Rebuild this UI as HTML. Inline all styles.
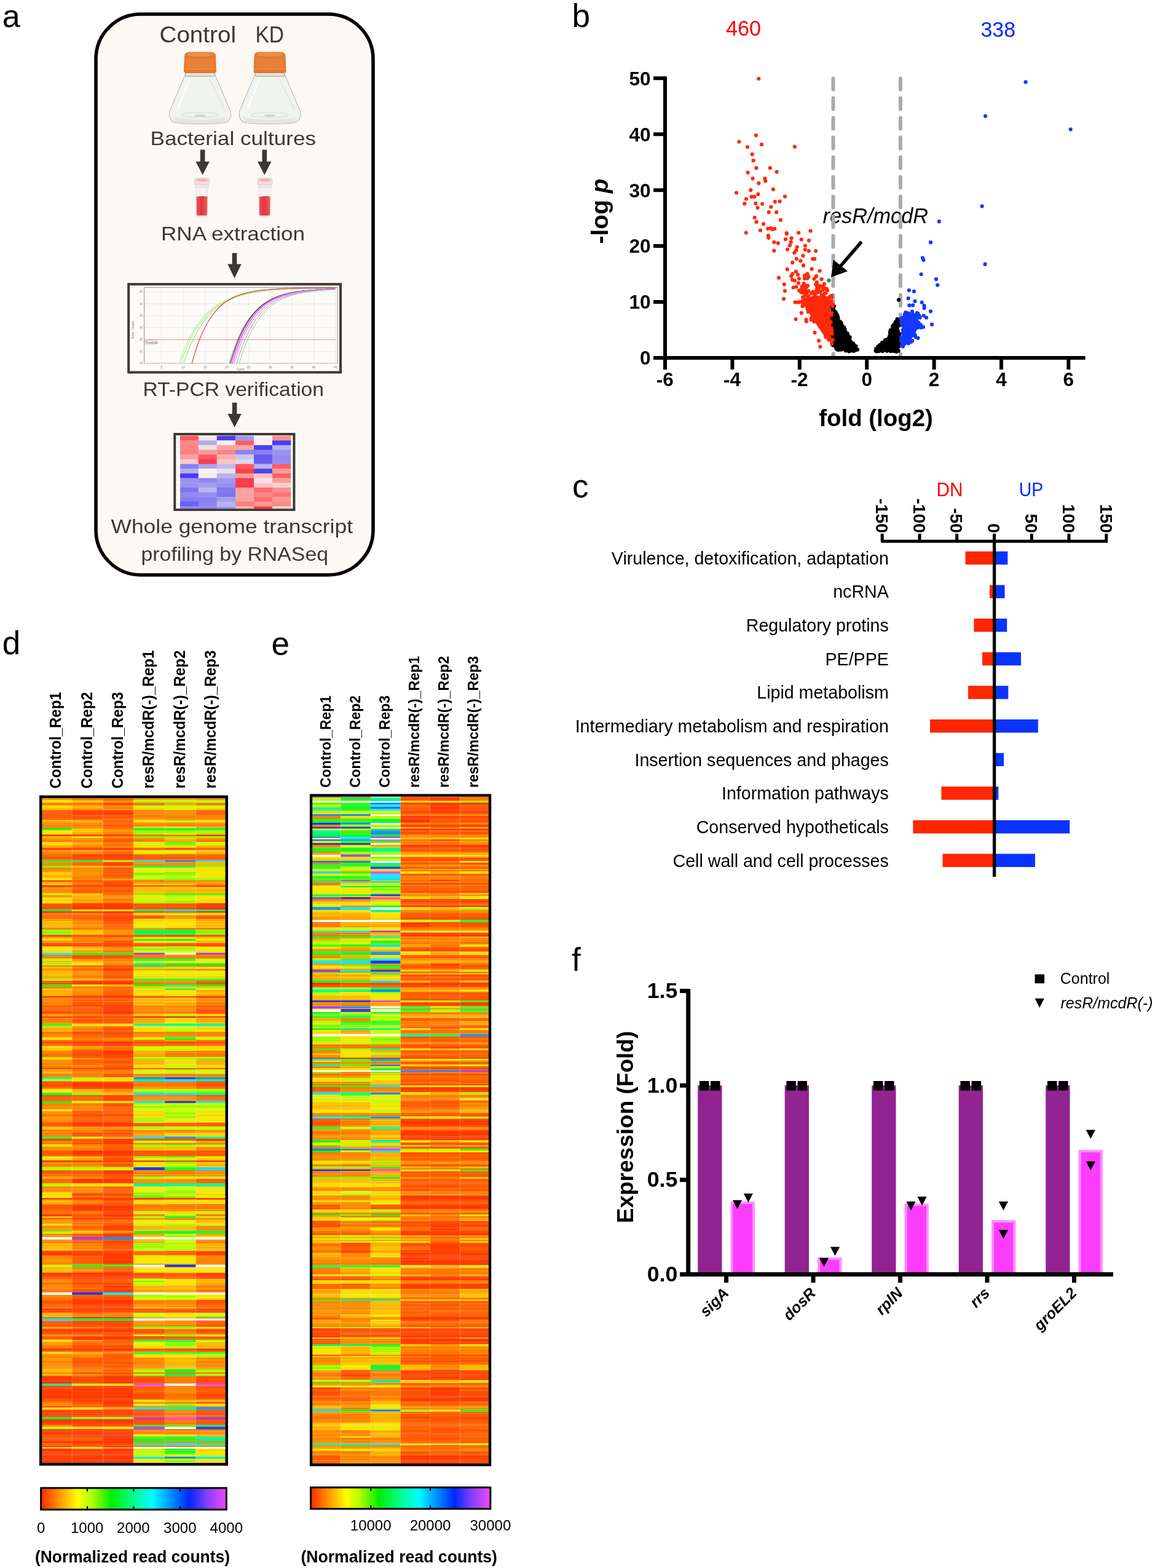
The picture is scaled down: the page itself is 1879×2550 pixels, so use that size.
<!DOCTYPE html><html><head><meta charset="utf-8"><title>Figure</title>
<style>html,body{margin:0;padding:0;background:#fff;}svg{display:block;}text{font-family:'Liberation Sans', Arial, sans-serif;}</style></head><body>
<svg width="1879" height="2550" viewBox="0 0 1879 2550">
<rect width="1879" height="2550" fill="#fff"/>
<text x="3.8" y="44" font-size="52" fill="#000">a</text>
<rect x="156" y="23" width="451" height="912" rx="73" ry="73" fill="#fcf8f3" stroke="#000" stroke-width="5.6"/>
<text x="259.5" y="69" font-size="36.5" fill="#3b3733" textLength="124.5" lengthAdjust="spacingAndGlyphs">Control</text>
<text x="415.5" y="69" font-size="36.5" fill="#3b3733" textLength="46.5" lengthAdjust="spacingAndGlyphs">KD</text>
<text x="244.5" y="236" font-size="30.5" fill="#3b3733" textLength="269.5" lengthAdjust="spacingAndGlyphs">Bacterial cultures</text>
<text x="262" y="390.6" font-size="30.5" fill="#3b3733" textLength="234" lengthAdjust="spacingAndGlyphs">RNA extraction</text>
<text x="232.5" y="644" font-size="30.5" fill="#3b3733" textLength="294.5" lengthAdjust="spacingAndGlyphs">RT-PCR verification</text>
<text x="180.5" y="867" font-size="31.5" fill="#3b3733" textLength="393.5" lengthAdjust="spacingAndGlyphs">Whole genome transcript</text>
<text x="229.5" y="912" font-size="31.5" fill="#3b3733" textLength="304.5" lengthAdjust="spacingAndGlyphs">profiling by RNASeq</text>
<path d="M325.8 243.6H333.4V262.7H340.8L329.6 284.5L318.4 262.7H325.8V262.7Z" fill="#3b3835"/>
<path d="M426.5 243.6H434.1V262.7H441.5L430.3 284.5L419.1 262.7H426.5V262.7Z" fill="#3b3835"/>
<path d="M377.7 411.5H385.3V429.5H392.7L381.5 452.5L370.3 429.5H377.7V429.5Z" fill="#3b3835"/>
<path d="M377.8 654.7H385.4V673H392.8L381.6 695L370.4 673H377.8V673Z" fill="#3b3835"/>
<g>
<path d="M301.5 121 L276 181 Q273.5 197 287.5 200 Q325.5 203 363.5 200 Q377.5 197 375 181 L349.5 121 Z" fill="#f1f3f1" stroke="#b4b8b4" stroke-width="1.1"/>
<path d="M281.5 190 Q325.5 199 369.5 190 L365.5 199 Q325.5 202 285.5 199 Z" fill="#e3e7e3"/>
<path d="M308.5 128 L289.5 176" stroke="#ffffff" stroke-width="2.5" opacity="0.9"/>
<path d="M340.5 128 L365.5 178" stroke="#d4d8d4" stroke-width="1" />
<ellipse cx="325.5" cy="187" rx="30" ry="4" fill="none" stroke="#d6dad6" stroke-width="1.2"/>
<ellipse cx="325.5" cy="188" rx="10" ry="2" fill="#d0d6d0"/>
<rect x="301.5" y="116" width="48" height="8" rx="2" fill="#e4e5e2" stroke="#8e8e8a" stroke-width="0.9"/>
<path d="M299 116 L300 91 Q300 84.5 308.5 84.5 L342.5 84.5 Q351 84.5 351 91 L352 116 Q352 119 347.5 119 L303.5 119 Q299 119 299 116 Z" fill="#e6782f"/>
<ellipse cx="325.5" cy="88.5" rx="22" ry="3.5" fill="#ee8c4a"/>
<line x1="304.5" y1="95" x2="304.5" y2="111" stroke="#f09a60" stroke-width="0.8" opacity="0.8"/>
<line x1="307.5" y1="95" x2="307.5" y2="111" stroke="#f09a60" stroke-width="0.8" opacity="0.8"/>
<line x1="310.5" y1="95" x2="310.5" y2="111" stroke="#f09a60" stroke-width="0.8" opacity="0.8"/>
<line x1="313.5" y1="95" x2="313.5" y2="111" stroke="#f09a60" stroke-width="0.8" opacity="0.8"/>
<line x1="316.5" y1="95" x2="316.5" y2="111" stroke="#f09a60" stroke-width="0.8" opacity="0.8"/>
<line x1="319.5" y1="95" x2="319.5" y2="111" stroke="#f09a60" stroke-width="0.8" opacity="0.8"/>
<line x1="322.5" y1="95" x2="322.5" y2="111" stroke="#f09a60" stroke-width="0.8" opacity="0.8"/>
<line x1="325.5" y1="95" x2="325.5" y2="111" stroke="#f09a60" stroke-width="0.8" opacity="0.8"/>
<line x1="328.5" y1="95" x2="328.5" y2="111" stroke="#f09a60" stroke-width="0.8" opacity="0.8"/>
<line x1="331.5" y1="95" x2="331.5" y2="111" stroke="#f09a60" stroke-width="0.8" opacity="0.8"/>
<line x1="334.5" y1="95" x2="334.5" y2="111" stroke="#f09a60" stroke-width="0.8" opacity="0.8"/>
<line x1="337.5" y1="95" x2="337.5" y2="111" stroke="#f09a60" stroke-width="0.8" opacity="0.8"/>
<line x1="340.5" y1="95" x2="340.5" y2="111" stroke="#f09a60" stroke-width="0.8" opacity="0.8"/>
<line x1="343.5" y1="95" x2="343.5" y2="111" stroke="#f09a60" stroke-width="0.8" opacity="0.8"/>
<line x1="346.5" y1="95" x2="346.5" y2="111" stroke="#f09a60" stroke-width="0.8" opacity="0.8"/>
<line x1="300.5" y1="112.5" x2="350.5" y2="112.5" stroke="#f4a470" stroke-width="0.8"/>
</g>
<g>
<path d="M415 121 L389.5 181 Q387 197 401 200 Q439 203 477 200 Q491 197 488.5 181 L463 121 Z" fill="#f1f3f1" stroke="#b4b8b4" stroke-width="1.1"/>
<path d="M395 190 Q439 199 483 190 L479 199 Q439 202 399 199 Z" fill="#e3e7e3"/>
<path d="M422 128 L403 176" stroke="#ffffff" stroke-width="2.5" opacity="0.9"/>
<path d="M454 128 L479 178" stroke="#d4d8d4" stroke-width="1" />
<ellipse cx="439" cy="187" rx="30" ry="4" fill="none" stroke="#d6dad6" stroke-width="1.2"/>
<ellipse cx="439" cy="188" rx="10" ry="2" fill="#d0d6d0"/>
<rect x="415" y="116" width="48" height="8" rx="2" fill="#e4e5e2" stroke="#8e8e8a" stroke-width="0.9"/>
<path d="M412.5 116 L413.5 91 Q413.5 84.5 422 84.5 L456 84.5 Q464.5 84.5 464.5 91 L465.5 116 Q465.5 119 461 119 L417 119 Q412.5 119 412.5 116 Z" fill="#e6782f"/>
<ellipse cx="439" cy="88.5" rx="22" ry="3.5" fill="#ee8c4a"/>
<line x1="418" y1="95" x2="418" y2="111" stroke="#f09a60" stroke-width="0.8" opacity="0.8"/>
<line x1="421" y1="95" x2="421" y2="111" stroke="#f09a60" stroke-width="0.8" opacity="0.8"/>
<line x1="424" y1="95" x2="424" y2="111" stroke="#f09a60" stroke-width="0.8" opacity="0.8"/>
<line x1="427" y1="95" x2="427" y2="111" stroke="#f09a60" stroke-width="0.8" opacity="0.8"/>
<line x1="430" y1="95" x2="430" y2="111" stroke="#f09a60" stroke-width="0.8" opacity="0.8"/>
<line x1="433" y1="95" x2="433" y2="111" stroke="#f09a60" stroke-width="0.8" opacity="0.8"/>
<line x1="436" y1="95" x2="436" y2="111" stroke="#f09a60" stroke-width="0.8" opacity="0.8"/>
<line x1="439" y1="95" x2="439" y2="111" stroke="#f09a60" stroke-width="0.8" opacity="0.8"/>
<line x1="442" y1="95" x2="442" y2="111" stroke="#f09a60" stroke-width="0.8" opacity="0.8"/>
<line x1="445" y1="95" x2="445" y2="111" stroke="#f09a60" stroke-width="0.8" opacity="0.8"/>
<line x1="448" y1="95" x2="448" y2="111" stroke="#f09a60" stroke-width="0.8" opacity="0.8"/>
<line x1="451" y1="95" x2="451" y2="111" stroke="#f09a60" stroke-width="0.8" opacity="0.8"/>
<line x1="454" y1="95" x2="454" y2="111" stroke="#f09a60" stroke-width="0.8" opacity="0.8"/>
<line x1="457" y1="95" x2="457" y2="111" stroke="#f09a60" stroke-width="0.8" opacity="0.8"/>
<line x1="460" y1="95" x2="460" y2="111" stroke="#f09a60" stroke-width="0.8" opacity="0.8"/>
<line x1="414" y1="112.5" x2="464" y2="112.5" stroke="#f4a470" stroke-width="0.8"/>
</g>
<path d="M318.8 303 H337.8 L337.3 350 Q337.3 352.5 334.8 352.5 H321.8 Q319.3 352.5 319.3 350 Z" fill="#f6f1f1" stroke="#e0d6d6" stroke-width="0.8"/>
<linearGradient id="tg328" x1="0" x2="1"><stop offset="0" stop-color="#ea5a46"/><stop offset="0.45" stop-color="#e03452"/><stop offset="0.75" stop-color="#e44a4a"/><stop offset="1" stop-color="#e46a4a"/></linearGradient>
<path d="M319.5 320 Q328.8 318.5 337.4 319.5 L337 349 Q336.8 350.5 334.8 350.5 H321.8 Q319.8 350.5 319.8 349 Z" fill="url(#tg328)"/>
<rect x="316.8" y="289.7" width="24" height="11" rx="3" fill="#efe0e0" stroke="#dcc4c6" stroke-width="0.8"/>
<ellipse cx="328.8" cy="293" rx="10" ry="2.2" fill="#eab2b6"/>
<rect x="317.8" y="300.5" width="22" height="4.5" fill="#eee6e6" stroke="#ddd0d0" stroke-width="0.6"/>
<path d="M421 303 H440 L439.5 350 Q439.5 352.5 437 352.5 H424 Q421.5 352.5 421.5 350 Z" fill="#f6f1f1" stroke="#e0d6d6" stroke-width="0.8"/>
<linearGradient id="tg431" x1="0" x2="1"><stop offset="0" stop-color="#ea5a46"/><stop offset="0.45" stop-color="#e03452"/><stop offset="0.75" stop-color="#e44a4a"/><stop offset="1" stop-color="#e46a4a"/></linearGradient>
<path d="M421.7 320 Q431 318.5 439.6 319.5 L439.2 349 Q439 350.5 437 350.5 H424 Q422 350.5 422 349 Z" fill="url(#tg431)"/>
<rect x="419" y="289.7" width="24" height="11" rx="3" fill="#efe0e0" stroke="#dcc4c6" stroke-width="0.8"/>
<ellipse cx="431" cy="293" rx="10" ry="2.2" fill="#eab2b6"/>
<rect x="420" y="300.5" width="22" height="4.5" fill="#eee6e6" stroke="#ddd0d0" stroke-width="0.6"/>
<rect x="209.2" y="462.2" width="344.8" height="143.3" fill="#fdfbf8" stroke="#3d3a36" stroke-width="4"/>
<rect x="234.6" y="467.3" width="314.5" height="123.4" fill="#fdfbf8" stroke="#8d8b88" stroke-width="1"/>
<line x1="262.7" y1="467.3" x2="262.7" y2="590.7" stroke="#e6e4e0" stroke-width="0.8"/>
<text x="262.7" y="599" font-size="5" fill="#777" text-anchor="middle">5</text>
<line x1="298.1" y1="467.3" x2="298.1" y2="590.7" stroke="#e6e4e0" stroke-width="0.8"/>
<text x="298.1" y="599" font-size="5" fill="#777" text-anchor="middle">10</text>
<line x1="333.5" y1="467.3" x2="333.5" y2="590.7" stroke="#e6e4e0" stroke-width="0.8"/>
<text x="333.5" y="599" font-size="5" fill="#777" text-anchor="middle">15</text>
<line x1="368.9" y1="467.3" x2="368.9" y2="590.7" stroke="#e6e4e0" stroke-width="0.8"/>
<text x="368.9" y="599" font-size="5" fill="#777" text-anchor="middle">20</text>
<line x1="404.3" y1="467.3" x2="404.3" y2="590.7" stroke="#e6e4e0" stroke-width="0.8"/>
<text x="404.3" y="599" font-size="5" fill="#777" text-anchor="middle">25</text>
<line x1="439.7" y1="467.3" x2="439.7" y2="590.7" stroke="#e6e4e0" stroke-width="0.8"/>
<text x="439.7" y="599" font-size="5" fill="#777" text-anchor="middle">30</text>
<line x1="475.1" y1="467.3" x2="475.1" y2="590.7" stroke="#e6e4e0" stroke-width="0.8"/>
<text x="475.1" y="599" font-size="5" fill="#777" text-anchor="middle">35</text>
<line x1="510.5" y1="467.3" x2="510.5" y2="590.7" stroke="#e6e4e0" stroke-width="0.8"/>
<text x="510.5" y="599" font-size="5" fill="#777" text-anchor="middle">40</text>
<line x1="545.9" y1="467.3" x2="545.9" y2="590.7" stroke="#e6e4e0" stroke-width="0.8"/>
<text x="545.9" y="599" font-size="5" fill="#777" text-anchor="middle">45</text>
<line x1="234.6" y1="474.9" x2="549.1" y2="474.9" stroke="#e6e4e0" stroke-width="0.8"/>
<text x="232" y="476.4" font-size="4.5" fill="#777" text-anchor="end">10</text>
<line x1="234.6" y1="494.2" x2="549.1" y2="494.2" stroke="#e6e4e0" stroke-width="0.8"/>
<text x="232" y="495.7" font-size="4.5" fill="#777" text-anchor="end">10</text>
<line x1="234.6" y1="513.5" x2="549.1" y2="513.5" stroke="#e6e4e0" stroke-width="0.8"/>
<text x="232" y="515" font-size="4.5" fill="#777" text-anchor="end">10</text>
<line x1="234.6" y1="532.8" x2="549.1" y2="532.8" stroke="#e6e4e0" stroke-width="0.8"/>
<text x="232" y="534.3" font-size="4.5" fill="#777" text-anchor="end">10</text>
<line x1="234.6" y1="552.1" x2="549.1" y2="552.1" stroke="#e6e4e0" stroke-width="0.8"/>
<text x="232" y="553.6" font-size="4.5" fill="#777" text-anchor="end">10</text>
<line x1="234.6" y1="571.4" x2="549.1" y2="571.4" stroke="#e6e4e0" stroke-width="0.8"/>
<text x="232" y="572.9" font-size="4.5" fill="#777" text-anchor="end">10</text>
<line x1="234.6" y1="590.7" x2="549.1" y2="590.7" stroke="#e6e4e0" stroke-width="0.8"/>
<text x="232" y="592.2" font-size="4.5" fill="#777" text-anchor="end">10</text>
<text x="385" y="602" font-size="5" fill="#777">Cycle</text>
<text transform="translate(218 536) rotate(-90)" font-size="5" fill="#777" text-anchor="middle">Norm. Fluoro.</text>
<line x1="234.6" y1="552.4" x2="546.1" y2="552.4" stroke="#f08a8a" stroke-width="0.9"/>
<rect x="235.5" y="553.5" width="19" height="6.5" fill="#f4f2ee" stroke="#bbb" stroke-width="0.5"/>
<text x="236.5" y="558.6" font-size="4.6" fill="#666">Threshold</text>
<path d="M290.7 590.7 L291 590.7 L292.8 585.6 L294.6 580.7 L296.3 576.1 L298.1 571.6 L299.9 567.3 L301.6 563.2 L303.4 559.2 L305.2 555.4 L306.9 551.8 L308.7 548.3 L310.5 545 L312.3 541.8 L314 538.8 L315.8 535.8 L317.6 533 L319.3 530.3 L321.1 527.7 L322.9 525.3 L324.6 522.9 L326.4 520.6 L328.2 518.5 L330 516.4 L331.7 514.4 L333.5 512.5 L335.3 510.6 L337 508.9 L338.8 507.2 L340.6 505.6 L342.4 504 L344.1 502.5 L345.9 501.1 L347.7 499.7 L349.4 498.4 L351.2 497.2 L353 496 L354.7 494.8 L356.5 493.7 L358.3 492.7 L360 491.7 L361.8 490.7 L363.6 489.8 L365.4 488.9 L367.1 488 L368.9 487.2 L370.7 486.4 L372.4 485.7 L374.2 484.9 L376 484.2 L377.8 483.6 L379.5 483 L381.3 482.3 L383.1 481.8 L384.8 481.2 L386.6 480.7 L388.4 480.2 L390.1 479.7 L391.9 479.2 L393.7 478.7 L395.4 478.3 L397.2 477.9 L399 477.5 L400.8 477.1 L402.5 476.7 L404.3 476.4 L406.1 476.1 L407.8 475.7 L409.6 475.4 L411.4 475.1 L413.1 474.9 L414.9 474.6 L416.7 474.3 L418.5 474.1 L420.2 473.8 L422 473.6 L423.8 473.4 L425.5 473.2 L427.3 473 L429.1 472.8 L430.9 472.6 L432.6 472.4 L434.4 472.3 L436.2 472.1 L437.9 471.9 L439.7 471.8 L441.5 471.6 L443.2 471.5 L445 471.4 L446.8 471.2 L448.5 471.1 L450.3 471 L452.1 470.9 L453.9 470.8 L455.6 470.7 L457.4 470.6 L459.2 470.5 L460.9 470.4 L462.7 470.3 L464.5 470.2 L466.2 470.2 L468 470.1 L469.8 470 L471.6 469.9 L473.3 469.9 L475.1 469.8 L476.9 469.7 L478.6 469.7 L480.4 469.6 L482.2 469.6 L483.9 469.5 L485.7 469.5 L487.5 469.4 L489.3 469.4 L491 469.3 L492.8 469.3 L494.6 469.3 L496.3 469.2 L498.1 469.2 L499.9 469.2 L501.6 469.1 L503.4 469.1 L505.2 469.1 L507 469 L508.7 469 L510.5 469 L512.3 468.9 L514 468.9 L515.8 468.9 L517.6 468.9 L519.3 468.8 L521.1 468.8 L522.9 468.8 L524.7 468.8 L526.4 468.8 L528.2 468.7 L530 468.7 L531.7 468.7 L533.5 468.7 L535.3 468.7 L537 468.7 L538.8 468.7 L540.6 468.6 L542.4 468.6 L544.1 468.6 L545.9 468.6" fill="none" stroke="#b6f0a0" stroke-width="1.1"/>
<path d="M293.5 590.7 L293.9 590.7 L295.6 585.6 L297.4 580.7 L299.2 576.1 L300.9 571.6 L302.7 567.3 L304.5 563.2 L306.2 559.2 L308 555.4 L309.8 551.8 L311.6 548.3 L313.3 545 L315.1 541.8 L316.9 538.8 L318.6 535.8 L320.4 533 L322.2 530.3 L323.9 527.7 L325.7 525.3 L327.5 522.9 L329.3 520.6 L331 518.5 L332.8 516.4 L334.6 514.4 L336.3 512.5 L338.1 510.6 L339.9 508.9 L341.6 507.2 L343.4 505.6 L345.2 504 L347 502.5 L348.7 501.1 L350.5 499.7 L352.3 498.4 L354 497.2 L355.8 496 L357.6 494.8 L359.3 493.7 L361.1 492.7 L362.9 491.7 L364.7 490.7 L366.4 489.8 L368.2 488.9 L370 488 L371.7 487.2 L373.5 486.4 L375.3 485.7 L377 484.9 L378.8 484.2 L380.6 483.6 L382.4 483 L384.1 482.3 L385.9 481.8 L387.7 481.2 L389.4 480.7 L391.2 480.2 L393 479.7 L394.7 479.2 L396.5 478.7 L398.3 478.3 L400.1 477.9 L401.8 477.5 L403.6 477.1 L405.4 476.7 L407.1 476.4 L408.9 476.1 L410.7 475.7 L412.4 475.4 L414.2 475.1 L416 474.9 L417.8 474.6 L419.5 474.3 L421.3 474.1 L423.1 473.8 L424.8 473.6 L426.6 473.4 L428.4 473.2 L430.1 473 L431.9 472.8 L433.7 472.6 L435.5 472.4 L437.2 472.3 L439 472.1 L440.8 471.9 L442.5 471.8 L444.3 471.6 L446.1 471.5 L447.8 471.4 L449.6 471.2 L451.4 471.1 L453.2 471 L454.9 470.9 L456.7 470.8 L458.5 470.7 L460.2 470.6 L462 470.5 L463.8 470.4 L465.5 470.3 L467.3 470.2 L469.1 470.2 L470.9 470.1 L472.6 470 L474.4 469.9 L476.2 469.9 L477.9 469.8 L479.7 469.7 L481.5 469.7 L483.2 469.6 L485 469.6 L486.8 469.5 L488.6 469.5 L490.3 469.4 L492.1 469.4 L493.9 469.3 L495.6 469.3 L497.4 469.3 L499.2 469.2 L500.9 469.2 L502.7 469.2 L504.5 469.1 L506.3 469.1 L508 469.1 L509.8 469 L511.6 469 L513.3 469 L515.1 468.9 L516.9 468.9 L518.6 468.9 L520.4 468.9 L522.2 468.8 L524 468.8 L525.7 468.8 L527.5 468.8 L529.3 468.8 L531 468.7 L532.8 468.7 L534.6 468.7 L536.3 468.7 L538.1 468.7 L539.9 468.7 L541.7 468.7 L543.4 468.6 L545.2 468.6" fill="none" stroke="#a4e88c" stroke-width="1.1"/>
<path d="M298.5 590.7 L298.8 590.7 L300.6 585.5 L302.3 580.4 L304.1 575.6 L305.9 571.1 L307.7 566.7 L309.4 562.4 L311.2 558.4 L313 554.6 L314.7 550.9 L316.5 547.3 L318.3 544 L320 540.7 L321.8 537.6 L323.6 534.7 L325.4 531.8 L327.1 529.1 L328.9 526.5 L330.7 524 L332.4 521.6 L334.2 519.3 L336 517.2 L337.7 515.1 L339.5 513.1 L341.3 511.2 L343.1 509.3 L344.8 507.6 L346.6 505.9 L348.4 504.3 L350.1 502.7 L351.9 501.3 L353.7 499.9 L355.4 498.5 L357.2 497.2 L359 496 L360.8 494.8 L362.5 493.7 L364.3 492.6 L366.1 491.5 L367.8 490.6 L369.6 489.6 L371.4 488.7 L373.1 487.8 L374.9 487 L376.7 486.2 L378.5 485.4 L380.2 484.7 L382 484 L383.8 483.3 L385.5 482.7 L387.3 482.1 L389.1 481.5 L390.8 480.9 L392.6 480.4 L394.4 479.9 L396.2 479.4 L397.9 478.9 L399.7 478.4 L401.5 478 L403.2 477.6 L405 477.2 L406.8 476.8 L408.5 476.5 L410.3 476.1 L412.1 475.8 L413.9 475.5 L415.6 475.2 L417.4 474.9 L419.2 474.6 L420.9 474.3 L422.7 474.1 L424.5 473.8 L426.2 473.6 L428 473.4 L429.8 473.1 L431.6 472.9 L433.3 472.7 L435.1 472.6 L436.9 472.4 L438.6 472.2 L440.4 472 L442.2 471.9 L443.9 471.7 L445.7 471.6 L447.5 471.4 L449.3 471.3 L451 471.2 L452.8 471.1 L454.6 470.9 L456.3 470.8 L458.1 470.7 L459.9 470.6 L461.6 470.5 L463.4 470.4 L465.2 470.3 L467 470.3 L468.7 470.2 L470.5 470.1 L472.3 470 L474 469.9 L475.8 469.9 L477.6 469.8 L479.3 469.7 L481.1 469.7 L482.9 469.6 L484.7 469.6 L486.4 469.5 L488.2 469.5 L490 469.4 L491.7 469.4 L493.5 469.3 L495.3 469.3 L497 469.2 L498.8 469.2 L500.6 469.2 L502.4 469.1 L504.1 469.1 L505.9 469.1 L507.7 469 L509.4 469 L511.2 469 L513 469 L514.7 468.9 L516.5 468.9 L518.3 468.9 L520.1 468.9 L521.8 468.8 L523.6 468.8 L525.4 468.8 L527.1 468.8 L528.9 468.8 L530.7 468.7 L532.4 468.7 L534.2 468.7 L536 468.7 L537.8 468.7 L539.5 468.7 L541.3 468.6 L543.1 468.6 L544.8 468.6" fill="none" stroke="#9ee486" stroke-width="1.2"/>
<path d="M311.9 590.7 L312.3 590.7 L314 584.3 L315.8 578.2 L317.6 572.4 L319.3 567 L321.1 561.8 L322.9 556.9 L324.6 552.2 L326.4 547.8 L328.2 543.6 L330 539.7 L331.7 535.9 L333.5 532.4 L335.3 529 L337 525.8 L338.8 522.8 L340.6 519.9 L342.4 517.2 L344.1 514.6 L345.9 512.2 L347.7 509.8 L349.4 507.7 L351.2 505.6 L353 503.6 L354.7 501.7 L356.5 500 L358.3 498.3 L360 496.7 L361.8 495.2 L363.6 493.8 L365.4 492.4 L367.1 491.1 L368.9 489.9 L370.7 488.8 L372.4 487.7 L374.2 486.7 L376 485.7 L377.8 484.8 L379.5 483.9 L381.3 483 L383.1 482.3 L384.8 481.5 L386.6 480.8 L388.4 480.1 L390.1 479.5 L391.9 478.9 L393.7 478.3 L395.4 477.8 L397.2 477.3 L399 476.8 L400.8 476.3 L402.5 475.9 L404.3 475.5 L406.1 475.1 L407.8 474.7 L409.6 474.3 L411.4 474 L413.1 473.7 L414.9 473.4 L416.7 473.1 L418.5 472.8 L420.2 472.6 L422 472.3 L423.8 472.1 L425.5 471.9 L427.3 471.7 L429.1 471.5 L430.9 471.3 L432.6 471.1 L434.4 471 L436.2 470.8 L437.9 470.7 L439.7 470.5 L441.5 470.4 L443.2 470.3 L445 470.1 L446.8 470 L448.5 469.9 L450.3 469.8 L452.1 469.7 L453.9 469.6 L455.6 469.5 L457.4 469.4 L459.2 469.4 L460.9 469.3 L462.7 469.2 L464.5 469.2 L466.2 469.1 L468 469 L469.8 469 L471.6 468.9 L473.3 468.9 L475.1 468.8 L476.9 468.8 L478.6 468.7 L480.4 468.7 L482.2 468.7 L483.9 468.6 L485.7 468.6 L487.5 468.6 L489.3 468.5 L491 468.5 L492.8 468.5 L494.6 468.4 L496.3 468.4 L498.1 468.4 L499.9 468.4 L501.6 468.3 L503.4 468.3 L505.2 468.3 L507 468.3 L508.7 468.3 L510.5 468.3 L512.3 468.2 L514 468.2 L515.8 468.2 L517.6 468.2 L519.3 468.2 L521.1 468.2 L522.9 468.2 L524.7 468.1 L526.4 468.1 L528.2 468.1 L530 468.1 L531.7 468.1 L533.5 468.1 L535.3 468.1 L537 468.1 L538.8 468.1 L540.6 468.1 L542.4 468.1 L544.1 468.1 L545.9 468.1" fill="none" stroke="#f03c3c" stroke-width="1.2"/>
<path d="M372.8 590.7 L373.1 590.7 L374.9 584.8 L376.7 579.1 L378.5 573.8 L380.2 568.7 L382 563.8 L383.8 559.2 L385.5 554.8 L387.3 550.6 L389.1 546.6 L390.8 542.9 L392.6 539.3 L394.4 535.8 L396.2 532.6 L397.9 529.5 L399.7 526.5 L401.5 523.7 L403.2 521.1 L405 518.5 L406.8 516.1 L408.5 513.8 L410.3 511.7 L412.1 509.6 L413.9 507.6 L415.6 505.7 L417.4 503.9 L419.2 502.2 L420.9 500.6 L422.7 499.1 L424.5 497.6 L426.2 496.2 L428 494.9 L429.8 493.7 L431.6 492.5 L433.3 491.3 L435.1 490.2 L436.9 489.2 L438.6 488.2 L440.4 487.3 L442.2 486.4 L443.9 485.6 L445.7 484.8 L447.5 484 L449.3 483.3 L451 482.6 L452.8 481.9 L454.6 481.3 L456.3 480.7 L458.1 480.1 L459.9 479.6 L461.6 479.1 L463.4 478.6 L465.2 478.1 L467 477.7 L468.7 477.3 L470.5 476.9 L472.3 476.5 L474 476.1 L475.8 475.8 L477.6 475.5 L479.3 475.2 L481.1 474.9 L482.9 474.6 L484.7 474.3 L486.4 474.1 L488.2 473.8 L490 473.6 L491.7 473.4 L493.5 473.2 L495.3 473 L497 472.8 L498.8 472.6 L500.6 472.4 L502.4 472.3 L504.1 472.1 L505.9 472 L507.7 471.8 L509.4 471.7 L511.2 471.6 L513 471.5 L514.7 471.3 L516.5 471.2 L518.3 471.1 L520.1 471 L521.8 470.9 L523.6 470.8 L525.4 470.8 L527.1 470.7 L528.9 470.6 L530.7 470.5 L532.4 470.5 L534.2 470.4 L536 470.3 L537.8 470.3 L539.5 470.2 L541.3 470.2 L543.1 470.1 L544.8 470.1" fill="none" stroke="#777777" stroke-width="1"/>
<path d="M374.9 590.7 L375.3 590.7 L377 584.6 L378.8 578.9 L380.6 573.4 L382.4 568.2 L384.1 563.2 L385.9 558.5 L387.7 554 L389.4 549.8 L391.2 545.8 L393 541.9 L394.7 538.3 L396.5 534.8 L398.3 531.6 L400.1 528.4 L401.8 525.5 L403.6 522.7 L405.4 520 L407.1 517.4 L408.9 515 L410.7 512.7 L412.4 510.6 L414.2 508.5 L416 506.5 L417.8 504.6 L419.5 502.9 L421.3 501.2 L423.1 499.6 L424.8 498.1 L426.6 496.6 L428.4 495.2 L430.1 493.9 L431.9 492.7 L433.7 491.5 L435.5 490.4 L437.2 489.3 L439 488.3 L440.8 487.4 L442.5 486.5 L444.3 485.6 L446.1 484.8 L447.8 484 L449.6 483.2 L451.4 482.5 L453.2 481.9 L454.9 481.2 L456.7 480.6 L458.5 480 L460.2 479.5 L462 479 L463.8 478.5 L465.5 478 L467.3 477.6 L469.1 477.1 L470.9 476.7 L472.6 476.4 L474.4 476 L476.2 475.7 L477.9 475.3 L479.7 475 L481.5 474.7 L483.2 474.4 L485 474.2 L486.8 473.9 L488.6 473.7 L490.3 473.5 L492.1 473.2 L493.9 473 L495.6 472.8 L497.4 472.7 L499.2 472.5 L500.9 472.3 L502.7 472.1 L504.5 472 L506.3 471.9 L508 471.7 L509.8 471.6 L511.6 471.5 L513.3 471.3 L515.1 471.2 L516.9 471.1 L518.6 471 L520.4 470.9 L522.2 470.8 L524 470.8 L525.7 470.7 L527.5 470.6 L529.3 470.5 L531 470.4 L532.8 470.4 L534.6 470.3 L536.3 470.3 L538.1 470.2 L539.9 470.1 L541.7 470.1 L543.4 470 L545.2 470" fill="none" stroke="#3c3c3c" stroke-width="1.3"/>
<path d="M377.8 590.7 L378.1 590.7 L379.9 584.6 L381.6 578.9 L383.4 573.4 L385.2 568.2 L387 563.2 L388.7 558.5 L390.5 554 L392.3 549.8 L394 545.8 L395.8 541.9 L397.6 538.3 L399.3 534.8 L401.1 531.6 L402.9 528.4 L404.7 525.5 L406.4 522.7 L408.2 520 L410 517.4 L411.7 515 L413.5 512.7 L415.3 510.6 L417 508.5 L418.8 506.5 L420.6 504.6 L422.4 502.9 L424.1 501.2 L425.9 499.6 L427.7 498.1 L429.4 496.6 L431.2 495.2 L433 493.9 L434.7 492.7 L436.5 491.5 L438.3 490.4 L440.1 489.3 L441.8 488.3 L443.6 487.4 L445.4 486.5 L447.1 485.6 L448.9 484.8 L450.7 484 L452.4 483.2 L454.2 482.5 L456 481.9 L457.8 481.2 L459.5 480.6 L461.3 480 L463.1 479.5 L464.8 479 L466.6 478.5 L468.4 478 L470.1 477.6 L471.9 477.1 L473.7 476.7 L475.5 476.4 L477.2 476 L479 475.7 L480.8 475.3 L482.5 475 L484.3 474.7 L486.1 474.4 L487.8 474.2 L489.6 473.9 L491.4 473.7 L493.2 473.5 L494.9 473.2 L496.7 473 L498.5 472.8 L500.2 472.7 L502 472.5 L503.8 472.3 L505.5 472.1 L507.3 472 L509.1 471.9 L510.9 471.7 L512.6 471.6 L514.4 471.5 L516.2 471.3 L517.9 471.2 L519.7 471.1 L521.5 471 L523.2 470.9 L525 470.8 L526.8 470.8 L528.6 470.7 L530.3 470.6 L532.1 470.5 L533.9 470.4 L535.6 470.4 L537.4 470.3 L539.2 470.3 L540.9 470.2 L542.7 470.1 L544.5 470.1" fill="none" stroke="#ff4cff" stroke-width="1.6"/>
<path d="M380.6 590.7 L380.9 590.7 L382.7 584.8 L384.5 579.1 L386.2 573.8 L388 568.7 L389.8 563.8 L391.6 559.2 L393.3 554.8 L395.1 550.6 L396.9 546.6 L398.6 542.9 L400.4 539.3 L402.2 535.8 L403.9 532.6 L405.7 529.5 L407.5 526.5 L409.3 523.7 L411 521.1 L412.8 518.5 L414.6 516.1 L416.3 513.8 L418.1 511.7 L419.9 509.6 L421.6 507.6 L423.4 505.7 L425.2 503.9 L427 502.2 L428.7 500.6 L430.5 499.1 L432.3 497.6 L434 496.2 L435.8 494.9 L437.6 493.7 L439.3 492.5 L441.1 491.3 L442.9 490.2 L444.7 489.2 L446.4 488.2 L448.2 487.3 L450 486.4 L451.7 485.6 L453.5 484.8 L455.3 484 L457 483.3 L458.8 482.6 L460.6 481.9 L462.4 481.3 L464.1 480.7 L465.9 480.1 L467.7 479.6 L469.4 479.1 L471.2 478.6 L473 478.1 L474.7 477.7 L476.5 477.3 L478.3 476.9 L480.1 476.5 L481.8 476.1 L483.6 475.8 L485.4 475.5 L487.1 475.2 L488.9 474.9 L490.7 474.6 L492.4 474.3 L494.2 474.1 L496 473.8 L497.8 473.6 L499.5 473.4 L501.3 473.2 L503.1 473 L504.8 472.8 L506.6 472.6 L508.4 472.4 L510.1 472.3 L511.9 472.1 L513.7 472 L515.5 471.8 L517.2 471.7 L519 471.6 L520.8 471.5 L522.5 471.3 L524.3 471.2 L526.1 471.1 L527.8 471 L529.6 470.9 L531.4 470.8 L533.2 470.8 L534.9 470.7 L536.7 470.6 L538.5 470.5 L540.2 470.5 L542 470.4 L543.8 470.3 L545.5 470.3" fill="none" stroke="#f07cf0" stroke-width="1.1"/>
<path d="M384.8 590.7 L385.2 590.7 L387 584.8 L388.7 579.2 L390.5 573.8 L392.3 568.7 L394 563.9 L395.8 559.3 L397.6 554.9 L399.3 550.7 L401.1 546.8 L402.9 543 L404.7 539.4 L406.4 536 L408.2 532.8 L410 529.7 L411.7 526.7 L413.5 524 L415.3 521.3 L417 518.8 L418.8 516.4 L420.6 514.1 L422.4 511.9 L424.1 509.8 L425.9 507.9 L427.7 506 L429.4 504.2 L431.2 502.5 L433 500.9 L434.7 499.4 L436.5 497.9 L438.3 496.5 L440.1 495.2 L441.8 494 L443.6 492.8 L445.4 491.6 L447.1 490.6 L448.9 489.5 L450.7 488.6 L452.4 487.6 L454.2 486.7 L456 485.9 L457.8 485.1 L459.5 484.3 L461.3 483.6 L463.1 482.9 L464.8 482.3 L466.6 481.6 L468.4 481.1 L470.1 480.5 L471.9 480 L473.7 479.4 L475.5 479 L477.2 478.5 L479 478.1 L480.8 477.6 L482.5 477.2 L484.3 476.9 L486.1 476.5 L487.8 476.2 L489.6 475.8 L491.4 475.5 L493.2 475.2 L494.9 475 L496.7 474.7 L498.5 474.4 L500.2 474.2 L502 474 L503.8 473.7 L505.5 473.5 L507.3 473.3 L509.1 473.2 L510.9 473 L512.6 472.8 L514.4 472.6 L516.2 472.5 L517.9 472.3 L519.7 472.2 L521.5 472.1 L523.2 471.9 L525 471.8 L526.8 471.7 L528.6 471.6 L530.3 471.5 L532.1 471.4 L533.9 471.3 L535.6 471.2 L537.4 471.1 L539.2 471.1 L540.9 471 L542.7 470.9 L544.5 470.8" fill="none" stroke="#7fb2b2" stroke-width="1"/>
<path d="M389.1 590.7 L389.4 590.7 L391.2 584.8 L393 579.2 L394.7 573.8 L396.5 568.7 L398.3 563.9 L400.1 559.3 L401.8 554.9 L403.6 550.7 L405.4 546.8 L407.1 543 L408.9 539.4 L410.7 536 L412.4 532.8 L414.2 529.7 L416 526.7 L417.8 524 L419.5 521.3 L421.3 518.8 L423.1 516.4 L424.8 514.1 L426.6 511.9 L428.4 509.8 L430.1 507.9 L431.9 506 L433.7 504.2 L435.5 502.5 L437.2 500.9 L439 499.4 L440.8 497.9 L442.5 496.5 L444.3 495.2 L446.1 494 L447.8 492.8 L449.6 491.6 L451.4 490.6 L453.2 489.5 L454.9 488.6 L456.7 487.6 L458.5 486.7 L460.2 485.9 L462 485.1 L463.8 484.3 L465.5 483.6 L467.3 482.9 L469.1 482.3 L470.9 481.6 L472.6 481.1 L474.4 480.5 L476.2 480 L477.9 479.4 L479.7 479 L481.5 478.5 L483.2 478.1 L485 477.6 L486.8 477.2 L488.6 476.9 L490.3 476.5 L492.1 476.2 L493.9 475.8 L495.6 475.5 L497.4 475.2 L499.2 475 L500.9 474.7 L502.7 474.4 L504.5 474.2 L506.3 474 L508 473.7 L509.8 473.5 L511.6 473.3 L513.3 473.2 L515.1 473 L516.9 472.8 L518.6 472.6 L520.4 472.5 L522.2 472.3 L524 472.2 L525.7 472.1 L527.5 471.9 L529.3 471.8 L531 471.7 L532.8 471.6 L534.6 471.5 L536.3 471.4 L538.1 471.3 L539.9 471.2 L541.7 471.1 L543.4 471.1 L545.2 471" fill="none" stroke="#98c4c4" stroke-width="1"/>
<rect x="284.3" y="706" width="194.1" height="123" fill="#ffffff" stroke="#3d3a36" stroke-width="4"/>
<rect x="293" y="708.6" width="30.1" height="8" fill="#ff5a64"/>
<rect x="322.8" y="708.6" width="30.2" height="8" fill="#f8e8e8"/>
<rect x="352.7" y="708.6" width="30.6" height="8" fill="#4b3ff0"/>
<rect x="383" y="708.6" width="30.3" height="8" fill="#9f98f0"/>
<rect x="413" y="708.6" width="30.3" height="8" fill="#f8f0f0"/>
<rect x="443" y="708.6" width="30.3" height="8" fill="#fa9090"/>
<rect x="293" y="716.3" width="30.1" height="8" fill="#fb8888"/>
<rect x="322.8" y="716.3" width="30.2" height="8" fill="#b0acf0"/>
<rect x="352.7" y="716.3" width="30.6" height="8" fill="#f5eef0"/>
<rect x="383" y="716.3" width="30.3" height="8" fill="#fd5f62"/>
<rect x="413" y="716.3" width="30.3" height="8" fill="#fbeeed"/>
<rect x="443" y="716.3" width="30.3" height="8" fill="#4a3cf0"/>
<rect x="293" y="723.9" width="30.1" height="8" fill="#fb8585"/>
<rect x="322.8" y="723.9" width="30.2" height="8" fill="#fbe0e0"/>
<rect x="352.7" y="723.9" width="30.6" height="8" fill="#f9a4a4"/>
<rect x="383" y="723.9" width="30.3" height="8" fill="#f9a6a6"/>
<rect x="413" y="723.9" width="30.3" height="8" fill="#4a40f0"/>
<rect x="443" y="723.9" width="30.3" height="8" fill="#b4b0f0"/>
<rect x="293" y="731.6" width="30.1" height="8" fill="#fb7f80"/>
<rect x="322.8" y="731.6" width="30.2" height="8" fill="#f99c9c"/>
<rect x="352.7" y="731.6" width="30.6" height="8" fill="#fa8484"/>
<rect x="383" y="731.6" width="30.3" height="8" fill="#8c85f0"/>
<rect x="413" y="731.6" width="30.3" height="8" fill="#8a82f0"/>
<rect x="443" y="731.6" width="30.3" height="8" fill="#9892f0"/>
<rect x="293" y="739.2" width="30.1" height="8" fill="#faa0a0"/>
<rect x="322.8" y="739.2" width="30.2" height="8" fill="#fc5a60"/>
<rect x="352.7" y="739.2" width="30.6" height="8" fill="#fab0b0"/>
<rect x="383" y="739.2" width="30.3" height="8" fill="#cbc6ee"/>
<rect x="413" y="739.2" width="30.3" height="8" fill="#6458f0"/>
<rect x="443" y="739.2" width="30.3" height="8" fill="#948df0"/>
<rect x="293" y="746.9" width="30.1" height="8" fill="#fbcaca"/>
<rect x="322.8" y="746.9" width="30.2" height="8" fill="#fd3c4a"/>
<rect x="352.7" y="746.9" width="30.6" height="8" fill="#f9c4c4"/>
<rect x="383" y="746.9" width="30.3" height="8" fill="#dcd8f0"/>
<rect x="413" y="746.9" width="30.3" height="8" fill="#6a5ef0"/>
<rect x="443" y="746.9" width="30.3" height="8" fill="#958ef0"/>
<rect x="293" y="754.6" width="30.1" height="8" fill="#8680f0"/>
<rect x="322.8" y="754.6" width="30.2" height="8" fill="#aaa5f0"/>
<rect x="352.7" y="754.6" width="30.6" height="8" fill="#c0bcf0"/>
<rect x="383" y="754.6" width="30.3" height="8" fill="#fd5a60"/>
<rect x="413" y="754.6" width="30.3" height="8" fill="#bab5f0"/>
<rect x="443" y="754.6" width="30.3" height="8" fill="#fb5c5e"/>
<rect x="293" y="762.2" width="30.1" height="8" fill="#b5b0f0"/>
<rect x="322.8" y="762.2" width="30.2" height="8" fill="#f8f4f4"/>
<rect x="352.7" y="762.2" width="30.6" height="8" fill="#e5e2f0"/>
<rect x="383" y="762.2" width="30.3" height="8" fill="#fd3e4a"/>
<rect x="413" y="762.2" width="30.3" height="8" fill="#5040f0"/>
<rect x="443" y="762.2" width="30.3" height="8" fill="#fa9a9a"/>
<rect x="293" y="769.9" width="30.1" height="8" fill="#4c3cf0"/>
<rect x="322.8" y="769.9" width="30.2" height="8" fill="#f3eef0"/>
<rect x="352.7" y="769.9" width="30.6" height="8" fill="#b7b2f0"/>
<rect x="383" y="769.9" width="30.3" height="8" fill="#f9a0a0"/>
<rect x="413" y="769.9" width="30.3" height="8" fill="#fac0c0"/>
<rect x="443" y="769.9" width="30.3" height="8" fill="#fb6066"/>
<rect x="293" y="777.5" width="30.1" height="8" fill="#9a94f0"/>
<rect x="322.8" y="777.5" width="30.2" height="8" fill="#8f88f0"/>
<rect x="352.7" y="777.5" width="30.6" height="8" fill="#9f99f0"/>
<rect x="383" y="777.5" width="30.3" height="8" fill="#fd3c48"/>
<rect x="413" y="777.5" width="30.3" height="8" fill="#fbe0e0"/>
<rect x="443" y="777.5" width="30.3" height="8" fill="#fa9c9c"/>
<rect x="293" y="785.2" width="30.1" height="8" fill="#9993f0"/>
<rect x="322.8" y="785.2" width="30.2" height="8" fill="#a39df0"/>
<rect x="352.7" y="785.2" width="30.6" height="8" fill="#9690f0"/>
<rect x="383" y="785.2" width="30.3" height="8" fill="#fd3a46"/>
<rect x="413" y="785.2" width="30.3" height="8" fill="#fac5c5"/>
<rect x="443" y="785.2" width="30.3" height="8" fill="#fbd0d0"/>
<rect x="293" y="792.9" width="30.1" height="8" fill="#7c74f0"/>
<rect x="322.8" y="792.9" width="30.2" height="8" fill="#bcb6f0"/>
<rect x="352.7" y="792.9" width="30.6" height="8" fill="#8078f0"/>
<rect x="383" y="792.9" width="30.3" height="8" fill="#f9a4a4"/>
<rect x="413" y="792.9" width="30.3" height="8" fill="#fb6c6e"/>
<rect x="443" y="792.9" width="30.3" height="8" fill="#fa9090"/>
<rect x="293" y="800.5" width="30.1" height="8" fill="#918af0"/>
<rect x="322.8" y="800.5" width="30.2" height="8" fill="#958ff0"/>
<rect x="352.7" y="800.5" width="30.6" height="8" fill="#7d75f0"/>
<rect x="383" y="800.5" width="30.3" height="8" fill="#f9a2a2"/>
<rect x="413" y="800.5" width="30.3" height="8" fill="#fb8486"/>
<rect x="443" y="800.5" width="30.3" height="8" fill="#fb7676"/>
<rect x="293" y="808.2" width="30.1" height="8" fill="#847cf0"/>
<rect x="322.8" y="808.2" width="30.2" height="8" fill="#857ef0"/>
<rect x="352.7" y="808.2" width="30.6" height="8" fill="#a39ef0"/>
<rect x="383" y="808.2" width="30.3" height="8" fill="#f9a0a0"/>
<rect x="413" y="808.2" width="30.3" height="8" fill="#fb6e70"/>
<rect x="443" y="808.2" width="30.3" height="8" fill="#fa9595"/>
<rect x="293" y="815.8" width="30.1" height="8" fill="#6b60f0"/>
<rect x="322.8" y="815.8" width="30.2" height="8" fill="#8e87f0"/>
<rect x="352.7" y="815.8" width="30.6" height="8" fill="#b9b4f0"/>
<rect x="383" y="815.8" width="30.3" height="8" fill="#f98080"/>
<rect x="413" y="815.8" width="30.3" height="8" fill="#fa9898"/>
<rect x="443" y="815.8" width="30.3" height="8" fill="#fa8a8a"/>
<rect x="293" y="823.5" width="30.1" height="3.8" fill="#8e87f0"/>
<rect x="322.8" y="823.5" width="30.2" height="3.8" fill="#8e87f0"/>
<rect x="352.7" y="823.5" width="30.6" height="3.8" fill="#9e98f0"/>
<rect x="383" y="823.5" width="30.3" height="3.8" fill="#fbb4b4"/>
<rect x="413" y="823.5" width="30.3" height="3.8" fill="#fd3c46"/>
<rect x="443" y="823.5" width="30.3" height="3.8" fill="#fbd0d0"/>
<line x1="288" y1="712.4" x2="290" y2="712.4" stroke="#bbb" stroke-width="0.6"/>
<line x1="288" y1="720.1" x2="290" y2="720.1" stroke="#bbb" stroke-width="0.6"/>
<line x1="288" y1="727.7" x2="290" y2="727.7" stroke="#bbb" stroke-width="0.6"/>
<line x1="288" y1="735.4" x2="290" y2="735.4" stroke="#bbb" stroke-width="0.6"/>
<line x1="288" y1="743" x2="290" y2="743" stroke="#bbb" stroke-width="0.6"/>
<line x1="288" y1="750.7" x2="290" y2="750.7" stroke="#bbb" stroke-width="0.6"/>
<line x1="288" y1="758.4" x2="290" y2="758.4" stroke="#bbb" stroke-width="0.6"/>
<line x1="288" y1="766" x2="290" y2="766" stroke="#bbb" stroke-width="0.6"/>
<line x1="288" y1="773.7" x2="290" y2="773.7" stroke="#bbb" stroke-width="0.6"/>
<line x1="288" y1="781.3" x2="290" y2="781.3" stroke="#bbb" stroke-width="0.6"/>
<line x1="288" y1="789" x2="290" y2="789" stroke="#bbb" stroke-width="0.6"/>
<line x1="288" y1="796.7" x2="290" y2="796.7" stroke="#bbb" stroke-width="0.6"/>
<line x1="288" y1="804.3" x2="290" y2="804.3" stroke="#bbb" stroke-width="0.6"/>
<line x1="288" y1="812" x2="290" y2="812" stroke="#bbb" stroke-width="0.6"/>
<line x1="288" y1="819.6" x2="290" y2="819.6" stroke="#bbb" stroke-width="0.6"/>
<line x1="288" y1="827.3" x2="290" y2="827.3" stroke="#bbb" stroke-width="0.6"/>
<text x="930.5" y="44" font-size="53" fill="#000">b</text>
<text x="1181" y="57.8" font-size="34.5" fill="#ff0000" textLength="57" lengthAdjust="spacingAndGlyphs">460</text>
<text x="1595.5" y="60.3" font-size="34.5" fill="#0026ff" textLength="56.5" lengthAdjust="spacingAndGlyphs">338</text>
<text x="1338.5" y="363.2" font-size="34.3" font-style="italic">resR/mcdR</text>
<line x1="1355.5" y1="127.6" x2="1355.5" y2="582" stroke="#aaaaaa" stroke-width="6" stroke-dasharray="18 14" stroke-linecap="round"/>
<line x1="1464.9" y1="127.6" x2="1464.9" y2="582" stroke="#aaaaaa" stroke-width="6" stroke-dasharray="18 14" stroke-linecap="round"/>
<polygon points="1353.8,497.4 1359.6,507.4 1366.3,523.5 1373.1,535.6 1383.9,549.7 1395.3,568.2 1379.1,569.6 1362.5,566.6 1354.5,558 1353.6,521.9" fill="#000"/>
<polygon points="1459.9,519.3 1462.6,522.1 1462.7,569.9 1425.6,570.1 1423.9,566.3 1441.7,551.2 1449.5,536.4 1455.1,524.3" fill="#000"/>
<path d="M1354.6 534.1h0M1353.7 528.4h0M1355.1 502h0M1371.1 558.7h0M1357.6 512.2h0M1380.2 568h0M1365.9 557.8h0M1360.1 539.8h0M1354.7 510.9h0M1366.1 540.1h0M1363 539.2h0M1375.6 562.4h0M1370.8 553.3h0M1358.8 532.7h0M1353.8 546.5h0M1389.8 567.7h0M1373.3 546.1h0M1354.7 549h0M1381.1 571.5h0M1369.4 546.5h0M1353 530.6h0M1354.7 554.2h0M1357.8 514.1h0M1369.6 562.1h0M1355.6 529.6h0M1376.7 563h0M1388.9 561.5h0M1364.5 527h0M1368.1 563.1h0M1359.9 512.9h0M1362.5 532.3h0M1352.2 527.3h0M1368.6 538.6h0M1375.2 542.6h0M1356.7 543.8h0M1354.8 500.2h0M1356.6 523h0M1363.4 521.7h0M1373 532.3h0M1355.9 502.9h0M1375.8 570.3h0M1363.8 523.2h0M1359.5 554.4h0M1376 555h0M1388.5 570.8h0M1362.2 534.9h0M1353.3 516.5h0M1363.7 548.3h0M1361.9 512.5h0M1360.9 510.7h0M1380.1 564.3h0M1381.4 556.6h0M1355.8 545.9h0M1360 555.8h0M1367 556.7h0M1370.1 567.9h0M1357.7 506.6h0M1358.6 558.6h0M1367.8 537.2h0M1375.7 566.9h0M1371.5 562.1h0M1363.3 517.6h0M1362.8 540.2h0M1363.7 527.3h0M1367.9 530.3h0M1378.3 564.6h0M1370.9 565.7h0M1374.6 536h0M1359.8 531.5h0M1366.7 534.9h0M1377 555.4h0M1356.8 538.1h0M1363.2 516.3h0M1377.3 553.5h0M1375 548.3h0M1372.4 536.1h0M1373.5 567.5h0M1383.5 562.5h0M1377.2 567.6h0M1357.5 529h0M1355.3 513.5h0M1355.3 546.5h0M1387.3 564.1h0M1359 550.1h0M1391.7 569.5h0M1361.9 568.3h0M1369.9 532.5h0M1359.3 528.2h0M1360.8 519.5h0M1352.8 520.5h0M1387.5 569.8h0M1356.7 515.4h0M1353.8 555h0M1371 565.2h0M1377.7 548.9h0M1380.5 556.7h0M1355.8 560.9h0M1355 561.4h0M1376.9 566.4h0M1356.9 507.4h0M1354.3 510.5h0M1360.5 531.6h0M1374.3 559.3h0M1369.7 534h0M1382.9 570.6h0M1367.4 559.1h0M1354.4 505h0M1355.2 552h0M1355.8 559.8h0M1365.2 530.4h0M1359.1 529.3h0M1363.8 569.1h0M1365.9 522.5h0M1373.4 533.7h0M1361 533.9h0M1352.2 515.3h0M1356 525.8h0M1353.9 496.7h0M1384.2 562.7h0M1354 559.3h0M1385 557.5h0M1358.3 535.3h0M1374.7 559.3h0M1388.2 558.6h0M1378.3 563.7h0M1382.7 548.4h0M1358 522.8h0M1356.7 559.4h0M1377.1 543.3h0M1380.2 547.4h0M1374.6 536.2h0M1355.4 515.4h0M1385.3 570.1h0M1373.6 547.6h0M1358.6 514.6h0M1354.7 515.7h0M1382.2 548.3h0M1352.8 530.3h0M1388.9 569.5h0M1361.4 567.8h0M1361.5 539.8h0M1358.4 535.4h0M1362.4 564.1h0M1358.3 521.5h0M1366.2 559.7h0M1368.7 525.3h0M1368.2 528h0M1356.6 559.3h0M1364.9 567h0M1363.2 515.5h0M1368.8 568.6h0M1380.4 565.3h0M1365.4 551.9h0M1359.5 507.4h0M1361.4 564.8h0M1362.8 514.9h0M1377.6 563.3h0M1370.6 535.4h0M1354.8 516.4h0M1374.7 543.5h0M1370 529.3h0M1353.5 549.6h0M1369.6 566.4h0M1389.2 560.9h0M1356.9 506.9h0M1375.5 547.5h0M1381.1 553.9h0M1372.6 537.5h0M1353.8 555.2h0M1362.5 565.8h0M1357.8 514.4h0M1380.6 548.8h0M1375.6 539.9h0M1365.6 530.5h0M1362.6 514h0M1374.4 546.9h0M1382 566.2h0M1367.2 527.4h0M1362 553.6h0M1365.3 568.3h0M1362 527.1h0M1381.9 568.1h0M1358.6 525.3h0M1354.7 525.3h0M1392.4 563h0M1360.3 567.1h0M1364.6 522.1h0M1368 558.3h0M1354.2 531.5h0M1368.8 565.8h0M1360.7 523h0M1370.5 557.5h0M1353.6 499.8h0M1385.6 564.2h0M1363.8 550.2h0M1362.5 531.6h0M1395.1 568.5h0M1371.3 533h0M1366.4 522.9h0M1360.9 553h0M1353.5 537.5h0M1356.3 533.4h0M1362.5 527.1h0M1379.9 546.9h0M1385.7 560.2h0M1358.9 563.1h0M1373.4 558.1h0M1389.8 565.4h0M1353.8 517.6h0M1357.4 509.6h0M1363.7 554.9h0M1378.8 542.7h0M1361.8 523.4h0M1358.4 510.7h0M1363.5 541.2h0M1352.5 520.2h0M1354.8 502.8h0M1369.8 537.4h0M1359.4 548.5h0M1365.8 568.4h0M1458.3 571.8h0M1439.8 562.1h0M1439.1 565.6h0M1448.9 567h0M1443.9 567.9h0M1455.8 570.2h0M1461.6 570.7h0M1460.9 538.3h0M1460 551.1h0M1456.6 525.8h0M1455 529.2h0M1439 563.5h0M1456.8 527.1h0M1452.4 566.4h0M1457.2 523.5h0M1447.2 547.3h0M1439.9 553.2h0M1454.1 559.9h0M1452.8 559.8h0M1461.9 524.5h0M1458 571.8h0M1452.7 561.8h0M1430.1 571h0M1442.7 569.6h0M1460.5 526.1h0M1455.1 568.2h0M1459.7 532.1h0M1456.3 524.9h0M1443.1 567.6h0M1428.8 568.5h0M1450.5 566.2h0M1448.7 536.8h0M1458.7 547.5h0M1446.4 565.5h0M1426.4 571.6h0M1448.5 538.7h0M1455.5 531.6h0M1463.6 548.8h0M1437.1 559.1h0M1456.4 531h0M1448.8 571.1h0M1446.6 553.5h0M1447.9 540.8h0M1443.5 566.3h0M1448.2 543.1h0M1427.7 568.5h0M1458.6 560h0M1449.1 541.4h0M1461.4 557.3h0M1432.4 566.7h0M1461.5 524.8h0M1443.3 552.3h0M1456.2 526.6h0M1454.9 556.3h0M1453.3 542.6h0M1453.2 541.9h0M1436.1 558.2h0M1451.2 563.5h0M1451.9 531.6h0M1455.1 545.8h0M1462.5 528.9h0M1453.2 569h0M1453.3 535h0M1459 535.1h0M1432 566.9h0M1448.5 555.1h0M1449.9 570.8h0M1441.7 563.2h0M1451.3 564.2h0M1440.4 556.9h0M1425.3 567.1h0M1426.5 568.1h0M1451.1 551.9h0M1451.3 557.5h0M1437.3 562h0M1456.4 566h0M1460.4 568.9h0M1457.6 561.7h0M1448.6 562.4h0M1453.8 528.3h0M1462.5 544.7h0M1457.8 551h0M1440.3 559.5h0M1458.2 522h0M1456.4 526.4h0M1454 570.8h0M1442.6 560.8h0M1436.6 562.8h0M1432.9 568.9h0M1451.4 544.4h0M1451.3 560.3h0M1459.4 521.7h0M1459.9 544.6h0M1437.9 565.6h0M1444.3 558.5h0M1453.6 552.5h0M1428.5 563.4h0M1449.8 557.8h0M1454.5 548.9h0M1459.2 530.1h0M1451.5 563.4h0M1463 557.1h0M1426.3 569.9h0M1463.3 560.7h0M1452.8 540.9h0M1438.8 560.5h0M1451.1 544.5h0M1448.6 542.5h0M1439 557.8h0M1460.1 540.7h0M1446.1 558.2h0M1452.3 565.4h0M1454.5 555.5h0M1457.8 554.4h0M1448.9 542h0M1454.9 556.2h0M1448.1 539.5h0M1450.4 568.2h0M1454.7 538.4h0M1442.6 570.6h0M1461.5 545.6h0M1444.7 556.5h0M1443.5 552.2h0M1456.8 545.7h0M1439.2 569.1h0M1438.5 558.9h0M1427.1 571.1h0M1439.7 555.4h0M1461.5 546h0M1431.2 561.1h0M1456 551.9h0M1431.5 570h0M1456.4 561.9h0M1457 536.5h0M1457.7 531.7h0M1449.7 536.9h0M1461 564h0M1460 560.1h0M1460 560.5h0M1429.1 566h0M1447.6 560h0M1450.1 566.2h0M1455.1 563.1h0M1444.3 557.8h0M1440.4 565.5h0M1444.7 564.5h0M1449.9 563.2h0M1462.3 521.1h0M1448.8 552h0M1450.7 568.2h0M1435.9 571h0M1459.7 518.9h0M1452.2 551.4h0M1436.2 564.4h0M1444.1 559.4h0M1456.7 533.1h0M1456.8 539.2h0M1443.3 570.6h0M1449.5 560.6h0M1448.7 560.1h0M1459.2 547h0M1460.7 550.5h0M1449.6 560.4h0M1460.2 550.6h0M1447.9 551.5h0M1451.2 549.8h0M1450 542.2h0M1454.5 567.3h0M1449.5 537.3h0M1456.5 560.3h0M1449 568.4h0M1456 548.6h0M1460.6 541.6h0M1446.9 568.6h0M1463.2 543.1h0M1427.1 570.1h0M1452.2 530.3h0M1452 564.1h0M1448.4 556h0M1441.3 568.3h0M1432.7 570h0M1435.1 557.1h0M1429 564.4h0M1440.4 554.2h0M1448.4 540h0M1438.2 560.2h0M1461.7 560.2h0M1424.5 570.6h0M1451.5 562.5h0M1463.1 562.7h0M1440 565.8h0M1447.3 566.3h0M1455.9 532.6h0M1456.3 565.8h0M1456.1 564.7h0M1457.7 561.4h0M1450.8 567.3h0M1445.3 560.9h0M1461.1 529.9h0M1447.5 554.3h0M1357 498h0M1462 487.7h0" stroke="#000" stroke-width="6.2" stroke-linecap="round" fill="none"/>
<polygon points="1306.5,484 1329.9,480.5 1350.4,487.9 1351.8,555.8 1347,555.7 1333.5,535.6 1322.6,520.1 1314.2,506.1 1304.9,493.6" fill="#ff2a0a"/>
<polygon points="1467.5,517 1480.1,511.5 1491.1,511.3 1494.4,519.9 1492.5,535.2 1486.8,545.8 1480.2,553.5 1470.9,563.7 1467.1,565.7" fill="#1438ff"/>
<path d="M1234.3 128h0M1229.9 220h0M1202.4 230.6h0M1239 234.9h0M1216 239h0M1292.9 238.6h0M1223.7 250.9h0M1225.7 261h0M1230.3 273.2h0M1252.8 273.2h0M1216.6 280.6h0M1263.6 279.6h0M1224.6 290.3h0M1244.3 290.3h0M1245.3 294.3h0M1234.3 297.9h0M1221.3 309.2h0M1257.9 307.9h0M1198 313.6h0M1233.3 315.9h0M1222.6 319.9h0M1227.3 319.9h0M1277 319.6h0M1214 323.5h0M1211.3 331.2h0M1229.3 330.8h0M1240.2 331.6h0M1260.8 328.1h0M1268.6 327.6h0M1254.3 336.5h0M1232.6 337.8h0M1250.8 345.2h0M1263.2 345.2h0M1227.7 353.8h0M1270 357.8h0M1230.6 360.9h0M1242.1 364.2h0M1249.2 371.8h0M1253.9 371.1h0M1256.6 372.9h0M1260.3 371.8h0M1237 374.5h0M1318.5 375.5h0M1213.7 378.5h0M1279.6 379.1h0M1299.2 378.5h0M1249.9 383.2h0M1250.4 386.8h0M1259.3 393.8h0M1265.8 395.4h0M1259.3 407.7h0M1279.9 380.2h0M1278.1 389.1h0M1287.6 387.3h0M1286.7 393.6h0M1284.9 399.1h0M1303.7 389.5h0M1315.9 391.1h0M1281.1 405.6h0M1296.7 401.8h0M1295.3 407.2h0M1292.3 411h0M1310 399.5h0M1309.8 406.1h0M1315.9 408.1h0M1327.1 408.1h0M1306.5 415.9h0M1295.8 420.8h0M1302.4 424.2h0M1289.2 426.9h0M1306.9 431.7h0M1322.1 421.1h0M1325.1 421.1h0M1280.8 437.9h0M1320.7 437.6h0M1267 451.7h0M1275.8 462.4h0M1294.9 441.7h0M1289.4 445.4h0M1298 446.7h0M1287.1 449h0M1299.9 453.1h0M1289 454.9h0M1293 456.3h0M1313.5 445.4h0M1309 448.1h0M1315.3 449.9h0M1309 453.1h0M1313.5 452.6h0M1324.4 453.5h0M1328 449h0M1299 460.3h0M1333.6 440.5h0M1336.5 454.1h0M1327.8 449.7h0M1328.8 458.9h0M1340.9 461.8h0M1344.3 470.6h0M1346.2 472h0M1276.9 473.1h0M1275 486.1h0M1294.6 519h0M1303.8 508.9h0M1311.5 519.8h0M1311.8 522.7h0M1293.4 491.5h0M1297.5 491.5h0M1325.5 540.9h0M1332.1 554.1h0M1334.3 563.8h0M1336.7 453.9h0M1341 461.8h0M1344.4 469.4h0M1345.9 472.3h0M1299.9 472.3h0M1290.7 467.5h0M1295.5 466.5h0M1320.5 437.6h0M1307.1 431.4h0M1325.6 481.5h0M1343.5 506.5h0M1342.5 484.1h0M1348.7 512.7h0M1326.2 519.3h0M1310.4 480h0M1320 516.9h0M1322.1 512.2h0M1308.2 465.4h0M1354.8 498h0M1343.3 476.5h0M1332.8 495.1h0M1328.6 463h0M1347.6 509.1h0M1331.2 486.9h0M1342.9 503.2h0M1352.1 537h0M1314 464.7h0M1311.1 478.9h0M1304.6 466h0M1332.9 500.3h0M1336.8 499.9h0M1324.7 476.8h0M1353.1 559.2h0M1312.2 464.8h0M1314.1 495.8h0M1349.7 550.6h0M1343.3 531.3h0M1303.1 475.3h0M1337.2 490.6h0M1305.8 493.1h0M1314.1 473.3h0M1326.5 477.7h0M1313.1 475.2h0M1339.4 480.3h0M1347.7 549h0M1346.3 523.2h0M1324.9 494.6h0M1345.3 508.3h0M1334.6 475.1h0M1312.2 466.6h0M1339.3 515.8h0M1314.7 501.8h0M1308.6 487.8h0M1346.2 494.1h0M1336.8 481.9h0M1326.3 489.3h0M1314.2 481h0M1354.9 552.6h0M1305.4 489.7h0M1340 490.1h0M1344.4 494.7h0M1307.7 461.2h0M1345.8 513.1h0M1350.2 482.6h0M1331.4 474.7h0M1339.1 480.5h0M1304.4 469.7h0M1333.5 510.1h0M1315.1 481.4h0M1333.7 531.1h0M1344.6 518.7h0M1311.1 467.5h0M1340.3 501.4h0M1339.7 466.5h0M1344.6 494.2h0M1346.3 546.6h0M1327.1 462.5h0M1350.1 508.2h0M1348 487.4h0M1320.2 477.2h0M1320.4 519.9h0M1324.5 512h0M1344.9 546.7h0M1352.5 510h0M1328.2 513.5h0M1329.6 463h0M1353.2 483.1h0M1310 471.2h0M1338.4 480.3h0M1331.7 512.8h0M1338.6 471.2h0M1347.8 532h0M1327.1 510.6h0M1315.4 473.1h0M1322.3 474.6h0M1341.1 477.3h0M1321.4 502.6h0M1346.2 513h0M1342.7 494.5h0M1313.2 494.2h0M1344.8 544.9h0M1352.7 553.5h0M1313.7 502.8h0M1334.8 497.1h0M1329.2 467.9h0M1323.8 511h0M1353.3 537.9h0M1351.5 523.7h0M1344.5 548.6h0M1335.3 487.3h0M1337.3 488.1h0M1334.2 485.8h0M1328.6 503.9h0M1352.3 489.5h0M1352.6 511.9h0M1314.8 507.2h0M1329.4 475.7h0M1306.8 474h0M1316.1 501.2h0M1315.9 485.1h0M1346.2 521.4h0M1331.4 525.4h0M1325.3 515.3h0M1333.7 507.4h0M1317.1 485h0M1321.1 519h0M1347.4 484.6h0M1330.6 509.6h0M1308.7 467.6h0M1347.9 504.6h0M1306 483.3h0M1352.8 534.1h0M1308.5 494.4h0M1345.2 512.3h0M1340.6 534.6h0M1341.8 508h0M1343.2 531.1h0M1342.1 519h0M1331.5 502.4h0M1343.1 547.4h0M1333.4 498.6h0M1324.9 506.3h0M1339.8 490h0M1321.5 516h0M1321.1 492.9h0M1343.3 545.1h0M1327.5 505h0M1310.1 491.1h0M1332 469.7h0M1350.6 493.1h0M1346.4 544h0M1352.7 481.2h0M1331.1 510.2h0M1350.6 537.6h0M1328.5 512.2h0M1337.7 499.6h0M1319.7 519.9h0M1337.2 513h0M1305.4 498.1h0M1322 516.6h0M1353 509.2h0M1324.2 522.8h0M1354.8 495h0M1309.4 492.5h0M1353.8 542.8h0M1328.2 471.9h0M1349.2 529.3h0M1348.8 502.7h0M1308.6 489.7h0M1328.1 511h0M1310.3 479.1h0M1334.7 520.7h0M1335 465.2h0M1300.2 491.1h0M1346.3 519h0M1336.7 480.5h0M1327.4 515.8h0M1331.6 501.7h0M1306.7 476.5h0" stroke="#ff2a0a" stroke-width="6.2" stroke-linecap="round" fill="none"/>
<path d="M1668.6 133.4h0M1603.1 188.8h0M1741.7 210.3h0M1597.6 335.3h0M1527.8 360.2h0M1514 394.2h0M1602.5 429.7h0M1523 454.1h0M1500.9 419.3h0M1502.4 422.8h0M1498.6 446h0M1522.9 454.1h0M1525.2 463.6h0M1478.9 472.1h0M1487 473.8h0M1477.7 485.2h0M1488.5 489.8h0M1479.4 496.7h0M1485.2 496.4h0M1499.7 491.8h0M1503.6 497h0M1503.6 501h0M1514 506.3h0M1502.6 513.3h0M1507 516.5h0M1516 527.7h0M1502 531.8h0M1493.4 549.8h0M1491.6 512.7h0M1468.5 516.7h0M1492 526.3h0M1490 528.3h0M1470.9 522.8h0M1468.5 562.9h0M1485.4 528h0M1480.7 530.3h0M1466.9 562.1h0M1480.4 545.1h0M1473.7 508.8h0M1493.6 525.1h0M1473.5 530.6h0M1490.1 519.9h0M1482 555.9h0M1473.5 516.9h0M1477.5 517.8h0M1484.7 513.2h0M1483.7 530.3h0M1479.1 510.1h0M1469.3 558h0M1477.3 521.4h0M1471.7 523.9h0M1473.3 508.2h0M1488.2 527.5h0M1470.5 550.5h0M1468.2 523h0M1494.2 514.1h0M1493.2 516h0M1477.4 551.5h0M1482.7 520.3h0M1480.8 514.2h0M1489.7 522.4h0M1477.9 521.5h0M1486.3 519.4h0M1495.5 513.7h0M1483 540.2h0M1474.5 554.6h0M1478.5 547.4h0M1484.9 525.6h0M1478.6 511.4h0M1471.2 559.6h0M1476.2 547.8h0M1468.8 541.4h0M1477.7 537.5h0M1475.4 510.2h0M1475.9 520.3h0M1469.4 551.2h0M1474.9 531.4h0M1469.6 523.4h0M1466 548.8h0M1488.2 528.1h0M1479.4 547.5h0M1489.5 521.7h0M1494.6 528.2h0M1487 517.4h0M1469 563.5h0M1470.7 518.5h0M1475.6 530h0M1466.4 525.6h0M1487.3 517.3h0M1490.1 522h0M1480.2 549.1h0M1475 508.7h0M1466.7 521.4h0M1468.9 555.9h0M1491.2 511.4h0M1489.3 530.8h0M1474.8 511.7h0M1498.1 532.7h0M1487 534.5h0M1466.9 550h0M1480 538.2h0M1491.7 508.8h0M1474.1 540.4h0M1484 521.7h0M1467.1 528.5h0M1479.4 518.7h0M1475.9 514.6h0M1489.7 548.2h0M1473.3 521.2h0M1483 534h0M1497.8 528.1h0M1470 541.5h0M1476.7 557.4h0M1484.2 553.9h0M1470.9 548h0M1486 535.1h0M1469 524.2h0M1477.6 519h0M1467.1 523.7h0M1471.9 550.2h0M1480.7 513.1h0M1476.4 535.5h0M1477.7 516.6h0M1467.9 551.2h0M1468.8 536.8h0M1480.2 518h0M1484 506.5h0M1487.8 521.8h0M1473.6 514.7h0M1466 554.8h0M1494.4 524.7h0M1471.5 546.2h0M1470.9 555.4h0M1476.4 517.6h0M1493.9 526.2h0M1477.9 540.7h0M1477.9 558.4h0M1473.4 508.6h0M1484.8 545.6h0M1482.3 537.5h0M1470.5 524.9h0M1485.3 511.1h0M1489.1 516.3h0M1480.4 518h0M1492.5 532.8h0M1474.9 547.7h0M1483 532.5h0M1476.9 533.6h0M1496.6 516.4h0M1475.4 533.9h0M1484.7 527.9h0M1471.8 511.4h0M1476.3 535h0M1493.4 509.8h0M1488.7 544.4h0M1475.4 542h0M1487.7 524.9h0M1466 517.9h0" stroke="#1438ff" stroke-width="6.2" stroke-linecap="round" fill="none"/>
<path d="M1348.3 456h0" stroke="#1a9a50" stroke-width="6.4" stroke-linecap="round" fill="none"/>
<path d="M1082 124.2V601M1063 582H1765.6" stroke="#000" stroke-width="6" fill="none"/>
<path d="M1063 582H1082M1063 491.1H1082M1063 400.1H1082M1063 309.2H1082M1063 218.2H1082M1063 127.3H1082M1191.4 582V601M1300.8 582V601M1410.2 582V601M1519.6 582V601M1629 582V601M1738.3 582V601" stroke="#000" stroke-width="6" fill="none"/>
<text x="1058.6" y="593.3" font-size="31.5" font-weight="bold" text-anchor="end">0</text>
<text x="1058.6" y="502.4" font-size="31.5" font-weight="bold" text-anchor="end">10</text>
<text x="1058.6" y="411.4" font-size="31.5" font-weight="bold" text-anchor="end">20</text>
<text x="1058.6" y="320.5" font-size="31.5" font-weight="bold" text-anchor="end">30</text>
<text x="1058.6" y="229.5" font-size="31.5" font-weight="bold" text-anchor="end">40</text>
<text x="1058.6" y="138.6" font-size="31.5" font-weight="bold" text-anchor="end">50</text>
<text x="1081.7" y="628.3" font-size="31.5" font-weight="bold" text-anchor="middle">-6</text>
<text x="1191" y="628.3" font-size="31.5" font-weight="bold" text-anchor="middle">-4</text>
<text x="1300.4" y="628.3" font-size="31.5" font-weight="bold" text-anchor="middle">-2</text>
<text x="1410.2" y="628.3" font-size="31.5" font-weight="bold" text-anchor="middle">0</text>
<text x="1519.6" y="628.3" font-size="31.5" font-weight="bold" text-anchor="middle">2</text>
<text x="1629" y="628.3" font-size="31.5" font-weight="bold" text-anchor="middle">4</text>
<text x="1738.3" y="628.3" font-size="31.5" font-weight="bold" text-anchor="middle">6</text>
<text x="1332.3" y="693" font-size="38.4" font-weight="bold">fold (log2)</text>
<text transform="translate(989.2 343.4) rotate(-90)" font-size="39" font-weight="bold" text-anchor="middle">-log <tspan font-style="italic">p</tspan></text>
<line x1="1400" y1="395" x2="1368" y2="432" stroke="#000" stroke-width="5.6" stroke-linecap="round"/>
<polygon points="1352,450.7 1355.9,422.6 1379.1,441" fill="#000"/>
<text x="931" y="809" font-size="53" fill="#000">c</text>
<text x="1523.6" y="806.8" font-size="31" fill="#ff0000" textLength="42.9" lengthAdjust="spacingAndGlyphs">DN</text>
<text x="1657.8" y="806.8" font-size="31" fill="#0026ff" textLength="39.4" lengthAdjust="spacingAndGlyphs">UP</text>
<rect x="1570.5" y="896.7" width="47" height="21.5" fill="#ff2600"/>
<rect x="1617.5" y="896.7" width="21.8" height="21.5" fill="#0a33ff"/>
<text x="1445.8" y="917.6" font-size="28.6" text-anchor="end">Virulence, detoxification, adaptation</text>
<rect x="1610" y="951.4" width="7.5" height="21.5" fill="#ff2600"/>
<rect x="1617.5" y="951.4" width="17" height="21.5" fill="#0a33ff"/>
<text x="1445.8" y="972.2" font-size="28.6" text-anchor="end">ncRNA</text>
<rect x="1584.4" y="1006" width="33.1" height="21.5" fill="#ff2600"/>
<rect x="1617.5" y="1006" width="20.7" height="21.5" fill="#0a33ff"/>
<text x="1445.8" y="1026.9" font-size="28.6" text-anchor="end">Regulatory protins</text>
<rect x="1598" y="1060.7" width="19.5" height="21.5" fill="#ff2600"/>
<rect x="1617.5" y="1060.7" width="43.5" height="21.5" fill="#0a33ff"/>
<text x="1445.8" y="1081.5" font-size="28.6" text-anchor="end">PE/PPE</text>
<rect x="1575" y="1115.3" width="42.5" height="21.5" fill="#ff2600"/>
<rect x="1617.5" y="1115.3" width="22.8" height="21.5" fill="#0a33ff"/>
<text x="1445.8" y="1136.2" font-size="28.6" text-anchor="end">Lipid metabolism</text>
<rect x="1513" y="1170" width="104.5" height="21.5" fill="#ff2600"/>
<rect x="1617.5" y="1170" width="71.3" height="21.5" fill="#0a33ff"/>
<text x="1445.8" y="1190.8" font-size="28.6" text-anchor="end">Intermediary metabolism and respiration</text>
<rect x="1617.5" y="1224.6" width="15.5" height="21.5" fill="#0a33ff"/>
<text x="1445.8" y="1245.5" font-size="28.6" text-anchor="end">Insertion sequences and phages</text>
<rect x="1531.4" y="1279.2" width="86.1" height="21.5" fill="#ff2600"/>
<rect x="1617.5" y="1279.2" width="6.8" height="21.5" fill="#0a33ff"/>
<text x="1445.8" y="1300.2" font-size="28.6" text-anchor="end">Information pathways</text>
<rect x="1485.4" y="1333.9" width="132.1" height="21.5" fill="#ff2600"/>
<rect x="1617.5" y="1333.9" width="122.7" height="21.5" fill="#0a33ff"/>
<text x="1445.8" y="1354.8" font-size="28.6" text-anchor="end">Conserved hypotheticals</text>
<rect x="1533.5" y="1388.5" width="84" height="21.5" fill="#ff2600"/>
<rect x="1617.5" y="1388.5" width="66.4" height="21.5" fill="#0a33ff"/>
<text x="1445.8" y="1409.5" font-size="28.6" text-anchor="end">Cell wall and cell processes</text>
<path d="M1433 880.2H1802M1435.2 880.2V868M1496 880.2V868M1556.7 880.2V868M1617.5 880.2V868M1678.3 880.2V868M1739 880.2V868M1799.8 880.2V868" stroke="#000" stroke-width="5" fill="none"/>
<path d="M1617.6 878V1426" stroke="#000" stroke-width="5.3" fill="none"/>
<text transform="translate(1424.9 866.9) rotate(90)" font-size="28.2" font-weight="bold" text-anchor="end">-150</text>
<text transform="translate(1485.7 866.9) rotate(90)" font-size="28.2" font-weight="bold" text-anchor="end">-100</text>
<text transform="translate(1546.4 866.9) rotate(90)" font-size="28.2" font-weight="bold" text-anchor="end">-50</text>
<text transform="translate(1607.2 866.9) rotate(90)" font-size="28.2" font-weight="bold" text-anchor="end">0</text>
<text transform="translate(1668 866.9) rotate(90)" font-size="28.2" font-weight="bold" text-anchor="end">50</text>
<text transform="translate(1728.7 866.9) rotate(90)" font-size="28.2" font-weight="bold" text-anchor="end">100</text>
<text transform="translate(1789.5 866.9) rotate(90)" font-size="28.2" font-weight="bold" text-anchor="end">150</text>
<text x="930" y="1578.7" font-size="53" fill="#000">f</text>
<rect x="1135.2" y="1765.2" width="39.3" height="307.3" fill="#922392"/>
<rect x="1188.5" y="1953.9" width="39.4" height="118.6" fill="#ff8cff"/>
<rect x="1192.5" y="1957.9" width="31.4" height="114.6" fill="#fd3dfd"/>
<rect x="1137.9" y="1758" width="15.5" height="15.5" fill="#000"/>
<rect x="1156" y="1758" width="15.5" height="15.5" fill="#000"/>
<polygon points="1191.9,1951.8 1207.1,1951.8 1199.5,1966.3" fill="#000"/>
<polygon points="1209.7,1940.9 1224.9,1940.9 1217.3,1955.4" fill="#000"/>
<rect x="1276.7" y="1765.2" width="39.3" height="307.3" fill="#922392"/>
<rect x="1330" y="2044.8" width="39.4" height="27.7" fill="#ff8cff"/>
<rect x="1334" y="2048.8" width="31.4" height="23.7" fill="#fd3dfd"/>
<rect x="1279.4" y="1758" width="15.5" height="15.5" fill="#000"/>
<rect x="1297.5" y="1758" width="15.5" height="15.5" fill="#000"/>
<polygon points="1332.9,2045.7 1348.1,2045.7 1340.5,2060.2" fill="#000"/>
<polygon points="1350.9,2027.7 1366.1,2027.7 1358.5,2042.2" fill="#000"/>
<rect x="1418.2" y="1765.2" width="39.3" height="307.3" fill="#922392"/>
<rect x="1471.5" y="1957.3" width="39.4" height="115.2" fill="#ff8cff"/>
<rect x="1475.5" y="1961.3" width="31.4" height="111.2" fill="#fd3dfd"/>
<rect x="1420.9" y="1758" width="15.5" height="15.5" fill="#000"/>
<rect x="1439" y="1758" width="15.5" height="15.5" fill="#000"/>
<polygon points="1474.4,1954.1 1489.6,1954.1 1482,1968.6" fill="#000"/>
<polygon points="1492.4,1946 1507.6,1946 1500,1960.5" fill="#000"/>
<rect x="1559.7" y="1765.2" width="39.3" height="307.3" fill="#922392"/>
<rect x="1613" y="1984.3" width="39.4" height="88.2" fill="#ff8cff"/>
<rect x="1617" y="1988.3" width="31.4" height="84.2" fill="#fd3dfd"/>
<rect x="1562.4" y="1758" width="15.5" height="15.5" fill="#000"/>
<rect x="1580.5" y="1758" width="15.5" height="15.5" fill="#000"/>
<polygon points="1624.8,1954.1 1640,1954.1 1632.4,1968.6" fill="#000"/>
<polygon points="1624.8,2000 1640,2000 1632.4,2014.5" fill="#000"/>
<rect x="1701.2" y="1765.2" width="39.3" height="307.3" fill="#922392"/>
<rect x="1754.5" y="1870" width="39.4" height="202.5" fill="#ff8cff"/>
<rect x="1758.5" y="1874" width="31.4" height="198.5" fill="#fd3dfd"/>
<rect x="1703.9" y="1758" width="15.5" height="15.5" fill="#000"/>
<rect x="1722" y="1758" width="15.5" height="15.5" fill="#000"/>
<polygon points="1766.7,1837.4 1781.9,1837.4 1774.3,1851.9" fill="#000"/>
<polygon points="1766.7,1888.7 1781.9,1888.7 1774.3,1903.2" fill="#000"/>
<path d="M1119.7 1608.3V2076M1106 2072.5H1811M1106 1918.8H1120M1106 1765.2H1120M1106 1611.5H1120M1181.5 2072.5V2086M1323 2072.5V2086M1464.5 2072.5V2086M1606 2072.5V2086M1747.5 2072.5V2086" stroke="#000" stroke-width="7" fill="none"/>
<text x="1102.4" y="2083.8" font-size="35.7" font-weight="bold" text-anchor="end">0.0</text>
<text x="1102.4" y="1930.1" font-size="35.7" font-weight="bold" text-anchor="end">0.5</text>
<text x="1102.4" y="1776.5" font-size="35.7" font-weight="bold" text-anchor="end">1.0</text>
<text x="1102.4" y="1622.8" font-size="35.7" font-weight="bold" text-anchor="end">1.5</text>
<text transform="translate(1030.2 1833) rotate(-90)" font-size="37" font-weight="bold" text-anchor="middle">Expression (Fold)</text>
<text transform="translate(1187 2104.5) rotate(-45)" font-size="25" font-weight="bold" font-style="italic" text-anchor="end">sigA</text>
<text transform="translate(1328.5 2104.5) rotate(-45)" font-size="25" font-weight="bold" font-style="italic" text-anchor="end">dosR</text>
<text transform="translate(1470 2104.5) rotate(-45)" font-size="25" font-weight="bold" font-style="italic" text-anchor="end">rplN</text>
<text transform="translate(1611.5 2104.5) rotate(-45)" font-size="25" font-weight="bold" font-style="italic" text-anchor="end">rrs</text>
<text transform="translate(1753 2104.5) rotate(-45)" font-size="25" font-weight="bold" font-style="italic" text-anchor="end">groEL2</text>
<rect x="1683.6" y="1584.6" width="15.5" height="14.6" fill="#000"/>
<text x="1724.8" y="1600.2" font-size="25">Control</text>
<polygon points="1683.6,1623.7 1698.8,1623.7 1691.2,1638.7" fill="#000"/>
<text x="1725.5" y="1639.6" font-size="25" font-style="italic">resR/mcdR(-)</text>
<defs>
</defs>
<text x="3.7" y="1064" font-size="53" fill="#000">d</text>
<path d="M68.5 1298.2h48.9v2.9h-48.9zM68.5 1337.4h48.9v2.4h-48.9zM68.5 2081.2h48.9v2.1h-48.9zM68.5 2280h48.9v3.1h-48.9z" fill="#ff8300"/>
<path d="M68.5 1300.8h48.9v2.6h-48.9zM68.5 1541.1h48.9v2.3h-48.9z" fill="#fae600"/>
<path d="M68.5 1303.2h48.9v2.6h-48.9zM68.5 1526.9h48.9v3.1h-48.9z" fill="#ffe100"/>
<path d="M68.5 1305.5h48.9v2.6h-48.9zM68.5 1691h48.9v3.1h-48.9zM68.5 1846.4h48.9v2.4h-48.9zM68.5 1920.8h48.9v2.1h-48.9z" fill="#ff7100"/>
<path d="M68.5 1307.8h48.9v2.6h-48.9zM68.5 1710.9h48.9v2.3h-48.9zM68.5 1935.4h48.9v2.3h-48.9zM68.5 1985.5h48.9v2.1h-48.9zM68.5 2017.4h48.9v2.1h-48.9zM68.5 2190.7h48.9v2.3h-48.9zM68.5 2220.3h48.9v2.3h-48.9z" fill="#ff8900"/>
<path d="M68.5 1310.2h48.9v2.6h-48.9zM68.5 1427.4h48.9v2.1h-48.9zM68.5 1459.3h48.9v2.1h-48.9z" fill="#fce500"/>
<path d="M68.5 1312.5h48.9v2.6h-48.9zM68.5 1497.8h48.9v2.1h-48.9z" fill="#ffd000"/>
<path d="M68.5 1314.9h48.9v3.1h-48.9zM68.5 1507.2h48.9v2.1h-48.9zM68.5 1578.4h48.9v2.1h-48.9zM68.5 1674.1h48.9v2.1h-48.9zM68.5 1835.4h48.9v2.1h-48.9zM68.5 2032.4h48.9v2.1h-48.9zM68.5 2157.1h48.9v2.1h-48.9z" fill="#ffb500"/>
<path d="M68.5 1317.7h48.9v2.1h-48.9zM68.5 1492.2h48.9v2.1h-48.9z" fill="#ff4c00"/>
<path d="M68.5 1319.6h48.9v2.1h-48.9zM68.5 1903h48.9v2.3h-48.9zM68.5 2117.8h48.9v2.1h-48.9z" fill="#ff5a00"/>
<path d="M68.5 1321.4h48.9v2.1h-48.9zM68.5 1472.8h48.9v2.3h-48.9zM68.5 1907.1h48.9v2.3h-48.9zM68.5 2153.2h48.9v2.2h-48.9z" fill="#ff5900"/>
<path d="M68.5 1323.3h48.9v2.1h-48.9zM68.5 1878.6h48.9v2.1h-48.9zM68.5 2276.3h48.9v2.1h-48.9z" fill="#ff5000"/>
<path d="M68.5 1325.2h48.9v2.4h-48.9zM68.5 1598.9h48.9v2.3h-48.9zM68.5 1695.7h48.9v2.1h-48.9z" fill="#ff4d00"/>
<path d="M68.5 1327.3h48.9v2.4h-48.9zM68.5 1639.4h48.9v2.1h-48.9zM68.5 1873h48.9v2.1h-48.9zM68.5 1905h48.9v2.3h-48.9zM68.5 2336.3h48.9v2.1h-48.9z" fill="#ff5500"/>
<path d="M68.5 1329.4h48.9v2.4h-48.9zM68.5 1780.7h48.9v2.2h-48.9zM68.5 1826.1h48.9v2.1h-48.9zM68.5 2119.6h48.9v2.1h-48.9z" fill="#ff5100"/>
<path d="M68.5 1331.5h48.9v2.4h-48.9zM68.5 1641.3h48.9v2.1h-48.9zM68.5 1782.6h48.9v2.2h-48.9z" fill="#ff6000"/>
<path d="M68.5 1333.6h48.9v2.1h-48.9zM68.5 1463.1h48.9v2.1h-48.9zM68.5 1571.9h48.9v2.1h-48.9z" fill="#ffc800"/>
<path d="M68.5 1335.5h48.9v2.1h-48.9zM68.5 1442.4h48.9v2.3h-48.9z" fill="#ff9700"/>
<path d="M68.5 1339.6h48.9v2.4h-48.9z" fill="#ff9500"/>
<path d="M68.5 1341.8h48.9v2.4h-48.9zM68.5 1552.6h48.9v2.3h-48.9zM68.5 1807.3h48.9v2.1h-48.9zM68.5 1842h48.9v2.4h-48.9zM68.5 1933.4h48.9v2.3h-48.9zM68.5 2109.8h48.9v2.4h-48.9z" fill="#ff7800"/>
<path d="M68.5 1344h48.9v1.8h-48.9z" fill="#ff9f00"/>
<path d="M68.5 1345.6h48.9v1.8h-48.9zM68.5 1820.4h48.9v2.1h-48.9zM68.5 1844.2h48.9v2.4h-48.9zM68.5 2006.1h48.9v2.1h-48.9z" fill="#ff7a00"/>
<path d="M68.5 1347.1h48.9v1.8h-48.9z" fill="#1af623"/>
<path d="M68.5 1348.6h48.9v1.8h-48.9z" fill="#15f73d"/>
<path d="M68.5 1350.1h48.9v2.6h-48.9zM68.5 1991.1h48.9v2.1h-48.9z" fill="#edec00"/>
<path d="M68.5 1352.5h48.9v2.6h-48.9z" fill="#f7e700"/>
<path d="M68.5 1354.8h48.9v2.6h-48.9zM68.5 1719.1h48.9v2.1h-48.9z" fill="#fee400"/>
<path d="M68.5 1357.1h48.9v3.1h-48.9zM68.5 1537.2h48.9v2.1h-48.9zM68.5 1737h48.9v2.1h-48.9zM68.5 2155.2h48.9v2.2h-48.9zM68.5 2257.5h48.9v2.3h-48.9zM68.5 2315.6h48.9v2.2h-48.9zM68.5 2324.1h48.9v2.4h-48.9z" fill="#ff3f00"/>
<path d="M68.5 1359.9h48.9v3.1h-48.9zM68.5 1421.8h48.9v2.1h-48.9zM68.5 2354.4h48.9v1.8h-48.9z" fill="#ffbf00"/>
<path d="M68.5 1362.7h48.9v2.4h-48.9zM68.5 1750.1h48.9v2.1h-48.9zM68.5 1816.7h48.9v2.1h-48.9zM68.5 1839.7h48.9v2.6h-48.9zM68.5 2048.9h48.9v2.3h-48.9z" fill="#ff9800"/>
<path d="M68.5 1364.9h48.9v2.4h-48.9zM68.5 1722.9h48.9v2.1h-48.9zM68.5 1891.9h48.9v2.4h-48.9zM68.5 2107.7h48.9v2.4h-48.9z" fill="#ff8800"/>
<path d="M68.5 1367.1h48.9v2.4h-48.9zM68.5 1604.3h48.9v1.8h-48.9zM68.5 2096.2h48.9v4h-48.9z" fill="#ff7600"/>
<path d="M68.5 1369.3h48.9v2.1h-48.9z" fill="#ffd400"/>
<path d="M68.5 1371.2h48.9v2.1h-48.9zM68.5 1465h48.9v2.1h-48.9zM68.5 1882.6h48.9v2.4h-48.9z" fill="#ffe400"/>
<path d="M68.5 1373h48.9v2.1h-48.9zM68.5 1989.3h48.9v2.1h-48.9zM68.5 2180.6h48.9v2.1h-48.9zM68.5 2288.5h48.9v2.1h-48.9z" fill="#ffd500"/>
<path d="M68.5 1374.9h48.9v2.1h-48.9zM68.5 1523.1h48.9v2.1h-48.9zM68.5 1587.8h48.9v2.1h-48.9z" fill="#ffa500"/>
<path d="M68.5 1376.8h48.9v2.1h-48.9zM68.5 1744.5h48.9v2.1h-48.9z" fill="#ffb300"/>
<path d="M68.5 1378.7h48.9v2.1h-48.9zM68.5 1851.8h48.9v1.9h-48.9zM68.5 2162.8h48.9v2.1h-48.9zM68.5 2168.4h48.9v2.1h-48.9zM68.5 2192.8h48.9v2.1h-48.9zM68.5 2292.2h48.9v2.3h-48.9zM68.5 2365.4h48.9v2.1h-48.9z" fill="#ff3900"/>
<path d="M68.5 1380.5h48.9v2.1h-48.9zM68.5 1619.7h48.9v3.1h-48.9zM68.5 1974.2h48.9v2.1h-48.9zM68.5 2286.6h48.9v2.1h-48.9zM68.5 2311.7h48.9v2.2h-48.9zM68.5 2343.8h48.9v3.1h-48.9z" fill="#ff3500"/>
<path d="M68.5 1382.4h48.9v2.4h-48.9zM68.5 1797.7h48.9v2.2h-48.9zM68.5 2125.3h48.9v3.1h-48.9zM68.5 2212h48.9v2.3h-48.9z" fill="#ff8b00"/>
<path d="M68.5 1384.6h48.9v2.4h-48.9zM68.5 1405.7h48.9v2.3h-48.9zM68.5 1724.8h48.9v2.1h-48.9zM68.5 1818.6h48.9v2.1h-48.9zM68.5 2050.9h48.9v2.3h-48.9zM68.5 2204h48.9v2.1h-48.9z" fill="#ff9200"/>
<path d="M68.5 1386.8h48.9v2.4h-48.9zM68.5 1414.5h48.9v2h-48.9zM68.5 2092.4h48.9v2.1h-48.9zM68.5 2105.6h48.9v2.4h-48.9zM68.5 2317.5h48.9v3.1h-48.9z" fill="#ff8400"/>
<path d="M68.5 1389h48.9v2.4h-48.9zM68.5 1468.7h48.9v2.3h-48.9zM68.5 1837.3h48.9v2.6h-48.9zM68.5 1894.1h48.9v2.4h-48.9zM68.5 2147.4h48.9v2.2h-48.9zM68.5 2176.8h48.9v2.1h-48.9z" fill="#ff7200"/>
<path d="M68.5 1391.1h48.9v2.4h-48.9z" fill="#ff6300"/>
<path d="M68.5 1393.2h48.9v2.4h-48.9zM68.5 1911.2h48.9v2.3h-48.9z" fill="#ff4e00"/>
<path d="M68.5 1395.3h48.9v2.4h-48.9zM68.5 2160.9h48.9v2.1h-48.9zM68.5 2298.3h48.9v2.3h-48.9z" fill="#ff4600"/>
<path d="M68.5 1397.4h48.9v1.8h-48.9zM68.5 1401.5h48.9v2.3h-48.9zM68.5 1457.4h48.9v2.1h-48.9zM68.5 1855.1h48.9v2.1h-48.9zM68.5 1999.3h48.9v2.4h-48.9zM68.5 2009.9h48.9v2.1h-48.9zM68.5 2046.9h48.9v2.3h-48.9zM68.5 2182.5h48.9v2.3h-48.9z" fill="#ff8e00"/>
<path d="M68.5 1398.9h48.9v2.9h-48.9zM68.5 1790.4h48.9v1.9h-48.9z" fill="#1cf51d"/>
<path d="M68.5 1403.6h48.9v2.3h-48.9zM68.5 1622.5h48.9v2.1h-48.9z" fill="#ff8600"/>
<path d="M68.5 1407.7h48.9v1.8h-48.9z" fill="#5cf90c"/>
<path d="M68.5 1409.3h48.9v1.8h-48.9z" fill="#89fc07"/>
<path d="M68.5 1410.9h48.9v2h-48.9zM68.5 1857h48.9v2.1h-48.9zM68.5 1931.3h48.9v2.3h-48.9zM68.5 2054.9h48.9v2.1h-48.9zM68.5 2186.6h48.9v2.3h-48.9z" fill="#ff8500"/>
<path d="M68.5 1412.7h48.9v2h-48.9zM68.5 1554.6h48.9v2.3h-48.9zM68.5 1680h48.9v2.4h-48.9zM68.5 2084.9h48.9v2.1h-48.9zM68.5 2088.7h48.9v2.1h-48.9z" fill="#ff8000"/>
<path d="M68.5 1416.3h48.9v2h-48.9zM68.5 1444.5h48.9v2.3h-48.9zM68.5 1529.7h48.9v2.1h-48.9zM68.5 1628.2h48.9v2.1h-48.9zM68.5 1682.1h48.9v2.4h-48.9zM68.5 1793.8h48.9v2.2h-48.9z" fill="#ff8d00"/>
<path d="M68.5 1418.1h48.9v2.1h-48.9z" fill="#ffc500"/>
<path d="M68.5 1419.9h48.9v2.1h-48.9z" fill="#ffd200"/>
<path d="M68.5 1423.7h48.9v2.1h-48.9zM68.5 1494h48.9v2.1h-48.9z" fill="#ffaa00"/>
<path d="M68.5 1425.6h48.9v2.1h-48.9zM68.5 2064.3h48.9v2.1h-48.9z" fill="#ffb700"/>
<path d="M68.5 1429.3h48.9v2.1h-48.9zM68.5 1688.6h48.9v2.6h-48.9zM68.5 1803.5h48.9v2.1h-48.9z" fill="#f4e900"/>
<path d="M68.5 1431.2h48.9v3.1h-48.9zM68.5 1967.7h48.9v2.1h-48.9zM68.5 1981.9h48.9v1.9h-48.9z" fill="#ff5700"/>
<path d="M68.5 1434h48.9v3.1h-48.9zM68.5 1562.5h48.9v2.1h-48.9z" fill="#ffa400"/>
<path d="M68.5 1436.8h48.9v3.1h-48.9z" fill="#ffd800"/>
<path d="M68.5 1439.6h48.9v3.1h-48.9zM68.5 1481.8h48.9v3.1h-48.9zM68.5 1533.4h48.9v2.1h-48.9zM68.5 1652.5h48.9v3.1h-48.9zM68.5 1948h48.9v3.1h-48.9zM68.5 2034.3h48.9v2.4h-48.9zM68.5 2077.4h48.9v2.1h-48.9zM68.5 2300.3h48.9v2.3h-48.9zM68.5 2356h48.9v2.1h-48.9z" fill="#ff3700"/>
<path d="M68.5 1446.6h48.9v2.3h-48.9zM68.5 1626.3h48.9v2.1h-48.9zM68.5 1708.8h48.9v2.3h-48.9zM68.5 1728.5h48.9v4h-48.9zM68.5 1987.4h48.9v2.1h-48.9zM68.5 1995.1h48.9v2.4h-48.9zM68.5 2090.6h48.9v2.1h-48.9zM68.5 2231.2h48.9v3.1h-48.9z" fill="#ff8100"/>
<path d="M68.5 1448.6h48.9v2.3h-48.9zM68.5 1631.9h48.9v2.1h-48.9zM68.5 1896.2h48.9v2.4h-48.9z" fill="#ff8c00"/>
<path d="M68.5 1450.7h48.9v2.3h-48.9zM68.5 1889.8h48.9v2.4h-48.9zM68.5 2083h48.9v2.1h-48.9zM68.5 2209.9h48.9v2.3h-48.9zM68.5 2224.5h48.9v2.3h-48.9z" fill="#ff9a00"/>
<path d="M68.5 1452.8h48.9v3.1h-48.9zM68.5 1543.2h48.9v2.3h-48.9z" fill="#e4f000"/>
<path d="M68.5 1455.6h48.9v2.1h-48.9zM68.5 1732.3h48.9v2.6h-48.9zM68.5 1799.6h48.9v2.2h-48.9zM68.5 2008h48.9v2.1h-48.9zM68.5 2094.3h48.9v2.1h-48.9zM68.5 2284.7h48.9v2.1h-48.9z" fill="#ff8f00"/>
<path d="M68.5 1461.2h48.9v2.1h-48.9zM68.5 1607.5h48.9v3.1h-48.9zM68.5 1686.3h48.9v2.6h-48.9z" fill="#ffd900"/>
<path d="M68.5 1466.8h48.9v2.1h-48.9zM68.5 1775.1h48.9v2.4h-48.9z" fill="#f2ea00"/>
<path d="M68.5 1470.8h48.9v2.3h-48.9zM68.5 1645h48.9v2.1h-48.9zM68.5 2123.4h48.9v2.1h-48.9z" fill="#ff4a00"/>
<path d="M68.5 1474.9h48.9v2.3h-48.9zM68.5 1764.6h48.9v2.3h-48.9zM68.5 2115.9h48.9v2.1h-48.9zM68.5 2196.5h48.9v2.1h-48.9z" fill="#ff4900"/>
<path d="M68.5 1477h48.9v2.3h-48.9zM68.5 1922.7h48.9v2.1h-48.9z" fill="#ff6100"/>
<path d="M68.5 1479h48.9v3.1h-48.9z" fill="#12f748"/>
<path d="M68.5 1484.6h48.9v2.1h-48.9zM68.5 1659.1h48.9v2.1h-48.9zM68.5 1822.3h48.9v2.1h-48.9zM68.5 2052.9h48.9v2.3h-48.9zM68.5 2222.4h48.9v2.3h-48.9z" fill="#ff8700"/>
<path d="M68.5 1486.5h48.9v2.1h-48.9zM68.5 1490.3h48.9v2.1h-48.9z" fill="#ff6b00"/>
<path d="M68.5 1488.4h48.9v2.1h-48.9zM68.5 1874.8h48.9v4h-48.9zM68.5 1958.3h48.9v2.1h-48.9zM68.5 2151.3h48.9v2.2h-48.9zM68.5 2173.1h48.9v2.1h-48.9z" fill="#ff5600"/>
<path d="M68.5 1495.9h48.9v2.1h-48.9zM68.5 1937.5h48.9v2.3h-48.9zM68.5 2060.5h48.9v2.1h-48.9z" fill="#ffa000"/>
<path d="M68.5 1499.7h48.9v2.1h-48.9zM68.5 1614.1h48.9v2.1h-48.9z" fill="#ffb800"/>
<path d="M68.5 1501.5h48.9v2.1h-48.9z" fill="#ffab00"/>
<path d="M68.5 1503.4h48.9v2.1h-48.9z" fill="#ffad00"/>
<path d="M68.5 1505.3h48.9v2.1h-48.9zM68.5 1742.6h48.9v2.1h-48.9zM68.5 2062.4h48.9v2.1h-48.9z" fill="#ffb600"/>
<path d="M68.5 1509h48.9v3.1h-48.9zM68.5 1605.9h48.9v1.8h-48.9zM68.5 1624.4h48.9v2.1h-48.9zM68.5 1655.4h48.9v2.1h-48.9zM68.5 1801.6h48.9v2.2h-48.9zM68.5 2079.3h48.9v2.1h-48.9z" fill="#ff7b00"/>
<path d="M68.5 1511.8h48.9v2.4h-48.9z" fill="#a4fd04"/>
<path d="M68.5 1514h48.9v2.4h-48.9z" fill="#91fc06"/>
<path d="M68.5 1516.1h48.9v2.4h-48.9z" fill="#7afb09"/>
<path d="M68.5 1518.2h48.9v2.4h-48.9z" fill="#9dfd05"/>
<path d="M68.5 1520.3h48.9v3.1h-48.9zM68.5 1535.3h48.9v2.1h-48.9zM68.5 2164.6h48.9v2.1h-48.9zM68.5 2243.9h48.9v2.3h-48.9zM68.5 2326.2h48.9v2.4h-48.9z" fill="#ff4100"/>
<path d="M68.5 1525h48.9v2.1h-48.9zM68.5 1582.2h48.9v2.1h-48.9zM68.5 1676h48.9v2.1h-48.9zM68.5 1706h48.9v3.1h-48.9zM68.5 2021.1h48.9v2.1h-48.9zM68.5 2235.9h48.9v2.1h-48.9z" fill="#ffb900"/>
<path d="M68.5 1531.5h48.9v2.1h-48.9zM68.5 1866.7h48.9v2.4h-48.9z" fill="#ff9000"/>
<path d="M68.5 1539h48.9v2.3h-48.9zM68.5 1545.2h48.9v2.3h-48.9zM68.5 2290.3h48.9v2.1h-48.9z" fill="#ffda00"/>
<path d="M68.5 1547.3h48.9v2.3h-48.9zM68.5 1978h48.9v2.5h-48.9z" fill="#ffd700"/>
<path d="M68.5 1549.4h48.9v1.8h-48.9z" fill="#12e8f5"/>
<path d="M68.5 1551h48.9v1.8h-48.9z" fill="#12e8f3"/>
<path d="M68.5 1556.7h48.9v2.3h-48.9zM68.5 1748.2h48.9v2.1h-48.9zM68.5 2218.2h48.9v2.3h-48.9z" fill="#ff7d00"/>
<path d="M68.5 1558.7h48.9v2.1h-48.9zM68.5 1898.3h48.9v4.9h-48.9z" fill="#b4fe02"/>
<path d="M68.5 1560.6h48.9v2.1h-48.9z" fill="#b6fe02"/>
<path d="M68.5 1564.4h48.9v2.1h-48.9z" fill="#ffbe00"/>
<path d="M68.5 1566.2h48.9v2.1h-48.9z" fill="#8bfc07"/>
<path d="M68.5 1568.1h48.9v2.1h-48.9z" fill="#cbfb00"/>
<path d="M68.5 1570h48.9v2.1h-48.9zM68.5 1684.2h48.9v2.4h-48.9zM68.5 1811h48.9v2.1h-48.9zM68.5 2188.7h48.9v2.3h-48.9zM68.5 2214h48.9v2.3h-48.9z" fill="#ff7c00"/>
<path d="M68.5 1573.8h48.9v2.1h-48.9zM68.5 1954.6h48.9v4h-48.9z" fill="#ffb000"/>
<path d="M68.5 1575.6h48.9v3.1h-48.9zM68.5 1814.8h48.9v2.1h-48.9zM68.5 1868.9h48.9v2.4h-48.9zM68.5 2207.8h48.9v2.3h-48.9z" fill="#ff9300"/>
<path d="M68.5 1580.3h48.9v2.1h-48.9zM68.5 1738.8h48.9v2.1h-48.9zM68.5 2068h48.9v2.1h-48.9zM68.5 2138.4h48.9v2.1h-48.9zM68.5 2352.8h48.9v1.8h-48.9z" fill="#ffae00"/>
<path d="M68.5 1584.1h48.9v2.1h-48.9zM68.5 2200.3h48.9v2.1h-48.9z" fill="#ffca00"/>
<path d="M68.5 1585.9h48.9v2.1h-48.9z" fill="#ffb400"/>
<path d="M68.5 1589.7h48.9v2.1h-48.9zM68.5 1670.4h48.9v2.1h-48.9zM68.5 1831.7h48.9v2.1h-48.9zM68.5 2134.6h48.9v2.1h-48.9z" fill="#ffb100"/>
<path d="M68.5 1591.6h48.9v1.8h-48.9z" fill="#92fc06"/>
<path d="M68.5 1593.2h48.9v1.8h-48.9zM68.5 2058.7h48.9v2.1h-48.9z" fill="#cafc00"/>
<path d="M68.5 1594.8h48.9v2.3h-48.9zM68.5 1699.4h48.9v2.1h-48.9zM68.5 1766.7h48.9v2.3h-48.9z" fill="#ff6400"/>
<path d="M68.5 1596.8h48.9v2.3h-48.9zM68.5 1829.8h48.9v2.1h-48.9zM68.5 2338.2h48.9v2.1h-48.9z" fill="#ff5e00"/>
<path d="M68.5 1601h48.9v1.9h-48.9z" fill="#53f80e"/>
<path d="M68.5 1602.6h48.9v1.9h-48.9z" fill="#21f514"/>
<path d="M68.5 1610.3h48.9v2.1h-48.9zM68.5 1950.8h48.9v2.1h-48.9z" fill="#ffa100"/>
<path d="M68.5 1612.2h48.9v2.1h-48.9zM68.5 1650.7h48.9v2.1h-48.9z" fill="#ffa900"/>
<path d="M68.5 1616h48.9v2.1h-48.9z" fill="#ffb200"/>
<path d="M68.5 1617.8h48.9v2.1h-48.9zM68.5 2028.6h48.9v2.1h-48.9z" fill="#ffaf00"/>
<path d="M68.5 1630h48.9v2.1h-48.9zM68.5 1633.8h48.9v2.1h-48.9z" fill="#ff7900"/>
<path d="M68.5 1635.7h48.9v2.1h-48.9zM68.5 1646.9h48.9v2.1h-48.9z" fill="#ff4f00"/>
<path d="M68.5 1637.5h48.9v2.1h-48.9zM68.5 2114h48.9v2.1h-48.9zM68.5 2278.1h48.9v2.1h-48.9z" fill="#ff6200"/>
<path d="M68.5 1643.2h48.9v2.1h-48.9zM68.5 1788.5h48.9v2.2h-48.9zM68.5 1827.9h48.9v2.1h-48.9z" fill="#ff5d00"/>
<path d="M68.5 1648.8h48.9v2.1h-48.9zM68.5 2136.5h48.9v2.1h-48.9z" fill="#ffa200"/>
<path d="M68.5 1657.2h48.9v2.1h-48.9zM68.5 1677.9h48.9v2.4h-48.9zM68.5 1734.6h48.9v2.6h-48.9zM68.5 1768.7h48.9v2.3h-48.9zM68.5 1858.9h48.9v2.1h-48.9zM68.5 1909.2h48.9v2.3h-48.9zM68.5 1929.2h48.9v2.3h-48.9zM68.5 2040.8h48.9v2.3h-48.9zM68.5 2086.8h48.9v2.1h-48.9z" fill="#ff6f00"/>
<path d="M68.5 1661h48.9v2.1h-48.9zM68.5 1717.1h48.9v2.3h-48.9zM68.5 2099.9h48.9v2.1h-48.9z" fill="#ff7f00"/>
<path d="M68.5 1662.9h48.9v2.1h-48.9z" fill="#ff9d00"/>
<path d="M68.5 1664.7h48.9v2.1h-48.9z" fill="#3af711"/>
<path d="M68.5 1666.6h48.9v2.1h-48.9z" fill="#23f513"/>
<path d="M68.5 1668.5h48.9v2.1h-48.9zM68.5 1833.6h48.9v2.1h-48.9zM68.5 2140.3h48.9v2.1h-48.9z" fill="#ffc600"/>
<path d="M68.5 1672.2h48.9v2.1h-48.9zM68.5 1915.2h48.9v2.1h-48.9zM68.5 2024.9h48.9v2.1h-48.9z" fill="#ffa600"/>
<path d="M68.5 1693.8h48.9v2.1h-48.9zM68.5 1960.2h48.9v2.1h-48.9z" fill="#ff4700"/>
<path d="M68.5 1697.6h48.9v2.1h-48.9zM68.5 1918.9h48.9v2.1h-48.9z" fill="#ff6600"/>
<path d="M68.5 1701.3h48.9v2.6h-48.9z" fill="#f8e700"/>
<path d="M68.5 1703.7h48.9v2.6h-48.9z" fill="#ffcf00"/>
<path d="M68.5 1712.9h48.9v2.3h-48.9zM68.5 1812.9h48.9v2.1h-48.9zM68.5 1969.6h48.9v2.6h-48.9zM68.5 2019.3h48.9v2.1h-48.9z" fill="#ff7400"/>
<path d="M68.5 1715h48.9v2.3h-48.9zM68.5 2346.6h48.9v2.1h-48.9z" fill="#ff6a00"/>
<path d="M68.5 1721h48.9v2.1h-48.9z" fill="#e3f100"/>
<path d="M68.5 1726.6h48.9v2.1h-48.9z" fill="#ff8a00"/>
<path d="M68.5 1740.7h48.9v2.1h-48.9zM68.5 1809.2h48.9v2.1h-48.9zM68.5 1993h48.9v2.4h-48.9z" fill="#ff9900"/>
<path d="M68.5 1746.3h48.9v2.1h-48.9z" fill="#ff6d00"/>
<path d="M68.5 1752h48.9v1.8h-48.9z" fill="#03fa8a"/>
<path d="M68.5 1753.6h48.9v1.8h-48.9z" fill="#00fa98"/>
<path d="M68.5 1755.1h48.9v1.9h-48.9z" fill="#c1ff00"/>
<path d="M68.5 1756.8h48.9v1.9h-48.9z" fill="#bafe01"/>
<path d="M68.5 1758.5h48.9v2.3h-48.9zM68.5 2130.3h48.9v2.4h-48.9zM68.5 2255.5h48.9v2.3h-48.9zM68.5 2274.2h48.9v2.3h-48.9z" fill="#ff4500"/>
<path d="M68.5 1760.6h48.9v2.3h-48.9zM68.5 1784.6h48.9v2.2h-48.9zM68.5 2149.3h48.9v2.2h-48.9z" fill="#ff5300"/>
<path d="M68.5 1762.6h48.9v2.3h-48.9z" fill="#ff5400"/>
<path d="M68.5 1770.7h48.9v2.4h-48.9zM68.5 2198.4h48.9v2.1h-48.9z" fill="#f6e800"/>
<path d="M68.5 1772.9h48.9v2.4h-48.9z" fill="#fbe600"/>
<path d="M68.5 1777.3h48.9v1.9h-48.9z" fill="#1af627"/>
<path d="M68.5 1779h48.9v1.9h-48.9z" fill="#18f62f"/>
<path d="M68.5 1786.5h48.9v2.2h-48.9zM68.5 1871.1h48.9v2.1h-48.9zM68.5 2175h48.9v2.1h-48.9zM68.5 2341.9h48.9v2.1h-48.9z" fill="#ff5c00"/>
<path d="M68.5 1792.1h48.9v1.9h-48.9z" fill="#1df518"/>
<path d="M68.5 1795.7h48.9v2.2h-48.9zM68.5 2015.5h48.9v2.1h-48.9zM68.5 2205.9h48.9v2.1h-48.9z" fill="#ff7e00"/>
<path d="M68.5 1805.4h48.9v2.1h-48.9z" fill="#ffdb00"/>
<path d="M68.5 1824.2h48.9v2.1h-48.9z" fill="#ff6e00"/>
<path d="M68.5 1848.6h48.9v1.8h-48.9z" fill="#46f70f"/>
<path d="M68.5 1850.2h48.9v1.8h-48.9z" fill="#22f513"/>
<path d="M68.5 1853.4h48.9v1.9h-48.9zM68.5 2036.5h48.9v2.4h-48.9zM68.5 2128.1h48.9v2.4h-48.9zM68.5 2237.8h48.9v2.3h-48.9zM68.5 2241.9h48.9v2.3h-48.9zM68.5 2259.6h48.9v2.3h-48.9zM68.5 2263.8h48.9v2.3h-48.9zM68.5 2272.1h48.9v2.3h-48.9zM68.5 2367.2h48.9v2.1h-48.9z" fill="#ff3800"/>
<path d="M68.5 1860.8h48.9v2.1h-48.9z" fill="#d8f500"/>
<path d="M68.5 1862.6h48.9v2.1h-48.9zM68.5 1884.8h48.9v2.4h-48.9z" fill="#ffe000"/>
<path d="M68.5 1864.5h48.9v2.4h-48.9zM68.5 2170.3h48.9v3.1h-48.9z" fill="#ff9600"/>
<path d="M68.5 1880.5h48.9v2.4h-48.9z" fill="#d9f500"/>
<path d="M68.5 1887h48.9v3.1h-48.9zM68.5 1976.1h48.9v2.1h-48.9zM68.5 2239.8h48.9v2.3h-48.9zM68.5 2296.3h48.9v2.3h-48.9zM68.5 2302.4h48.9v2.3h-48.9zM68.5 2309.7h48.9v2.2h-48.9z" fill="#ff3b00"/>
<path d="M68.5 1913.3h48.9v2.1h-48.9zM68.5 2159h48.9v2.1h-48.9z" fill="#ffa800"/>
<path d="M68.5 1917h48.9v2.1h-48.9z" fill="#ff7000"/>
<path d="M68.5 1924.5h48.9v2.6h-48.9z" fill="#b5fe02"/>
<path d="M68.5 1926.9h48.9v2.6h-48.9z" fill="#bbff01"/>
<path d="M68.5 1939.5h48.9v2.4h-48.9z" fill="#f3e900"/>
<path d="M68.5 1941.7h48.9v2.4h-48.9z" fill="#ffce00"/>
<path d="M68.5 1943.8h48.9v2.4h-48.9z" fill="#ddf300"/>
<path d="M68.5 1945.9h48.9v2.4h-48.9z" fill="#f0eb00"/>
<path d="M68.5 1952.7h48.9v2.1h-48.9zM68.5 2228.9h48.9v2.6h-48.9z" fill="#ffbc00"/>
<path d="M68.5 1962.1h48.9v2.1h-48.9z" fill="#ff5b00"/>
<path d="M68.5 1963.9h48.9v2.1h-48.9zM68.5 2348.5h48.9v2.1h-48.9z" fill="#ff5200"/>
<path d="M68.5 1965.8h48.9v2.1h-48.9zM68.5 2142.1h48.9v2.1h-48.9zM68.5 2340h48.9v2.1h-48.9z" fill="#ff6900"/>
<path d="M68.5 1971.9h48.9v2.6h-48.9zM68.5 2111.9h48.9v2.4h-48.9z" fill="#ff7300"/>
<path d="M68.5 1980.3h48.9v1.9h-48.9z" fill="#ff6800"/>
<path d="M68.5 1983.6h48.9v2.1h-48.9z" fill="#ff9c00"/>
<path d="M68.5 1997.2h48.9v2.4h-48.9zM68.5 2042.9h48.9v2.3h-48.9zM68.5 2216.1h48.9v2.3h-48.9zM68.5 2282.8h48.9v2.1h-48.9z" fill="#ff9100"/>
<path d="M68.5 2001.4h48.9v2.6h-48.9z" fill="#76fa09"/>
<path d="M68.5 2003.8h48.9v2.6h-48.9z" fill="#d2f800"/>
<path d="M68.5 2011.8h48.9v4h-48.9zM68.5 2101.8h48.9v4h-48.9z" fill="#ffffff"/>
<path d="M68.5 2023h48.9v2.1h-48.9z" fill="#ffbd00"/>
<path d="M68.5 2026.8h48.9v2.1h-48.9zM68.5 2066.2h48.9v2.1h-48.9z" fill="#ffc200"/>
<path d="M68.5 2030.5h48.9v2.1h-48.9z" fill="#ffc400"/>
<path d="M68.5 2038.7h48.9v2.4h-48.9zM68.5 2069.9h48.9v2.1h-48.9zM68.5 2294.2h48.9v2.3h-48.9zM68.5 2357.9h48.9v2.1h-48.9zM68.5 2372.3h48.9v2.5h-48.9z" fill="#ff3400"/>
<path d="M68.5 2044.9h48.9v2.3h-48.9zM68.5 2202.2h48.9v2.1h-48.9z" fill="#ff8200"/>
<path d="M68.5 2056.8h48.9v2.1h-48.9z" fill="#cdfb00"/>
<path d="M68.5 2071.8h48.9v2.1h-48.9zM68.5 2350.4h48.9v2.7h-48.9zM68.5 2370.7h48.9v1.8h-48.9z" fill="#ff3d00"/>
<path d="M68.5 2073.7h48.9v2.1h-48.9zM68.5 2245.9h48.9v2.3h-48.9zM68.5 2363.5h48.9v2.1h-48.9z" fill="#ff4000"/>
<path d="M68.5 2075.5h48.9v2.1h-48.9zM68.5 2132.4h48.9v2.4h-48.9z" fill="#ff3e00"/>
<path d="M68.5 2121.5h48.9v2.1h-48.9z" fill="#ff6500"/>
<path d="M68.5 2144h48.9v1.9h-48.9z" fill="#14e1fe"/>
<path d="M68.5 2145.7h48.9v1.9h-48.9z" fill="#14dcfe"/>
<path d="M68.5 2166.5h48.9v2.1h-48.9zM68.5 2261.7h48.9v2.3h-48.9zM68.5 2307.8h48.9v2.2h-48.9zM68.5 2313.6h48.9v2.2h-48.9z" fill="#ff3c00"/>
<path d="M68.5 2178.7h48.9v2.1h-48.9z" fill="#e9ee00"/>
<path d="M68.5 2184.5h48.9v2.3h-48.9z" fill="#ff9400"/>
<path d="M68.5 2194.7h48.9v2.1h-48.9zM68.5 2265.9h48.9v4.4h-48.9z" fill="#ff4300"/>
<path d="M68.5 2226.6h48.9v2.6h-48.9z" fill="#ffc300"/>
<path d="M68.5 2234.1h48.9v2.1h-48.9z" fill="#ffba00"/>
<path d="M68.5 2248h48.9v2.3h-48.9zM68.5 2270h48.9v2.3h-48.9zM68.5 2332.5h48.9v2.1h-48.9zM68.5 2376.9h48.9v2.5h-48.9z" fill="#ff3600"/>
<path d="M68.5 2250h48.9v1.9h-48.9z" fill="#03fa8b"/>
<path d="M68.5 2251.7h48.9v1.9h-48.9z" fill="#01fa94"/>
<path d="M68.5 2253.4h48.9v2.3h-48.9zM68.5 2328.3h48.9v4.5h-48.9zM68.5 2361.6h48.9v2.1h-48.9zM68.5 2374.6h48.9v2.5h-48.9z" fill="#ff3a00"/>
<path d="M68.5 2304.4h48.9v1.9h-48.9z" fill="#22f514"/>
<path d="M68.5 2306.1h48.9v1.9h-48.9z" fill="#12f749"/>
<path d="M68.5 2320.3h48.9v2.1h-48.9z" fill="#c8fd00"/>
<path d="M68.5 2322.2h48.9v2.1h-48.9z" fill="#a3fd04"/>
<path d="M68.5 2334.4h48.9v2.1h-48.9zM68.5 2369.1h48.9v1.8h-48.9z" fill="#ff4200"/>
<path d="M68.5 2359.7h48.9v2.1h-48.9z" fill="#ff4800"/>
<path d="M117.2 1298.2h50.5v2.9h-50.5zM117.2 1331.5h50.5v2.4h-50.5zM117.2 1448.6h50.5v2.3h-50.5zM117.2 1726.6h50.5v2.1h-50.5zM117.2 1939.5h50.5v2.4h-50.5zM117.2 1987.4h50.5v2.1h-50.5zM117.2 2184.5h50.5v2.3h-50.5zM117.2 2209.9h50.5v2.3h-50.5z" fill="#ff5f00"/>
<path d="M117.2 1300.8h50.5v2.6h-50.5zM117.2 1511.8h50.5v2.4h-50.5z" fill="#ffba00"/>
<path d="M117.2 1303.2h50.5v2.6h-50.5z" fill="#ffc700"/>
<path d="M117.2 1305.5h50.5v2.6h-50.5zM117.2 1444.5h50.5v2.3h-50.5zM117.2 1809.2h50.5v2.1h-50.5zM117.2 1814.8h50.5v2.1h-50.5zM117.2 1905h50.5v2.3h-50.5zM117.2 2017.4h50.5v2.1h-50.5z" fill="#ff6700"/>
<path d="M117.2 1307.8h50.5v2.6h-50.5zM117.2 1414.5h50.5v2h-50.5zM117.2 1560.6h50.5v2.1h-50.5zM117.2 1610.3h50.5v2.1h-50.5zM117.2 1668.5h50.5v2.1h-50.5zM117.2 2140.3h50.5v2.1h-50.5z" fill="#ff8200"/>
<path d="M117.2 1310.2h50.5v2.6h-50.5zM117.2 1455.6h50.5v2.1h-50.5z" fill="#ffb400"/>
<path d="M117.2 1312.5h50.5v2.6h-50.5zM117.2 1354.8h50.5v2.6h-50.5z" fill="#ffaf00"/>
<path d="M117.2 1314.9h50.5v3.1h-50.5zM117.2 1429.3h50.5v2.1h-50.5zM117.2 1525h50.5v2.1h-50.5zM117.2 1612.2h50.5v2.1h-50.5z" fill="#ff8c00"/>
<path d="M117.2 1317.7h50.5v2.1h-50.5zM117.2 1827.9h50.5v4h-50.5zM117.2 1948h50.5v3.1h-50.5zM117.2 2149.3h50.5v2.2h-50.5zM117.2 2162.8h50.5v4h-50.5zM117.2 2369.1h50.5v1.8h-50.5z" fill="#ff3b00"/>
<path d="M117.2 1319.6h50.5v2.1h-50.5zM117.2 1380.5h50.5v2.1h-50.5zM117.2 1391.1h50.5v2.4h-50.5zM117.2 1737h50.5v2.1h-50.5zM117.2 2075.5h50.5v2.1h-50.5zM117.2 2114h50.5v2.1h-50.5zM117.2 2123.4h50.5v2.1h-50.5zM117.2 2128.1h50.5v2.4h-50.5zM117.2 2160.9h50.5v2.1h-50.5zM117.2 2173.1h50.5v2.1h-50.5zM117.2 2257.5h50.5v4.4h-50.5zM117.2 2270h50.5v2.3h-50.5zM117.2 2370.7h50.5v1.8h-50.5z" fill="#ff3800"/>
<path d="M117.2 1321.4h50.5v2.1h-50.5zM117.2 1533.4h50.5v2.1h-50.5zM117.2 1619.7h50.5v3.1h-50.5zM117.2 1652.5h50.5v3.1h-50.5zM117.2 1874.8h50.5v2.1h-50.5zM117.2 1917h50.5v5.9h-50.5zM117.2 2069.9h50.5v2.1h-50.5zM117.2 2077.4h50.5v2.1h-50.5zM117.2 2151.3h50.5v2.2h-50.5zM117.2 2168.4h50.5v2.1h-50.5zM117.2 2175h50.5v2.1h-50.5z" fill="#ff3700"/>
<path d="M117.2 1323.3h50.5v2.1h-50.5zM117.2 1481.8h50.5v3.1h-50.5zM117.2 1594.8h50.5v2.3h-50.5zM117.2 1960.2h50.5v2.1h-50.5zM117.2 1981.9h50.5v1.9h-50.5zM117.2 2276.3h50.5v2.1h-50.5zM117.2 2296.3h50.5v2.3h-50.5zM117.2 2313.6h50.5v2.2h-50.5zM117.2 2348.5h50.5v2.1h-50.5z" fill="#ff3900"/>
<path d="M117.2 1325.2h50.5v2.4h-50.5zM117.2 1641.3h50.5v2.1h-50.5zM117.2 1708.8h50.5v2.3h-50.5zM117.2 1903h50.5v2.3h-50.5zM117.2 1995.1h50.5v2.4h-50.5zM117.2 2098.1h50.5v4h-50.5z" fill="#ff5500"/>
<path d="M117.2 1327.3h50.5v4.5h-50.5zM117.2 1657.2h50.5v2.1h-50.5zM117.2 2040.8h50.5v2.3h-50.5zM117.2 2336.3h50.5v2.1h-50.5z" fill="#ff4d00"/>
<path d="M117.2 1333.6h50.5v2.1h-50.5z" fill="#ffb500"/>
<path d="M117.2 1335.5h50.5v2.1h-50.5zM117.2 1352.5h50.5v2.6h-50.5zM117.2 1457.4h50.5v2.1h-50.5z" fill="#ffac00"/>
<path d="M117.2 1337.4h50.5v2.4h-50.5zM117.2 1423.7h50.5v2.1h-50.5zM117.2 1526.9h50.5v3.1h-50.5zM117.2 1793.8h50.5v2.2h-50.5zM117.2 1915.2h50.5v2.1h-50.5zM117.2 1933.4h50.5v2.3h-50.5zM117.2 1969.6h50.5v2.6h-50.5z" fill="#ff8100"/>
<path d="M117.2 1339.6h50.5v2.4h-50.5zM117.2 1412.7h50.5v2h-50.5zM117.2 1860.8h50.5v2.1h-50.5z" fill="#ff8e00"/>
<path d="M117.2 1341.8h50.5v2.4h-50.5zM117.2 1397.4h50.5v1.8h-50.5zM117.2 1495.9h50.5v2.1h-50.5zM117.2 1523.1h50.5v2.1h-50.5zM117.2 1648.8h50.5v2.1h-50.5z" fill="#ff7b00"/>
<path d="M117.2 1344h50.5v1.8h-50.5zM117.2 1421.8h50.5v2.1h-50.5zM117.2 2204h50.5v2.1h-50.5z" fill="#ff9800"/>
<path d="M117.2 1345.6h50.5v1.8h-50.5zM117.2 1801.6h50.5v2.2h-50.5zM117.2 2042.9h50.5v2.3h-50.5z" fill="#ff7500"/>
<path d="M117.2 1347.1h50.5v1.8h-50.5zM117.2 1465h50.5v2.1h-50.5zM117.2 1516.1h50.5v2.4h-50.5z" fill="#ffc900"/>
<path d="M117.2 1348.6h50.5v1.8h-50.5z" fill="#ffc400"/>
<path d="M117.2 1350.1h50.5v2.6h-50.5z" fill="#ffca00"/>
<path d="M117.2 1357.1h50.5v3.1h-50.5zM117.2 1633.8h50.5v2.1h-50.5zM117.2 1699.4h50.5v2.1h-50.5zM117.2 1812.9h50.5v2.1h-50.5zM117.2 1846.4h50.5v2.4h-50.5z" fill="#ff4800"/>
<path d="M117.2 1359.9h50.5v3.1h-50.5z" fill="#f7e800"/>
<path d="M117.2 1362.7h50.5v2.4h-50.5zM117.2 1463.1h50.5v2.1h-50.5zM117.2 1582.2h50.5v2.1h-50.5zM117.2 1864.5h50.5v2.4h-50.5zM117.2 2066.2h50.5v2.1h-50.5zM117.2 2178.7h50.5v2.1h-50.5z" fill="#ff9300"/>
<path d="M117.2 1364.9h50.5v2.4h-50.5zM117.2 1614.1h50.5v2.1h-50.5zM117.2 1931.3h50.5v2.3h-50.5z" fill="#ff8b00"/>
<path d="M117.2 1367.1h50.5v2.4h-50.5zM117.2 1425.6h50.5v4h-50.5zM117.2 1434h50.5v3.1h-50.5z" fill="#ff7d00"/>
<path d="M117.2 1369.3h50.5v2.1h-50.5zM117.2 1382.4h50.5v2.4h-50.5zM117.2 1497.8h50.5v2.1h-50.5zM117.2 1882.6h50.5v2.4h-50.5z" fill="#ff9f00"/>
<path d="M117.2 1371.2h50.5v2.1h-50.5z" fill="#ffb600"/>
<path d="M117.2 1373h50.5v2.1h-50.5z" fill="#ffa100"/>
<path d="M117.2 1374.9h50.5v2.1h-50.5zM117.2 1416.3h50.5v2h-50.5zM117.2 1585.9h50.5v2.1h-50.5zM117.2 1676h50.5v2.1h-50.5zM117.2 2054.9h50.5v2.1h-50.5zM117.2 2138.4h50.5v2.1h-50.5z" fill="#ff8a00"/>
<path d="M117.2 1376.8h50.5v2.1h-50.5zM117.2 2032.4h50.5v2.1h-50.5z" fill="#ff8500"/>
<path d="M117.2 1378.7h50.5v2.1h-50.5zM117.2 1472.8h50.5v2.3h-50.5zM117.2 1477h50.5v2.3h-50.5zM117.2 1876.7h50.5v2.1h-50.5zM117.2 1922.7h50.5v2.1h-50.5zM117.2 1963.9h50.5v2.1h-50.5zM117.2 2117.8h50.5v2.1h-50.5zM117.2 2267.9h50.5v2.3h-50.5zM117.2 2309.7h50.5v2.2h-50.5zM117.2 2357.9h50.5v2.1h-50.5z" fill="#ff3c00"/>
<path d="M117.2 1384.6h50.5v2.4h-50.5zM117.2 1418.1h50.5v2.1h-50.5zM117.2 1839.7h50.5v2.6h-50.5zM117.2 1991.1h50.5v2.1h-50.5zM117.2 2234.1h50.5v2.1h-50.5z" fill="#ff9700"/>
<path d="M117.2 1386.8h50.5v2.4h-50.5zM117.2 2030.5h50.5v2.1h-50.5zM117.2 2170.3h50.5v3.1h-50.5zM117.2 2235.9h50.5v2.1h-50.5z" fill="#ff8f00"/>
<path d="M117.2 1389h50.5v2.4h-50.5zM117.2 1492.2h50.5v2.1h-50.5zM117.2 1635.7h50.5v2.1h-50.5zM117.2 1907.1h50.5v2.3h-50.5zM117.2 2006.1h50.5v2.1h-50.5zM117.2 2231.2h50.5v3.1h-50.5z" fill="#ff4a00"/>
<path d="M117.2 1393.2h50.5v2.4h-50.5zM117.2 2111.9h50.5v2.4h-50.5zM117.2 2147.4h50.5v2.2h-50.5zM117.2 2245.9h50.5v2.3h-50.5zM117.2 2326.2h50.5v2.4h-50.5zM117.2 2350.4h50.5v2.7h-50.5z" fill="#ff4700"/>
<path d="M117.2 1395.3h50.5v2.4h-50.5zM117.2 1693.8h50.5v2.1h-50.5zM117.2 2253.4h50.5v2.3h-50.5zM117.2 2332.5h50.5v2.1h-50.5z" fill="#ff3d00"/>
<path d="M117.2 1398.9h50.5v2.9h-50.5z" fill="#17f632"/>
<path d="M117.2 1401.5h50.5v2.3h-50.5zM117.2 1746.3h50.5v2.1h-50.5zM117.2 1943.8h50.5v2.4h-50.5z" fill="#ff7000"/>
<path d="M117.2 1403.6h50.5v2.3h-50.5zM117.2 1631.9h50.5v2.1h-50.5zM117.2 1978h50.5v2.5h-50.5zM117.2 2008h50.5v2.1h-50.5zM117.2 2048.9h50.5v2.3h-50.5zM117.2 2090.6h50.5v2.1h-50.5zM117.2 2207.8h50.5v2.3h-50.5z" fill="#ff5c00"/>
<path d="M117.2 1405.7h50.5v2.3h-50.5zM117.2 1706h50.5v3.1h-50.5zM117.2 2105.6h50.5v2.4h-50.5zM117.2 2282.8h50.5v2.1h-50.5zM117.2 2338.2h50.5v4h-50.5z" fill="#ff6400"/>
<path d="M117.2 1407.7h50.5v1.8h-50.5zM117.2 1591.6h50.5v1.8h-50.5z" fill="#ffc100"/>
<path d="M117.2 1409.3h50.5v1.8h-50.5zM117.2 1770.7h50.5v2.4h-50.5z" fill="#ffbf00"/>
<path d="M117.2 1410.9h50.5v2h-50.5zM117.2 1484.6h50.5v2.1h-50.5zM117.2 1499.7h50.5v2.1h-50.5zM117.2 1558.7h50.5v2.1h-50.5zM117.2 1688.6h50.5v2.6h-50.5zM117.2 1797.7h50.5v2.2h-50.5zM117.2 1868.9h50.5v2.4h-50.5z" fill="#ff8900"/>
<path d="M117.2 1419.9h50.5v2.1h-50.5zM117.2 1580.3h50.5v2.1h-50.5zM117.2 1799.6h50.5v2.2h-50.5z" fill="#ff9000"/>
<path d="M117.2 1431.2h50.5v3.1h-50.5zM117.2 1446.6h50.5v2.3h-50.5zM117.2 2241.9h50.5v2.3h-50.5z" fill="#ff5600"/>
<path d="M117.2 1436.8h50.5v3.1h-50.5zM117.2 1795.7h50.5v2.2h-50.5z" fill="#ff7700"/>
<path d="M117.2 1439.6h50.5v3.1h-50.5zM117.2 1537.2h50.5v2.1h-50.5zM117.2 1758.5h50.5v2.3h-50.5zM117.2 1980.3h50.5v1.9h-50.5zM117.2 2036.5h50.5v2.4h-50.5zM117.2 2176.8h50.5v2.1h-50.5zM117.2 2286.6h50.5v2.1h-50.5zM117.2 2361.6h50.5v2.1h-50.5z" fill="#ff4000"/>
<path d="M117.2 1442.4h50.5v2.3h-50.5zM117.2 1552.6h50.5v2.3h-50.5zM117.2 1722.9h50.5v2.1h-50.5zM117.2 1786.5h50.5v2.2h-50.5zM117.2 1855.1h50.5v2.1h-50.5zM117.2 2046.9h50.5v2.3h-50.5zM117.2 2050.9h50.5v2.3h-50.5z" fill="#ff6100"/>
<path d="M117.2 1450.7h50.5v2.3h-50.5zM117.2 1643.2h50.5v2.1h-50.5zM117.2 1811h50.5v2.1h-50.5zM117.2 2044.9h50.5v2.3h-50.5zM117.2 2109.8h50.5v2.4h-50.5zM117.2 2237.8h50.5v2.3h-50.5zM117.2 2280h50.5v3.1h-50.5z" fill="#ff5800"/>
<path d="M117.2 1452.8h50.5v3.1h-50.5z" fill="#ffcd00"/>
<path d="M117.2 1459.3h50.5v2.1h-50.5z" fill="#ffa800"/>
<path d="M117.2 1461.2h50.5v2.1h-50.5zM117.2 1593.2h50.5v1.8h-50.5z" fill="#ffb000"/>
<path d="M117.2 1466.8h50.5v2.1h-50.5z" fill="#ffab00"/>
<path d="M117.2 1468.7h50.5v4.4h-50.5zM117.2 2166.5h50.5v2.1h-50.5zM117.2 2188.7h50.5v2.3h-50.5zM117.2 2298.3h50.5v2.3h-50.5z" fill="#ff4500"/>
<path d="M117.2 1474.9h50.5v2.3h-50.5zM117.2 1826.1h50.5v2.1h-50.5zM117.2 1958.3h50.5v2.1h-50.5zM117.2 1962.1h50.5v2.1h-50.5zM117.2 2142.1h50.5v2.1h-50.5zM117.2 2263.8h50.5v2.3h-50.5zM117.2 2292.2h50.5v2.3h-50.5zM117.2 2300.3h50.5v2.3h-50.5zM117.2 2372.3h50.5v2.5h-50.5z" fill="#ff3500"/>
<path d="M117.2 1479h50.5v3.1h-50.5z" fill="#e8ee00"/>
<path d="M117.2 1486.5h50.5v2.1h-50.5zM117.2 1605.9h50.5v1.8h-50.5zM117.2 1719.1h50.5v2.1h-50.5zM117.2 1862.6h50.5v2.1h-50.5zM117.2 1894.1h50.5v2.4h-50.5zM117.2 1950.8h50.5v2.1h-50.5zM117.2 2024.9h50.5v2.1h-50.5z" fill="#ff7a00"/>
<path d="M117.2 1488.4h50.5v2.1h-50.5zM117.2 1715h50.5v2.3h-50.5zM117.2 1780.7h50.5v2.2h-50.5z" fill="#ff4e00"/>
<path d="M117.2 1490.3h50.5v2.1h-50.5z" fill="#ff6000"/>
<path d="M117.2 1494h50.5v2.1h-50.5z" fill="#ff6f00"/>
<path d="M117.2 1501.5h50.5v2.1h-50.5zM117.2 1509h50.5v3.1h-50.5zM117.2 2028.6h50.5v2.1h-50.5zM117.2 2062.4h50.5v2.1h-50.5zM117.2 2159h50.5v2.1h-50.5zM117.2 2202.2h50.5v2.1h-50.5z" fill="#ff7900"/>
<path d="M117.2 1503.4h50.5v2.1h-50.5zM117.2 1571.9h50.5v2.1h-50.5zM117.2 2023h50.5v2.1h-50.5zM117.2 2157.1h50.5v2.1h-50.5z" fill="#ff8d00"/>
<path d="M117.2 1505.3h50.5v2.1h-50.5zM117.2 1616h50.5v2.1h-50.5z" fill="#ff9100"/>
<path d="M117.2 1507.2h50.5v2.1h-50.5zM117.2 1529.7h50.5v4h-50.5zM117.2 1954.6h50.5v4h-50.5z" fill="#ff8600"/>
<path d="M117.2 1514h50.5v2.4h-50.5zM117.2 1880.5h50.5v2.4h-50.5z" fill="#ffc600"/>
<path d="M117.2 1518.2h50.5v2.4h-50.5z" fill="#ffbe00"/>
<path d="M117.2 1520.3h50.5v3.1h-50.5zM117.2 1626.3h50.5v2.1h-50.5zM117.2 1712.9h50.5v2.3h-50.5zM117.2 2359.7h50.5v2.1h-50.5z" fill="#ff4c00"/>
<path d="M117.2 1535.3h50.5v2.1h-50.5zM117.2 1768.7h50.5v2.3h-50.5zM117.2 2155.2h50.5v2.2h-50.5zM117.2 2265.9h50.5v2.3h-50.5z" fill="#ff4300"/>
<path d="M117.2 1539h50.5v2.3h-50.5zM117.2 1547.3h50.5v2.3h-50.5z" fill="#ffa000"/>
<path d="M117.2 1541.1h50.5v2.3h-50.5zM117.2 2003.8h50.5v2.6h-50.5z" fill="#ffbb00"/>
<path d="M117.2 1543.2h50.5v2.3h-50.5zM117.2 2352.8h50.5v1.8h-50.5z" fill="#ffcf00"/>
<path d="M117.2 1545.2h50.5v2.3h-50.5zM117.2 1607.5h50.5v3.1h-50.5z" fill="#ff9a00"/>
<path d="M117.2 1549.4h50.5v1.8h-50.5z" fill="#1df517"/>
<path d="M117.2 1551h50.5v1.8h-50.5z" fill="#1ef514"/>
<path d="M117.2 1554.6h50.5v2.3h-50.5zM117.2 1630h50.5v2.1h-50.5zM117.2 1851.8h50.5v1.9h-50.5zM117.2 2239.8h50.5v2.3h-50.5z" fill="#ff5000"/>
<path d="M117.2 1556.7h50.5v2.3h-50.5zM117.2 1911.2h50.5v2.3h-50.5zM117.2 2086.8h50.5v2.1h-50.5zM117.2 2261.7h50.5v2.3h-50.5z" fill="#ff4b00"/>
<path d="M117.2 1562.5h50.5v2.1h-50.5z" fill="#ffb800"/>
<path d="M117.2 1564.4h50.5v2.1h-50.5zM117.2 2198.4h50.5v2.1h-50.5z" fill="#ffbc00"/>
<path d="M117.2 1566.2h50.5v2.1h-50.5zM117.2 2322.2h50.5v2.1h-50.5z" fill="#efeb00"/>
<path d="M117.2 1568.1h50.5v2.1h-50.5z" fill="#ffe400"/>
<path d="M117.2 1570h50.5v2.1h-50.5zM117.2 1661h50.5v2.1h-50.5zM117.2 1684.2h50.5v2.4h-50.5zM117.2 1717.1h50.5v2.3h-50.5zM117.2 1730.4h50.5v2.1h-50.5zM117.2 1853.4h50.5v1.9h-50.5zM117.2 2081.2h50.5v2.1h-50.5zM117.2 2084.9h50.5v2.1h-50.5zM117.2 2088.7h50.5v2.1h-50.5zM117.2 2248h50.5v2.3h-50.5z" fill="#ff5400"/>
<path d="M117.2 1573.8h50.5v2.1h-50.5zM117.2 1803.5h50.5v2.1h-50.5zM117.2 1866.7h50.5v2.4h-50.5zM117.2 1971.9h50.5v2.6h-50.5z" fill="#ff8000"/>
<path d="M117.2 1575.6h50.5v3.1h-50.5zM117.2 1999.3h50.5v2.4h-50.5z" fill="#ff6800"/>
<path d="M117.2 1578.4h50.5v2.1h-50.5zM117.2 1952.7h50.5v2.1h-50.5z" fill="#ff8700"/>
<path d="M117.2 1584.1h50.5v2.1h-50.5zM117.2 1674.1h50.5v2.1h-50.5zM117.2 1889.8h50.5v2.4h-50.5zM117.2 1937.5h50.5v2.3h-50.5zM117.2 2228.9h50.5v2.6h-50.5z" fill="#ff9200"/>
<path d="M117.2 1587.8h50.5v2.1h-50.5zM117.2 1748.2h50.5v2.1h-50.5zM117.2 1929.2h50.5v2.3h-50.5zM117.2 2060.5h50.5v2.1h-50.5z" fill="#ff7200"/>
<path d="M117.2 1589.7h50.5v2.1h-50.5zM117.2 1750.1h50.5v2.1h-50.5zM117.2 1833.6h50.5v2.1h-50.5z" fill="#ff9600"/>
<path d="M117.2 1596.8h50.5v2.3h-50.5zM117.2 2038.7h50.5v2.4h-50.5zM117.2 2196.5h50.5v2.1h-50.5zM117.2 2274.2h50.5v2.3h-50.5zM117.2 2311.7h50.5v2.2h-50.5zM117.2 2334.4h50.5v2.1h-50.5z" fill="#ff3e00"/>
<path d="M117.2 1598.9h50.5v2.3h-50.5zM117.2 1873h50.5v2.1h-50.5zM117.2 2330.4h50.5v2.4h-50.5zM117.2 2343.8h50.5v3.1h-50.5z" fill="#ff3400"/>
<path d="M117.2 1601h50.5v1.9h-50.5z" fill="#f9e700"/>
<path d="M117.2 1602.6h50.5v1.9h-50.5z" fill="#f0eb00"/>
<path d="M117.2 1604.3h50.5v1.8h-50.5zM117.2 1805.4h50.5v2.1h-50.5zM117.2 1835.4h50.5v2.1h-50.5z" fill="#ff7f00"/>
<path d="M117.2 1617.8h50.5v2.1h-50.5zM117.2 2094.3h50.5v2.1h-50.5z" fill="#ff7600"/>
<path d="M117.2 1622.5h50.5v2.1h-50.5zM117.2 1782.6h50.5v2.2h-50.5zM117.2 1822.3h50.5v2.1h-50.5zM117.2 1945.9h50.5v2.4h-50.5zM117.2 1997.2h50.5v2.4h-50.5zM117.2 2212h50.5v2.3h-50.5z" fill="#ff6200"/>
<path d="M117.2 1624.4h50.5v2.1h-50.5zM117.2 2218.2h50.5v2.3h-50.5z" fill="#ff5b00"/>
<path d="M117.2 1628.2h50.5v2.1h-50.5zM117.2 1682.1h50.5v2.4h-50.5zM117.2 1989.3h50.5v2.1h-50.5zM117.2 2083h50.5v2.1h-50.5z" fill="#ff6a00"/>
<path d="M117.2 1637.5h50.5v2.1h-50.5zM117.2 1691h50.5v3.1h-50.5zM117.2 1818.6h50.5v2.1h-50.5zM117.2 2009.9h50.5v2.1h-50.5z" fill="#ff6900"/>
<path d="M117.2 1639.4h50.5v2.1h-50.5zM117.2 1659.1h50.5v2.1h-50.5z" fill="#ff5200"/>
<path d="M117.2 1645h50.5v2.1h-50.5zM117.2 2019.3h50.5v2.1h-50.5zM117.2 2096.2h50.5v2.1h-50.5zM117.2 2214h50.5v2.3h-50.5zM117.2 2317.5h50.5v3.1h-50.5zM117.2 2341.9h50.5v2.1h-50.5z" fill="#ff5300"/>
<path d="M117.2 1646.9h50.5v2.1h-50.5zM117.2 1655.4h50.5v2.1h-50.5zM117.2 2052.9h50.5v2.3h-50.5zM117.2 2107.7h50.5v2.4h-50.5z" fill="#ff5d00"/>
<path d="M117.2 1650.7h50.5v2.1h-50.5zM117.2 1670.4h50.5v2.1h-50.5zM117.2 1738.8h50.5v2.1h-50.5zM117.2 1742.6h50.5v2.1h-50.5zM117.2 2134.6h50.5v2.1h-50.5z" fill="#ff7e00"/>
<path d="M117.2 1662.9h50.5v2.1h-50.5zM117.2 2224.5h50.5v2.3h-50.5z" fill="#ff7400"/>
<path d="M117.2 1664.7h50.5v2.1h-50.5z" fill="#ffd500"/>
<path d="M117.2 1666.6h50.5v2.1h-50.5zM117.2 2288.5h50.5v2.1h-50.5z" fill="#fee400"/>
<path d="M117.2 1672.2h50.5v2.1h-50.5z" fill="#ff6c00"/>
<path d="M117.2 1677.9h50.5v2.4h-50.5zM117.2 1766.7h50.5v2.3h-50.5zM117.2 1941.7h50.5v2.4h-50.5zM117.2 2015.5h50.5v2.1h-50.5z" fill="#ff4600"/>
<path d="M117.2 1680h50.5v2.4h-50.5zM117.2 2125.3h50.5v3.1h-50.5z" fill="#ff5900"/>
<path d="M117.2 1686.3h50.5v2.6h-50.5z" fill="#ff7100"/>
<path d="M117.2 1695.7h50.5v2.1h-50.5zM117.2 1764.6h50.5v2.3h-50.5zM117.2 1887h50.5v3.1h-50.5zM117.2 2034.3h50.5v2.4h-50.5zM117.2 2119.6h50.5v2.1h-50.5zM117.2 2130.3h50.5v2.4h-50.5zM117.2 2255.5h50.5v2.3h-50.5zM117.2 2272.1h50.5v2.3h-50.5zM117.2 2294.2h50.5v2.3h-50.5zM117.2 2307.8h50.5v2.2h-50.5zM117.2 2365.4h50.5v2.1h-50.5zM117.2 2376.9h50.5v2.5h-50.5z" fill="#ff3a00"/>
<path d="M117.2 1697.6h50.5v2.1h-50.5zM117.2 1762.6h50.5v2.3h-50.5zM117.2 1965.8h50.5v2.1h-50.5zM117.2 2071.8h50.5v2.1h-50.5zM117.2 2115.9h50.5v2.1h-50.5zM117.2 2132.4h50.5v2.4h-50.5zM117.2 2302.4h50.5v2.3h-50.5zM117.2 2315.6h50.5v2.2h-50.5zM117.2 2324.1h50.5v2.4h-50.5zM117.2 2356h50.5v2.1h-50.5z" fill="#ff3f00"/>
<path d="M117.2 1701.3h50.5v2.6h-50.5z" fill="#ffa400"/>
<path d="M117.2 1703.7h50.5v2.6h-50.5z" fill="#ff9b00"/>
<path d="M117.2 1710.9h50.5v2.3h-50.5zM117.2 1784.6h50.5v2.2h-50.5zM117.2 1788.5h50.5v2.2h-50.5zM117.2 2182.5h50.5v2.3h-50.5zM117.2 2186.6h50.5v2.3h-50.5z" fill="#ff5e00"/>
<path d="M117.2 1721h50.5v2.1h-50.5zM117.2 1732.3h50.5v2.6h-50.5z" fill="#ff9400"/>
<path d="M117.2 1724.8h50.5v2.1h-50.5z" fill="#ff6600"/>
<path d="M117.2 1728.5h50.5v2.1h-50.5zM117.2 2190.7h50.5v2.3h-50.5zM117.2 2216.1h50.5v2.3h-50.5z" fill="#ff5a00"/>
<path d="M117.2 1734.6h50.5v2.6h-50.5zM117.2 1983.6h50.5v2.1h-50.5zM117.2 1993h50.5v2.4h-50.5z" fill="#ff6d00"/>
<path d="M117.2 1740.7h50.5v2.1h-50.5zM117.2 1909.2h50.5v2.3h-50.5zM117.2 2068h50.5v2.1h-50.5z" fill="#ff7300"/>
<path d="M117.2 1744.5h50.5v2.1h-50.5zM117.2 1913.3h50.5v2.1h-50.5z" fill="#ff8300"/>
<path d="M117.2 1752h50.5v1.8h-50.5z" fill="#7efb08"/>
<path d="M117.2 1753.6h50.5v1.8h-50.5z" fill="#d7f600"/>
<path d="M117.2 1755.1h50.5v1.9h-50.5z" fill="#ffde00"/>
<path d="M117.2 1756.8h50.5v1.9h-50.5z" fill="#ffd900"/>
<path d="M117.2 1760.6h50.5v2.3h-50.5zM117.2 1871.1h50.5v2.1h-50.5zM117.2 1967.7h50.5v2.1h-50.5zM117.2 2121.5h50.5v2.1h-50.5zM117.2 2328.3h50.5v2.4h-50.5zM117.2 2367.2h50.5v2.1h-50.5z" fill="#ff3600"/>
<path d="M117.2 1772.9h50.5v2.4h-50.5zM117.2 1884.8h50.5v2.4h-50.5z" fill="#ffaa00"/>
<path d="M117.2 1775.1h50.5v2.4h-50.5z" fill="#ffc500"/>
<path d="M117.2 1777.3h50.5v1.9h-50.5z" fill="#84fb08"/>
<path d="M117.2 1779h50.5v1.9h-50.5z" fill="#88fb07"/>
<path d="M117.2 1790.4h50.5v1.9h-50.5z" fill="#d6f600"/>
<path d="M117.2 1792.1h50.5v1.9h-50.5z" fill="#cdfa00"/>
<path d="M117.2 1807.3h50.5v2.1h-50.5zM117.2 1824.2h50.5v2.1h-50.5zM117.2 2243.9h50.5v2.3h-50.5z" fill="#ff4900"/>
<path d="M117.2 1816.7h50.5v2.1h-50.5zM117.2 1976.1h50.5v2.1h-50.5z" fill="#ff5700"/>
<path d="M117.2 1820.4h50.5v2.1h-50.5zM117.2 1842h50.5v2.4h-50.5zM117.2 1974.2h50.5v2.1h-50.5zM117.2 2079.3h50.5v2.1h-50.5z" fill="#ff4f00"/>
<path d="M117.2 1831.7h50.5v2.1h-50.5zM117.2 1891.9h50.5v2.4h-50.5zM117.2 1935.4h50.5v2.3h-50.5zM117.2 2226.6h50.5v2.6h-50.5z" fill="#ff8800"/>
<path d="M117.2 1837.3h50.5v2.6h-50.5zM117.2 2021.1h50.5v2.1h-50.5zM117.2 2180.6h50.5v2.1h-50.5zM117.2 2205.9h50.5v2.1h-50.5z" fill="#ff8400"/>
<path d="M117.2 1844.2h50.5v2.4h-50.5zM117.2 2192.8h50.5v2.1h-50.5z" fill="#ff4200"/>
<path d="M117.2 1848.6h50.5v1.8h-50.5z" fill="#fde500"/>
<path d="M117.2 1850.2h50.5v1.8h-50.5z" fill="#ffe100"/>
<path d="M117.2 1857h50.5v2.1h-50.5zM117.2 2222.4h50.5v2.3h-50.5z" fill="#ff6500"/>
<path d="M117.2 1858.9h50.5v2.1h-50.5zM117.2 2374.6h50.5v2.5h-50.5z" fill="#ff4400"/>
<path d="M117.2 1878.6h50.5v2.1h-50.5zM117.2 2073.7h50.5v2.1h-50.5zM117.2 2153.2h50.5v2.2h-50.5zM117.2 2194.7h50.5v2.1h-50.5zM117.2 2278.1h50.5v2.1h-50.5zM117.2 2346.6h50.5v2.1h-50.5zM117.2 2363.5h50.5v2.1h-50.5z" fill="#ff4100"/>
<path d="M117.2 1896.2h50.5v2.4h-50.5z" fill="#ff9c00"/>
<path d="M117.2 1898.3h50.5v2.6h-50.5z" fill="#9efd04"/>
<path d="M117.2 1900.6h50.5v2.6h-50.5z" fill="#cefa00"/>
<path d="M117.2 1924.5h50.5v2.6h-50.5z" fill="#fce500"/>
<path d="M117.2 1926.9h50.5v2.6h-50.5z" fill="#ffe200"/>
<path d="M117.2 1985.5h50.5v2.1h-50.5zM117.2 2136.5h50.5v2.1h-50.5zM117.2 2284.7h50.5v2.1h-50.5z" fill="#ff6b00"/>
<path d="M117.2 2001.4h50.5v2.6h-50.5z" fill="#ffd200"/>
<path d="M117.2 2011.8h50.5v2.1h-50.5z" fill="#a03dfa"/>
<path d="M117.2 2013.6h50.5v2.1h-50.5z" fill="#a23dfa"/>
<path d="M117.2 2026.8h50.5v2.1h-50.5zM117.2 2064.3h50.5v2.1h-50.5z" fill="#ff9500"/>
<path d="M117.2 2056.8h50.5v2.1h-50.5z" fill="#2af613"/>
<path d="M117.2 2058.7h50.5v2.1h-50.5z" fill="#23f513"/>
<path d="M117.2 2092.4h50.5v2.1h-50.5zM117.2 2220.3h50.5v2.3h-50.5z" fill="#ff5100"/>
<path d="M117.2 2101.8h50.5v2.1h-50.5z" fill="#2137ec"/>
<path d="M117.2 2103.7h50.5v2.1h-50.5z" fill="#1b37eb"/>
<path d="M117.2 2144h50.5v1.9h-50.5z" fill="#13f745"/>
<path d="M117.2 2145.7h50.5v1.9h-50.5z" fill="#17f633"/>
<path d="M117.2 2200.3h50.5v2.1h-50.5z" fill="#ffa900"/>
<path d="M117.2 2250h50.5v1.9h-50.5z" fill="#cffa00"/>
<path d="M117.2 2251.7h50.5v1.9h-50.5z" fill="#bafe01"/>
<path d="M117.2 2290.3h50.5v2.1h-50.5z" fill="#ffd700"/>
<path d="M117.2 2304.4h50.5v1.9h-50.5z" fill="#adfe03"/>
<path d="M117.2 2306.1h50.5v1.9h-50.5z" fill="#82fb08"/>
<path d="M117.2 2320.3h50.5v2.1h-50.5z" fill="#ffd000"/>
<path d="M117.2 2354.4h50.5v1.8h-50.5z" fill="#ffe300"/>
<path d="M167.5 1298.2h50v2.9h-50zM167.5 1501.5h50v2.1h-50zM167.5 1556.7h50v2.3h-50zM167.5 1610.3h50v2.1h-50zM167.5 1622.5h50v2.1h-50zM167.5 1655.4h50v2.1h-50zM167.5 1801.6h50v2.2h-50zM167.5 2159h50v2.1h-50zM167.5 2214h50v2.3h-50z" fill="#ff5600"/>
<path d="M167.5 1300.8h50v2.6h-50zM167.5 1371.2h50v2.1h-50zM167.5 1374.9h50v2.1h-50zM167.5 2352.8h50v1.8h-50z" fill="#ff7c00"/>
<path d="M167.5 1303.2h50v2.6h-50zM167.5 1348.6h50v1.8h-50z" fill="#ff9700"/>
<path d="M167.5 1305.5h50v2.6h-50zM167.5 1717.1h50v2.3h-50zM167.5 1780.7h50v2.2h-50zM167.5 1958.3h50v2.1h-50zM167.5 2046.9h50v2.3h-50zM167.5 2147.4h50v2.2h-50zM167.5 2176.8h50v2.1h-50zM167.5 2239.8h50v2.3h-50z" fill="#ff4300"/>
<path d="M167.5 1307.8h50v2.6h-50zM167.5 1431.2h50v3.1h-50zM167.5 1444.5h50v2.3h-50zM167.5 1631.9h50v2.1h-50zM167.5 1866.7h50v2.4h-50zM167.5 1913.3h50v2.1h-50zM167.5 1931.3h50v2.3h-50zM167.5 2107.7h50v2.4h-50z" fill="#ff5900"/>
<path d="M167.5 1310.2h50v2.6h-50zM167.5 1526.9h50v3.1h-50z" fill="#ff8300"/>
<path d="M167.5 1312.5h50v2.6h-50zM167.5 1738.8h50v2.1h-50z" fill="#ff7900"/>
<path d="M167.5 1314.9h50v3.1h-50zM167.5 1350.1h50v2.6h-50z" fill="#ff9c00"/>
<path d="M167.5 1317.7h50v2.1h-50zM167.5 1389h50v2.4h-50zM167.5 1766.7h50v2.3h-50zM167.5 1782.6h50v2.2h-50zM167.5 1980.3h50v1.9h-50zM167.5 2166.5h50v2.1h-50zM167.5 2255.5h50v2.3h-50zM167.5 2278.1h50v2.1h-50zM167.5 2363.5h50v2.1h-50z" fill="#ff4200"/>
<path d="M167.5 1319.6h50v2.1h-50zM167.5 1378.7h50v2.1h-50zM167.5 1637.5h50v2.1h-50zM167.5 1693.8h50v2.1h-50zM167.5 1827.9h50v2.1h-50zM167.5 1967.7h50v2.1h-50zM167.5 1976.1h50v2.1h-50zM167.5 2008h50v2.1h-50zM167.5 2044.9h50v2.3h-50zM167.5 2153.2h50v2.2h-50zM167.5 2192.8h50v4h-50zM167.5 2270h50v2.3h-50zM167.5 2280h50v3.1h-50zM167.5 2309.7h50v2.2h-50zM167.5 2334.4h50v2.1h-50zM167.5 2340h50v2.1h-50z" fill="#ff3500"/>
<path d="M167.5 1321.4h50v4h-50zM167.5 1395.3h50v2.4h-50zM167.5 1403.6h50v2.3h-50zM167.5 1490.3h50v2.1h-50zM167.5 1533.4h50v2.1h-50zM167.5 1635.7h50v2.1h-50zM167.5 1643.2h50v2.1h-50zM167.5 1784.6h50v2.2h-50zM167.5 2038.7h50v2.4h-50zM167.5 2090.6h50v4h-50zM167.5 2098.1h50v2.1h-50zM167.5 2162.8h50v2.1h-50zM167.5 2173.1h50v2.1h-50zM167.5 2263.8h50v2.3h-50zM167.5 2276.3h50v2.1h-50zM167.5 2294.2h50v2.3h-50zM167.5 2307.8h50v2.2h-50z" fill="#ff3a00"/>
<path d="M167.5 1325.2h50v2.4h-50zM167.5 1345.6h50v1.8h-50zM167.5 1554.6h50v2.3h-50zM167.5 1677.9h50v2.4h-50zM167.5 1956.4h50v2.1h-50zM167.5 1978h50v2.5h-50zM167.5 2088.7h50v2.1h-50z" fill="#ff5100"/>
<path d="M167.5 1327.3h50v2.4h-50zM167.5 1626.3h50v2.1h-50zM167.5 1726.6h50v2.1h-50zM167.5 1748.2h50v2.1h-50zM167.5 1837.3h50v2.6h-50zM167.5 1929.2h50v2.3h-50zM167.5 1950.8h50v2.1h-50zM167.5 2028.6h50v2.1h-50zM167.5 2109.8h50v2.4h-50z" fill="#ff4d00"/>
<path d="M167.5 1329.4h50v2.4h-50zM167.5 1446.6h50v2.3h-50zM167.5 1587.8h50v2.1h-50zM167.5 2111.9h50v2.4h-50z" fill="#ff4f00"/>
<path d="M167.5 1331.5h50v2.4h-50zM167.5 1339.6h50v2.4h-50zM167.5 1896.2h50v2.4h-50zM167.5 2066.2h50v2.1h-50z" fill="#ff6f00"/>
<path d="M167.5 1333.6h50v2.1h-50zM167.5 1703.7h50v2.6h-50zM167.5 1880.5h50v2.4h-50zM167.5 2083h50v2.1h-50z" fill="#ff6b00"/>
<path d="M167.5 1335.5h50v2.1h-50zM167.5 1812.9h50v2.1h-50zM167.5 2009.9h50v2.1h-50z" fill="#ff4600"/>
<path d="M167.5 1337.4h50v2.4h-50zM167.5 1589.7h50v2.1h-50zM167.5 1935.4h50v2.3h-50zM167.5 2030.5h50v2.1h-50zM167.5 2186.6h50v2.3h-50zM167.5 2209.9h50v2.3h-50z" fill="#ff6100"/>
<path d="M167.5 1341.8h50v2.4h-50zM167.5 1661h50v2.1h-50zM167.5 1724.8h50v2.1h-50zM167.5 1734.6h50v2.6h-50z" fill="#ff5400"/>
<path d="M167.5 1344h50v1.8h-50zM167.5 1442.4h50v2.3h-50zM167.5 1614.1h50v2.1h-50zM167.5 1648.8h50v2.1h-50z" fill="#ff6c00"/>
<path d="M167.5 1347.1h50v1.8h-50zM167.5 1466.8h50v2.1h-50zM167.5 1835.4h50v2.1h-50zM167.5 2003.8h50v2.6h-50z" fill="#ff8400"/>
<path d="M167.5 1352.5h50v2.6h-50zM167.5 1514h50v2.4h-50zM167.5 1831.7h50v2.1h-50z" fill="#ff8b00"/>
<path d="M167.5 1354.8h50v2.6h-50zM167.5 1427.4h50v2.1h-50zM167.5 1740.7h50v2.1h-50z" fill="#ff7e00"/>
<path d="M167.5 1357.1h50v3.1h-50zM167.5 1855.1h50v2.1h-50zM167.5 2036.5h50v2.4h-50zM167.5 2040.8h50v2.3h-50zM167.5 2155.2h50v2.2h-50zM167.5 2188.7h50v2.3h-50zM167.5 2196.5h50v2.1h-50zM167.5 2282.8h50v2.1h-50z" fill="#ff4400"/>
<path d="M167.5 1359.9h50v3.1h-50zM167.5 2354.4h50v1.8h-50z" fill="#ff9100"/>
<path d="M167.5 1362.7h50v2.4h-50zM167.5 1369.3h50v2.1h-50zM167.5 1384.6h50v2.4h-50zM167.5 1607.5h50v3.1h-50zM167.5 1628.2h50v2.1h-50zM167.5 1860.8h50v2.1h-50z" fill="#ff7100"/>
<path d="M167.5 1364.9h50v2.4h-50zM167.5 1682.1h50v2.4h-50zM167.5 1730.4h50v2.1h-50zM167.5 2021.1h50v2.1h-50zM167.5 2218.2h50v2.3h-50z" fill="#ff5e00"/>
<path d="M167.5 1367.1h50v2.4h-50zM167.5 1820.4h50v2.1h-50zM167.5 1884.8h50v2.4h-50zM167.5 1954.6h50v2.1h-50zM167.5 2205.9h50v2.1h-50z" fill="#ff5200"/>
<path d="M167.5 1373h50v2.1h-50zM167.5 1523.1h50v2.1h-50zM167.5 1686.3h50v2.6h-50zM167.5 1945.9h50v2.4h-50zM167.5 2136.5h50v2.1h-50z" fill="#ff6e00"/>
<path d="M167.5 1376.8h50v2.1h-50zM167.5 1833.6h50v2.1h-50z" fill="#ff8900"/>
<path d="M167.5 1380.5h50v2.1h-50zM167.5 1598.9h50v2.3h-50zM167.5 1619.7h50v3.1h-50zM167.5 1645h50v2.1h-50zM167.5 1695.7h50v2.1h-50zM167.5 1708.8h50v4.4h-50zM167.5 1764.6h50v2.3h-50zM167.5 1786.5h50v2.2h-50zM167.5 1905h50v2.3h-50zM167.5 1999.3h50v2.4h-50zM167.5 2128.1h50v2.4h-50zM167.5 2248h50v2.3h-50zM167.5 2253.4h50v2.3h-50zM167.5 2343.8h50v3.1h-50zM167.5 2357.9h50v2.1h-50zM167.5 2369.1h50v1.8h-50z" fill="#ff3600"/>
<path d="M167.5 1382.4h50v2.4h-50zM167.5 1584.1h50v2.1h-50zM167.5 2204h50v2.1h-50zM167.5 2212h50v2.3h-50zM167.5 2235.9h50v2.1h-50z" fill="#ff6d00"/>
<path d="M167.5 1386.8h50v2.4h-50zM167.5 1416.3h50v2h-50zM167.5 1450.7h50v2.3h-50zM167.5 1571.9h50v2.1h-50zM167.5 1662.9h50v2.1h-50zM167.5 1799.6h50v2.2h-50zM167.5 1868.9h50v2.4h-50zM167.5 1952.7h50v2.1h-50zM167.5 2157.1h50v2.1h-50z" fill="#ff6500"/>
<path d="M167.5 1391.1h50v2.4h-50zM167.5 1646.9h50v2.1h-50zM167.5 1737h50v2.1h-50zM167.5 2006.1h50v2.1h-50zM167.5 2017.4h50v2.1h-50zM167.5 2119.6h50v2.1h-50zM167.5 2132.4h50v2.4h-50zM167.5 2151.3h50v2.2h-50zM167.5 2300.3h50v2.3h-50zM167.5 2376.9h50v2.5h-50z" fill="#ff3e00"/>
<path d="M167.5 1393.2h50v2.4h-50zM167.5 1477h50v2.3h-50zM167.5 1492.2h50v2.1h-50zM167.5 1535.3h50v2.1h-50zM167.5 1876.7h50v4h-50zM167.5 1911.2h50v2.3h-50zM167.5 1981.9h50v1.9h-50zM167.5 2042.9h50v2.3h-50zM167.5 2077.4h50v2.1h-50zM167.5 2245.9h50v2.3h-50zM167.5 2272.1h50v2.3h-50zM167.5 2284.7h50v2.1h-50zM167.5 2315.6h50v2.2h-50zM167.5 2328.3h50v2.4h-50zM167.5 2341.9h50v2.1h-50zM167.5 2356h50v2.1h-50zM167.5 2372.3h50v2.5h-50z" fill="#ff3c00"/>
<path d="M167.5 1397.4h50v1.8h-50zM167.5 1862.6h50v2.1h-50zM167.5 1989.3h50v2.1h-50z" fill="#ff5300"/>
<path d="M167.5 1398.9h50v2.9h-50z" fill="#b5fe02"/>
<path d="M167.5 1401.5h50v2.3h-50zM167.5 1520.3h50v3.1h-50zM167.5 1672.2h50v2.1h-50zM167.5 1795.7h50v2.2h-50zM167.5 1824.2h50v2.1h-50zM167.5 1909.2h50v2.3h-50z" fill="#ff4900"/>
<path d="M167.5 1405.7h50v2.3h-50zM167.5 1768.7h50v2.3h-50zM167.5 1960.2h50v2.1h-50zM167.5 1965.8h50v2.1h-50zM167.5 2015.5h50v2.1h-50zM167.5 2123.4h50v2.1h-50zM167.5 2241.9h50v2.3h-50zM167.5 2265.9h50v4.4h-50zM167.5 2346.6h50v2.1h-50z" fill="#ff4100"/>
<path d="M167.5 1407.7h50v1.8h-50zM167.5 1541.1h50v2.3h-50z" fill="#ff9600"/>
<path d="M167.5 1409.3h50v1.8h-50z" fill="#ff8d00"/>
<path d="M167.5 1410.9h50v2h-50zM167.5 1418.1h50v2.1h-50zM167.5 1421.8h50v2.1h-50zM167.5 1505.3h50v2.1h-50zM167.5 1552.6h50v2.3h-50zM167.5 1668.5h50v2.1h-50zM167.5 1864.5h50v2.4h-50z" fill="#ff5d00"/>
<path d="M167.5 1412.7h50v2h-50zM167.5 1529.7h50v4h-50zM167.5 1578.4h50v2.1h-50zM167.5 1624.4h50v2.1h-50zM167.5 1793.8h50v2.2h-50zM167.5 1882.6h50v2.4h-50zM167.5 1933.4h50v2.3h-50zM167.5 2023h50v4h-50zM167.5 2084.9h50v2.1h-50zM167.5 2317.5h50v3.1h-50z" fill="#ff5500"/>
<path d="M167.5 1414.5h50v2h-50zM167.5 1423.7h50v2.1h-50zM167.5 1484.6h50v2.1h-50zM167.5 1580.3h50v2.1h-50zM167.5 1807.3h50v2.1h-50zM167.5 1811h50v2.1h-50zM167.5 1891.9h50v2.4h-50zM167.5 2216.1h50v2.3h-50z" fill="#ff5700"/>
<path d="M167.5 1419.9h50v2.1h-50zM167.5 1809.2h50v2.1h-50zM167.5 1939.5h50v2.4h-50zM167.5 2054.9h50v2.1h-50zM167.5 2190.7h50v2.3h-50z" fill="#ff6600"/>
<path d="M167.5 1425.6h50v2.1h-50zM167.5 1499.7h50v2.1h-50zM167.5 1657.2h50v2.1h-50zM167.5 1684.2h50v2.4h-50zM167.5 1842h50v2.4h-50zM167.5 2079.3h50v2.1h-50z" fill="#ff5000"/>
<path d="M167.5 1429.3h50v2.1h-50zM167.5 2290.3h50v2.1h-50z" fill="#ffa000"/>
<path d="M167.5 1434h50v5.9h-50zM167.5 1486.5h50v2.1h-50zM167.5 1617.8h50v2.1h-50zM167.5 1633.8h50v2.1h-50zM167.5 1680h50v2.4h-50zM167.5 1894.1h50v2.4h-50zM167.5 1969.6h50v2.6h-50zM167.5 2068h50v2.1h-50zM167.5 2231.2h50v3.1h-50z" fill="#ff4c00"/>
<path d="M167.5 1439.6h50v3.1h-50zM167.5 1468.7h50v2.3h-50zM167.5 1652.5h50v3.1h-50zM167.5 1760.6h50v2.3h-50zM167.5 1788.5h50v2.2h-50zM167.5 1857h50v2.1h-50zM167.5 2048.9h50v2.3h-50zM167.5 2069.9h50v2.1h-50zM167.5 2130.3h50v2.4h-50zM167.5 2164.6h50v2.1h-50zM167.5 2261.7h50v2.3h-50zM167.5 2286.6h50v2.1h-50zM167.5 2298.3h50v2.3h-50zM167.5 2330.4h50v2.4h-50zM167.5 2348.5h50v2.1h-50z" fill="#ff3d00"/>
<path d="M167.5 1448.6h50v2.3h-50zM167.5 1582.2h50v2.1h-50zM167.5 1803.5h50v2.1h-50zM167.5 2125.3h50v3.1h-50z" fill="#ff5c00"/>
<path d="M167.5 1452.8h50v3.1h-50zM167.5 1463.1h50v2.1h-50zM167.5 1507.2h50v2.1h-50z" fill="#ff6900"/>
<path d="M167.5 1455.6h50v2.1h-50z" fill="#ff9000"/>
<path d="M167.5 1457.4h50v2.1h-50zM167.5 1543.2h50v2.3h-50z" fill="#ff9200"/>
<path d="M167.5 1459.3h50v2.1h-50zM167.5 1525h50v2.1h-50z" fill="#ff8e00"/>
<path d="M167.5 1461.2h50v2.1h-50z" fill="#ff8000"/>
<path d="M167.5 1465h50v2.1h-50z" fill="#ff9900"/>
<path d="M167.5 1470.8h50v2.3h-50zM167.5 1941.7h50v2.4h-50zM167.5 2052.9h50v2.3h-50zM167.5 2302.4h50v2.3h-50zM167.5 2326.2h50v2.4h-50z" fill="#ff4000"/>
<path d="M167.5 1472.8h50v4.4h-50zM167.5 1481.8h50v3.1h-50zM167.5 1639.4h50v2.1h-50zM167.5 1762.6h50v2.3h-50zM167.5 1873h50v2.1h-50zM167.5 1907.1h50v2.3h-50zM167.5 2075.5h50v2.1h-50zM167.5 2114h50v4h-50zM167.5 2121.5h50v2.1h-50zM167.5 2237.8h50v2.3h-50zM167.5 2311.7h50v2.2h-50zM167.5 2365.4h50v2.1h-50z" fill="#ff3700"/>
<path d="M167.5 1479h50v3.1h-50z" fill="#ffe200"/>
<path d="M167.5 1488.4h50v2.1h-50zM167.5 1537.2h50v2.1h-50zM167.5 1641.3h50v2.1h-50zM167.5 1699.4h50v2.1h-50zM167.5 1903h50v2.3h-50zM167.5 1918.9h50v4h-50zM167.5 1948h50v3.1h-50zM167.5 2071.8h50v4h-50zM167.5 2117.8h50v2.1h-50zM167.5 2175h50v2.1h-50zM167.5 2367.2h50v2.1h-50zM167.5 2370.7h50v1.8h-50z" fill="#ff3800"/>
<path d="M167.5 1494h50v2.1h-50zM167.5 1630h50v2.1h-50zM167.5 1846.4h50v2.4h-50z" fill="#ff4b00"/>
<path d="M167.5 1495.9h50v2.1h-50zM167.5 1670.4h50v2.1h-50zM167.5 1728.5h50v2.1h-50zM167.5 1844.2h50v2.4h-50z" fill="#ff4a00"/>
<path d="M167.5 1497.8h50v2.1h-50zM167.5 1706h50v3.1h-50zM167.5 1814.8h50v2.1h-50zM167.5 2228.9h50v2.6h-50z" fill="#ff6700"/>
<path d="M167.5 1503.4h50v2.1h-50zM167.5 1585.9h50v2.1h-50zM167.5 1943.8h50v2.4h-50zM167.5 2032.4h50v2.1h-50zM167.5 2081.2h50v2.1h-50zM167.5 2170.3h50v3.1h-50z" fill="#ff6300"/>
<path d="M167.5 1509h50v3.1h-50zM167.5 1605.9h50v1.8h-50z" fill="#ff7000"/>
<path d="M167.5 1511.8h50v2.4h-50z" fill="#ff9a00"/>
<path d="M167.5 1516.1h50v2.4h-50z" fill="#ff9b00"/>
<path d="M167.5 1518.2h50v2.4h-50zM167.5 1558.7h50v2.1h-50zM167.5 2140.3h50v2.1h-50z" fill="#ff8800"/>
<path d="M167.5 1539h50v2.3h-50z" fill="#ff8100"/>
<path d="M167.5 1545.2h50v2.3h-50z" fill="#ff7500"/>
<path d="M167.5 1547.3h50v2.3h-50zM167.5 1701.3h50v2.6h-50zM167.5 2138.4h50v2.1h-50z" fill="#ff7800"/>
<path d="M167.5 1549.4h50v1.8h-50z" fill="#1cf51b"/>
<path d="M167.5 1551h50v1.8h-50z" fill="#19f62a"/>
<path d="M167.5 1560.6h50v2.1h-50zM167.5 1742.6h50v2.1h-50z" fill="#ff7700"/>
<path d="M167.5 1562.5h50v2.1h-50z" fill="#ff7f00"/>
<path d="M167.5 1564.4h50v4h-50z" fill="#ff8f00"/>
<path d="M167.5 1568.1h50v2.1h-50zM167.5 2134.6h50v2.1h-50z" fill="#ff8700"/>
<path d="M167.5 1570h50v2.1h-50zM167.5 1971.9h50v2.6h-50zM167.5 2180.6h50v2.1h-50z" fill="#ff4e00"/>
<path d="M167.5 1573.8h50v2.1h-50zM167.5 1719.1h50v2.1h-50zM167.5 1822.3h50v2.1h-50z" fill="#ff5800"/>
<path d="M167.5 1575.6h50v3.1h-50zM167.5 1697.6h50v2.1h-50zM167.5 1963.9h50v2.1h-50zM167.5 1995.1h50v2.4h-50zM167.5 2034.3h50v2.4h-50zM167.5 2094.3h50v2.1h-50zM167.5 2168.4h50v2.1h-50zM167.5 2292.2h50v2.3h-50zM167.5 2313.6h50v2.2h-50zM167.5 2324.1h50v2.4h-50zM167.5 2338.2h50v2.1h-50zM167.5 2350.4h50v2.7h-50z" fill="#ff3b00"/>
<path d="M167.5 1591.6h50v1.8h-50zM167.5 1688.6h50v2.6h-50z" fill="#ff8c00"/>
<path d="M167.5 1593.2h50v1.8h-50zM167.5 1770.7h50v4.6h-50z" fill="#ff8a00"/>
<path d="M167.5 1594.8h50v2.3h-50zM167.5 1715h50v2.3h-50zM167.5 2274.2h50v2.3h-50zM167.5 2359.7h50v2.1h-50z" fill="#ff4500"/>
<path d="M167.5 1596.8h50v2.3h-50zM167.5 1974.2h50v2.1h-50zM167.5 2050.9h50v2.3h-50zM167.5 2332.5h50v2.1h-50zM167.5 2361.6h50v2.1h-50z" fill="#ff3400"/>
<path d="M167.5 1601h50v1.9h-50z" fill="#ffb800"/>
<path d="M167.5 1602.6h50v1.9h-50z" fill="#ffba00"/>
<path d="M167.5 1604.3h50v1.8h-50zM167.5 1616h50v2.1h-50zM167.5 2234.1h50v2.1h-50z" fill="#ff6a00"/>
<path d="M167.5 1612.2h50v2.1h-50zM167.5 1750.1h50v2.1h-50zM167.5 1991.1h50v2.1h-50zM167.5 2026.8h50v2.1h-50zM167.5 2105.6h50v2.4h-50zM167.5 2207.8h50v2.3h-50z" fill="#ff6200"/>
<path d="M167.5 1650.7h50v2.1h-50zM167.5 2224.5h50v2.3h-50z" fill="#ff7600"/>
<path d="M167.5 1659.1h50v2.1h-50zM167.5 1732.3h50v2.6h-50zM167.5 1915.2h50v2.1h-50zM167.5 2064.3h50v2.1h-50z" fill="#ff5a00"/>
<path d="M167.5 1664.7h50v2.1h-50z" fill="#ffd900"/>
<path d="M167.5 1666.6h50v2.1h-50zM167.5 2320.3h50v2.1h-50z" fill="#ffe000"/>
<path d="M167.5 1674.1h50v2.1h-50zM167.5 1721h50v2.1h-50zM167.5 1818.6h50v2.1h-50zM167.5 2226.6h50v2.6h-50z" fill="#ff6400"/>
<path d="M167.5 1676h50v2.1h-50zM167.5 1722.9h50v2.1h-50zM167.5 1983.6h50v2.1h-50zM167.5 2178.7h50v2.1h-50z" fill="#ff6800"/>
<path d="M167.5 1691h50v3.1h-50zM167.5 1839.7h50v2.6h-50zM167.5 1889.8h50v2.4h-50z" fill="#ff7300"/>
<path d="M167.5 1712.9h50v2.3h-50zM167.5 1758.5h50v2.3h-50zM167.5 1917h50v2.1h-50zM167.5 2096.2h50v2.1h-50zM167.5 2099.9h50v2.1h-50zM167.5 2160.9h50v2.1h-50zM167.5 2243.9h50v2.3h-50z" fill="#ff3f00"/>
<path d="M167.5 1744.5h50v2.1h-50z" fill="#ff8600"/>
<path d="M167.5 1746.3h50v2.1h-50zM167.5 1887h50v3.1h-50zM167.5 1993h50v2.4h-50zM167.5 2086.8h50v2.1h-50zM167.5 2202.2h50v2.1h-50z" fill="#ff4700"/>
<path d="M167.5 1752h50v1.8h-50z" fill="#f6e800"/>
<path d="M167.5 1753.6h50v1.8h-50z" fill="#ffd800"/>
<path d="M167.5 1755.1h50v1.9h-50z" fill="#ffdc00"/>
<path d="M167.5 1756.8h50v1.9h-50z" fill="#fce500"/>
<path d="M167.5 1775.1h50v2.4h-50z" fill="#ffa100"/>
<path d="M167.5 1777.3h50v1.9h-50z" fill="#ffb200"/>
<path d="M167.5 1779h50v1.9h-50z" fill="#ffc100"/>
<path d="M167.5 1790.4h50v1.9h-50z" fill="#ffdf00"/>
<path d="M167.5 1792.1h50v1.9h-50zM167.5 2250h50v1.9h-50z" fill="#ffe300"/>
<path d="M167.5 1797.7h50v2.2h-50zM167.5 1805.4h50v2.1h-50zM167.5 1816.7h50v2.1h-50zM167.5 2062.4h50v2.1h-50zM167.5 2184.5h50v2.3h-50z" fill="#ff5f00"/>
<path d="M167.5 1826.1h50v2.1h-50zM167.5 1829.8h50v2.1h-50zM167.5 1851.8h50v3.6h-50zM167.5 1858.9h50v2.1h-50zM167.5 1871.1h50v2.1h-50zM167.5 1874.8h50v2.1h-50zM167.5 1922.7h50v2.1h-50zM167.5 1962.1h50v2.1h-50zM167.5 1997.2h50v2.4h-50zM167.5 2019.3h50v2.1h-50zM167.5 2142.1h50v2.1h-50zM167.5 2149.3h50v2.2h-50zM167.5 2257.5h50v4.4h-50zM167.5 2296.3h50v2.3h-50zM167.5 2336.3h50v2.1h-50zM167.5 2374.6h50v2.5h-50z" fill="#ff3900"/>
<path d="M167.5 1848.6h50v1.8h-50z" fill="#ff9e00"/>
<path d="M167.5 1850.2h50v1.8h-50z" fill="#ffb700"/>
<path d="M167.5 1898.3h50v2.6h-50z" fill="#aafd03"/>
<path d="M167.5 1900.6h50v2.6h-50z" fill="#c8fd00"/>
<path d="M167.5 1924.5h50v2.6h-50z" fill="#fce600"/>
<path d="M167.5 1926.9h50v2.6h-50z" fill="#f8e700"/>
<path d="M167.5 1937.5h50v2.3h-50zM167.5 1985.5h50v2.1h-50zM167.5 2182.5h50v2.3h-50z" fill="#ff6000"/>
<path d="M167.5 1987.4h50v2.1h-50zM167.5 2220.3h50v4.4h-50z" fill="#ff5b00"/>
<path d="M167.5 2001.4h50v2.6h-50z" fill="#ff9d00"/>
<path d="M167.5 2011.8h50v2.1h-50z" fill="#1491f6"/>
<path d="M167.5 2013.6h50v2.1h-50z" fill="#148bf5"/>
<path d="M167.5 2056.8h50v2.1h-50z" fill="#54f80d"/>
<path d="M167.5 2058.7h50v2.1h-50z" fill="#17f634"/>
<path d="M167.5 2060.5h50v2.1h-50z" fill="#ff4800"/>
<path d="M167.5 2101.8h50v2.1h-50z" fill="#13e7fb"/>
<path d="M167.5 2103.7h50v2.1h-50z" fill="#12e8f5"/>
<path d="M167.5 2144h50v1.9h-50z" fill="#1af624"/>
<path d="M167.5 2145.7h50v1.9h-50z" fill="#1cf51e"/>
<path d="M167.5 2198.4h50v2.1h-50z" fill="#ff9300"/>
<path d="M167.5 2200.3h50v2.1h-50z" fill="#ff7400"/>
<path d="M167.5 2251.7h50v1.9h-50z" fill="#ffe400"/>
<path d="M167.5 2288.5h50v2.1h-50z" fill="#ffb300"/>
<path d="M167.5 2304.4h50v1.9h-50z" fill="#cafc00"/>
<path d="M167.5 2306.1h50v1.9h-50z" fill="#88fb07"/>
<path d="M167.5 2322.2h50v2.1h-50z" fill="#f3e900"/>
<path d="M217.3 1298.2h50.8v2.9h-50.8zM217.3 1307.8h50.8v2.6h-50.8zM217.3 1641.3h50.8v2.1h-50.8zM217.3 2119.6h50.8v2.1h-50.8zM217.3 2123.4h50.8v2.1h-50.8z" fill="#ff8200"/>
<path d="M217.3 1300.8h50.8v2.6h-50.8zM217.3 1562.5h50.8v2.1h-50.8zM217.3 2084.9h50.8v2.1h-50.8z" fill="#c8fd00"/>
<path d="M217.3 1303.2h50.8v2.6h-50.8zM217.3 1421.8h50.8v2.1h-50.8z" fill="#9afc05"/>
<path d="M217.3 1305.5h50.8v2.6h-50.8z" fill="#ff6b00"/>
<path d="M217.3 1310.2h50.8v2.6h-50.8zM217.3 2086.8h50.8v2.1h-50.8zM217.3 2109.8h50.8v2.4h-50.8z" fill="#c9fc00"/>
<path d="M217.3 1312.5h50.8v2.6h-50.8zM217.3 1991.1h50.8v2.1h-50.8z" fill="#c4ff00"/>
<path d="M217.3 1314.9h50.8v3.1h-50.8zM217.3 2017.4h50.8v2.1h-50.8z" fill="#ffc100"/>
<path d="M217.3 1317.7h50.8v2.1h-50.8zM217.3 1758.5h50.8v2.3h-50.8z" fill="#ff6a00"/>
<path d="M217.3 1319.6h50.8v2.1h-50.8zM217.3 1637.5h50.8v2.1h-50.8zM217.3 1760.6h50.8v2.3h-50.8z" fill="#ff8500"/>
<path d="M217.3 1321.4h50.8v2.1h-50.8zM217.3 1337.4h50.8v2.4h-50.8zM217.3 1646.9h50.8v2.1h-50.8zM217.3 1922.7h50.8v2.1h-50.8zM217.3 1958.3h50.8v2.1h-50.8zM217.3 2214h50.8v2.3h-50.8z" fill="#ff7e00"/>
<path d="M217.3 1323.3h50.8v2.1h-50.8zM217.3 2121.5h50.8v2.1h-50.8zM217.3 2209.9h50.8v2.3h-50.8z" fill="#ff8800"/>
<path d="M217.3 1325.2h50.8v2.4h-50.8zM217.3 2261.7h50.8v2.3h-50.8z" fill="#ff7000"/>
<path d="M217.3 1327.3h50.8v2.4h-50.8zM217.3 1911.2h50.8v2.3h-50.8z" fill="#ff7100"/>
<path d="M217.3 1329.4h50.8v2.4h-50.8zM217.3 1397.4h50.8v1.8h-50.8zM217.3 2218.2h50.8v2.3h-50.8z" fill="#ff8400"/>
<path d="M217.3 1331.5h50.8v2.4h-50.8zM217.3 1788.5h50.8v2.2h-50.8zM217.3 2326.2h50.8v2.4h-50.8z" fill="#ff9a00"/>
<path d="M217.3 1333.6h50.8v2.1h-50.8zM217.3 1344h50.8v1.8h-50.8z" fill="#e7ef00"/>
<path d="M217.3 1335.5h50.8v2.1h-50.8zM217.3 1436.8h50.8v3.1h-50.8z" fill="#ffd700"/>
<path d="M217.3 1339.6h50.8v2.4h-50.8zM217.3 1905h50.8v2.3h-50.8z" fill="#ff8c00"/>
<path d="M217.3 1341.8h50.8v2.4h-50.8z" fill="#ff8300"/>
<path d="M217.3 1345.6h50.8v1.8h-50.8z" fill="#ffc200"/>
<path d="M217.3 1347.1h50.8v1.8h-50.8z" fill="#17f632"/>
<path d="M217.3 1348.6h50.8v1.8h-50.8z" fill="#1af626"/>
<path d="M217.3 1350.1h50.8v2.6h-50.8z" fill="#86fb07"/>
<path d="M217.3 1352.5h50.8v2.6h-50.8z" fill="#8efc06"/>
<path d="M217.3 1354.8h50.8v2.6h-50.8zM217.3 2081.2h50.8v2.1h-50.8z" fill="#b8fe01"/>
<path d="M217.3 1357.1h50.8v3.1h-50.8zM217.3 2231.2h50.8v3.1h-50.8z" fill="#ff7600"/>
<path d="M217.3 1359.9h50.8v3.1h-50.8z" fill="#76fa09"/>
<path d="M217.3 1362.7h50.8v2.4h-50.8z" fill="#ff9100"/>
<path d="M217.3 1364.9h50.8v2.4h-50.8zM217.3 1974.2h50.8v2.1h-50.8zM217.3 2117.8h50.8v2.1h-50.8zM217.3 2328.3h50.8v2.4h-50.8z" fill="#ff7f00"/>
<path d="M217.3 1367.1h50.8v2.4h-50.8zM217.3 1598.9h50.8v2.3h-50.8zM217.3 1635.7h50.8v2.1h-50.8zM217.3 1677.9h50.8v2.4h-50.8zM217.3 1780.7h50.8v2.2h-50.8zM217.3 1837.3h50.8v2.6h-50.8z" fill="#ff7a00"/>
<path d="M217.3 1369.3h50.8v2.1h-50.8z" fill="#d7f600"/>
<path d="M217.3 1371.2h50.8v2.1h-50.8zM217.3 1686.3h50.8v2.6h-50.8z" fill="#daf500"/>
<path d="M217.3 1373h50.8v2.1h-50.8zM217.3 1701.3h50.8v2.6h-50.8z" fill="#d3f800"/>
<path d="M217.3 1374.9h50.8v2.1h-50.8zM217.3 1670.4h50.8v2.1h-50.8z" fill="#ffd900"/>
<path d="M217.3 1376.8h50.8v2.1h-50.8zM217.3 1382.4h50.8v2.4h-50.8z" fill="#f4e900"/>
<path d="M217.3 1378.7h50.8v2.1h-50.8zM217.3 2034.3h50.8v2.4h-50.8zM217.3 2160.9h50.8v2.1h-50.8z" fill="#ff5c00"/>
<path d="M217.3 1380.5h50.8v2.1h-50.8zM217.3 1873h50.8v2.1h-50.8zM217.3 2311.7h50.8v2.2h-50.8z" fill="#ff5800"/>
<path d="M217.3 1384.6h50.8v2.4h-50.8zM217.3 1584.1h50.8v2.1h-50.8zM217.3 1937.5h50.8v2.3h-50.8z" fill="#e0f200"/>
<path d="M217.3 1386.8h50.8v2.4h-50.8z" fill="#f3ea00"/>
<path d="M217.3 1389h50.8v2.4h-50.8zM217.3 1468.7h50.8v2.3h-50.8zM217.3 1746.3h50.8v2.1h-50.8zM217.3 1762.6h50.8v2.3h-50.8zM217.3 1858.9h50.8v2.1h-50.8z" fill="#ff6e00"/>
<path d="M217.3 1391.1h50.8v2.4h-50.8z" fill="#ff6700"/>
<path d="M217.3 1393.2h50.8v2.4h-50.8zM217.3 2166.5h50.8v2.1h-50.8z" fill="#ff4300"/>
<path d="M217.3 1395.3h50.8v2.4h-50.8zM217.3 1474.9h50.8v2.3h-50.8zM217.3 2130.3h50.8v2.4h-50.8zM217.3 2241.9h50.8v2.3h-50.8zM217.3 2274.2h50.8v2.3h-50.8z" fill="#ff5200"/>
<path d="M217.3 1398.9h50.8v2.9h-50.8zM217.3 1792.1h50.8v1.9h-50.8z" fill="#13e7fa"/>
<path d="M217.3 1401.5h50.8v2.3h-50.8zM217.3 1917h50.8v2.1h-50.8z" fill="#ff9500"/>
<path d="M217.3 1403.6h50.8v2.3h-50.8z" fill="#ff9000"/>
<path d="M217.3 1405.7h50.8v2.3h-50.8zM217.3 1596.8h50.8v2.3h-50.8zM217.3 1786.5h50.8v2.2h-50.8zM217.3 1976.1h50.8v2.1h-50.8zM217.3 2207.8h50.8v2.3h-50.8zM217.3 2220.3h50.8v2.3h-50.8z" fill="#ff8600"/>
<path d="M217.3 1407.7h50.8v1.8h-50.8z" fill="#17f631"/>
<path d="M217.3 1409.3h50.8v1.8h-50.8z" fill="#11f74b"/>
<path d="M217.3 1410.9h50.8v2h-50.8z" fill="#eaed00"/>
<path d="M217.3 1412.7h50.8v2h-50.8z" fill="#f8e700"/>
<path d="M217.3 1414.5h50.8v2h-50.8zM217.3 1501.5h50.8v2.1h-50.8zM217.3 1676h50.8v2.1h-50.8zM217.3 1814.8h50.8v2.1h-50.8zM217.3 2276.3h50.8v2.1h-50.8z" fill="#fce500"/>
<path d="M217.3 1416.3h50.8v2h-50.8zM217.3 2062.4h50.8v2.1h-50.8z" fill="#f5e900"/>
<path d="M217.3 1418.1h50.8v2.1h-50.8z" fill="#affe02"/>
<path d="M217.3 1419.9h50.8v2.1h-50.8z" fill="#66f90b"/>
<path d="M217.3 1423.7h50.8v2.1h-50.8zM217.3 1539h50.8v2.3h-50.8z" fill="#dff300"/>
<path d="M217.3 1425.6h50.8v2.1h-50.8zM217.3 2363.5h50.8v2.1h-50.8z" fill="#cffa00"/>
<path d="M217.3 1427.4h50.8v2.1h-50.8zM217.3 1882.6h50.8v2.4h-50.8z" fill="#cbfb00"/>
<path d="M217.3 1429.3h50.8v2.1h-50.8z" fill="#87fb07"/>
<path d="M217.3 1431.2h50.8v3.1h-50.8zM217.3 1639.4h50.8v2.1h-50.8zM217.3 1684.2h50.8v2.4h-50.8z" fill="#ff7800"/>
<path d="M217.3 1434h50.8v3.1h-50.8zM217.3 1594.8h50.8v2.3h-50.8zM217.3 1717.1h50.8v2.3h-50.8zM217.3 2098.1h50.8v2.1h-50.8zM217.3 2224.5h50.8v2.3h-50.8z" fill="#ff9e00"/>
<path d="M217.3 1439.6h50.8v3.1h-50.8zM217.3 1876.7h50.8v2.1h-50.8zM217.3 2192.8h50.8v2.1h-50.8zM217.3 2239.8h50.8v2.3h-50.8z" fill="#ff5700"/>
<path d="M217.3 1442.4h50.8v2.3h-50.8zM217.3 1523.1h50.8v2.1h-50.8z" fill="#ffc800"/>
<path d="M217.3 1444.5h50.8v2.3h-50.8zM217.3 1730.4h50.8v2.1h-50.8z" fill="#ffba00"/>
<path d="M217.3 1446.6h50.8v2.3h-50.8zM217.3 1864.5h50.8v2.4h-50.8zM217.3 2125.3h50.8v3.1h-50.8z" fill="#ffb700"/>
<path d="M217.3 1448.6h50.8v2.3h-50.8zM217.3 1622.5h50.8v2.1h-50.8z" fill="#ffc600"/>
<path d="M217.3 1450.7h50.8v2.3h-50.8zM217.3 1993h50.8v2.4h-50.8z" fill="#ffc400"/>
<path d="M217.3 1452.8h50.8v3.1h-50.8z" fill="#75fa09"/>
<path d="M217.3 1455.6h50.8v2.1h-50.8zM217.3 1809.2h50.8v2.1h-50.8z" fill="#fae600"/>
<path d="M217.3 1457.4h50.8v2.1h-50.8zM217.3 2060.5h50.8v2.1h-50.8z" fill="#ffe000"/>
<path d="M217.3 1459.3h50.8v2.1h-50.8zM217.3 1742.6h50.8v2.1h-50.8z" fill="#c6fe00"/>
<path d="M217.3 1461.2h50.8v2.1h-50.8zM217.3 1738.8h50.8v2.1h-50.8zM217.3 1744.5h50.8v2.1h-50.8zM217.3 1941.7h50.8v2.4h-50.8z" fill="#d1f900"/>
<path d="M217.3 1463.1h50.8v2.1h-50.8z" fill="#d6f700"/>
<path d="M217.3 1465h50.8v2.1h-50.8zM217.3 1803.5h50.8v2.1h-50.8z" fill="#c1ff00"/>
<path d="M217.3 1466.8h50.8v2.1h-50.8zM217.3 2359.7h50.8v2.1h-50.8z" fill="#a2fd04"/>
<path d="M217.3 1470.8h50.8v2.3h-50.8zM217.3 1537.2h50.8v2.1h-50.8zM217.3 2296.3h50.8v2.3h-50.8z" fill="#ff4d00"/>
<path d="M217.3 1472.8h50.8v2.3h-50.8zM217.3 2196.5h50.8v2.1h-50.8z" fill="#ff6600"/>
<path d="M217.3 1477h50.8v2.3h-50.8zM217.3 2036.5h50.8v2.4h-50.8z" fill="#ff6500"/>
<path d="M217.3 1479h50.8v3.1h-50.8z" fill="#03f988"/>
<path d="M217.3 1481.8h50.8v3.1h-50.8zM217.3 1737h50.8v2.1h-50.8zM217.3 2175h50.8v2.1h-50.8z" fill="#ff5500"/>
<path d="M217.3 1484.6h50.8v2.1h-50.8zM217.3 2044.9h50.8v2.3h-50.8z" fill="#fde500"/>
<path d="M217.3 1486.5h50.8v2.1h-50.8zM217.3 2188.7h50.8v2.3h-50.8z" fill="#ffd800"/>
<path d="M217.3 1488.4h50.8v4h-50.8zM217.3 1853.4h50.8v1.9h-50.8zM217.3 2069.9h50.8v2.1h-50.8z" fill="#ff5900"/>
<path d="M217.3 1492.2h50.8v2.1h-50.8zM217.3 2071.8h50.8v2.1h-50.8zM217.3 2313.6h50.8v2.2h-50.8z" fill="#ff4700"/>
<path d="M217.3 1494h50.8v2.1h-50.8zM217.3 1952.7h50.8v2.1h-50.8zM217.3 1956.4h50.8v2.1h-50.8z" fill="#ffdd00"/>
<path d="M217.3 1495.9h50.8v2.1h-50.8z" fill="#ffca00"/>
<path d="M217.3 1497.8h50.8v2.1h-50.8zM217.3 2284.7h50.8v2.1h-50.8z" fill="#dff200"/>
<path d="M217.3 1499.7h50.8v2.1h-50.8zM217.3 1929.2h50.8v2.3h-50.8zM217.3 2205.9h50.8v2.1h-50.8z" fill="#ffdc00"/>
<path d="M217.3 1503.4h50.8v2.1h-50.8zM217.3 2186.6h50.8v2.3h-50.8z" fill="#ffe100"/>
<path d="M217.3 1505.3h50.8v2.1h-50.8zM217.3 1732.3h50.8v2.6h-50.8zM217.3 2204h50.8v2.1h-50.8z" fill="#f3e900"/>
<path d="M217.3 1507.2h50.8v2.1h-50.8z" fill="#e3f000"/>
<path d="M217.3 1509h50.8v3.1h-50.8z" fill="#ff9d00"/>
<path d="M217.3 1511.8h50.8v2.4h-50.8zM217.3 1602.6h50.8v1.9h-50.8zM217.3 2001.4h50.8v2.6h-50.8z" fill="#14f73e"/>
<path d="M217.3 1514h50.8v2.4h-50.8z" fill="#13f743"/>
<path d="M217.3 1516.1h50.8v2.4h-50.8zM217.3 2198.4h50.8v2.1h-50.8z" fill="#14f741"/>
<path d="M217.3 1518.2h50.8v2.4h-50.8z" fill="#12f747"/>
<path d="M217.3 1520.3h50.8v3.1h-50.8zM217.3 1874.8h50.8v2.1h-50.8zM217.3 2162.8h50.8v2.1h-50.8zM217.3 2168.4h50.8v2.1h-50.8zM217.3 2243.9h50.8v2.3h-50.8z" fill="#ff5600"/>
<path d="M217.3 1525h50.8v2.1h-50.8zM217.3 1529.7h50.8v2.1h-50.8z" fill="#f1ea00"/>
<path d="M217.3 1526.9h50.8v3.1h-50.8z" fill="#2bf612"/>
<path d="M217.3 1531.5h50.8v2.1h-50.8zM217.3 1612.2h50.8v2.1h-50.8z" fill="#ffdb00"/>
<path d="M217.3 1533.4h50.8v2.1h-50.8zM217.3 2263.8h50.8v2.3h-50.8zM217.3 2294.2h50.8v2.3h-50.8z" fill="#ff5e00"/>
<path d="M217.3 1535.3h50.8v2.1h-50.8z" fill="#ff4c00"/>
<path d="M217.3 1541.1h50.8v2.3h-50.8zM217.3 2032.4h50.8v2.1h-50.8z" fill="#b4fe02"/>
<path d="M217.3 1543.2h50.8v2.3h-50.8zM217.3 1943.8h50.8v2.4h-50.8zM217.3 2026.8h50.8v2.1h-50.8z" fill="#67f90b"/>
<path d="M217.3 1545.2h50.8v2.3h-50.8z" fill="#d8f500"/>
<path d="M217.3 1547.3h50.8v2.3h-50.8zM217.3 1719.1h50.8v2.1h-50.8zM217.3 1805.4h50.8v2.1h-50.8zM217.3 2088.7h50.8v2.1h-50.8zM217.3 2159h50.8v2.1h-50.8z" fill="#cefa00"/>
<path d="M217.3 1549.4h50.8v1.8h-50.8zM217.3 2304.4h50.8v1.9h-50.8z" fill="#a13dfa"/>
<path d="M217.3 1551h50.8v1.8h-50.8z" fill="#8e3cf9"/>
<path d="M217.3 1552.6h50.8v2.3h-50.8zM217.3 2115.9h50.8v2.1h-50.8zM217.3 2330.4h50.8v2.4h-50.8z" fill="#ff7c00"/>
<path d="M217.3 1554.6h50.8v2.3h-50.8zM217.3 1963.9h50.8v2.1h-50.8z" fill="#ff7d00"/>
<path d="M217.3 1556.7h50.8v2.3h-50.8zM217.3 1962.1h50.8v2.1h-50.8z" fill="#ff7900"/>
<path d="M217.3 1558.7h50.8v2.1h-50.8z" fill="#13f746"/>
<path d="M217.3 1560.6h50.8v2.1h-50.8z" fill="#43f710"/>
<path d="M217.3 1564.4h50.8v2.1h-50.8z" fill="#bbff01"/>
<path d="M217.3 1566.2h50.8v2.1h-50.8zM217.3 1924.5h50.8v2.6h-50.8z" fill="#03f987"/>
<path d="M217.3 1568.1h50.8v2.1h-50.8z" fill="#01f99d"/>
<path d="M217.3 1570h50.8v2.1h-50.8zM217.3 1764.6h50.8v2.3h-50.8zM217.3 1907.1h50.8v2.3h-50.8zM217.3 2324.1h50.8v2.4h-50.8z" fill="#ff7300"/>
<path d="M217.3 1571.9h50.8v2.1h-50.8z" fill="#88fb07"/>
<path d="M217.3 1573.8h50.8v2.1h-50.8z" fill="#aafd03"/>
<path d="M217.3 1575.6h50.8v3.1h-50.8z" fill="#ffa100"/>
<path d="M217.3 1578.4h50.8v2.1h-50.8zM217.3 1614.1h50.8v2.1h-50.8zM217.3 2190.7h50.8v2.3h-50.8z" fill="#f0eb00"/>
<path d="M217.3 1580.3h50.8v2.1h-50.8z" fill="#eeec00"/>
<path d="M217.3 1582.2h50.8v2.1h-50.8z" fill="#fbe600"/>
<path d="M217.3 1585.9h50.8v2.1h-50.8z" fill="#f9e700"/>
<path d="M217.3 1587.8h50.8v2.1h-50.8zM217.3 2040.8h50.8v2.3h-50.8z" fill="#ffd100"/>
<path d="M217.3 1589.7h50.8v2.1h-50.8zM217.3 1816.7h50.8v2.1h-50.8zM217.3 2052.9h50.8v2.3h-50.8z" fill="#f7e800"/>
<path d="M217.3 1591.6h50.8v1.8h-50.8z" fill="#11f74a"/>
<path d="M217.3 1593.2h50.8v1.8h-50.8z" fill="#29f613"/>
<path d="M217.3 1601h50.8v1.9h-50.8zM217.3 2003.8h50.8v2.6h-50.8z" fill="#22f514"/>
<path d="M217.3 1604.3h50.8v3.4h-50.8zM217.3 2009.9h50.8v2.1h-50.8z" fill="#ffcd00"/>
<path d="M217.3 1607.5h50.8v3.1h-50.8zM217.3 1989.3h50.8v2.1h-50.8z" fill="#cff900"/>
<path d="M217.3 1610.3h50.8v2.1h-50.8z" fill="#ffcf00"/>
<path d="M217.3 1616h50.8v2.1h-50.8zM217.3 2064.3h50.8v2.1h-50.8z" fill="#f5e800"/>
<path d="M217.3 1617.8h50.8v2.1h-50.8z" fill="#ffd500"/>
<path d="M217.3 1619.7h50.8v3.1h-50.8zM217.3 2255.5h50.8v2.3h-50.8zM217.3 2298.3h50.8v2.3h-50.8z" fill="#ff4f00"/>
<path d="M217.3 1624.4h50.8v2.1h-50.8z" fill="#ffae00"/>
<path d="M217.3 1626.3h50.8v2.1h-50.8zM217.3 1633.8h50.8v2.1h-50.8zM217.3 1995.1h50.8v2.4h-50.8z" fill="#ffaa00"/>
<path d="M217.3 1628.2h50.8v2.1h-50.8zM217.3 1662.9h50.8v2.1h-50.8z" fill="#ffc500"/>
<path d="M217.3 1630h50.8v2.1h-50.8zM217.3 2096.2h50.8v2.1h-50.8z" fill="#ffa800"/>
<path d="M217.3 1631.9h50.8v2.1h-50.8z" fill="#ffbe00"/>
<path d="M217.3 1643.2h50.8v2.1h-50.8zM217.3 1680h50.8v2.4h-50.8z" fill="#ff8000"/>
<path d="M217.3 1645h50.8v2.1h-50.8zM217.3 2216.1h50.8v2.3h-50.8zM217.3 2286.6h50.8v2.1h-50.8z" fill="#ff8100"/>
<path d="M217.3 1648.8h50.8v2.1h-50.8zM217.3 1734.6h50.8v2.6h-50.8zM217.3 1812.9h50.8v2.1h-50.8z" fill="#ffce00"/>
<path d="M217.3 1650.7h50.8v2.1h-50.8zM217.3 1894.1h50.8v2.4h-50.8zM217.3 1950.8h50.8v2.1h-50.8z" fill="#ffd400"/>
<path d="M217.3 1652.5h50.8v3.1h-50.8z" fill="#ff3700"/>
<path d="M217.3 1655.4h50.8v4h-50.8z" fill="#ffa200"/>
<path d="M217.3 1659.1h50.8v2.1h-50.8zM217.3 1712.9h50.8v2.3h-50.8z" fill="#ffa700"/>
<path d="M217.3 1661h50.8v2.1h-50.8zM217.3 1726.6h50.8v2.1h-50.8z" fill="#ffb300"/>
<path d="M217.3 1664.7h50.8v2.1h-50.8z" fill="#02fa8f"/>
<path d="M217.3 1666.6h50.8v2.1h-50.8z" fill="#02f8a1"/>
<path d="M217.3 1668.5h50.8v2.1h-50.8zM217.3 1985.5h50.8v2.1h-50.8zM217.3 2066.2h50.8v2.1h-50.8zM217.3 2376.9h50.8v2.5h-50.8z" fill="#f6e800"/>
<path d="M217.3 1672.2h50.8v2.1h-50.8zM217.3 1807.3h50.8v2.1h-50.8zM217.3 2334.4h50.8v2.1h-50.8z" fill="#ffd200"/>
<path d="M217.3 1674.1h50.8v2.1h-50.8z" fill="#fee400"/>
<path d="M217.3 1682.1h50.8v2.4h-50.8z" fill="#ff9200"/>
<path d="M217.3 1688.6h50.8v2.6h-50.8zM217.3 1971.9h50.8v2.6h-50.8z" fill="#cdfb00"/>
<path d="M217.3 1691h50.8v3.1h-50.8zM217.3 1981.9h50.8v1.9h-50.8z" fill="#ff7500"/>
<path d="M217.3 1693.8h50.8v2.1h-50.8zM217.3 1826.1h50.8v2.1h-50.8zM217.3 1871.1h50.8v2.1h-50.8zM217.3 2265.9h50.8v2.3h-50.8zM217.3 2270h50.8v2.3h-50.8z" fill="#ff5100"/>
<path d="M217.3 1695.7h50.8v2.1h-50.8zM217.3 2272.1h50.8v2.3h-50.8z" fill="#ff4b00"/>
<path d="M217.3 1697.6h50.8v2.1h-50.8zM217.3 2194.7h50.8v2.1h-50.8zM217.3 2302.4h50.8v2.3h-50.8z" fill="#ff6100"/>
<path d="M217.3 1699.4h50.8v2.1h-50.8z" fill="#ff5f00"/>
<path d="M217.3 1703.7h50.8v2.6h-50.8zM217.3 2184.5h50.8v2.3h-50.8z" fill="#def300"/>
<path d="M217.3 1706h50.8v3.1h-50.8z" fill="#beff01"/>
<path d="M217.3 1708.8h50.8v2.3h-50.8z" fill="#ffb500"/>
<path d="M217.3 1710.9h50.8v2.3h-50.8z" fill="#ffb200"/>
<path d="M217.3 1715h50.8v2.3h-50.8zM217.3 1980.3h50.8v1.9h-50.8zM217.3 2147.4h50.8v2.2h-50.8z" fill="#ff9f00"/>
<path d="M217.3 1721h50.8v2.1h-50.8z" fill="#7ffb08"/>
<path d="M217.3 1722.9h50.8v2.1h-50.8z" fill="#ffb900"/>
<path d="M217.3 1724.8h50.8v2.1h-50.8z" fill="#ffbb00"/>
<path d="M217.3 1728.5h50.8v2.1h-50.8zM217.3 1842h50.8v2.4h-50.8zM217.3 2099.9h50.8v2.1h-50.8z" fill="#ffa500"/>
<path d="M217.3 1740.7h50.8v2.1h-50.8zM217.3 2111.9h50.8v2.4h-50.8z" fill="#e3f100"/>
<path d="M217.3 1748.2h50.8v2.1h-50.8zM217.3 2222.4h50.8v2.3h-50.8z" fill="#ff8700"/>
<path d="M217.3 1750.1h50.8v2.1h-50.8zM217.3 1909.2h50.8v2.3h-50.8zM217.3 2019.3h50.8v2.1h-50.8z" fill="#ff9800"/>
<path d="M217.3 1752h50.8v1.8h-50.8z" fill="#1488f5"/>
<path d="M217.3 1753.6h50.8v1.8h-50.8z" fill="#148ff5"/>
<path d="M217.3 1755.1h50.8v1.9h-50.8z" fill="#02f8a0"/>
<path d="M217.3 1756.8h50.8v1.9h-50.8z" fill="#00fa97"/>
<path d="M217.3 1766.7h50.8v2.3h-50.8zM217.3 2006.1h50.8v2.1h-50.8z" fill="#ff9c00"/>
<path d="M217.3 1768.7h50.8v2.3h-50.8z" fill="#ff9600"/>
<path d="M217.3 1770.7h50.8v2.4h-50.8zM217.3 1978h50.8v2.5h-50.8z" fill="#b0fe02"/>
<path d="M217.3 1772.9h50.8v2.4h-50.8zM217.3 1797.7h50.8v2.2h-50.8zM217.3 2134.6h50.8v2.1h-50.8z" fill="#bdff01"/>
<path d="M217.3 1775.1h50.8v2.4h-50.8zM217.3 1799.6h50.8v2.2h-50.8z" fill="#6ffa0a"/>
<path d="M217.3 1777.3h50.8v1.9h-50.8z" fill="#14dbfe"/>
<path d="M217.3 1779h50.8v1.9h-50.8z" fill="#14e0fe"/>
<path d="M217.3 1782.6h50.8v2.2h-50.8z" fill="#ff8900"/>
<path d="M217.3 1784.6h50.8v2.2h-50.8zM217.3 2149.3h50.8v2.2h-50.8zM217.3 2280h50.8v3.1h-50.8z" fill="#ff8a00"/>
<path d="M217.3 1790.4h50.8v1.9h-50.8zM217.3 2290.3h50.8v2.1h-50.8z" fill="#14defe"/>
<path d="M217.3 1793.8h50.8v2.2h-50.8z" fill="#a4fd04"/>
<path d="M217.3 1795.7h50.8v2.2h-50.8z" fill="#e1f200"/>
<path d="M217.3 1801.6h50.8v2.2h-50.8z" fill="#d8f600"/>
<path d="M217.3 1811h50.8v2.1h-50.8zM217.3 2202.2h50.8v2.1h-50.8z" fill="#ffda00"/>
<path d="M217.3 1818.6h50.8v2.1h-50.8z" fill="#83fb08"/>
<path d="M217.3 1820.4h50.8v2.1h-50.8z" fill="#dcf400"/>
<path d="M217.3 1822.3h50.8v2.1h-50.8z" fill="#7cfb09"/>
<path d="M217.3 1824.2h50.8v2.1h-50.8zM217.3 2170.3h50.8v3.1h-50.8z" fill="#e8ee00"/>
<path d="M217.3 1827.9h50.8v2.1h-50.8zM217.3 2237.8h50.8v2.3h-50.8z" fill="#ff5d00"/>
<path d="M217.3 1829.8h50.8v2.1h-50.8zM217.3 2077.4h50.8v2.1h-50.8zM217.3 2245.9h50.8v2.3h-50.8z" fill="#ff5000"/>
<path d="M217.3 1831.7h50.8v2.1h-50.8z" fill="#cbfc00"/>
<path d="M217.3 1833.6h50.8v2.1h-50.8z" fill="#91fc06"/>
<path d="M217.3 1835.4h50.8v2.1h-50.8z" fill="#dbf400"/>
<path d="M217.3 1839.7h50.8v2.6h-50.8zM217.3 2142.1h50.8v2.1h-50.8zM217.3 2151.3h50.8v2.2h-50.8z" fill="#ff9400"/>
<path d="M217.3 1844.2h50.8v2.4h-50.8z" fill="#ffa000"/>
<path d="M217.3 1846.4h50.8v2.4h-50.8zM217.3 1920.8h50.8v2.1h-50.8z" fill="#ff9b00"/>
<path d="M217.3 1848.6h50.8v3.4h-50.8z" fill="#14e4ff"/>
<path d="M217.3 1851.8h50.8v1.9h-50.8zM217.3 2132.4h50.8v2.4h-50.8z" fill="#ff5400"/>
<path d="M217.3 1855.1h50.8v4h-50.8z" fill="#e4f000"/>
<path d="M217.3 1860.8h50.8v2.1h-50.8z" fill="#80fb08"/>
<path d="M217.3 1862.6h50.8v2.1h-50.8z" fill="#b7fe01"/>
<path d="M217.3 1866.7h50.8v2.4h-50.8z" fill="#ffb600"/>
<path d="M217.3 1868.9h50.8v2.4h-50.8z" fill="#ffc000"/>
<path d="M217.3 1878.6h50.8v2.1h-50.8z" fill="#ff4900"/>
<path d="M217.3 1880.5h50.8v2.4h-50.8z" fill="#93fc06"/>
<path d="M217.3 1884.8h50.8v2.4h-50.8zM217.3 1889.8h50.8v2.4h-50.8zM217.3 1935.4h50.8v2.3h-50.8zM217.3 2042.9h50.8v2.3h-50.8z" fill="#e2f100"/>
<path d="M217.3 1887h50.8v3.1h-50.8zM217.3 2075.5h50.8v2.1h-50.8zM217.3 2292.2h50.8v2.3h-50.8zM217.3 2315.6h50.8v2.2h-50.8z" fill="#ff5300"/>
<path d="M217.3 1891.9h50.8v2.4h-50.8zM217.3 1987.4h50.8v2.1h-50.8zM217.3 2048.9h50.8v2.3h-50.8zM217.3 2374.6h50.8v2.5h-50.8z" fill="#f2ea00"/>
<path d="M217.3 1896.2h50.8v2.4h-50.8z" fill="#e8ef00"/>
<path d="M217.3 1898.3h50.8v2.6h-50.8z" fill="#193cec"/>
<path d="M217.3 1900.6h50.8v2.6h-50.8z" fill="#193aeb"/>
<path d="M217.3 1903h50.8v2.3h-50.8z" fill="#ff8f00"/>
<path d="M217.3 1913.3h50.8v2.1h-50.8z" fill="#9efd04"/>
<path d="M217.3 1915.2h50.8v2.1h-50.8z" fill="#b9fe01"/>
<path d="M217.3 1918.9h50.8v2.1h-50.8zM217.3 1965.8h50.8v2.1h-50.8zM217.3 2054.9h50.8v2.1h-50.8z" fill="#ff9300"/>
<path d="M217.3 1926.9h50.8v2.6h-50.8z" fill="#00fa95"/>
<path d="M217.3 1931.3h50.8v2.3h-50.8zM217.3 2136.5h50.8v2.1h-50.8zM217.3 2332.5h50.8v2.1h-50.8z" fill="#ebed00"/>
<path d="M217.3 1933.4h50.8v2.3h-50.8zM217.3 2372.3h50.8v2.5h-50.8z" fill="#ffe200"/>
<path d="M217.3 1939.5h50.8v2.4h-50.8z" fill="#84fb08"/>
<path d="M217.3 1945.9h50.8v2.4h-50.8z" fill="#61f90c"/>
<path d="M217.3 1948h50.8v3.1h-50.8z" fill="#ff3a00"/>
<path d="M217.3 1954.6h50.8v2.1h-50.8zM217.3 2068h50.8v2.1h-50.8z" fill="#ffd300"/>
<path d="M217.3 1960.2h50.8v2.1h-50.8zM217.3 2176.8h50.8v2.1h-50.8z" fill="#ff6c00"/>
<path d="M217.3 1967.7h50.8v2.1h-50.8z" fill="#ff7200"/>
<path d="M217.3 1969.6h50.8v2.6h-50.8zM217.3 2138.4h50.8v2.1h-50.8z" fill="#ccfb00"/>
<path d="M217.3 1983.6h50.8v2.1h-50.8zM217.3 2278.1h50.8v2.1h-50.8z" fill="#e6ef00"/>
<path d="M217.3 1997.2h50.8v2.4h-50.8z" fill="#ffb400"/>
<path d="M217.3 1999.3h50.8v2.4h-50.8z" fill="#ffc300"/>
<path d="M217.3 2008h50.8v2.1h-50.8z" fill="#ffb100"/>
<path d="M217.3 2011.8h50.8v4h-50.8zM217.3 2056.8h50.8v4h-50.8zM217.3 2101.8h50.8v4h-50.8zM217.3 2144h50.8v3.6h-50.8zM217.3 2352.8h50.8v3.4h-50.8z" fill="#ffffff"/>
<path d="M217.3 2015.5h50.8v2.1h-50.8z" fill="#ffa600"/>
<path d="M217.3 2021.1h50.8v2.1h-50.8z" fill="#a0fd04"/>
<path d="M217.3 2023h50.8v2.1h-50.8z" fill="#9bfd05"/>
<path d="M217.3 2024.9h50.8v2.1h-50.8zM217.3 2228.9h50.8v2.6h-50.8zM217.3 2361.6h50.8v2.1h-50.8z" fill="#c5fe00"/>
<path d="M217.3 2028.6h50.8v2.1h-50.8z" fill="#d5f700"/>
<path d="M217.3 2030.5h50.8v2.1h-50.8z" fill="#9dfd05"/>
<path d="M217.3 2038.7h50.8v2.4h-50.8z" fill="#ff6900"/>
<path d="M217.3 2046.9h50.8v2.3h-50.8zM217.3 2282.8h50.8v2.1h-50.8z" fill="#ffe400"/>
<path d="M217.3 2050.9h50.8v2.3h-50.8z" fill="#efeb00"/>
<path d="M217.3 2073.7h50.8v2.1h-50.8zM217.3 2128.1h50.8v2.4h-50.8zM217.3 2309.7h50.8v2.2h-50.8z" fill="#ff5b00"/>
<path d="M217.3 2079.3h50.8v2.1h-50.8zM217.3 2357.9h50.8v2.1h-50.8z" fill="#d2f800"/>
<path d="M217.3 2083h50.8v2.1h-50.8z" fill="#7afb09"/>
<path d="M217.3 2090.6h50.8v2.1h-50.8z" fill="#ffb800"/>
<path d="M217.3 2092.4h50.8v2.1h-50.8z" fill="#ffa300"/>
<path d="M217.3 2094.3h50.8v2.1h-50.8z" fill="#ffbf00"/>
<path d="M217.3 2105.6h50.8v2.4h-50.8z" fill="#99fc05"/>
<path d="M217.3 2107.7h50.8v2.4h-50.8z" fill="#b3fe02"/>
<path d="M217.3 2114h50.8v2.1h-50.8zM217.3 2153.2h50.8v2.2h-50.8zM217.3 2343.8h50.8v3.1h-50.8z" fill="#ff8d00"/>
<path d="M217.3 2140.3h50.8v2.1h-50.8z" fill="#b5fe02"/>
<path d="M217.3 2155.2h50.8v2.2h-50.8z" fill="#ff7b00"/>
<path d="M217.3 2157.1h50.8v2.1h-50.8z" fill="#85fb07"/>
<path d="M217.3 2164.6h50.8v2.1h-50.8zM217.3 2257.5h50.8v2.3h-50.8z" fill="#ff4a00"/>
<path d="M217.3 2173.1h50.8v2.1h-50.8zM217.3 2300.3h50.8v2.3h-50.8z" fill="#ff4800"/>
<path d="M217.3 2178.7h50.8v2.1h-50.8z" fill="#15f73c"/>
<path d="M217.3 2180.6h50.8v2.1h-50.8z" fill="#4af80f"/>
<path d="M217.3 2182.5h50.8v2.3h-50.8z" fill="#e5f000"/>
<path d="M217.3 2200.3h50.8v2.1h-50.8z" fill="#4ef80e"/>
<path d="M217.3 2212h50.8v2.3h-50.8z" fill="#ff8e00"/>
<path d="M217.3 2226.6h50.8v2.6h-50.8z" fill="#a1fd04"/>
<path d="M217.3 2234.1h50.8v2.1h-50.8z" fill="#c3ff00"/>
<path d="M217.3 2235.9h50.8v2.1h-50.8z" fill="#82fb08"/>
<path d="M217.3 2248h50.8v2.3h-50.8zM217.3 2253.4h50.8v2.3h-50.8z" fill="#ff5a00"/>
<path d="M217.3 2250h50.8v1.9h-50.8z" fill="#f746fa"/>
<path d="M217.3 2251.7h50.8v1.9h-50.8z" fill="#ef45fa"/>
<path d="M217.3 2259.6h50.8v2.3h-50.8z" fill="#ff6000"/>
<path d="M217.3 2267.9h50.8v2.3h-50.8z" fill="#ff4500"/>
<path d="M217.3 2288.5h50.8v2.1h-50.8zM217.3 2370.7h50.8v1.8h-50.8z" fill="#12e8f4"/>
<path d="M217.3 2306.1h50.8v1.9h-50.8z" fill="#9e3dfa"/>
<path d="M217.3 2307.8h50.8v2.2h-50.8z" fill="#ff4200"/>
<path d="M217.3 2317.5h50.8v3.1h-50.8z" fill="#34f611"/>
<path d="M217.3 2320.3h50.8v2.1h-50.8z" fill="#a03dfa"/>
<path d="M217.3 2322.2h50.8v2.1h-50.8z" fill="#a23dfa"/>
<path d="M217.3 2336.3h50.8v2.1h-50.8z" fill="#3ff710"/>
<path d="M217.3 2338.2h50.8v2.1h-50.8z" fill="#35f611"/>
<path d="M217.3 2340h50.8v2.1h-50.8z" fill="#19f62a"/>
<path d="M217.3 2341.9h50.8v2.1h-50.8z" fill="#1bf520"/>
<path d="M217.3 2346.6h50.8v2.1h-50.8z" fill="#02fa8e"/>
<path d="M217.3 2348.5h50.8v2.1h-50.8z" fill="#03fa8a"/>
<path d="M217.3 2350.4h50.8v2.7h-50.8z" fill="#ff7700"/>
<path d="M217.3 2356h50.8v2.1h-50.8z" fill="#acfe03"/>
<path d="M217.3 2365.4h50.8v2.1h-50.8z" fill="#9ffd04"/>
<path d="M217.3 2367.2h50.8v2.1h-50.8z" fill="#d9f500"/>
<path d="M217.3 2369.1h50.8v1.8h-50.8z" fill="#13e7fc"/>
<path d="M267.9 1298.2h50.9v2.9h-50.9zM267.9 1646.9h50.9v2.1h-50.9zM267.9 1708.8h50.9v2.3h-50.9zM267.9 2300.3h50.9v2.3h-50.9z" fill="#ff8400"/>
<path d="M267.9 1300.8h50.9v2.6h-50.9zM267.9 1740.7h50.9v2.1h-50.9zM267.9 2365.4h50.9v2.1h-50.9z" fill="#cffa00"/>
<path d="M267.9 1303.2h50.9v2.6h-50.9zM267.9 1359.9h50.9v3.1h-50.9z" fill="#9dfd05"/>
<path d="M267.9 1305.5h50.9v2.6h-50.9z" fill="#ff9300"/>
<path d="M267.9 1307.8h50.9v2.6h-50.9zM267.9 1997.2h50.9v2.4h-50.9zM267.9 2276.3h50.9v2.1h-50.9z" fill="#ffb300"/>
<path d="M267.9 1310.2h50.9v2.6h-50.9zM267.9 1672.2h50.9v2.1h-50.9zM267.9 2111.9h50.9v2.4h-50.9z" fill="#d5f700"/>
<path d="M267.9 1312.5h50.9v2.6h-50.9z" fill="#d2f800"/>
<path d="M267.9 1314.9h50.9v3.1h-50.9zM267.9 1614.1h50.9v2.1h-50.9z" fill="#def300"/>
<path d="M267.9 1317.7h50.9v2.1h-50.9zM267.9 1635.7h50.9v2.1h-50.9zM267.9 2123.4h50.9v2.1h-50.9z" fill="#ff6f00"/>
<path d="M267.9 1319.6h50.9v2.1h-50.9zM267.9 1401.5h50.9v2.3h-50.9zM267.9 2054.9h50.9v2.1h-50.9z" fill="#ff9600"/>
<path d="M267.9 1321.4h50.9v2.1h-50.9zM267.9 2263.8h50.9v2.3h-50.9z" fill="#ff8a00"/>
<path d="M267.9 1323.3h50.9v2.1h-50.9zM267.9 1556.7h50.9v2.3h-50.9zM267.9 1684.2h50.9v2.4h-50.9zM267.9 2168.4h50.9v2.1h-50.9zM267.9 2241.9h50.9v2.3h-50.9z" fill="#ff7d00"/>
<path d="M267.9 1325.2h50.9v2.4h-50.9zM267.9 1554.6h50.9v2.3h-50.9zM267.9 2151.3h50.9v2.2h-50.9zM267.9 2315.6h50.9v2.2h-50.9z" fill="#ff8300"/>
<path d="M267.9 1327.3h50.9v2.4h-50.9zM267.9 1357.1h50.9v3.1h-50.9zM267.9 1645h50.9v2.1h-50.9zM267.9 1712.9h50.9v2.3h-50.9z" fill="#ff7100"/>
<path d="M267.9 1329.4h50.9v2.4h-50.9zM267.9 1715h50.9v2.3h-50.9zM267.9 1760.6h50.9v2.3h-50.9zM267.9 2164.6h50.9v2.1h-50.9zM267.9 2272.1h50.9v2.3h-50.9z" fill="#ff7900"/>
<path d="M267.9 1331.5h50.9v2.4h-50.9zM267.9 1575.6h50.9v3.1h-50.9zM267.9 1596.8h50.9v2.3h-50.9zM267.9 1786.5h50.9v2.2h-50.9zM267.9 2261.7h50.9v2.3h-50.9z" fill="#ff8d00"/>
<path d="M267.9 1333.6h50.9v2.1h-50.9zM267.9 1352.5h50.9v2.6h-50.9z" fill="#97fc05"/>
<path d="M267.9 1335.5h50.9v2.1h-50.9zM267.9 1989.3h50.9v2.1h-50.9z" fill="#e0f200"/>
<path d="M267.9 1337.4h50.9v2.4h-50.9zM267.9 1637.5h50.9v2.1h-50.9zM267.9 1905h50.9v2.3h-50.9zM267.9 2115.9h50.9v2.1h-50.9zM267.9 2149.3h50.9v2.2h-50.9z" fill="#ff8200"/>
<path d="M267.9 1339.6h50.9v2.4h-50.9zM267.9 1431.2h50.9v3.1h-50.9zM267.9 2248h50.9v2.3h-50.9zM267.9 2309.7h50.9v2.2h-50.9zM267.9 2343.8h50.9v3.1h-50.9z" fill="#ff8700"/>
<path d="M267.9 1341.8h50.9v2.4h-50.9zM267.9 1492.2h50.9v2.1h-50.9zM267.9 1967.7h50.9v2.1h-50.9z" fill="#ff7a00"/>
<path d="M267.9 1344h50.9v1.8h-50.9z" fill="#f5e900"/>
<path d="M267.9 1345.6h50.9v1.8h-50.9zM267.9 1523.1h50.9v2.1h-50.9zM267.9 1605.9h50.9v1.8h-50.9zM267.9 1969.6h50.9v2.6h-50.9z" fill="#ffd200"/>
<path d="M267.9 1347.1h50.9v1.8h-50.9z" fill="#14f73e"/>
<path d="M267.9 1348.6h50.9v1.8h-50.9z" fill="#15f73c"/>
<path d="M267.9 1350.1h50.9v2.6h-50.9zM267.9 1421.8h50.9v2.1h-50.9z" fill="#82fb08"/>
<path d="M267.9 1354.8h50.9v2.6h-50.9z" fill="#d6f700"/>
<path d="M267.9 1362.7h50.9v2.4h-50.9z" fill="#ffc800"/>
<path d="M267.9 1364.9h50.9v2.4h-50.9z" fill="#ffb100"/>
<path d="M267.9 1367.1h50.9v2.4h-50.9z" fill="#ffad00"/>
<path d="M267.9 1369.3h50.9v2.1h-50.9z" fill="#45f70f"/>
<path d="M267.9 1371.2h50.9v2.1h-50.9z" fill="#60f90c"/>
<path d="M267.9 1373h50.9v2.1h-50.9z" fill="#8afc07"/>
<path d="M267.9 1374.9h50.9v2.1h-50.9zM267.9 1842h50.9v2.4h-50.9zM267.9 1954.6h50.9v2.1h-50.9zM267.9 2334.4h50.9v2.1h-50.9z" fill="#ffd700"/>
<path d="M267.9 1376.8h50.9v2.1h-50.9zM267.9 1507.2h50.9v2.1h-50.9zM267.9 2084.9h50.9v2.1h-50.9z" fill="#fce500"/>
<path d="M267.9 1378.7h50.9v4h-50.9zM267.9 2173.1h50.9v2.1h-50.9zM267.9 2192.8h50.9v2.1h-50.9z" fill="#ff5100"/>
<path d="M267.9 1382.4h50.9v2.4h-50.9zM267.9 2083h50.9v2.1h-50.9z" fill="#eaed00"/>
<path d="M267.9 1384.6h50.9v2.4h-50.9zM267.9 2367.2h50.9v2.1h-50.9z" fill="#dcf400"/>
<path d="M267.9 1386.8h50.9v2.4h-50.9zM267.9 1529.7h50.9v2.1h-50.9z" fill="#f0eb00"/>
<path d="M267.9 1389h50.9v2.4h-50.9z" fill="#ff6400"/>
<path d="M267.9 1391.1h50.9v2.4h-50.9z" fill="#ff6c00"/>
<path d="M267.9 1393.2h50.9v2.4h-50.9z" fill="#ff4600"/>
<path d="M267.9 1395.3h50.9v2.4h-50.9zM267.9 1619.7h50.9v3.1h-50.9zM267.9 1887h50.9v3.1h-50.9z" fill="#ff5000"/>
<path d="M267.9 1397.4h50.9v1.8h-50.9zM267.9 2239.8h50.9v2.3h-50.9zM267.9 2328.3h50.9v2.4h-50.9z" fill="#ff7f00"/>
<path d="M267.9 1398.9h50.9v2.9h-50.9zM267.9 2370.7h50.9v1.8h-50.9z" fill="#148ff5"/>
<path d="M267.9 1403.6h50.9v2.3h-50.9z" fill="#ff8600"/>
<path d="M267.9 1405.7h50.9v2.3h-50.9zM267.9 1682.1h50.9v2.4h-50.9z" fill="#ff9100"/>
<path d="M267.9 1407.7h50.9v1.8h-50.9z" fill="#13f745"/>
<path d="M267.9 1409.3h50.9v1.8h-50.9z" fill="#0df85f"/>
<path d="M267.9 1410.9h50.9v2h-50.9z" fill="#f5e800"/>
<path d="M267.9 1412.7h50.9v2h-50.9zM267.9 1562.5h50.9v2.1h-50.9zM267.9 1616h50.9v2.1h-50.9zM267.9 1956.4h50.9v2.1h-50.9zM267.9 2134.6h50.9v2.1h-50.9z" fill="#ffe300"/>
<path d="M267.9 1414.5h50.9v2h-50.9zM267.9 1820.4h50.9v2.1h-50.9z" fill="#ffdd00"/>
<path d="M267.9 1416.3h50.9v2h-50.9zM267.9 1857h50.9v2.1h-50.9z" fill="#edec00"/>
<path d="M267.9 1418.1h50.9v2.1h-50.9z" fill="#7cfb09"/>
<path d="M267.9 1419.9h50.9v2.1h-50.9z" fill="#8dfc07"/>
<path d="M267.9 1423.7h50.9v2.1h-50.9zM267.9 1807.3h50.9v2.1h-50.9zM267.9 1862.6h50.9v2.1h-50.9z" fill="#d3f800"/>
<path d="M267.9 1425.6h50.9v2.1h-50.9z" fill="#d1f900"/>
<path d="M267.9 1427.4h50.9v2.1h-50.9zM267.9 1738.8h50.9v2.1h-50.9zM267.9 2017.4h50.9v2.1h-50.9z" fill="#a5fd04"/>
<path d="M267.9 1429.3h50.9v2.1h-50.9zM267.9 1945.9h50.9v2.4h-50.9z" fill="#6efa0a"/>
<path d="M267.9 1434h50.9v3.1h-50.9z" fill="#ff9d00"/>
<path d="M267.9 1436.8h50.9v3.1h-50.9zM267.9 2079.3h50.9v2.1h-50.9z" fill="#ffd100"/>
<path d="M267.9 1439.6h50.9v3.1h-50.9zM267.9 1472.8h50.9v2.3h-50.9zM267.9 2036.5h50.9v2.4h-50.9z" fill="#ff6500"/>
<path d="M267.9 1442.4h50.9v2.3h-50.9zM267.9 1999.3h50.9v2.4h-50.9zM267.9 2278.1h50.9v2.1h-50.9z" fill="#ffc300"/>
<path d="M267.9 1444.5h50.9v2.3h-50.9zM267.9 1448.6h50.9v2.3h-50.9zM267.9 1866.7h50.9v2.4h-50.9z" fill="#ffbd00"/>
<path d="M267.9 1446.6h50.9v2.3h-50.9zM267.9 2092.4h50.9v2.1h-50.9z" fill="#ffb000"/>
<path d="M267.9 1450.7h50.9v2.3h-50.9zM267.9 1622.5h50.9v2.1h-50.9z" fill="#ffb800"/>
<path d="M267.9 1452.8h50.9v3.1h-50.9z" fill="#3ff710"/>
<path d="M267.9 1455.6h50.9v2.1h-50.9zM267.9 1943.8h50.9v2.4h-50.9zM267.9 2190.7h50.9v2.3h-50.9z" fill="#a8fd03"/>
<path d="M267.9 1457.4h50.9v2.1h-50.9z" fill="#b7fe01"/>
<path d="M267.9 1459.3h50.9v2.1h-50.9z" fill="#c1ff00"/>
<path d="M267.9 1461.2h50.9v2.1h-50.9z" fill="#c4ff00"/>
<path d="M267.9 1463.1h50.9v2.1h-50.9zM267.9 2006.1h50.9v2.1h-50.9z" fill="#e1f200"/>
<path d="M267.9 1465h50.9v2.1h-50.9z" fill="#7dfb09"/>
<path d="M267.9 1466.8h50.9v2.1h-50.9zM267.9 2182.5h50.9v2.3h-50.9z" fill="#b4fe02"/>
<path d="M267.9 1468.7h50.9v2.3h-50.9z" fill="#ff6a00"/>
<path d="M267.9 1470.8h50.9v2.3h-50.9z" fill="#ff4900"/>
<path d="M267.9 1474.9h50.9v2.3h-50.9zM267.9 2077.4h50.9v2.1h-50.9z" fill="#ff4d00"/>
<path d="M267.9 1477h50.9v2.3h-50.9zM267.9 1826.1h50.9v2.1h-50.9zM267.9 2194.7h50.9v2.1h-50.9z" fill="#ff5900"/>
<path d="M267.9 1479h50.9v3.1h-50.9z" fill="#13e7f9"/>
<path d="M267.9 1481.8h50.9v3.1h-50.9zM267.9 1829.8h50.9v2.1h-50.9z" fill="#ff6100"/>
<path d="M267.9 1484.6h50.9v2.1h-50.9z" fill="#9bfd05"/>
<path d="M267.9 1486.5h50.9v2.1h-50.9zM267.9 1822.3h50.9v2.1h-50.9z" fill="#e3f100"/>
<path d="M267.9 1488.4h50.9v2.1h-50.9zM267.9 1717.1h50.9v2.3h-50.9zM267.9 2257.5h50.9v2.3h-50.9z" fill="#ff7700"/>
<path d="M267.9 1490.3h50.9v2.1h-50.9zM267.9 1917h50.9v2.1h-50.9z" fill="#ff9700"/>
<path d="M267.9 1494h50.9v2.1h-50.9zM267.9 1499.7h50.9v2.1h-50.9zM267.9 2062.4h50.9v2.1h-50.9zM267.9 2068h50.9v2.1h-50.9zM267.9 2088.7h50.9v2.1h-50.9z" fill="#ffdc00"/>
<path d="M267.9 1495.9h50.9v2.1h-50.9zM267.9 1587.8h50.9v2.1h-50.9zM267.9 2136.5h50.9v2.1h-50.9z" fill="#ffd900"/>
<path d="M267.9 1497.8h50.9v2.1h-50.9zM267.9 1578.4h50.9v2.1h-50.9z" fill="#eeec00"/>
<path d="M267.9 1501.5h50.9v2.1h-50.9zM267.9 1952.7h50.9v2.1h-50.9z" fill="#ffe000"/>
<path d="M267.9 1503.4h50.9v4h-50.9zM267.9 1655.4h50.9v2.1h-50.9zM267.9 1659.1h50.9v2.1h-50.9zM267.9 2086.8h50.9v2.1h-50.9z" fill="#ffdb00"/>
<path d="M267.9 1509h50.9v3.1h-50.9zM267.9 1598.9h50.9v2.3h-50.9zM267.9 1641.3h50.9v2.1h-50.9zM267.9 1903h50.9v2.3h-50.9zM267.9 1911.2h50.9v2.3h-50.9zM267.9 2237.8h50.9v2.3h-50.9zM267.9 2253.4h50.9v2.3h-50.9z" fill="#ff7c00"/>
<path d="M267.9 1511.8h50.9v2.4h-50.9z" fill="#17f633"/>
<path d="M267.9 1514h50.9v2.4h-50.9z" fill="#16f639"/>
<path d="M267.9 1516.1h50.9v2.4h-50.9z" fill="#15f639"/>
<path d="M267.9 1518.2h50.9v2.4h-50.9z" fill="#0ef857"/>
<path d="M267.9 1520.3h50.9v3.1h-50.9z" fill="#ff4500"/>
<path d="M267.9 1525h50.9v2.1h-50.9zM267.9 1564.4h50.9v2.1h-50.9zM267.9 1662.9h50.9v2.1h-50.9zM267.9 1987.4h50.9v2.1h-50.9z" fill="#f1ea00"/>
<path d="M267.9 1526.9h50.9v3.1h-50.9zM267.9 2198.4h50.9v2.1h-50.9z" fill="#18f630"/>
<path d="M267.9 1531.5h50.9v2.1h-50.9z" fill="#efeb00"/>
<path d="M267.9 1533.4h50.9v2.1h-50.9z" fill="#ff5700"/>
<path d="M267.9 1535.3h50.9v2.1h-50.9z" fill="#ff4a00"/>
<path d="M267.9 1537.2h50.9v2.1h-50.9zM267.9 1695.7h50.9v2.1h-50.9z" fill="#ff4f00"/>
<path d="M267.9 1539h50.9v2.3h-50.9zM267.9 2023h50.9v2.1h-50.9z" fill="#c6fe00"/>
<path d="M267.9 1541.1h50.9v2.3h-50.9zM267.9 1797.7h50.9v2.2h-50.9zM267.9 1889.8h50.9v2.4h-50.9z" fill="#95fc06"/>
<path d="M267.9 1543.2h50.9v2.3h-50.9zM267.9 1721h50.9v2.1h-50.9z" fill="#86fb07"/>
<path d="M267.9 1545.2h50.9v2.3h-50.9z" fill="#e3f000"/>
<path d="M267.9 1547.3h50.9v2.3h-50.9zM267.9 1801.6h50.9v4.1h-50.9zM267.9 2159h50.9v2.1h-50.9z" fill="#c7fd00"/>
<path d="M267.9 1549.4h50.9v3.4h-50.9zM267.9 2011.8h50.9v4h-50.9zM267.9 2101.8h50.9v4h-50.9zM267.9 2144h50.9v3.6h-50.9zM267.9 2250h50.9v3.6h-50.9zM267.9 2320.3h50.9v4h-50.9zM267.9 2352.8h50.9v3.4h-50.9z" fill="#ffffff"/>
<path d="M267.9 1552.6h50.9v2.3h-50.9zM267.9 1784.6h50.9v2.2h-50.9zM267.9 2160.9h50.9v2.1h-50.9zM267.9 2259.6h50.9v2.3h-50.9zM267.9 2286.6h50.9v2.1h-50.9zM267.9 2296.3h50.9v2.3h-50.9zM267.9 2311.7h50.9v2.2h-50.9z" fill="#ff8500"/>
<path d="M267.9 1558.7h50.9v2.1h-50.9z" fill="#12f748"/>
<path d="M267.9 1560.6h50.9v2.1h-50.9z" fill="#49f80f"/>
<path d="M267.9 1566.2h50.9v2.1h-50.9zM267.9 2003.8h50.9v2.6h-50.9z" fill="#1bf622"/>
<path d="M267.9 1568.1h50.9v2.1h-50.9z" fill="#17f631"/>
<path d="M267.9 1570h50.9v2.1h-50.9zM267.9 1958.3h50.9v2.1h-50.9zM267.9 1963.9h50.9v2.1h-50.9zM267.9 2270h50.9v2.3h-50.9z" fill="#ff7600"/>
<path d="M267.9 1571.9h50.9v2.1h-50.9zM267.9 1915.2h50.9v2.1h-50.9z" fill="#bcff01"/>
<path d="M267.9 1573.8h50.9v2.1h-50.9zM267.9 1799.6h50.9v2.2h-50.9zM267.9 2282.8h50.9v2.1h-50.9z" fill="#a0fd04"/>
<path d="M267.9 1580.3h50.9v2.1h-50.9z" fill="#ffe200"/>
<path d="M267.9 1582.2h50.9v2.1h-50.9z" fill="#f7e800"/>
<path d="M267.9 1584.1h50.9v2.1h-50.9zM267.9 2046.9h50.9v2.3h-50.9z" fill="#ebed00"/>
<path d="M267.9 1585.9h50.9v2.1h-50.9z" fill="#f2ea00"/>
<path d="M267.9 1589.7h50.9v2.1h-50.9zM267.9 1722.9h50.9v2.1h-50.9z" fill="#f8e700"/>
<path d="M267.9 1591.6h50.9v1.8h-50.9z" fill="#14f740"/>
<path d="M267.9 1593.2h50.9v1.8h-50.9z" fill="#29f613"/>
<path d="M267.9 1594.8h50.9v2.3h-50.9z" fill="#ff9a00"/>
<path d="M267.9 1601h50.9v1.9h-50.9z" fill="#02f89f"/>
<path d="M267.9 1602.6h50.9v1.9h-50.9z" fill="#03fa89"/>
<path d="M267.9 1604.3h50.9v1.8h-50.9zM267.9 1993h50.9v2.4h-50.9z" fill="#ffce00"/>
<path d="M267.9 1607.5h50.9v3.1h-50.9z" fill="#3cf710"/>
<path d="M267.9 1610.3h50.9v2.1h-50.9zM267.9 1617.8h50.9v2.1h-50.9zM267.9 2060.5h50.9v2.1h-50.9z" fill="#ffdf00"/>
<path d="M267.9 1612.2h50.9v2.1h-50.9zM267.9 1724.8h50.9v2.1h-50.9z" fill="#fde500"/>
<path d="M267.9 1624.4h50.9v2.1h-50.9z" fill="#ffbb00"/>
<path d="M267.9 1626.3h50.9v2.1h-50.9z" fill="#ffa200"/>
<path d="M267.9 1628.2h50.9v2.1h-50.9z" fill="#ffd300"/>
<path d="M267.9 1630h50.9v5.9h-50.9z" fill="#ffab00"/>
<path d="M267.9 1639.4h50.9v2.1h-50.9zM267.9 1768.7h50.9v2.3h-50.9zM267.9 2280h50.9v3.1h-50.9z" fill="#ff8b00"/>
<path d="M267.9 1643.2h50.9v2.1h-50.9zM267.9 1965.8h50.9v2.1h-50.9z" fill="#ff9000"/>
<path d="M267.9 1648.8h50.9v2.1h-50.9z" fill="#cafc00"/>
<path d="M267.9 1650.7h50.9v2.1h-50.9z" fill="#aafd03"/>
<path d="M267.9 1652.5h50.9v3.1h-50.9zM267.9 1948h50.9v3.1h-50.9z" fill="#ff3b00"/>
<path d="M267.9 1657.2h50.9v2.1h-50.9zM267.9 1971.9h50.9v2.6h-50.9z" fill="#ffda00"/>
<path d="M267.9 1661h50.9v2.1h-50.9zM267.9 2044.9h50.9v2.3h-50.9zM267.9 2332.5h50.9v2.1h-50.9z" fill="#ffe100"/>
<path d="M267.9 1664.7h50.9v2.1h-50.9z" fill="#01fa93"/>
<path d="M267.9 1666.6h50.9v2.1h-50.9z" fill="#01fa92"/>
<path d="M267.9 1668.5h50.9v2.1h-50.9zM267.9 1742.6h50.9v2.1h-50.9z" fill="#c3ff00"/>
<path d="M267.9 1670.4h50.9v2.1h-50.9zM267.9 2372.3h50.9v2.5h-50.9z" fill="#d4f700"/>
<path d="M267.9 1674.1h50.9v2.1h-50.9zM267.9 1706h50.9v3.1h-50.9zM267.9 1770.7h50.9v2.4h-50.9z" fill="#bdff01"/>
<path d="M267.9 1676h50.9v2.1h-50.9z" fill="#b5fe02"/>
<path d="M267.9 1677.9h50.9v4.5h-50.9zM267.9 1962.1h50.9v2.1h-50.9zM267.9 2292.2h50.9v2.3h-50.9z" fill="#ff8000"/>
<path d="M267.9 1686.3h50.9v2.6h-50.9z" fill="#56f80d"/>
<path d="M267.9 1688.6h50.9v2.6h-50.9z" fill="#1df517"/>
<path d="M267.9 1691h50.9v3.1h-50.9z" fill="#ff9f00"/>
<path d="M267.9 1693.8h50.9v2.1h-50.9zM267.9 1878.6h50.9v2.1h-50.9z" fill="#ff4c00"/>
<path d="M267.9 1697.6h50.9v2.1h-50.9zM267.9 2175h50.9v2.1h-50.9z" fill="#ff5e00"/>
<path d="M267.9 1699.4h50.9v2.1h-50.9zM267.9 1858.9h50.9v2.1h-50.9zM267.9 2069.9h50.9v2.1h-50.9zM267.9 2298.3h50.9v2.3h-50.9z" fill="#ff6700"/>
<path d="M267.9 1701.3h50.9v2.6h-50.9zM267.9 1744.5h50.9v2.1h-50.9z" fill="#c5fe00"/>
<path d="M267.9 1703.7h50.9v2.6h-50.9z" fill="#d9f500"/>
<path d="M267.9 1710.9h50.9v2.3h-50.9z" fill="#ff8f00"/>
<path d="M267.9 1719.1h50.9v2.1h-50.9z" fill="#cefa00"/>
<path d="M267.9 1726.6h50.9v2.1h-50.9zM267.9 1824.2h50.9v2.1h-50.9z" fill="#ffd600"/>
<path d="M267.9 1728.5h50.9v2.1h-50.9z" fill="#ffcf00"/>
<path d="M267.9 1730.4h50.9v2.1h-50.9zM267.9 1950.8h50.9v2.1h-50.9z" fill="#ffde00"/>
<path d="M267.9 1732.3h50.9v2.6h-50.9zM267.9 2026.8h50.9v2.1h-50.9z" fill="#aefe03"/>
<path d="M267.9 1734.6h50.9v2.6h-50.9z" fill="#d6f600"/>
<path d="M267.9 1737h50.9v2.1h-50.9zM267.9 1853.4h50.9v1.9h-50.9z" fill="#ff4e00"/>
<path d="M267.9 1746.3h50.9v2.1h-50.9zM267.9 1758.5h50.9v2.3h-50.9zM267.9 2265.9h50.9v2.3h-50.9z" fill="#ff7400"/>
<path d="M267.9 1748.2h50.9v2.1h-50.9zM267.9 1762.6h50.9v2.3h-50.9zM267.9 1780.7h50.9v2.2h-50.9zM267.9 1907.1h50.9v2.3h-50.9zM267.9 2176.8h50.9v2.1h-50.9zM267.9 2274.2h50.9v2.3h-50.9z" fill="#ff7200"/>
<path d="M267.9 1750.1h50.9v2.1h-50.9zM267.9 1920.8h50.9v2.1h-50.9zM267.9 2326.2h50.9v2.4h-50.9z" fill="#ff9800"/>
<path d="M267.9 1752h50.9v1.8h-50.9z" fill="#193cec"/>
<path d="M267.9 1753.6h50.9v1.8h-50.9z" fill="#1e37ec"/>
<path d="M267.9 1755.1h50.9v1.9h-50.9z" fill="#13e7fb"/>
<path d="M267.9 1756.8h50.9v1.9h-50.9z" fill="#14e2ff"/>
<path d="M267.9 1764.6h50.9v2.3h-50.9zM267.9 1960.2h50.9v2.1h-50.9zM267.9 2350.4h50.9v2.7h-50.9z" fill="#ff7000"/>
<path d="M267.9 1766.7h50.9v2.3h-50.9zM267.9 1839.7h50.9v2.6h-50.9z" fill="#ff9200"/>
<path d="M267.9 1772.9h50.9v2.4h-50.9z" fill="#b0fe02"/>
<path d="M267.9 1775.1h50.9v2.4h-50.9zM267.9 2021.1h50.9v2.1h-50.9zM267.9 2170.3h50.9v3.1h-50.9z" fill="#92fc06"/>
<path d="M267.9 1777.3h50.9v3.6h-50.9z" fill="#14e6ff"/>
<path d="M267.9 1782.6h50.9v2.2h-50.9zM267.9 1980.3h50.9v1.9h-50.9z" fill="#ff9400"/>
<path d="M267.9 1788.5h50.9v2.2h-50.9z" fill="#ff9500"/>
<path d="M267.9 1790.4h50.9v1.9h-50.9z" fill="#2037ec"/>
<path d="M267.9 1792.1h50.9v1.9h-50.9z" fill="#1d37eb"/>
<path d="M267.9 1793.8h50.9v2.2h-50.9zM267.9 1811h50.9v2.1h-50.9zM267.9 1891.9h50.9v2.4h-50.9z" fill="#b6fe02"/>
<path d="M267.9 1795.7h50.9v2.2h-50.9zM267.9 2008h50.9v2.1h-50.9zM267.9 2105.6h50.9v2.4h-50.9zM267.9 2109.8h50.9v2.4h-50.9z" fill="#c9fc00"/>
<path d="M267.9 1805.4h50.9v2.1h-50.9z" fill="#bfff00"/>
<path d="M267.9 1809.2h50.9v2.1h-50.9zM267.9 2363.5h50.9v2.1h-50.9z" fill="#73fa0a"/>
<path d="M267.9 1812.9h50.9v2.1h-50.9zM267.9 1985.5h50.9v2.1h-50.9z" fill="#e2f100"/>
<path d="M267.9 1814.8h50.9v4h-50.9z" fill="#98fc05"/>
<path d="M267.9 1818.6h50.9v2.1h-50.9z" fill="#ddf300"/>
<path d="M267.9 1827.9h50.9v2.1h-50.9zM267.9 2073.7h50.9v2.1h-50.9z" fill="#ff6200"/>
<path d="M267.9 1831.7h50.9v2.1h-50.9zM267.9 1894.1h50.9v2.4h-50.9zM267.9 2188.7h50.9v2.3h-50.9z" fill="#d7f600"/>
<path d="M267.9 1833.6h50.9v2.1h-50.9z" fill="#bbfe01"/>
<path d="M267.9 1835.4h50.9v2.1h-50.9zM267.9 2024.9h50.9v2.1h-50.9z" fill="#d0f900"/>
<path d="M267.9 1837.3h50.9v2.6h-50.9zM267.9 1918.9h50.9v2.1h-50.9zM267.9 2330.4h50.9v2.4h-50.9z" fill="#ff7e00"/>
<path d="M267.9 1844.2h50.9v2.4h-50.9zM267.9 2212h50.9v2.3h-50.9z" fill="#ffcd00"/>
<path d="M267.9 1846.4h50.9v2.4h-50.9zM267.9 2202.2h50.9v2.1h-50.9z" fill="#ffd800"/>
<path d="M267.9 1848.6h50.9v1.8h-50.9z" fill="#1583f4"/>
<path d="M267.9 1850.2h50.9v1.8h-50.9z" fill="#1490f5"/>
<path d="M267.9 1851.8h50.9v1.9h-50.9zM267.9 1874.8h50.9v4h-50.9z" fill="#ff5400"/>
<path d="M267.9 1855.1h50.9v2.1h-50.9z" fill="#e9ee00"/>
<path d="M267.9 1860.8h50.9v2.1h-50.9z" fill="#66f90b"/>
<path d="M267.9 1864.5h50.9v2.4h-50.9z" fill="#ffbc00"/>
<path d="M267.9 1868.9h50.9v2.4h-50.9zM267.9 2040.8h50.9v2.3h-50.9z" fill="#ffc700"/>
<path d="M267.9 1871.1h50.9v4h-50.9z" fill="#ff5d00"/>
<path d="M267.9 1880.5h50.9v2.4h-50.9z" fill="#67f90b"/>
<path d="M267.9 1882.6h50.9v2.4h-50.9z" fill="#ccfb00"/>
<path d="M267.9 1884.8h50.9v2.4h-50.9z" fill="#cdfa00"/>
<path d="M267.9 1896.2h50.9v2.4h-50.9z" fill="#88fb07"/>
<path d="M267.9 1898.3h50.9v2.6h-50.9zM267.9 2341.9h50.9v2.1h-50.9z" fill="#40f710"/>
<path d="M267.9 1900.6h50.9v2.6h-50.9zM267.9 2336.3h50.9v2.1h-50.9z" fill="#1cf51c"/>
<path d="M267.9 1909.2h50.9v2.3h-50.9zM267.9 1922.7h50.9v2.1h-50.9zM267.9 2121.5h50.9v2.1h-50.9z" fill="#ff8e00"/>
<path d="M267.9 1913.3h50.9v2.1h-50.9z" fill="#c0ff00"/>
<path d="M267.9 1924.5h50.9v2.6h-50.9z" fill="#01f99d"/>
<path d="M267.9 1926.9h50.9v2.6h-50.9z" fill="#02fa8e"/>
<path d="M267.9 1929.2h50.9v2.3h-50.9z" fill="#daf500"/>
<path d="M267.9 1931.3h50.9v2.3h-50.9z" fill="#c4fe00"/>
<path d="M267.9 1933.4h50.9v2.3h-50.9z" fill="#cdfb00"/>
<path d="M267.9 1935.4h50.9v2.3h-50.9z" fill="#a7fd03"/>
<path d="M267.9 1937.5h50.9v2.3h-50.9z" fill="#6ffa0a"/>
<path d="M267.9 1939.5h50.9v2.4h-50.9z" fill="#9afd05"/>
<path d="M267.9 1941.7h50.9v2.4h-50.9zM267.9 1983.6h50.9v2.1h-50.9z" fill="#e8ee00"/>
<path d="M267.9 1974.2h50.9v2.1h-50.9z" fill="#bbff01"/>
<path d="M267.9 1976.1h50.9v2.1h-50.9z" fill="#a2fd04"/>
<path d="M267.9 1978h50.9v2.5h-50.9z" fill="#1bf521"/>
<path d="M267.9 1981.9h50.9v1.9h-50.9z" fill="#ff7500"/>
<path d="M267.9 1991.1h50.9v2.1h-50.9z" fill="#93fc06"/>
<path d="M267.9 1995.1h50.9v2.4h-50.9z" fill="#ffb900"/>
<path d="M267.9 2001.4h50.9v2.6h-50.9z" fill="#15f63b"/>
<path d="M267.9 2009.9h50.9v2.1h-50.9z" fill="#7afb09"/>
<path d="M267.9 2015.5h50.9v2.1h-50.9zM267.9 2042.9h50.9v2.3h-50.9z" fill="#dbf400"/>
<path d="M267.9 2019.3h50.9v2.1h-50.9z" fill="#e5f000"/>
<path d="M267.9 2028.6h50.9v2.1h-50.9z" fill="#c6fd00"/>
<path d="M267.9 2030.5h50.9v2.1h-50.9z" fill="#9cfd05"/>
<path d="M267.9 2032.4h50.9v2.1h-50.9z" fill="#b3fe02"/>
<path d="M267.9 2034.3h50.9v2.4h-50.9z" fill="#ff5500"/>
<path d="M267.9 2038.7h50.9v2.4h-50.9z" fill="#ff5b00"/>
<path d="M267.9 2048.9h50.9v2.3h-50.9z" fill="#f3e900"/>
<path d="M267.9 2050.9h50.9v2.3h-50.9z" fill="#fbe600"/>
<path d="M267.9 2052.9h50.9v2.3h-50.9zM267.9 2204h50.9v2.1h-50.9z" fill="#eced00"/>
<path d="M267.9 2056.8h50.9v2.1h-50.9z" fill="#193aeb"/>
<path d="M267.9 2058.7h50.9v2.1h-50.9z" fill="#2638ed"/>
<path d="M267.9 2064.3h50.9v2.1h-50.9zM267.9 2081.2h50.9v2.1h-50.9z" fill="#fae600"/>
<path d="M267.9 2066.2h50.9v2.1h-50.9z" fill="#f6e800"/>
<path d="M267.9 2071.8h50.9v2.1h-50.9z" fill="#ff5300"/>
<path d="M267.9 2075.5h50.9v2.1h-50.9z" fill="#ff6000"/>
<path d="M267.9 2090.6h50.9v2.1h-50.9zM267.9 2125.3h50.9v3.1h-50.9zM267.9 2209.9h50.9v2.3h-50.9z" fill="#ffb600"/>
<path d="M267.9 2094.3h50.9v2.1h-50.9z" fill="#ffc500"/>
<path d="M267.9 2096.2h50.9v2.1h-50.9z" fill="#ffa400"/>
<path d="M267.9 2098.1h50.9v2.1h-50.9z" fill="#ffa300"/>
<path d="M267.9 2099.9h50.9v2.1h-50.9z" fill="#ffaf00"/>
<path d="M267.9 2107.7h50.9v2.4h-50.9z" fill="#99fc05"/>
<path d="M267.9 2114h50.9v2.1h-50.9zM267.9 2153.2h50.9v2.2h-50.9zM267.9 2302.4h50.9v2.3h-50.9z" fill="#ff8800"/>
<path d="M267.9 2117.8h50.9v2.1h-50.9zM267.9 2294.2h50.9v2.3h-50.9z" fill="#ff8900"/>
<path d="M267.9 2119.6h50.9v2.1h-50.9zM267.9 2243.9h50.9v2.3h-50.9z" fill="#ff8100"/>
<path d="M267.9 2128.1h50.9v2.4h-50.9zM267.9 2166.5h50.9v2.1h-50.9zM267.9 2313.6h50.9v2.2h-50.9z" fill="#ff6d00"/>
<path d="M267.9 2130.3h50.9v2.4h-50.9z" fill="#ff4200"/>
<path d="M267.9 2132.4h50.9v2.4h-50.9z" fill="#ff4b00"/>
<path d="M267.9 2138.4h50.9v2.1h-50.9z" fill="#ffe400"/>
<path d="M267.9 2140.3h50.9v2.1h-50.9z" fill="#ecec00"/>
<path d="M267.9 2142.1h50.9v2.1h-50.9z" fill="#ffc200"/>
<path d="M267.9 2147.4h50.9v2.2h-50.9z" fill="#ff8c00"/>
<path d="M267.9 2155.2h50.9v2.2h-50.9z" fill="#ff7300"/>
<path d="M267.9 2157.1h50.9v2.1h-50.9z" fill="#7ffb08"/>
<path d="M267.9 2162.8h50.9v2.1h-50.9zM267.9 2324.1h50.9v2.4h-50.9z" fill="#ff6e00"/>
<path d="M267.9 2178.7h50.9v2.1h-50.9z" fill="#0cf862"/>
<path d="M267.9 2180.6h50.9v2.1h-50.9z" fill="#33f611"/>
<path d="M267.9 2184.5h50.9v2.3h-50.9z" fill="#75fa09"/>
<path d="M267.9 2186.6h50.9v2.3h-50.9z" fill="#85fb08"/>
<path d="M267.9 2196.5h50.9v2.1h-50.9z" fill="#ff6300"/>
<path d="M267.9 2200.3h50.9v2.1h-50.9z" fill="#65f90b"/>
<path d="M267.9 2205.9h50.9v2.1h-50.9z" fill="#f9e700"/>
<path d="M267.9 2207.8h50.9v2.3h-50.9z" fill="#ffb500"/>
<path d="M267.9 2214h50.9v2.3h-50.9z" fill="#ffb700"/>
<path d="M267.9 2216.1h50.9v2.3h-50.9zM267.9 2220.3h50.9v2.3h-50.9z" fill="#ffae00"/>
<path d="M267.9 2218.2h50.9v2.3h-50.9z" fill="#ffac00"/>
<path d="M267.9 2222.4h50.9v2.3h-50.9z" fill="#ffbe00"/>
<path d="M267.9 2224.5h50.9v2.3h-50.9z" fill="#ffcc00"/>
<path d="M267.9 2226.6h50.9v2.6h-50.9z" fill="#16f636"/>
<path d="M267.9 2228.9h50.9v2.6h-50.9z" fill="#1ff514"/>
<path d="M267.9 2231.2h50.9v3.1h-50.9z" fill="#ff7800"/>
<path d="M267.9 2234.1h50.9v2.1h-50.9z" fill="#16f638"/>
<path d="M267.9 2235.9h50.9v2.1h-50.9z" fill="#11f74c"/>
<path d="M267.9 2245.9h50.9v2.3h-50.9zM267.9 2255.5h50.9v2.3h-50.9z" fill="#ff7b00"/>
<path d="M267.9 2267.9h50.9v2.3h-50.9zM267.9 2307.8h50.9v2.2h-50.9z" fill="#ff6900"/>
<path d="M267.9 2284.7h50.9v2.1h-50.9z" fill="#81fb08"/>
<path d="M267.9 2288.5h50.9v4h-50.9z" fill="#02f8a1"/>
<path d="M267.9 2304.4h50.9v1.9h-50.9z" fill="#f345fa"/>
<path d="M267.9 2306.1h50.9v1.9h-50.9z" fill="#fa46fa"/>
<path d="M267.9 2317.5h50.9v3.1h-50.9z" fill="#4af80f"/>
<path d="M267.9 2338.2h50.9v2.1h-50.9z" fill="#2ff612"/>
<path d="M267.9 2340h50.9v2.1h-50.9z" fill="#18f62e"/>
<path d="M267.9 2346.6h50.9v2.1h-50.9z" fill="#14dffe"/>
<path d="M267.9 2348.5h50.9v2.1h-50.9z" fill="#14e1fe"/>
<path d="M267.9 2356h50.9v2.1h-50.9z" fill="#18f62d"/>
<path d="M267.9 2357.9h50.9v2.1h-50.9z" fill="#57f80d"/>
<path d="M267.9 2359.7h50.9v2.1h-50.9z" fill="#17f634"/>
<path d="M267.9 2361.6h50.9v2.1h-50.9z" fill="#24f513"/>
<path d="M267.9 2369.1h50.9v1.8h-50.9z" fill="#1484f4"/>
<path d="M267.9 2374.6h50.9v2.5h-50.9z" fill="#7dfb08"/>
<path d="M267.9 2376.9h50.9v2.5h-50.9z" fill="#c8fd00"/>
<path d="M318.6 1298.2h48.1v2.9h-48.1zM318.6 1329.4h48.1v2.4h-48.1z" fill="#ff7b00"/>
<path d="M318.6 1300.8h48.1v2.6h-48.1z" fill="#a8fd03"/>
<path d="M318.6 1303.2h48.1v2.6h-48.1zM318.6 2367.2h48.1v2.1h-48.1z" fill="#c3ff00"/>
<path d="M318.6 1305.5h48.1v2.6h-48.1zM318.6 1712.9h48.1v2.3h-48.1z" fill="#ff7000"/>
<path d="M318.6 1307.8h48.1v2.6h-48.1zM318.6 2050.9h48.1v2.3h-48.1z" fill="#ff8100"/>
<path d="M318.6 1310.2h48.1v2.6h-48.1z" fill="#d7f600"/>
<path d="M318.6 1312.5h48.1v2.6h-48.1zM318.6 1969.6h48.1v2.6h-48.1z" fill="#bdff01"/>
<path d="M318.6 1314.9h48.1v3.1h-48.1z" fill="#ffbf00"/>
<path d="M318.6 1317.7h48.1v2.1h-48.1zM318.6 1321.4h48.1v2.1h-48.1zM318.6 1378.7h48.1v2.1h-48.1zM318.6 1598.9h48.1v2.3h-48.1zM318.6 1693.8h48.1v2.1h-48.1zM318.6 2119.6h48.1v2.1h-48.1zM318.6 2248h48.1v2.3h-48.1zM318.6 2311.7h48.1v2.2h-48.1zM318.6 2315.6h48.1v2.2h-48.1z" fill="#ff5300"/>
<path d="M318.6 1319.6h48.1v2.1h-48.1zM318.6 2117.8h48.1v2.1h-48.1z" fill="#ff5b00"/>
<path d="M318.6 1323.3h48.1v2.1h-48.1zM318.6 1646.9h48.1v2.1h-48.1zM318.6 2121.5h48.1v2.1h-48.1zM318.6 2168.4h48.1v2.1h-48.1z" fill="#ff5d00"/>
<path d="M318.6 1325.2h48.1v2.4h-48.1zM318.6 1575.6h48.1v3.1h-48.1zM318.6 1715h48.1v2.3h-48.1zM318.6 2231.2h48.1v3.1h-48.1z" fill="#ff7200"/>
<path d="M318.6 1327.3h48.1v2.4h-48.1zM318.6 1624.4h48.1v2.1h-48.1z" fill="#ff7c00"/>
<path d="M318.6 1331.5h48.1v2.4h-48.1zM318.6 1622.5h48.1v2.1h-48.1zM318.6 2017.4h48.1v2.1h-48.1zM318.6 2054.9h48.1v2.1h-48.1z" fill="#ff8c00"/>
<path d="M318.6 1333.6h48.1v2.1h-48.1zM318.6 1410.9h48.1v2h-48.1zM318.6 1465h48.1v2.1h-48.1z" fill="#f4e900"/>
<path d="M318.6 1335.5h48.1v2.1h-48.1zM318.6 1455.6h48.1v2.1h-48.1zM318.6 1545.2h48.1v2.3h-48.1zM318.6 1956.4h48.1v2.1h-48.1z" fill="#ffda00"/>
<path d="M318.6 1337.4h48.1v2.4h-48.1zM318.6 1397.4h48.1v1.8h-48.1zM318.6 1682.1h48.1v2.4h-48.1zM318.6 2222.4h48.1v2.3h-48.1z" fill="#ff8900"/>
<path d="M318.6 1339.6h48.1v2.4h-48.1z" fill="#ff8d00"/>
<path d="M318.6 1341.8h48.1v2.4h-48.1zM318.6 1684.2h48.1v2.4h-48.1z" fill="#ff7f00"/>
<path d="M318.6 1344h48.1v1.8h-48.1zM318.6 2021.1h48.1v2.1h-48.1zM318.6 2184.5h48.1v2.3h-48.1z" fill="#ffb800"/>
<path d="M318.6 1345.6h48.1v1.8h-48.1z" fill="#ff9e00"/>
<path d="M318.6 1347.1h48.1v1.8h-48.1z" fill="#12f749"/>
<path d="M318.6 1348.6h48.1v1.8h-48.1z" fill="#12f74a"/>
<path d="M318.6 1350.1h48.1v2.6h-48.1z" fill="#96fc06"/>
<path d="M318.6 1352.5h48.1v2.6h-48.1z" fill="#a4fd04"/>
<path d="M318.6 1354.8h48.1v2.6h-48.1z" fill="#bfff00"/>
<path d="M318.6 1357.1h48.1v3.1h-48.1zM318.6 1764.6h48.1v2.3h-48.1zM318.6 1780.7h48.1v2.2h-48.1zM318.6 1878.6h48.1v2.1h-48.1zM318.6 2245.9h48.1v2.3h-48.1zM318.6 2257.5h48.1v2.3h-48.1zM318.6 2274.2h48.1v2.3h-48.1z" fill="#ff4b00"/>
<path d="M318.6 1359.9h48.1v3.1h-48.1zM318.6 1518.2h48.1v2.4h-48.1z" fill="#a0fd04"/>
<path d="M318.6 1362.7h48.1v2.4h-48.1zM318.6 1903h48.1v2.3h-48.1zM318.6 2328.3h48.1v2.4h-48.1z" fill="#ff8e00"/>
<path d="M318.6 1364.9h48.1v2.4h-48.1zM318.6 1633.8h48.1v2.1h-48.1zM318.6 1717.1h48.1v2.3h-48.1zM318.6 1746.3h48.1v4h-48.1zM318.6 1960.2h48.1v2.1h-48.1zM318.6 2015.5h48.1v2.1h-48.1z" fill="#ff7d00"/>
<path d="M318.6 1367.1h48.1v2.4h-48.1zM318.6 1389h48.1v2.4h-48.1z" fill="#ff7100"/>
<path d="M318.6 1369.3h48.1v2.1h-48.1z" fill="#d5f700"/>
<path d="M318.6 1371.2h48.1v2.1h-48.1zM318.6 1971.9h48.1v2.6h-48.1zM318.6 2134.6h48.1v2.1h-48.1z" fill="#c0ff00"/>
<path d="M318.6 1373h48.1v2.1h-48.1zM318.6 1668.5h48.1v2.1h-48.1z" fill="#e7ef00"/>
<path d="M318.6 1374.9h48.1v2.1h-48.1zM318.6 1661h48.1v2.1h-48.1zM318.6 1722.9h48.1v2.1h-48.1zM318.6 2008h48.1v2.1h-48.1z" fill="#ffb300"/>
<path d="M318.6 1376.8h48.1v2.1h-48.1z" fill="#ffa900"/>
<path d="M318.6 1380.5h48.1v2.1h-48.1zM318.6 1490.3h48.1v2.1h-48.1zM318.6 2270h48.1v2.3h-48.1zM318.6 2300.3h48.1v2.3h-48.1z" fill="#ff5800"/>
<path d="M318.6 1382.4h48.1v2.4h-48.1zM318.6 1941.7h48.1v2.4h-48.1zM318.6 1983.6h48.1v2.1h-48.1z" fill="#ffc700"/>
<path d="M318.6 1384.6h48.1v2.4h-48.1z" fill="#ffc400"/>
<path d="M318.6 1386.8h48.1v2.4h-48.1zM318.6 1444.5h48.1v2.3h-48.1zM318.6 1857h48.1v2.1h-48.1zM318.6 2182.5h48.1v2.3h-48.1z" fill="#ffb200"/>
<path d="M318.6 1391.1h48.1v2.4h-48.1zM318.6 1922.7h48.1v2.1h-48.1zM318.6 2324.1h48.1v2.4h-48.1z" fill="#ff6600"/>
<path d="M318.6 1393.2h48.1v2.4h-48.1zM318.6 1645h48.1v2.1h-48.1zM318.6 1876.7h48.1v2.1h-48.1zM318.6 2243.9h48.1v2.3h-48.1zM318.6 2253.4h48.1v2.3h-48.1zM318.6 2307.8h48.1v2.2h-48.1z" fill="#ff4e00"/>
<path d="M318.6 1395.3h48.1v2.4h-48.1z" fill="#ff5400"/>
<path d="M318.6 1398.9h48.1v2.9h-48.1z" fill="#14dffe"/>
<path d="M318.6 1401.5h48.1v2.3h-48.1zM318.6 1405.7h48.1v2.3h-48.1zM318.6 2026.8h48.1v2.1h-48.1z" fill="#ffbd00"/>
<path d="M318.6 1403.6h48.1v2.3h-48.1zM318.6 1617.8h48.1v2.1h-48.1zM318.6 2081.2h48.1v2.1h-48.1z" fill="#ffb100"/>
<path d="M318.6 1407.7h48.1v1.8h-48.1zM318.6 2200.3h48.1v2.1h-48.1z" fill="#65f90b"/>
<path d="M318.6 1409.3h48.1v1.8h-48.1z" fill="#a6fd04"/>
<path d="M318.6 1412.7h48.1v2h-48.1zM318.6 1466.8h48.1v2.1h-48.1zM318.6 1539h48.1v2.3h-48.1z" fill="#ffe200"/>
<path d="M318.6 1414.5h48.1v2h-48.1zM318.6 1950.8h48.1v2.1h-48.1z" fill="#ffde00"/>
<path d="M318.6 1416.3h48.1v2h-48.1z" fill="#ffe300"/>
<path d="M318.6 1418.1h48.1v2.1h-48.1zM318.6 1674.1h48.1v2.1h-48.1zM318.6 1809.2h48.1v2.1h-48.1z" fill="#fae600"/>
<path d="M318.6 1419.9h48.1v2.1h-48.1zM318.6 1732.3h48.1v2.6h-48.1z" fill="#f0eb00"/>
<path d="M318.6 1421.8h48.1v2.1h-48.1zM318.6 2109.8h48.1v2.4h-48.1z" fill="#fce600"/>
<path d="M318.6 1423.7h48.1v2.1h-48.1zM318.6 1954.6h48.1v2.1h-48.1z" fill="#ffdd00"/>
<path d="M318.6 1425.6h48.1v2.1h-48.1zM318.6 1573.8h48.1v2.1h-48.1zM318.6 1650.7h48.1v2.1h-48.1zM318.6 1816.7h48.1v2.1h-48.1zM318.6 2374.6h48.1v2.5h-48.1z" fill="#fde500"/>
<path d="M318.6 1427.4h48.1v2.1h-48.1z" fill="#98fc05"/>
<path d="M318.6 1429.3h48.1v2.1h-48.1z" fill="#92fc06"/>
<path d="M318.6 1431.2h48.1v3.1h-48.1zM318.6 1631.9h48.1v2.1h-48.1z" fill="#ff8b00"/>
<path d="M318.6 1434h48.1v3.1h-48.1zM318.6 1495.9h48.1v2.1h-48.1z" fill="#ffa500"/>
<path d="M318.6 1436.8h48.1v3.1h-48.1zM318.6 1839.7h48.1v2.6h-48.1zM318.6 1864.5h48.1v2.4h-48.1zM318.6 2094.3h48.1v2.1h-48.1z" fill="#ff9c00"/>
<path d="M318.6 1439.6h48.1v3.1h-48.1zM318.6 2128.1h48.1v2.4h-48.1zM318.6 2194.7h48.1v2.1h-48.1z" fill="#ff3c00"/>
<path d="M318.6 1442.4h48.1v2.3h-48.1zM318.6 1605.9h48.1v1.8h-48.1z" fill="#ffc500"/>
<path d="M318.6 1446.6h48.1v2.3h-48.1zM318.6 1894.1h48.1v2.4h-48.1zM318.6 2079.3h48.1v2.1h-48.1z" fill="#ffa800"/>
<path d="M318.6 1448.6h48.1v2.3h-48.1z" fill="#ffbe00"/>
<path d="M318.6 1450.7h48.1v2.3h-48.1z" fill="#ffbb00"/>
<path d="M318.6 1452.8h48.1v3.1h-48.1z" fill="#5df90c"/>
<path d="M318.6 1457.4h48.1v2.1h-48.1zM318.6 2361.6h48.1v2.1h-48.1zM318.6 2372.3h48.1v2.5h-48.1z" fill="#ffe000"/>
<path d="M318.6 1459.3h48.1v2.1h-48.1zM318.6 1562.5h48.1v2.1h-48.1z" fill="#fce500"/>
<path d="M318.6 1461.2h48.1v2.1h-48.1z" fill="#ffd900"/>
<path d="M318.6 1463.1h48.1v2.1h-48.1zM318.6 1547.3h48.1v2.3h-48.1zM318.6 1842h48.1v2.4h-48.1z" fill="#ffd800"/>
<path d="M318.6 1468.7h48.1v2.3h-48.1zM318.6 1474.9h48.1v2.3h-48.1zM318.6 2132.4h48.1v2.4h-48.1zM318.6 2192.8h48.1v2.1h-48.1z" fill="#ff3e00"/>
<path d="M318.6 1470.8h48.1v2.3h-48.1zM318.6 1492.2h48.1v2.1h-48.1zM318.6 1652.5h48.1v3.1h-48.1z" fill="#ff4300"/>
<path d="M318.6 1472.8h48.1v2.3h-48.1zM318.6 1533.4h48.1v2.1h-48.1zM318.6 2036.5h48.1v2.4h-48.1z" fill="#ff3b00"/>
<path d="M318.6 1477h48.1v2.3h-48.1z" fill="#ff3500"/>
<path d="M318.6 1479h48.1v3.1h-48.1z" fill="#01fa94"/>
<path d="M318.6 1481.8h48.1v3.1h-48.1zM318.6 2077.4h48.1v2.1h-48.1z" fill="#ff3900"/>
<path d="M318.6 1484.6h48.1v2.1h-48.1zM318.6 1937.5h48.1v2.3h-48.1z" fill="#eeec00"/>
<path d="M318.6 1486.5h48.1v2.1h-48.1zM318.6 1604.3h48.1v1.8h-48.1zM318.6 1703.7h48.1v2.6h-48.1zM318.6 1929.2h48.1v2.3h-48.1z" fill="#ffcf00"/>
<path d="M318.6 1488.4h48.1v2.1h-48.1zM318.6 1635.7h48.1v2.1h-48.1zM318.6 2115.9h48.1v2.1h-48.1zM318.6 2294.2h48.1v2.3h-48.1z" fill="#ff5100"/>
<path d="M318.6 1494h48.1v2.1h-48.1zM318.6 2028.6h48.1v2.1h-48.1z" fill="#ffa100"/>
<path d="M318.6 1497.8h48.1v2.1h-48.1z" fill="#ffc000"/>
<path d="M318.6 1499.7h48.1v2.1h-48.1z" fill="#ffab00"/>
<path d="M318.6 1501.5h48.1v2.1h-48.1zM318.6 1855.1h48.1v2.1h-48.1zM318.6 1987.4h48.1v2.1h-48.1zM318.6 2186.6h48.1v2.3h-48.1z" fill="#ffb600"/>
<path d="M318.6 1503.4h48.1v4h-48.1zM318.6 1616h48.1v2.1h-48.1z" fill="#ffb500"/>
<path d="M318.6 1507.2h48.1v2.1h-48.1zM318.6 2278.1h48.1v2.1h-48.1z" fill="#ffc200"/>
<path d="M318.6 1509h48.1v3.1h-48.1zM318.6 1911.2h48.1v2.3h-48.1zM318.6 2096.2h48.1v2.1h-48.1zM318.6 2220.3h48.1v2.3h-48.1z" fill="#ff7600"/>
<path d="M318.6 1511.8h48.1v2.4h-48.1z" fill="#99fc05"/>
<path d="M318.6 1514h48.1v2.4h-48.1z" fill="#85fb08"/>
<path d="M318.6 1516.1h48.1v2.4h-48.1z" fill="#84fb08"/>
<path d="M318.6 1520.3h48.1v3.1h-48.1zM318.6 2123.4h48.1v2.1h-48.1z" fill="#ff4a00"/>
<path d="M318.6 1523.1h48.1v2.1h-48.1zM318.6 2088.7h48.1v2.1h-48.1z" fill="#ffa400"/>
<path d="M318.6 1525h48.1v2.1h-48.1zM318.6 1587.8h48.1v2.1h-48.1zM318.6 1824.2h48.1v2.1h-48.1zM318.6 2009.9h48.1v2.1h-48.1zM318.6 2190.7h48.1v2.3h-48.1z" fill="#ffca00"/>
<path d="M318.6 1526.9h48.1v3.1h-48.1zM318.6 1742.6h48.1v2.1h-48.1z" fill="#c4ff00"/>
<path d="M318.6 1529.7h48.1v2.1h-48.1zM318.6 1655.4h48.1v2.1h-48.1z" fill="#ffb000"/>
<path d="M318.6 1531.5h48.1v2.1h-48.1zM318.6 2024.9h48.1v2.1h-48.1z" fill="#ffbc00"/>
<path d="M318.6 1535.3h48.1v2.1h-48.1z" fill="#ff4600"/>
<path d="M318.6 1537.2h48.1v2.1h-48.1zM318.6 1887h48.1v3.1h-48.1zM318.6 2034.3h48.1v2.4h-48.1zM318.6 2075.5h48.1v2.1h-48.1z" fill="#ff3600"/>
<path d="M318.6 1541.1h48.1v2.3h-48.1z" fill="#efeb00"/>
<path d="M318.6 1543.2h48.1v2.3h-48.1zM318.6 1740.7h48.1v2.1h-48.1z" fill="#daf500"/>
<path d="M318.6 1549.4h48.1v1.8h-48.1z" fill="#9e3dfa"/>
<path d="M318.6 1551h48.1v1.8h-48.1zM318.6 2306.1h48.1v1.9h-48.1z" fill="#983cfa"/>
<path d="M318.6 1552.6h48.1v2.3h-48.1zM318.6 1866.7h48.1v2.4h-48.1zM318.6 1907.1h48.1v2.3h-48.1zM318.6 1976.1h48.1v2.1h-48.1zM318.6 1995.1h48.1v2.4h-48.1z" fill="#ff7e00"/>
<path d="M318.6 1554.6h48.1v2.3h-48.1zM318.6 1962.1h48.1v2.1h-48.1zM318.6 2044.9h48.1v2.3h-48.1zM318.6 2092.4h48.1v2.1h-48.1z" fill="#ff7a00"/>
<path d="M318.6 1556.7h48.1v2.3h-48.1z" fill="#ff7400"/>
<path d="M318.6 1558.7h48.1v2.1h-48.1z" fill="#adfe03"/>
<path d="M318.6 1560.6h48.1v2.1h-48.1z" fill="#d4f800"/>
<path d="M318.6 1564.4h48.1v2.1h-48.1z" fill="#e8ef00"/>
<path d="M318.6 1566.2h48.1v4h-48.1z" fill="#1bf623"/>
<path d="M318.6 1570h48.1v2.1h-48.1zM318.6 1691h48.1v3.1h-48.1zM318.6 1768.7h48.1v2.3h-48.1zM318.6 2019.3h48.1v2.1h-48.1zM318.6 2040.8h48.1v2.3h-48.1zM318.6 2350.4h48.1v2.7h-48.1z" fill="#ff6f00"/>
<path d="M318.6 1571.9h48.1v2.1h-48.1zM318.6 1939.5h48.1v2.4h-48.1z" fill="#e6ef00"/>
<path d="M318.6 1578.4h48.1v2.1h-48.1zM318.6 2359.7h48.1v2.1h-48.1z" fill="#f3e900"/>
<path d="M318.6 1580.3h48.1v2.1h-48.1z" fill="#f7e700"/>
<path d="M318.6 1582.2h48.1v2.1h-48.1z" fill="#dff300"/>
<path d="M318.6 1584.1h48.1v2.1h-48.1z" fill="#e5f000"/>
<path d="M318.6 1585.9h48.1v2.1h-48.1zM318.6 1706h48.1v3.1h-48.1z" fill="#edec00"/>
<path d="M318.6 1589.7h48.1v2.1h-48.1z" fill="#f2ea00"/>
<path d="M318.6 1591.6h48.1v1.8h-48.1z" fill="#14f741"/>
<path d="M318.6 1593.2h48.1v1.8h-48.1z" fill="#31f612"/>
<path d="M318.6 1594.8h48.1v2.3h-48.1zM318.6 1697.6h48.1v2.1h-48.1z" fill="#ff6a00"/>
<path d="M318.6 1596.8h48.1v2.3h-48.1z" fill="#ff6200"/>
<path d="M318.6 1601h48.1v1.9h-48.1z" fill="#36f611"/>
<path d="M318.6 1602.6h48.1v1.9h-48.1z" fill="#16f637"/>
<path d="M318.6 1607.5h48.1v3.1h-48.1z" fill="#ddf300"/>
<path d="M318.6 1610.3h48.1v2.1h-48.1zM318.6 2006.1h48.1v2.1h-48.1zM318.6 2086.8h48.1v2.1h-48.1z" fill="#ffa200"/>
<path d="M318.6 1612.2h48.1v2.1h-48.1zM318.6 1728.5h48.1v2.1h-48.1z" fill="#ffaa00"/>
<path d="M318.6 1614.1h48.1v2.1h-48.1z" fill="#ffcc00"/>
<path d="M318.6 1619.7h48.1v3.1h-48.1z" fill="#ff3800"/>
<path d="M318.6 1626.3h48.1v2.1h-48.1zM318.6 1967.7h48.1v2.1h-48.1z" fill="#ff8400"/>
<path d="M318.6 1628.2h48.1v2.1h-48.1zM318.6 2224.5h48.1v2.3h-48.1z" fill="#ff9800"/>
<path d="M318.6 1630h48.1v2.1h-48.1zM318.6 2098.1h48.1v2.1h-48.1zM318.6 2330.4h48.1v2.4h-48.1z" fill="#ff7800"/>
<path d="M318.6 1637.5h48.1v2.1h-48.1zM318.6 2175h48.1v2.1h-48.1z" fill="#ff6000"/>
<path d="M318.6 1639.4h48.1v2.1h-48.1zM318.6 1760.6h48.1v2.3h-48.1zM318.6 1829.8h48.1v2.1h-48.1zM318.6 2142.1h48.1v2.1h-48.1zM318.6 2149.3h48.1v2.2h-48.1z" fill="#ff5700"/>
<path d="M318.6 1641.3h48.1v4h-48.1zM318.6 1695.7h48.1v2.1h-48.1zM318.6 2263.8h48.1v2.3h-48.1zM318.6 2292.2h48.1v2.3h-48.1z" fill="#ff5600"/>
<path d="M318.6 1648.8h48.1v2.1h-48.1zM318.6 1672.2h48.1v2.1h-48.1zM318.6 1734.6h48.1v2.6h-48.1z" fill="#ffcb00"/>
<path d="M318.6 1657.2h48.1v2.1h-48.1z" fill="#ff9f00"/>
<path d="M318.6 1659.1h48.1v2.1h-48.1z" fill="#ffa600"/>
<path d="M318.6 1662.9h48.1v2.1h-48.1zM318.6 1884.8h48.1v2.4h-48.1z" fill="#ffcd00"/>
<path d="M318.6 1664.7h48.1v2.1h-48.1z" fill="#02f8a1"/>
<path d="M318.6 1666.6h48.1v2.1h-48.1zM318.6 2336.3h48.1v2.1h-48.1z" fill="#01f99d"/>
<path d="M318.6 1670.4h48.1v2.1h-48.1zM318.6 1933.4h48.1v2.3h-48.1z" fill="#ffd100"/>
<path d="M318.6 1676h48.1v2.1h-48.1z" fill="#f8e700"/>
<path d="M318.6 1677.9h48.1v2.4h-48.1zM318.6 1837.3h48.1v2.6h-48.1zM318.6 1981.9h48.1v1.9h-48.1zM318.6 1997.2h48.1v2.4h-48.1z" fill="#ff8300"/>
<path d="M318.6 1680h48.1v2.4h-48.1zM318.6 2048.9h48.1v2.3h-48.1zM318.6 2218.2h48.1v2.3h-48.1z" fill="#ff8600"/>
<path d="M318.6 1686.3h48.1v2.6h-48.1z" fill="#dff200"/>
<path d="M318.6 1688.6h48.1v2.6h-48.1z" fill="#c2ff00"/>
<path d="M318.6 1699.4h48.1v2.1h-48.1z" fill="#ff6300"/>
<path d="M318.6 1701.3h48.1v2.6h-48.1zM318.6 1882.6h48.1v2.4h-48.1zM318.6 2363.5h48.1v2.1h-48.1z" fill="#ffd700"/>
<path d="M318.6 1708.8h48.1v2.3h-48.1z" fill="#ff7500"/>
<path d="M318.6 1710.9h48.1v2.3h-48.1z" fill="#ff8a00"/>
<path d="M318.6 1719.1h48.1v2.1h-48.1zM318.6 1915.2h48.1v2.1h-48.1z" fill="#beff01"/>
<path d="M318.6 1721h48.1v2.1h-48.1z" fill="#75fa09"/>
<path d="M318.6 1724.8h48.1v2.1h-48.1z" fill="#ffb900"/>
<path d="M318.6 1726.6h48.1v2.1h-48.1z" fill="#ffa300"/>
<path d="M318.6 1730.4h48.1v2.1h-48.1zM318.6 2276.3h48.1v2.1h-48.1z" fill="#ffaf00"/>
<path d="M318.6 1737h48.1v2.1h-48.1zM318.6 2173.1h48.1v2.1h-48.1zM318.6 2313.6h48.1v2.2h-48.1z" fill="#ff4d00"/>
<path d="M318.6 1738.8h48.1v2.1h-48.1z" fill="#cafc00"/>
<path d="M318.6 1744.5h48.1v2.1h-48.1z" fill="#c8fd00"/>
<path d="M318.6 1750.1h48.1v2.1h-48.1z" fill="#ff9700"/>
<path d="M318.6 1752h48.1v1.8h-48.1z" fill="#1484f4"/>
<path d="M318.6 1753.6h48.1v1.8h-48.1z" fill="#1486f4"/>
<path d="M318.6 1755.1h48.1v1.9h-48.1zM318.6 2346.6h48.1v2.1h-48.1z" fill="#03fa89"/>
<path d="M318.6 1756.8h48.1v1.9h-48.1z" fill="#02fa8c"/>
<path d="M318.6 1758.5h48.1v2.3h-48.1z" fill="#ff4900"/>
<path d="M318.6 1762.6h48.1v2.3h-48.1zM318.6 2265.9h48.1v2.3h-48.1zM318.6 2272.1h48.1v2.3h-48.1zM318.6 2280h48.1v3.1h-48.1z" fill="#ff4f00"/>
<path d="M318.6 1766.7h48.1v2.3h-48.1zM318.6 1788.5h48.1v2.2h-48.1zM318.6 1958.3h48.1v2.1h-48.1z" fill="#ff6e00"/>
<path d="M318.6 1770.7h48.1v2.4h-48.1z" fill="#9ffd04"/>
<path d="M318.6 1772.9h48.1v2.4h-48.1z" fill="#b0fe02"/>
<path d="M318.6 1775.1h48.1v2.4h-48.1z" fill="#6ffa0a"/>
<path d="M318.6 1777.3h48.1v1.9h-48.1z" fill="#02fa8e"/>
<path d="M318.6 1779h48.1v1.9h-48.1z" fill="#02f8a2"/>
<path d="M318.6 1782.6h48.1v2.2h-48.1zM318.6 1858.9h48.1v2.1h-48.1z" fill="#ff6d00"/>
<path d="M318.6 1784.6h48.1v2.2h-48.1zM318.6 2160.9h48.1v2.1h-48.1zM318.6 2259.6h48.1v2.3h-48.1zM318.6 2302.4h48.1v2.3h-48.1z" fill="#ff6100"/>
<path d="M318.6 1786.5h48.1v2.2h-48.1z" fill="#ff6c00"/>
<path d="M318.6 1790.4h48.1v1.9h-48.1z" fill="#13e7f7"/>
<path d="M318.6 1792.1h48.1v1.9h-48.1z" fill="#13e7f9"/>
<path d="M318.6 1793.8h48.1v2.2h-48.1z" fill="#c9fc00"/>
<path d="M318.6 1795.7h48.1v2.2h-48.1zM318.6 1831.7h48.1v2.1h-48.1z" fill="#d2f800"/>
<path d="M318.6 1797.7h48.1v2.2h-48.1z" fill="#a6fd03"/>
<path d="M318.6 1799.6h48.1v2.2h-48.1z" fill="#83fb08"/>
<path d="M318.6 1801.6h48.1v2.2h-48.1z" fill="#ccfb00"/>
<path d="M318.6 1803.5h48.1v2.1h-48.1z" fill="#d3f800"/>
<path d="M318.6 1805.4h48.1v2.1h-48.1z" fill="#c1ff00"/>
<path d="M318.6 1807.3h48.1v2.1h-48.1z" fill="#ffd500"/>
<path d="M318.6 1811h48.1v2.1h-48.1z" fill="#f9e700"/>
<path d="M318.6 1812.9h48.1v2.1h-48.1zM318.6 2060.5h48.1v2.1h-48.1zM318.6 2159h48.1v2.1h-48.1z" fill="#ffd300"/>
<path d="M318.6 1814.8h48.1v2.1h-48.1z" fill="#f5e900"/>
<path d="M318.6 1818.6h48.1v2.1h-48.1zM318.6 1880.5h48.1v2.4h-48.1z" fill="#f1ea00"/>
<path d="M318.6 1820.4h48.1v2.1h-48.1z" fill="#ffdb00"/>
<path d="M318.6 1822.3h48.1v2.1h-48.1zM318.6 1943.8h48.1v2.4h-48.1zM318.6 1989.3h48.1v2.1h-48.1zM318.6 2170.3h48.1v3.1h-48.1z" fill="#e4f000"/>
<path d="M318.6 1826.1h48.1v2.1h-48.1zM318.6 1918.9h48.1v2.1h-48.1zM318.6 2153.2h48.1v2.2h-48.1zM318.6 2241.9h48.1v2.3h-48.1z" fill="#ff5500"/>
<path d="M318.6 1827.9h48.1v2.1h-48.1z" fill="#ff6400"/>
<path d="M318.6 1833.6h48.1v2.1h-48.1z" fill="#b4fe02"/>
<path d="M318.6 1835.4h48.1v2.1h-48.1z" fill="#daf400"/>
<path d="M318.6 1844.2h48.1v2.4h-48.1zM318.6 1896.2h48.1v2.4h-48.1z" fill="#ffc900"/>
<path d="M318.6 1846.4h48.1v2.4h-48.1z" fill="#ffd200"/>
<path d="M318.6 1848.6h48.1v1.8h-48.1z" fill="#01fa92"/>
<path d="M318.6 1850.2h48.1v1.8h-48.1z" fill="#00fa96"/>
<path d="M318.6 1851.8h48.1v3.6h-48.1zM318.6 1948h48.1v3.1h-48.1z" fill="#ff3a00"/>
<path d="M318.6 1860.8h48.1v2.1h-48.1z" fill="#85fb07"/>
<path d="M318.6 1862.6h48.1v2.1h-48.1zM318.6 2202.2h48.1v2.1h-48.1z" fill="#d1f900"/>
<path d="M318.6 1868.9h48.1v2.4h-48.1zM318.6 1965.8h48.1v2.1h-48.1zM318.6 2326.2h48.1v2.4h-48.1z" fill="#ff9d00"/>
<path d="M318.6 1871.1h48.1v2.1h-48.1zM318.6 2237.8h48.1v2.3h-48.1z" fill="#ff5200"/>
<path d="M318.6 1873h48.1v2.1h-48.1zM318.6 2309.7h48.1v2.2h-48.1z" fill="#ff5c00"/>
<path d="M318.6 1874.8h48.1v2.1h-48.1z" fill="#ff5e00"/>
<path d="M318.6 1889.8h48.1v2.4h-48.1zM318.6 2357.9h48.1v2.1h-48.1z" fill="#ffce00"/>
<path d="M318.6 1891.9h48.1v2.4h-48.1zM318.6 2084.9h48.1v2.1h-48.1zM318.6 2332.5h48.1v2.1h-48.1z" fill="#ffb700"/>
<path d="M318.6 1898.3h48.1v2.6h-48.1z" fill="#14ddfe"/>
<path d="M318.6 1900.6h48.1v2.6h-48.1z" fill="#14dcfe"/>
<path d="M318.6 1905h48.1v2.3h-48.1zM318.6 1993h48.1v2.4h-48.1z" fill="#ff9600"/>
<path d="M318.6 1909.2h48.1v2.3h-48.1z" fill="#ff9900"/>
<path d="M318.6 1913.3h48.1v2.1h-48.1z" fill="#cffa00"/>
<path d="M318.6 1917h48.1v2.1h-48.1zM318.6 2176.8h48.1v2.1h-48.1z" fill="#ff6900"/>
<path d="M318.6 1920.8h48.1v2.1h-48.1z" fill="#ff6700"/>
<path d="M318.6 1924.5h48.1v2.6h-48.1z" fill="#02fa8f"/>
<path d="M318.6 1926.9h48.1v2.6h-48.1z" fill="#02f8a0"/>
<path d="M318.6 1931.3h48.1v2.3h-48.1z" fill="#ffe400"/>
<path d="M318.6 1935.4h48.1v2.3h-48.1zM318.6 2282.8h48.1v2.1h-48.1z" fill="#f5e800"/>
<path d="M318.6 1945.9h48.1v2.4h-48.1zM318.6 2136.5h48.1v2.1h-48.1z" fill="#d9f500"/>
<path d="M318.6 1952.7h48.1v2.1h-48.1z" fill="#ffdc00"/>
<path d="M318.6 1963.9h48.1v2.1h-48.1zM318.6 2090.6h48.1v2.1h-48.1zM318.6 2099.9h48.1v2.1h-48.1z" fill="#ff7700"/>
<path d="M318.6 1974.2h48.1v2.1h-48.1zM318.6 2046.9h48.1v2.3h-48.1z" fill="#ff8800"/>
<path d="M318.6 1978h48.1v2.5h-48.1z" fill="#cdfa00"/>
<path d="M318.6 1980.3h48.1v1.9h-48.1zM318.6 2209.9h48.1v2.3h-48.1z" fill="#ff9400"/>
<path d="M318.6 1985.5h48.1v2.1h-48.1z" fill="#ffb400"/>
<path d="M318.6 1991.1h48.1v2.1h-48.1z" fill="#c6fe00"/>
<path d="M318.6 1999.3h48.1v2.4h-48.1zM318.6 2052.9h48.1v2.3h-48.1z" fill="#ff8500"/>
<path d="M318.6 2001.4h48.1v2.6h-48.1z" fill="#11f74a"/>
<path d="M318.6 2003.8h48.1v2.6h-48.1z" fill="#34f611"/>
<path d="M318.6 2011.8h48.1v4h-48.1zM318.6 2056.8h48.1v4h-48.1zM318.6 2101.8h48.1v4h-48.1zM318.6 2144h48.1v3.6h-48.1zM318.6 2352.8h48.1v3.4h-48.1z" fill="#ffffff"/>
<path d="M318.6 2023h48.1v2.1h-48.1z" fill="#ffae00"/>
<path d="M318.6 2030.5h48.1v2.1h-48.1z" fill="#ffba00"/>
<path d="M318.6 2032.4h48.1v2.1h-48.1zM318.6 2083h48.1v2.1h-48.1z" fill="#ffc100"/>
<path d="M318.6 2038.7h48.1v2.4h-48.1z" fill="#ff3d00"/>
<path d="M318.6 2042.9h48.1v2.3h-48.1z" fill="#ffa000"/>
<path d="M318.6 2062.4h48.1v2.1h-48.1z" fill="#f9e600"/>
<path d="M318.6 2064.3h48.1v2.1h-48.1zM318.6 2157.1h48.1v2.1h-48.1z" fill="#f6e800"/>
<path d="M318.6 2066.2h48.1v2.1h-48.1z" fill="#ebed00"/>
<path d="M318.6 2068h48.1v2.1h-48.1zM318.6 2105.6h48.1v2.4h-48.1zM318.6 2376.9h48.1v2.5h-48.1z" fill="#ffdf00"/>
<path d="M318.6 2069.9h48.1v2.1h-48.1zM318.6 2155.2h48.1v2.2h-48.1z" fill="#ff4000"/>
<path d="M318.6 2071.8h48.1v2.1h-48.1z" fill="#ff4100"/>
<path d="M318.6 2073.7h48.1v2.1h-48.1z" fill="#ff4800"/>
<path d="M318.6 2107.7h48.1v2.4h-48.1z" fill="#e1f100"/>
<path d="M318.6 2111.9h48.1v2.4h-48.1z" fill="#ffc800"/>
<path d="M318.6 2114h48.1v2.1h-48.1z" fill="#ff5000"/>
<path d="M318.6 2125.3h48.1v3.1h-48.1zM318.6 2214h48.1v2.3h-48.1z" fill="#ff7900"/>
<path d="M318.6 2130.3h48.1v2.4h-48.1zM318.6 2166.5h48.1v2.1h-48.1zM318.6 2255.5h48.1v2.3h-48.1zM318.6 2298.3h48.1v2.3h-48.1z" fill="#ff4400"/>
<path d="M318.6 2138.4h48.1v2.1h-48.1z" fill="#cdfb00"/>
<path d="M318.6 2140.3h48.1v2.1h-48.1z" fill="#8dfc07"/>
<path d="M318.6 2147.4h48.1v2.2h-48.1zM318.6 2261.7h48.1v2.3h-48.1z" fill="#ff6500"/>
<path d="M318.6 2151.3h48.1v2.2h-48.1z" fill="#ff5900"/>
<path d="M318.6 2162.8h48.1v4h-48.1zM318.6 2196.5h48.1v2.1h-48.1z" fill="#ff4700"/>
<path d="M318.6 2178.7h48.1v2.1h-48.1z" fill="#aafd03"/>
<path d="M318.6 2180.6h48.1v2.1h-48.1z" fill="#c5fe00"/>
<path d="M318.6 2188.7h48.1v2.3h-48.1z" fill="#ffac00"/>
<path d="M318.6 2198.4h48.1v2.1h-48.1z" fill="#1df51a"/>
<path d="M318.6 2204h48.1v2.1h-48.1z" fill="#a5fd04"/>
<path d="M318.6 2205.9h48.1v2.1h-48.1z" fill="#b8fe01"/>
<path d="M318.6 2207.8h48.1v2.3h-48.1zM318.6 2286.6h48.1v2.1h-48.1z" fill="#ff8200"/>
<path d="M318.6 2212h48.1v2.3h-48.1z" fill="#ff9100"/>
<path d="M318.6 2216.1h48.1v2.3h-48.1z" fill="#ff9000"/>
<path d="M318.6 2226.6h48.1v2.6h-48.1z" fill="#88fb07"/>
<path d="M318.6 2228.9h48.1v2.6h-48.1z" fill="#c6fd00"/>
<path d="M318.6 2234.1h48.1v2.1h-48.1z" fill="#bbff01"/>
<path d="M318.6 2235.9h48.1v2.1h-48.1z" fill="#91fc06"/>
<path d="M318.6 2239.8h48.1v2.3h-48.1zM318.6 2296.3h48.1v2.3h-48.1z" fill="#ff4c00"/>
<path d="M318.6 2250h48.1v1.9h-48.1z" fill="#ef45fa"/>
<path d="M318.6 2251.7h48.1v1.9h-48.1z" fill="#f646fa"/>
<path d="M318.6 2267.9h48.1v2.3h-48.1z" fill="#ff4200"/>
<path d="M318.6 2284.7h48.1v2.1h-48.1z" fill="#e0f200"/>
<path d="M318.6 2288.5h48.1v2.1h-48.1z" fill="#148bf5"/>
<path d="M318.6 2290.3h48.1v2.1h-48.1z" fill="#1494f6"/>
<path d="M318.6 2304.4h48.1v1.9h-48.1z" fill="#8e3cf9"/>
<path d="M318.6 2317.5h48.1v3.1h-48.1z" fill="#01fa91"/>
<path d="M318.6 2320.3h48.1v2.1h-48.1z" fill="#1e37ec"/>
<path d="M318.6 2322.2h48.1v2.1h-48.1z" fill="#1938eb"/>
<path d="M318.6 2334.4h48.1v2.1h-48.1z" fill="#ffa700"/>
<path d="M318.6 2338.2h48.1v2.1h-48.1z" fill="#01f99c"/>
<path d="M318.6 2340h48.1v2.1h-48.1z" fill="#01f999"/>
<path d="M318.6 2341.9h48.1v2.1h-48.1z" fill="#03f989"/>
<path d="M318.6 2343.8h48.1v3.1h-48.1z" fill="#ff8f00"/>
<path d="M318.6 2348.5h48.1v2.1h-48.1z" fill="#00fa97"/>
<path d="M318.6 2356h48.1v2.1h-48.1z" fill="#fbe600"/>
<path d="M318.6 2365.4h48.1v2.1h-48.1z" fill="#aefe03"/>
<path d="M318.6 2369.1h48.1v1.8h-48.1z" fill="#12e8f4"/>
<path d="M318.6 2370.7h48.1v1.8h-48.1z" fill="#13e7f8"/>
<path d="M117.2 1298.2V2379.2M167.5 1298.2V2379.2M217.3 1298.2V2379.2M267.9 1298.2V2379.2M318.6 1298.2V2379.2" stroke="#ffffff" stroke-opacity="0.22" stroke-width="0.8"/>
<rect x="66.25" y="1295.75" width="302.5" height="1085.6" fill="none" stroke="#000" stroke-width="4.5"/>
<text transform="translate(99.2 1282.4) rotate(-90)" font-size="25" font-weight="bold" textLength="157" lengthAdjust="spacingAndGlyphs">Control_Rep1</text>
<text transform="translate(149.6 1282.4) rotate(-90)" font-size="25" font-weight="bold" textLength="157" lengthAdjust="spacingAndGlyphs">Control_Rep2</text>
<text transform="translate(200 1282.4) rotate(-90)" font-size="25" font-weight="bold" textLength="157" lengthAdjust="spacingAndGlyphs">Control_Rep3</text>
<text transform="translate(250.4 1282.4) rotate(-90)" font-size="25" font-weight="bold" textLength="225" lengthAdjust="spacingAndGlyphs">resR/mcdR(-)_Rep1</text>
<text transform="translate(300.8 1282.4) rotate(-90)" font-size="25" font-weight="bold" textLength="225" lengthAdjust="spacingAndGlyphs">resR/mcdR(-)_Rep2</text>
<text transform="translate(351.2 1282.4) rotate(-90)" font-size="25" font-weight="bold" textLength="225" lengthAdjust="spacingAndGlyphs">resR/mcdR(-)_Rep3</text>
<linearGradient id="cbd" x1="0" x2="1" y1="0" y2="0">
<stop offset="0" stop-color="#ff2a00"/>
<stop offset="0.09" stop-color="#ff8a00"/>
<stop offset="0.2" stop-color="#ffff00"/>
<stop offset="0.27" stop-color="#b4ff00"/>
<stop offset="0.38" stop-color="#00ee00"/>
<stop offset="0.5" stop-color="#00ff90"/>
<stop offset="0.6" stop-color="#00ffff"/>
<stop offset="0.7" stop-color="#0090ff"/>
<stop offset="0.8" stop-color="#0028ff"/>
<stop offset="0.9" stop-color="#8a40ff"/>
<stop offset="1" stop-color="#f048f8"/>
</linearGradient>
<rect x="66.7" y="2419.9" width="301.6" height="35.1" fill="url(#cbd)" stroke="#000" stroke-width="3"/>
<path d="M142 2420.9v4.5M142 2454v-4.5M217.3 2420.9v4.5M217.3 2454v-4.5M293 2420.9v4.5M293 2454v-4.5" stroke="#000" stroke-width="2" fill="none"/>
<text x="66.6" y="2492.5" font-size="24" text-anchor="middle">0</text>
<text x="141.7" y="2492.5" font-size="24" text-anchor="middle">1000</text>
<text x="216.8" y="2492.5" font-size="24" text-anchor="middle">2000</text>
<text x="292.8" y="2492.5" font-size="24" text-anchor="middle">3000</text>
<text x="368.3" y="2492.5" font-size="24" text-anchor="middle">4000</text>
<text x="57" y="2541" font-size="27" font-weight="bold" textLength="317" lengthAdjust="spacingAndGlyphs">(Normalized read counts)</text>
<text x="441.5" y="1064.5" font-size="53" fill="#000">e</text>
<path d="M508.1 1295.7h46.3v1.4h-46.3z" fill="#8f3cf9"/>
<path d="M508.1 1296.9h46.3v2.1h-46.3z" fill="#d9f500"/>
<path d="M508.1 1298.8h46.3v2.1h-46.3z" fill="#c4fe00"/>
<path d="M508.1 1300.6h46.3v2.1h-46.3z" fill="#a6fd03"/>
<path d="M508.1 1302.5h46.3v3.1h-46.3zM508.1 1362.5h46.3v3.1h-46.3zM508.1 1389.7h46.3v4h-46.3zM508.1 1495.7h46.3v4h-46.3zM508.1 1641.1h46.3v4.9h-46.3zM508.1 1681.4h46.3v4h-46.3zM508.1 1740.5h46.3v3.1h-46.3z" fill="#ffffff"/>
<path d="M508.1 1305.3h46.3v3.1h-46.3z" fill="#46f70f"/>
<path d="M508.1 1308.1h46.3v2.6h-46.3z" fill="#b0fe02"/>
<path d="M508.1 1310.5h46.3v2.6h-46.3zM508.1 1369.1h46.3v2.1h-46.3z" fill="#d4f700"/>
<path d="M508.1 1312.8h46.3v2.1h-46.3z" fill="#02f8a2"/>
<path d="M508.1 1314.7h46.3v2.1h-46.3z" fill="#01f99a"/>
<path d="M508.1 1316.6h46.3v2.1h-46.3z" fill="#03f989"/>
<path d="M508.1 1318.4h46.3v2.1h-46.3zM508.1 1966.6h46.3v2.6h-46.3z" fill="#ffd600"/>
<path d="M508.1 1320.3h46.3v2.1h-46.3zM508.1 1468.5h46.3v2.1h-46.3z" fill="#ffc700"/>
<path d="M508.1 1322.2h46.3v2.1h-46.3z" fill="#eaee00"/>
<path d="M508.1 1324.1h46.3v3.1h-46.3z" fill="#1496f6"/>
<path d="M508.1 1326.9h46.3v2.6h-46.3zM508.1 1518.5h46.3v2.4h-46.3zM508.1 1839h46.3v2.1h-46.3zM508.1 1912.1h46.3v2.2h-46.3zM508.1 2066.9h46.3v2.1h-46.3zM508.1 2331.4h46.3v2.1h-46.3zM508.1 2339.9h46.3v2.1h-46.3zM508.1 2343.6h46.3v2.1h-46.3z" fill="#ff8200"/>
<path d="M508.1 1329.2h46.3v2.6h-46.3zM508.1 2063.2h46.3v2.1h-46.3z" fill="#ff6e00"/>
<path d="M508.1 1331.6h46.3v4.6h-46.3z" fill="#28f613"/>
<path d="M508.1 1336h46.3v2.4h-46.3z" fill="#11f74e"/>
<path d="M508.1 1338.1h46.3v3.1h-46.3z" fill="#193cec"/>
<path d="M508.1 1341h46.3v2.1h-46.3zM508.1 1710h46.3v2.6h-46.3z" fill="#ff7800"/>
<path d="M508.1 1342.8h46.3v2.1h-46.3zM508.1 1387.4h46.3v2.6h-46.3zM508.1 1879.7h46.3v2.3h-46.3zM508.1 1892.5h46.3v2.6h-46.3z" fill="#ff9900"/>
<path d="M508.1 1344.7h46.3v3.1h-46.3z" fill="#2437ec"/>
<path d="M508.1 1347.5h46.3v3.1h-46.3zM508.1 1539.8h46.3v2.1h-46.3zM508.1 1968.9h46.3v2.6h-46.3zM508.1 2196.9h46.3v2.3h-46.3z" fill="#f8e700"/>
<path d="M508.1 1350.3h46.3v2.4h-46.3z" fill="#00fa97"/>
<path d="M508.1 1352.5h46.3v2.4h-46.3z" fill="#00fa98"/>
<path d="M508.1 1354.7h46.3v2.4h-46.3z" fill="#02fa8f"/>
<path d="M508.1 1356.9h46.3v2.1h-46.3zM508.1 1975h46.3v2.5h-46.3z" fill="#19f62b"/>
<path d="M508.1 1358.8h46.3v2.1h-46.3z" fill="#1df518"/>
<path d="M508.1 1360.7h46.3v2.1h-46.3z" fill="#1491f6"/>
<path d="M508.1 1365.3h46.3v2.1h-46.3z" fill="#193fec"/>
<path d="M508.1 1367.2h46.3v2.1h-46.3z" fill="#b9fe01"/>
<path d="M508.1 1371h46.3v3.1h-46.3z" fill="#193aeb"/>
<path d="M508.1 1373.8h46.3v2.6h-46.3zM508.1 1632h46.3v2.4h-46.3zM508.1 1973.1h46.3v2.1h-46.3z" fill="#ff7700"/>
<path d="M508.1 1376.1h46.3v2.6h-46.3zM508.1 1639.2h46.3v2.1h-46.3zM508.1 1728.8h46.3v2.6h-46.3zM508.1 1750.8h46.3v2.1h-46.3zM508.1 1900h46.3v2.1h-46.3zM508.1 2099.7h46.3v2.1h-46.3zM508.1 2215.7h46.3v2.3h-46.3zM508.1 2310.7h46.3v2.2h-46.3z" fill="#ff9400"/>
<path d="M508.1 1378.5h46.3v2.4h-46.3z" fill="#25f513"/>
<path d="M508.1 1380.7h46.3v2.4h-46.3z" fill="#19f628"/>
<path d="M508.1 1382.9h46.3v2.4h-46.3zM508.1 1672h46.3v3.1h-46.3z" fill="#1cf51b"/>
<path d="M508.1 1385h46.3v2.6h-46.3zM508.1 2329.5h46.3v2.1h-46.3z" fill="#ff8300"/>
<path d="M508.1 1393.5h46.3v2.4h-46.3zM508.1 2188.8h46.3v2.3h-46.3z" fill="#dff200"/>
<path d="M508.1 1395.7h46.3v2.4h-46.3z" fill="#ffce00"/>
<path d="M508.1 1397.9h46.3v2.4h-46.3zM508.1 2103.5h46.3v2.1h-46.3z" fill="#ffc300"/>
<path d="M508.1 1400h46.3v3.1h-46.3z" fill="#1484f4"/>
<path d="M508.1 1402.9h46.3v3.1h-46.3z" fill="#ff8700"/>
<path d="M508.1 1405.7h46.3v2.1h-46.3zM508.1 1704.9h46.3v3.1h-46.3z" fill="#33f611"/>
<path d="M508.1 1407.6h46.3v2.1h-46.3z" fill="#18f630"/>
<path d="M508.1 1409.4h46.3v2.1h-46.3zM508.1 1549.2h46.3v2.1h-46.3z" fill="#38f711"/>
<path d="M508.1 1411.3h46.3v2.1h-46.3z" fill="#34f611"/>
<path d="M508.1 1413.2h46.3v2.1h-46.3z" fill="#e1f200"/>
<path d="M508.1 1415.1h46.3v2.1h-46.3zM508.1 1757.1h46.3v2.4h-46.3z" fill="#ffe000"/>
<path d="M508.1 1416.9h46.3v2.1h-46.3zM508.1 2293.7h46.3v1.9h-46.3z" fill="#14dcfe"/>
<path d="M508.1 1418.8h46.3v2.1h-46.3z" fill="#14e6fc"/>
<path d="M508.1 1420.7h46.3v2.1h-46.3zM508.1 2357.7h46.3v2.1h-46.3z" fill="#ffe100"/>
<path d="M508.1 1422.6h46.3v2.1h-46.3zM508.1 1926.5h46.3v2.4h-46.3z" fill="#ffe300"/>
<path d="M508.1 1424.4h46.3v2.4h-46.3z" fill="#1df519"/>
<path d="M508.1 1426.6h46.3v2.4h-46.3z" fill="#1af627"/>
<path d="M508.1 1428.8h46.3v2.4h-46.3z" fill="#4ff80e"/>
<path d="M508.1 1431h46.3v2.1h-46.3zM508.1 1930.9h46.3v2.1h-46.3zM508.1 1996.6h46.3v2.6h-46.3zM508.1 2030.9h46.3v2.2h-46.3zM508.1 2217.8h46.3v2.3h-46.3zM508.1 2335.2h46.3v3.1h-46.3z" fill="#ff9100"/>
<path d="M508.1 1432.9h46.3v3.1h-46.3z" fill="#02fa8e"/>
<path d="M508.1 1435.7h46.3v2.6h-46.3zM508.1 2077.5h46.3v2.4h-46.3zM508.1 2142h46.3v2.1h-46.3zM508.1 2236.2h46.3v2.2h-46.3zM508.1 2305h46.3v2.2h-46.3z" fill="#ff6c00"/>
<path d="M508.1 1438h46.3v2.6h-46.3zM508.1 1501.6h46.3v2.4h-46.3zM508.1 1877.7h46.3v2.3h-46.3zM508.1 2021h46.3v2.2h-46.3zM508.1 2240.2h46.3v2.2h-46.3zM508.1 2283.6h46.3v3.1h-46.3zM508.1 2306.9h46.3v2.2h-46.3zM508.1 2327.7h46.3v2.1h-46.3zM508.1 2363.3h46.3v2.1h-46.3z" fill="#ff8800"/>
<path d="M508.1 1440.4h46.3v3.1h-46.3zM508.1 1696.4h46.3v2.1h-46.3z" fill="#ebed00"/>
<path d="M508.1 1443.2h46.3v2.1h-46.3zM508.1 1752.7h46.3v2.4h-46.3z" fill="#f7e700"/>
<path d="M508.1 1445.1h46.3v2.1h-46.3z" fill="#f0eb00"/>
<path d="M508.1 1446.9h46.3v2.1h-46.3z" fill="#e7ef00"/>
<path d="M508.1 1448.8h46.3v2.1h-46.3zM508.1 1509.8h46.3v2.1h-46.3zM508.1 1860.1h46.3v2.6h-46.3z" fill="#ffe400"/>
<path d="M508.1 1450.7h46.3v2.1h-46.3zM508.1 1571.7h46.3v2.1h-46.3zM508.1 1677.1h46.3v2.4h-46.3zM508.1 2174.8h46.3v2.5h-46.3z" fill="#ffd900"/>
<path d="M508.1 1452.6h46.3v2.1h-46.3zM508.1 1779.9h46.3v2.1h-46.3z" fill="#ddf300"/>
<path d="M508.1 1454.4h46.3v3.1h-46.3z" fill="#15f63b"/>
<path d="M508.1 1457.3h46.3v2.1h-46.3zM508.1 1800.5h46.3v2.1h-46.3z" fill="#ffbb00"/>
<path d="M508.1 1459.1h46.3v3.1h-46.3z" fill="#1488f4"/>
<path d="M508.1 1462h46.3v2.6h-46.3zM508.1 1503.7h46.3v2.4h-46.3z" fill="#ff7300"/>
<path d="M508.1 1464.3h46.3v2.6h-46.3zM508.1 2137.3h46.3v2.6h-46.3zM508.1 2278.9h46.3v2.6h-46.3z" fill="#ff9600"/>
<path d="M508.1 1466.6h46.3v2.1h-46.3z" fill="#ffd800"/>
<path d="M508.1 1470.4h46.3v2.1h-46.3z" fill="#fde500"/>
<path d="M508.1 1472.3h46.3v3.1h-46.3z" fill="#c2ff00"/>
<path d="M508.1 1475.1h46.3v2.6h-46.3z" fill="#1493f6"/>
<path d="M508.1 1477.4h46.3v2.6h-46.3z" fill="#148ef5"/>
<path d="M508.1 1479.8h46.3v2.1h-46.3z" fill="#e8ee00"/>
<path d="M508.1 1481.6h46.3v2.1h-46.3zM508.1 1511.7h46.3v2.1h-46.3z" fill="#ffda00"/>
<path d="M508.1 1483.5h46.3v2.3h-46.3zM508.1 1802.4h46.3v2.1h-46.3z" fill="#ffaf00"/>
<path d="M508.1 1485.6h46.3v2.3h-46.3zM508.1 1657h46.3v2.1h-46.3z" fill="#ffab00"/>
<path d="M508.1 1487.6h46.3v2.3h-46.3zM508.1 1736.8h46.3v2.1h-46.3zM508.1 2204.8h46.3v3.1h-46.3z" fill="#ffc500"/>
<path d="M508.1 1489.6h46.3v2.3h-46.3z" fill="#ffb000"/>
<path d="M508.1 1491.7h46.3v2.3h-46.3zM508.1 1932.8h46.3v2.1h-46.3zM508.1 2046.3h46.3v2.1h-46.3z" fill="#ff9700"/>
<path d="M508.1 1493.7h46.3v2.3h-46.3zM508.1 1908.2h46.3v2.2h-46.3zM508.1 1954.4h46.3v4.9h-46.3zM508.1 2028.9h46.3v2.2h-46.3zM508.1 2115.1h46.3v2.3h-46.3zM508.1 2148.5h46.3v2.1h-46.3z" fill="#ff9800"/>
<path d="M508.1 1499.5h46.3v2.4h-46.3zM508.1 1747.1h46.3v2.1h-46.3z" fill="#ff6d00"/>
<path d="M508.1 1505.8h46.3v2.4h-46.3zM508.1 1520.7h46.3v2.4h-46.3zM508.1 1698.3h46.3v2.6h-46.3zM508.1 1906.2h46.3v2.2h-46.3zM508.1 2207.6h46.3v2.3h-46.3zM508.1 2359.6h46.3v2.1h-46.3z" fill="#ff7900"/>
<path d="M508.1 1507.9h46.3v2.1h-46.3zM508.1 1887.8h46.3v2.6h-46.3z" fill="#efeb00"/>
<path d="M508.1 1513.5h46.3v3.1h-46.3z" fill="#01f99c"/>
<path d="M508.1 1516.4h46.3v2.4h-46.3zM508.1 2259.9h46.3v2.2h-46.3z" fill="#ff7100"/>
<path d="M508.1 1522.9h46.3v3.1h-46.3z" fill="#18f62f"/>
<path d="M508.1 1525.7h46.3v2.1h-46.3zM508.1 2097.9h46.3v2.1h-46.3zM508.1 2131.2h46.3v2.3h-46.3z" fill="#ff9f00"/>
<path d="M508.1 1527.6h46.3v2.1h-46.3zM508.1 1655.2h46.3v2.1h-46.3z" fill="#ffb200"/>
<path d="M508.1 1529.5h46.3v2.4h-46.3z" fill="#8afc07"/>
<path d="M508.1 1531.7h46.3v2.4h-46.3z" fill="#d0f900"/>
<path d="M508.1 1533.9h46.3v2.4h-46.3z" fill="#c3ff00"/>
<path d="M508.1 1536h46.3v2.1h-46.3z" fill="#52f80e"/>
<path d="M508.1 1537.9h46.3v2.1h-46.3z" fill="#59f90d"/>
<path d="M508.1 1541.7h46.3v2.1h-46.3z" fill="#ffd700"/>
<path d="M508.1 1543.6h46.3v2.1h-46.3zM508.1 2055.7h46.3v2.1h-46.3zM508.1 2350.2h46.3v2.1h-46.3z" fill="#ff8100"/>
<path d="M508.1 1545.4h46.3v2.1h-46.3z" fill="#ff9d00"/>
<path d="M508.1 1547.3h46.3v2.1h-46.3z" fill="#1af626"/>
<path d="M508.1 1551.1h46.3v2.1h-46.3zM508.1 1653.3h46.3v2.1h-46.3z" fill="#16f637"/>
<path d="M508.1 1552.9h46.3v2.1h-46.3zM508.1 2026.9h46.3v2.2h-46.3zM508.1 2209.6h46.3v2.3h-46.3zM508.1 2345.5h46.3v2.1h-46.3z" fill="#ff8b00"/>
<path d="M508.1 1554.8h46.3v2.1h-46.3zM508.1 1580.1h46.3v2.1h-46.3zM508.1 1761.2h46.3v2.1h-46.3zM508.1 1944h46.3v2.1h-46.3zM508.1 2050h46.3v2.1h-46.3zM508.1 2242.2h46.3v2.2h-46.3z" fill="#ff8900"/>
<path d="M508.1 1556.7h46.3v2.1h-46.3zM508.1 1726.4h46.3v2.6h-46.3zM508.1 1842.8h46.3v2.1h-46.3zM508.1 2003.1h46.3v2.1h-46.3zM508.1 2277h46.3v2.1h-46.3zM508.1 2299.2h46.3v2.2h-46.3z" fill="#ff7600"/>
<path d="M508.1 1558.6h46.3v2.1h-46.3z" fill="#bfff01"/>
<path d="M508.1 1560.4h46.3v2.1h-46.3z" fill="#80fb08"/>
<path d="M508.1 1562.3h46.3v2.6h-46.3z" fill="#12e8f5"/>
<path d="M508.1 1564.7h46.3v2.6h-46.3z" fill="#13e7fa"/>
<path d="M508.1 1567h46.3v3.1h-46.3zM508.1 2125.2h46.3v2.3h-46.3z" fill="#ff9500"/>
<path d="M508.1 1569.8h46.3v2.1h-46.3z" fill="#ffdf00"/>
<path d="M508.1 1573.6h46.3v2.1h-46.3zM508.1 2198.9h46.3v2.3h-46.3z" fill="#f6e800"/>
<path d="M508.1 1575.4h46.3v2.1h-46.3zM508.1 1866.2h46.3v2.1h-46.3zM508.1 2048.2h46.3v2.1h-46.3zM508.1 2127.2h46.3v2.3h-46.3z" fill="#ff7d00"/>
<path d="M508.1 1577.3h46.3v3.1h-46.3z" fill="#8e3cf9"/>
<path d="M508.1 1582h46.3v3.1h-46.3z" fill="#9cfd05"/>
<path d="M508.1 1584.8h46.3v2.1h-46.3zM508.1 1592.3h46.3v2.1h-46.3zM508.1 1918.7h46.3v2.1h-46.3zM508.1 2036.9h46.3v2.1h-46.3zM508.1 2352h46.3v2.1h-46.3z" fill="#ffa300"/>
<path d="M508.1 1586.7h46.3v2.1h-46.3z" fill="#ffa700"/>
<path d="M508.1 1588.6h46.3v2.1h-46.3zM508.1 1622.8h46.3v2.4h-46.3zM508.1 2316.4h46.3v2.1h-46.3z" fill="#ffbe00"/>
<path d="M508.1 1590.4h46.3v2.1h-46.3zM508.1 2101.6h46.3v2.1h-46.3zM508.1 2290.1h46.3v2.1h-46.3z" fill="#ffa600"/>
<path d="M508.1 1594.2h46.3v2.1h-46.3z" fill="#1bf521"/>
<path d="M508.1 1596.1h46.3v2.1h-46.3zM508.1 2112.9h46.3v2.5h-46.3z" fill="#35f611"/>
<path d="M508.1 1598h46.3v2.1h-46.3zM508.1 1719.9h46.3v2.1h-46.3zM508.1 2168.5h46.3v2.3h-46.3z" fill="#ff3800"/>
<path d="M508.1 1599.8h46.3v2.1h-46.3z" fill="#ff4100"/>
<path d="M508.1 1601.7h46.3v2.1h-46.3z" fill="#ff3b00"/>
<path d="M508.1 1603.6h46.3v2.1h-46.3zM508.1 2164.3h46.3v2.3h-46.3z" fill="#ff3e00"/>
<path d="M508.1 1605.5h46.3v2.1h-46.3z" fill="#93fc06"/>
<path d="M508.1 1607.3h46.3v2.1h-46.3zM508.1 1613h46.3v2.1h-46.3zM508.1 2221.9h46.3v2.4h-46.3z" fill="#a8fd03"/>
<path d="M508.1 1609.2h46.3v2.1h-46.3z" fill="#01fa90"/>
<path d="M508.1 1611.1h46.3v2.1h-46.3z" fill="#01f99b"/>
<path d="M508.1 1614.8h46.3v2.1h-46.3z" fill="#b3fe02"/>
<path d="M508.1 1616.7h46.3v2.1h-46.3zM508.1 2244.2h46.3v3.1h-46.3z" fill="#c8fd00"/>
<path d="M508.1 1618.6h46.3v2.4h-46.3zM508.1 1916.8h46.3v2.1h-46.3zM508.1 2107.2h46.3v2.1h-46.3z" fill="#ffc000"/>
<path d="M508.1 1620.7h46.3v2.4h-46.3zM508.1 1796.8h46.3v4h-46.3zM508.1 1922.5h46.3v2.1h-46.3zM508.1 2323.9h46.3v2.1h-46.3z" fill="#ffb800"/>
<path d="M508.1 1624.9h46.3v2.4h-46.3zM508.1 1977.3h46.3v2.7h-46.3z" fill="#ffaa00"/>
<path d="M508.1 1627h46.3v3.1h-46.3z" fill="#1937eb"/>
<path d="M508.1 1629.8h46.3v2.4h-46.3zM508.1 1881.7h46.3v2.3h-46.3zM508.1 2016.3h46.3v2.1h-46.3z" fill="#ff9a00"/>
<path d="M508.1 1634.2h46.3v2.4h-46.3zM508.1 1703h46.3v2.1h-46.3zM508.1 1707.7h46.3v2.6h-46.3zM508.1 1910.1h46.3v2.2h-46.3zM508.1 2295.4h46.3v2.2h-46.3zM508.1 2338h46.3v2.1h-46.3zM508.1 2341.7h46.3v2.1h-46.3z" fill="#ff8a00"/>
<path d="M508.1 1636.4h46.3v3.1h-46.3z" fill="#903cf9"/>
<path d="M508.1 1645.8h46.3v2.1h-46.3z" fill="#1bf622"/>
<path d="M508.1 1647.7h46.3v2.1h-46.3z" fill="#49f80f"/>
<path d="M508.1 1649.5h46.3v2.1h-46.3z" fill="#6cfa0a"/>
<path d="M508.1 1651.4h46.3v2.1h-46.3z" fill="#4cf80e"/>
<path d="M508.1 1658.9h46.3v2.1h-46.3zM508.1 2322h46.3v2.1h-46.3z" fill="#ffba00"/>
<path d="M508.1 1660.8h46.3v2.1h-46.3zM508.1 2008.8h46.3v3.1h-46.3z" fill="#b5fe02"/>
<path d="M508.1 1662.7h46.3v2.1h-46.3z" fill="#ccfb00"/>
<path d="M508.1 1664.5h46.3v2.1h-46.3z" fill="#cffa00"/>
<path d="M508.1 1666.4h46.3v2.1h-46.3z" fill="#56f80d"/>
<path d="M508.1 1668.3h46.3v2.1h-46.3z" fill="#64f90c"/>
<path d="M508.1 1670.2h46.3v2.1h-46.3z" fill="#c5fe00"/>
<path d="M508.1 1674.9h46.3v2.4h-46.3zM508.1 2157.9h46.3v2.5h-46.3zM508.1 2355.8h46.3v2.1h-46.3z" fill="#fae600"/>
<path d="M508.1 1679.2h46.3v2.4h-46.3zM508.1 2018.1h46.3v3.1h-46.3zM508.1 2190.9h46.3v2.3h-46.3z" fill="#ffd100"/>
<path d="M508.1 1685.2h46.3v2.1h-46.3z" fill="#cbfb00"/>
<path d="M508.1 1687.1h46.3v2.1h-46.3z" fill="#86fb07"/>
<path d="M508.1 1688.9h46.3v2.1h-46.3zM508.1 2219.8h46.3v2.4h-46.3z" fill="#a4fd04"/>
<path d="M508.1 1690.8h46.3v2.1h-46.3z" fill="#88fb07"/>
<path d="M508.1 1692.7h46.3v2.1h-46.3z" fill="#a7fd03"/>
<path d="M508.1 1694.6h46.3v2.1h-46.3z" fill="#ffdb00"/>
<path d="M508.1 1700.7h46.3v2.6h-46.3zM508.1 1763h46.3v2.1h-46.3zM508.1 1850.3h46.3v2.1h-46.3zM508.1 1864.3h46.3v2.1h-46.3zM508.1 2034.9h46.3v2.2h-46.3z" fill="#ff7a00"/>
<path d="M508.1 1712.4h46.3v2.1h-46.3zM508.1 1885.8h46.3v2.3h-46.3zM508.1 1971.2h46.3v2.1h-46.3z" fill="#ff9e00"/>
<path d="M508.1 1714.3h46.3v2.1h-46.3zM508.1 1924.4h46.3v2.4h-46.3z" fill="#ffcc00"/>
<path d="M508.1 1716.1h46.3v2.1h-46.3zM508.1 2119.2h46.3v2.3h-46.3zM508.1 2135.2h46.3v2.3h-46.3zM508.1 2228.2h46.3v2.2h-46.3zM508.1 2308.8h46.3v2.2h-46.3z" fill="#ff8600"/>
<path d="M508.1 1718h46.3v2.1h-46.3zM508.1 1846.5h46.3v2.1h-46.3zM508.1 1852.1h46.3v2.1h-46.3zM508.1 2325.8h46.3v2.1h-46.3z" fill="#ff9300"/>
<path d="M508.1 1721.8h46.3v3.1h-46.3z" fill="#14e3ff"/>
<path d="M508.1 1724.6h46.3v2.1h-46.3z" fill="#e1f100"/>
<path d="M508.1 1731.1h46.3v3.1h-46.3z" fill="#03fa8a"/>
<path d="M508.1 1734h46.3v3.1h-46.3zM508.1 2156h46.3v2.1h-46.3z" fill="#ff7f00"/>
<path d="M508.1 1738.6h46.3v2.1h-46.3zM508.1 1808h46.3v2.1h-46.3z" fill="#e5f000"/>
<path d="M508.1 1743.3h46.3v2.1h-46.3z" fill="#69fa0b"/>
<path d="M508.1 1745.2h46.3v2.1h-46.3zM508.1 1875.7h46.3v2.3h-46.3zM508.1 1883.8h46.3v2.3h-46.3zM508.1 1904.3h46.3v2.2h-46.3zM508.1 1949.7h46.3v2.1h-46.3zM508.1 2123.2h46.3v2.3h-46.3z" fill="#ff7e00"/>
<path d="M508.1 1749h46.3v2.1h-46.3zM508.1 1848.4h46.3v2.1h-46.3zM508.1 2011.6h46.3v2.1h-46.3zM508.1 2250.6h46.3v2.3h-46.3z" fill="#ff8c00"/>
<path d="M508.1 1754.9h46.3v2.4h-46.3zM508.1 1857.8h46.3v2.6h-46.3zM508.1 2072.5h46.3v3.1h-46.3z" fill="#fbe600"/>
<path d="M508.1 1759.3h46.3v2.1h-46.3zM508.1 1894.8h46.3v2.6h-46.3zM508.1 2070.7h46.3v2.1h-46.3z" fill="#ff8000"/>
<path d="M508.1 1764.9h46.3v3.1h-46.3z" fill="#30f612"/>
<path d="M508.1 1767.7h46.3v2.4h-46.3zM508.1 1823.1h46.3v2.1h-46.3z" fill="#ff5400"/>
<path d="M508.1 1769.8h46.3v2.4h-46.3zM508.1 2177h46.3v2.1h-46.3zM508.1 2261.8h46.3v2.2h-46.3z" fill="#ff5500"/>
<path d="M508.1 1771.9h46.3v2.4h-46.3zM508.1 2005h46.3v2.1h-46.3z" fill="#ff5800"/>
<path d="M508.1 1774h46.3v2.4h-46.3zM508.1 2023h46.3v2.2h-46.3z" fill="#ff6f00"/>
<path d="M508.1 1776.2h46.3v2.1h-46.3z" fill="#14e2ff"/>
<path d="M508.1 1778h46.3v2.1h-46.3z" fill="#13e7f8"/>
<path d="M508.1 1781.8h46.3v2.1h-46.3zM508.1 1791.2h46.3v2.1h-46.3zM508.1 2081.9h46.3v2.1h-46.3zM508.1 2194.9h46.3v2.3h-46.3z" fill="#ffde00"/>
<path d="M508.1 1783.7h46.3v2.1h-46.3z" fill="#f5e900"/>
<path d="M508.1 1785.5h46.3v2.1h-46.3z" fill="#dcf400"/>
<path d="M508.1 1787.4h46.3v2.1h-46.3z" fill="#95fc06"/>
<path d="M508.1 1789.3h46.3v2.1h-46.3zM508.1 1804.3h46.3v2.1h-46.3z" fill="#ffe200"/>
<path d="M508.1 1793h46.3v2.1h-46.3zM508.1 1920.6h46.3v2.1h-46.3z" fill="#ffbf00"/>
<path d="M508.1 1794.9h46.3v2.1h-46.3zM508.1 1928.7h46.3v2.4h-46.3z" fill="#ffcd00"/>
<path d="M508.1 1806.2h46.3v2.1h-46.3z" fill="#f3e900"/>
<path d="M508.1 1809.9h46.3v2.1h-46.3zM508.1 1844.6h46.3v2.1h-46.3zM508.1 2061.3h46.3v2.1h-46.3zM508.1 2065h46.3v2.1h-46.3zM508.1 2111h46.3v2.1h-46.3zM508.1 2211.7h46.3v2.3h-46.3zM508.1 2248.5h46.3v2.3h-46.3z" fill="#ff8500"/>
<path d="M508.1 1811.8h46.3v2.1h-46.3zM508.1 2133.2h46.3v2.3h-46.3zM508.1 2365.2h46.3v2.1h-46.3z" fill="#ff8f00"/>
<path d="M508.1 1813.7h46.3v2.1h-46.3zM508.1 2001.3h46.3v2.1h-46.3zM508.1 2032.9h46.3v2.2h-46.3zM508.1 2087.6h46.3v2.4h-46.3zM508.1 2232.2h46.3v2.2h-46.3z" fill="#ff6b00"/>
<path d="M508.1 1815.6h46.3v2.1h-46.3z" fill="#14e6fe"/>
<path d="M508.1 1817.4h46.3v2.1h-46.3z" fill="#12e8f6"/>
<path d="M508.1 1819.3h46.3v2.1h-46.3zM508.1 2265.7h46.3v2.2h-46.3zM508.1 2378.3h46.3v2.1h-46.3z" fill="#ff4f00"/>
<path d="M508.1 1821.2h46.3v2.1h-46.3zM508.1 1960.9h46.3v2.1h-46.3zM508.1 2182.4h46.3v2.1h-46.3z" fill="#ff5b00"/>
<path d="M508.1 1824.9h46.3v2.1h-46.3zM508.1 1989.1h46.3v2.1h-46.3z" fill="#ff5a00"/>
<path d="M508.1 1826.8h46.3v2.1h-46.3zM508.1 2202.9h46.3v2.1h-46.3zM508.1 2256h46.3v2.2h-46.3z" fill="#ff4800"/>
<path d="M508.1 1828.7h46.3v2.1h-46.3z" fill="#ff5c00"/>
<path d="M508.1 1830.6h46.3v2.1h-46.3zM508.1 2091.8h46.3v2.4h-46.3zM508.1 2361.4h46.3v2.1h-46.3z" fill="#ff7000"/>
<path d="M508.1 1832.4h46.3v2.1h-46.3z" fill="#19f62c"/>
<path d="M508.1 1834.3h46.3v2.1h-46.3z" fill="#16f638"/>
<path d="M508.1 1836.2h46.3v3.1h-46.3zM508.1 2297.3h46.3v2.2h-46.3z" fill="#ff9b00"/>
<path d="M508.1 1840.9h46.3v2.1h-46.3zM508.1 2374.6h46.3v2.1h-46.3z" fill="#ff7200"/>
<path d="M508.1 1854h46.3v2.1h-46.3z" fill="#17f632"/>
<path d="M508.1 1855.9h46.3v2.1h-46.3z" fill="#19f629"/>
<path d="M508.1 1862.4h46.3v2.1h-46.3zM508.1 1870.9h46.3v3.1h-46.3z" fill="#20f514"/>
<path d="M508.1 1868.1h46.3v3.1h-46.3z" fill="#1583f4"/>
<path d="M508.1 1873.7h46.3v2.3h-46.3zM508.1 2117.1h46.3v2.3h-46.3z" fill="#ff7c00"/>
<path d="M508.1 1890.1h46.3v2.6h-46.3z" fill="#eaed00"/>
<path d="M508.1 1897.2h46.3v3.1h-46.3z" fill="#adfe03"/>
<path d="M508.1 1901.8h46.3v2.7h-46.3z" fill="#193beb"/>
<path d="M508.1 1914h46.3v3.1h-46.3z" fill="#7dfb09"/>
<path d="M508.1 1934.7h46.3v2.1h-46.3zM508.1 2024.9h46.3v2.2h-46.3zM508.1 2068.8h46.3v2.1h-46.3z" fill="#ff7500"/>
<path d="M508.1 1936.5h46.3v2.1h-46.3z" fill="#ffca00"/>
<path d="M508.1 1938.4h46.3v2.1h-46.3zM508.1 2013.5h46.3v3.1h-46.3z" fill="#ffd400"/>
<path d="M508.1 1940.3h46.3v2.1h-46.3z" fill="#ffcf00"/>
<path d="M508.1 1942.2h46.3v2.1h-46.3z" fill="#eced00"/>
<path d="M508.1 1945.9h46.3v2.1h-46.3z" fill="#ff8d00"/>
<path d="M508.1 1947.8h46.3v2.1h-46.3z" fill="#ff8e00"/>
<path d="M508.1 1951.6h46.3v3.1h-46.3z" fill="#ffd200"/>
<path d="M508.1 1959.1h46.3v2.1h-46.3zM508.1 1994.7h46.3v2.1h-46.3zM508.1 2093.9h46.3v2.4h-46.3z" fill="#ff5d00"/>
<path d="M508.1 1962.8h46.3v2.1h-46.3z" fill="#ff6900"/>
<path d="M508.1 1964.7h46.3v2.1h-46.3zM508.1 2257.9h46.3v2.2h-46.3zM508.1 2368.9h46.3v2.1h-46.3z" fill="#ff4a00"/>
<path d="M508.1 1979.7h46.3v2.1h-46.3zM508.1 2083.8h46.3v2.1h-46.3z" fill="#ffd500"/>
<path d="M508.1 1981.6h46.3v2.1h-46.3z" fill="#ffc900"/>
<path d="M508.1 1983.4h46.3v2.1h-46.3z" fill="#edec00"/>
<path d="M508.1 1985.3h46.3v2.1h-46.3z" fill="#ff4600"/>
<path d="M508.1 1987.2h46.3v2.1h-46.3zM508.1 1992.8h46.3v2.1h-46.3zM508.1 2263.7h46.3v2.2h-46.3z" fill="#ff5000"/>
<path d="M508.1 1990.9h46.3v2.1h-46.3zM508.1 2143.8h46.3v2.1h-46.3z" fill="#ff5100"/>
<path d="M508.1 1998.9h46.3v2.6h-46.3zM508.1 2121.2h46.3v2.3h-46.3zM508.1 2129.2h46.3v2.3h-46.3zM508.1 2154.1h46.3v2.1h-46.3zM508.1 2238.2h46.3v2.2h-46.3zM508.1 2312.6h46.3v2.2h-46.3z" fill="#ff9000"/>
<path d="M508.1 2006.9h46.3v2.1h-46.3zM508.1 2370.8h46.3v2.1h-46.3z" fill="#ff6500"/>
<path d="M508.1 2038.8h46.3v2.1h-46.3z" fill="#ffd000"/>
<path d="M508.1 2040.7h46.3v2.1h-46.3z" fill="#ffa100"/>
<path d="M508.1 2042.5h46.3v2.1h-46.3z" fill="#ffa900"/>
<path d="M508.1 2044.4h46.3v2.1h-46.3zM508.1 2139.6h46.3v2.6h-46.3zM508.1 2152.3h46.3v2.1h-46.3zM508.1 2213.7h46.3v2.3h-46.3zM508.1 2301.1h46.3v2.2h-46.3z" fill="#ff8400"/>
<path d="M508.1 2051.9h46.3v2.1h-46.3z" fill="#ff9200"/>
<path d="M508.1 2053.8h46.3v2.1h-46.3zM508.1 2333.3h46.3v2.1h-46.3z" fill="#ff7b00"/>
<path d="M508.1 2057.5h46.3v2.1h-46.3z" fill="#11f74c"/>
<path d="M508.1 2059.4h46.3v2.1h-46.3z" fill="#16f635"/>
<path d="M508.1 2075.4h46.3v2.4h-46.3z" fill="#ff5600"/>
<path d="M508.1 2079.7h46.3v2.4h-46.3zM508.1 2180.6h46.3v2.1h-46.3z" fill="#ff4d00"/>
<path d="M508.1 2085.7h46.3v2.1h-46.3zM508.1 2252.6h46.3v1.9h-46.3z" fill="#ffdc00"/>
<path d="M508.1 2089.7h46.3v2.4h-46.3zM508.1 2269.5h46.3v2.1h-46.3z" fill="#ff6300"/>
<path d="M508.1 2096h46.3v2.1h-46.3z" fill="#ffb900"/>
<path d="M508.1 2105.4h46.3v2.1h-46.3z" fill="#ffb500"/>
<path d="M508.1 2109.1h46.3v2.1h-46.3z" fill="#ffa400"/>
<path d="M508.1 2145.7h46.3v3.1h-46.3z" fill="#ffac00"/>
<path d="M508.1 2150.4h46.3v2.1h-46.3zM508.1 2230.2h46.3v2.2h-46.3z" fill="#ff9c00"/>
<path d="M508.1 2160.1h46.3v2.3h-46.3z" fill="#ff4200"/>
<path d="M508.1 2162.2h46.3v2.3h-46.3z" fill="#ff3700"/>
<path d="M508.1 2166.4h46.3v2.3h-46.3zM508.1 2172.7h46.3v2.3h-46.3z" fill="#ff3900"/>
<path d="M508.1 2170.6h46.3v2.3h-46.3z" fill="#ff4700"/>
<path d="M508.1 2178.8h46.3v2.1h-46.3zM508.1 2275.1h46.3v2.1h-46.3z" fill="#ff6a00"/>
<path d="M508.1 2184.2h46.3v2.1h-46.3z" fill="#ff5300"/>
<path d="M508.1 2186h46.3v3.1h-46.3z" fill="#0cf860"/>
<path d="M508.1 2192.9h46.3v2.3h-46.3z" fill="#e0f200"/>
<path d="M508.1 2200.9h46.3v2.3h-46.3z" fill="#fce500"/>
<path d="M508.1 2224h46.3v2.4h-46.3z" fill="#76fa09"/>
<path d="M508.1 2226.1h46.3v2.4h-46.3z" fill="#c6fe00"/>
<path d="M508.1 2234.2h46.3v2.2h-46.3zM508.1 2281.2h46.3v2.6h-46.3zM508.1 2303.1h46.3v2.2h-46.3z" fill="#ff7400"/>
<path d="M508.1 2247h46.3v1.8h-46.3z" fill="#1bf51f"/>
<path d="M508.1 2254.3h46.3v1.9h-46.3z" fill="#f1ea00"/>
<path d="M508.1 2267.6h46.3v2.2h-46.3zM508.1 2271.4h46.3v2.1h-46.3z" fill="#ff4e00"/>
<path d="M508.1 2273.3h46.3v2.1h-46.3z" fill="#ff5700"/>
<path d="M508.1 2286.4h46.3v2.1h-46.3zM508.1 2318.3h46.3v2.1h-46.3z" fill="#ffc600"/>
<path d="M508.1 2288.3h46.3v2.1h-46.3z" fill="#ffb600"/>
<path d="M508.1 2292h46.3v1.9h-46.3z" fill="#14defe"/>
<path d="M508.1 2314.5h46.3v2.1h-46.3z" fill="#ffbd00"/>
<path d="M508.1 2320.2h46.3v2.1h-46.3z" fill="#ffa500"/>
<path d="M508.1 2347.4h46.3v3.1h-46.3z" fill="#04f987"/>
<path d="M508.1 2353.9h46.3v2.1h-46.3z" fill="#ffa000"/>
<path d="M508.1 2367.1h46.3v2.1h-46.3z" fill="#ff5e00"/>
<path d="M508.1 2372.7h46.3v2.1h-46.3z" fill="#ff5200"/>
<path d="M508.1 2376.4h46.3v2.1h-46.3z" fill="#ff6000"/>
<path d="M554.2 1295.7h48.8v1.4h-48.8z" fill="#fa46fa"/>
<path d="M554.2 1296.9h48.8v2.1h-48.8z" fill="#1df519"/>
<path d="M554.2 1298.8h48.8v2.1h-48.8z" fill="#1bf520"/>
<path d="M554.2 1300.6h48.8v2.1h-48.8z" fill="#1bf622"/>
<path d="M554.2 1302.5h48.8v3.1h-48.8zM554.2 1495.7h48.8v4h-48.8zM554.2 1681.4h48.8v4h-48.8zM554.2 1740.5h48.8v3.1h-48.8z" fill="#ffffff"/>
<path d="M554.2 1305.3h48.8v3.1h-48.8z" fill="#53f80e"/>
<path d="M554.2 1308.1h48.8v2.6h-48.8z" fill="#14f73f"/>
<path d="M554.2 1310.5h48.8v2.6h-48.8z" fill="#1cf51d"/>
<path d="M554.2 1312.8h48.8v2.1h-48.8z" fill="#16f638"/>
<path d="M554.2 1314.7h48.8v2.1h-48.8z" fill="#1cf51b"/>
<path d="M554.2 1316.6h48.8v2.1h-48.8z" fill="#27f613"/>
<path d="M554.2 1318.4h48.8v2.1h-48.8z" fill="#b4fe02"/>
<path d="M554.2 1320.3h48.8v2.1h-48.8z" fill="#e7ef00"/>
<path d="M554.2 1322.2h48.8v2.1h-48.8z" fill="#a9fd03"/>
<path d="M554.2 1324.1h48.8v3.1h-48.8z" fill="#1492f6"/>
<path d="M554.2 1326.9h48.8v2.6h-48.8zM554.2 1718h48.8v2.1h-48.8zM554.2 1924.4h48.8v2.4h-48.8z" fill="#ffdd00"/>
<path d="M554.2 1329.2h48.8v2.6h-48.8z" fill="#ffcb00"/>
<path d="M554.2 1331.6h48.8v2.4h-48.8z" fill="#1af624"/>
<path d="M554.2 1333.8h48.8v2.4h-48.8z" fill="#51f80e"/>
<path d="M554.2 1336h48.8v2.4h-48.8zM554.2 1358.8h48.8v2.1h-48.8z" fill="#15f639"/>
<path d="M554.2 1338.1h48.8v3.1h-48.8z" fill="#1495f6"/>
<path d="M554.2 1341h48.8v2.1h-48.8z" fill="#c1ff00"/>
<path d="M554.2 1342.8h48.8v2.1h-48.8z" fill="#7cfb09"/>
<path d="M554.2 1344.7h48.8v3.1h-48.8z" fill="#2037ec"/>
<path d="M554.2 1347.5h48.8v3.1h-48.8zM554.2 1373.8h48.8v2.6h-48.8zM554.2 2252.6h48.8v1.9h-48.8z" fill="#ffe200"/>
<path d="M554.2 1350.3h48.8v2.4h-48.8z" fill="#30f612"/>
<path d="M554.2 1352.5h48.8v2.4h-48.8z" fill="#2af613"/>
<path d="M554.2 1354.7h48.8v2.4h-48.8z" fill="#48f80f"/>
<path d="M554.2 1356.9h48.8v2.1h-48.8z" fill="#18f62d"/>
<path d="M554.2 1360.7h48.8v2.1h-48.8z" fill="#13e7fc"/>
<path d="M554.2 1362.5h48.8v3.1h-48.8zM554.2 1477.4h48.8v2.6h-48.8z" fill="#14dcfe"/>
<path d="M554.2 1365.3h48.8v2.1h-48.8zM554.2 1868.1h48.8v3.1h-48.8z" fill="#1496f6"/>
<path d="M554.2 1367.2h48.8v2.1h-48.8z" fill="#1ff514"/>
<path d="M554.2 1369.1h48.8v2.1h-48.8z" fill="#4af80f"/>
<path d="M554.2 1371h48.8v3.1h-48.8z" fill="#193eec"/>
<path d="M554.2 1376.1h48.8v2.6h-48.8zM554.2 1688.9h48.8v2.1h-48.8z" fill="#e5f000"/>
<path d="M554.2 1378.5h48.8v2.4h-48.8z" fill="#19f62a"/>
<path d="M554.2 1380.7h48.8v2.4h-48.8zM554.2 1651.4h48.8v2.1h-48.8z" fill="#21f514"/>
<path d="M554.2 1382.9h48.8v2.4h-48.8z" fill="#26f513"/>
<path d="M554.2 1385h48.8v2.6h-48.8zM554.2 2157.9h48.8v2.5h-48.8z" fill="#aafd03"/>
<path d="M554.2 1387.4h48.8v2.6h-48.8z" fill="#8afc07"/>
<path d="M554.2 1389.7h48.8v2.1h-48.8z" fill="#9f3dfa"/>
<path d="M554.2 1391.6h48.8v2.1h-48.8z" fill="#983cfa"/>
<path d="M554.2 1393.5h48.8v2.4h-48.8zM554.2 2103.5h48.8v2.1h-48.8z" fill="#f3e900"/>
<path d="M554.2 1395.7h48.8v2.4h-48.8zM554.2 1736.8h48.8v2.1h-48.8zM554.2 2174.8h48.8v2.5h-48.8z" fill="#ffd200"/>
<path d="M554.2 1397.9h48.8v2.4h-48.8z" fill="#ffc900"/>
<path d="M554.2 1400h48.8v3.1h-48.8z" fill="#1488f5"/>
<path d="M554.2 1402.9h48.8v3.1h-48.8z" fill="#39f711"/>
<path d="M554.2 1405.7h48.8v2.1h-48.8z" fill="#26f613"/>
<path d="M554.2 1407.6h48.8v2.1h-48.8z" fill="#15f63a"/>
<path d="M554.2 1409.4h48.8v2.1h-48.8zM554.2 2355.8h48.8v2.1h-48.8z" fill="#cffa00"/>
<path d="M554.2 1411.3h48.8v2.1h-48.8zM554.2 1511.7h48.8v2.1h-48.8zM554.2 1781.8h48.8v2.1h-48.8z" fill="#c9fc00"/>
<path d="M554.2 1413.2h48.8v2.1h-48.8zM554.2 1692.7h48.8v2.1h-48.8zM554.2 1738.6h48.8v2.1h-48.8zM554.2 1808h48.8v2.1h-48.8zM554.2 2018.1h48.8v3.1h-48.8zM554.2 2224h48.8v2.4h-48.8z" fill="#e6ef00"/>
<path d="M554.2 1415.1h48.8v2.1h-48.8zM554.2 2188.8h48.8v2.3h-48.8z" fill="#ffcf00"/>
<path d="M554.2 1416.9h48.8v2.1h-48.8z" fill="#32f612"/>
<path d="M554.2 1418.8h48.8v2.1h-48.8zM554.2 1721.8h48.8v3.1h-48.8z" fill="#3ef710"/>
<path d="M554.2 1420.7h48.8v2.1h-48.8z" fill="#c6fe00"/>
<path d="M554.2 1422.6h48.8v2.1h-48.8z" fill="#d3f800"/>
<path d="M554.2 1424.4h48.8v2.4h-48.8z" fill="#18f630"/>
<path d="M554.2 1426.6h48.8v2.4h-48.8z" fill="#2df612"/>
<path d="M554.2 1428.8h48.8v2.4h-48.8z" fill="#58f80d"/>
<path d="M554.2 1431h48.8v2.1h-48.8z" fill="#ff5700"/>
<path d="M554.2 1432.9h48.8v3.1h-48.8z" fill="#14e6ff"/>
<path d="M554.2 1435.7h48.8v2.6h-48.8z" fill="#ffd100"/>
<path d="M554.2 1438h48.8v2.6h-48.8zM554.2 1687.1h48.8v2.1h-48.8z" fill="#edec00"/>
<path d="M554.2 1440.4h48.8v3.1h-48.8z" fill="#16f637"/>
<path d="M554.2 1443.2h48.8v2.1h-48.8z" fill="#f6e800"/>
<path d="M554.2 1445.1h48.8v2.1h-48.8zM554.2 1789.3h48.8v2.1h-48.8zM554.2 1806.2h48.8v2.1h-48.8z" fill="#f0eb00"/>
<path d="M554.2 1446.9h48.8v2.1h-48.8z" fill="#eaee00"/>
<path d="M554.2 1448.8h48.8v2.1h-48.8zM554.2 1860.1h48.8v2.6h-48.8z" fill="#ffda00"/>
<path d="M554.2 1450.7h48.8v2.1h-48.8zM554.2 1804.3h48.8v2.1h-48.8z" fill="#fde500"/>
<path d="M554.2 1452.6h48.8v2.1h-48.8zM554.2 2072.5h48.8v3.1h-48.8z" fill="#c3ff00"/>
<path d="M554.2 1454.4h48.8v3.1h-48.8zM554.2 1522.9h48.8v3.1h-48.8z" fill="#23f513"/>
<path d="M554.2 1457.3h48.8v2.1h-48.8zM554.2 2192.9h48.8v2.3h-48.8zM554.2 2217.8h48.8v2.3h-48.8z" fill="#ffc400"/>
<path d="M554.2 1459.1h48.8v3.1h-48.8zM554.2 1901.8h48.8v2.7h-48.8z" fill="#1939eb"/>
<path d="M554.2 1462h48.8v2.6h-48.8zM554.2 1985.3h48.8v2.1h-48.8zM554.2 2267.6h48.8v2.2h-48.8zM554.2 2303.1h48.8v2.2h-48.8zM554.2 2350.2h48.8v2.1h-48.8z" fill="#ff7800"/>
<path d="M554.2 1464.3h48.8v2.6h-48.8zM554.2 1518.5h48.8v2.4h-48.8zM554.2 1749h48.8v2.1h-48.8zM554.2 1994.7h48.8v2.1h-48.8zM554.2 2353.9h48.8v2.1h-48.8z" fill="#ff9000"/>
<path d="M554.2 1466.6h48.8v2.1h-48.8z" fill="#ffd800"/>
<path d="M554.2 1468.5h48.8v2.1h-48.8z" fill="#ffd300"/>
<path d="M554.2 1470.4h48.8v2.1h-48.8z" fill="#eaed00"/>
<path d="M554.2 1472.3h48.8v3.1h-48.8zM554.2 1545.4h48.8v2.1h-48.8zM554.2 1954.4h48.8v4.9h-48.8zM554.2 2050h48.8v2.1h-48.8zM554.2 2115.1h48.8v2.3h-48.8zM554.2 2295.4h48.8v2.2h-48.8zM554.2 2374.6h48.8v2.1h-48.8z" fill="#ff9100"/>
<path d="M554.2 1475.1h48.8v2.6h-48.8z" fill="#14e6fc"/>
<path d="M554.2 1479.8h48.8v2.1h-48.8zM554.2 1968.9h48.8v2.6h-48.8zM554.2 2085.7h48.8v2.1h-48.8z" fill="#f8e700"/>
<path d="M554.2 1481.6h48.8v2.1h-48.8zM554.2 2335.2h48.8v3.1h-48.8z" fill="#f4e900"/>
<path d="M554.2 1483.5h48.8v2.3h-48.8z" fill="#ffbc00"/>
<path d="M554.2 1485.6h48.8v2.3h-48.8zM554.2 1554.8h48.8v2.1h-48.8z" fill="#ffac00"/>
<path d="M554.2 1487.6h48.8v4.3h-48.8zM554.2 1501.6h48.8v2.4h-48.8z" fill="#ffaf00"/>
<path d="M554.2 1491.7h48.8v2.3h-48.8zM554.2 1864.3h48.8v2.1h-48.8z" fill="#ffa300"/>
<path d="M554.2 1493.7h48.8v2.3h-48.8z" fill="#ffa000"/>
<path d="M554.2 1499.5h48.8v2.4h-48.8zM554.2 2200.9h48.8v2.3h-48.8z" fill="#ffae00"/>
<path d="M554.2 1503.7h48.8v2.4h-48.8zM554.2 2211.7h48.8v2.3h-48.8z" fill="#ffb000"/>
<path d="M554.2 1505.8h48.8v2.4h-48.8zM554.2 1567h48.8v3.1h-48.8zM554.2 1586.7h48.8v2.1h-48.8zM554.2 2312.6h48.8v2.2h-48.8z" fill="#ff9e00"/>
<path d="M554.2 1507.9h48.8v2.1h-48.8zM554.2 1752.7h48.8v4.6h-48.8z" fill="#b9fe01"/>
<path d="M554.2 1509.8h48.8v2.1h-48.8z" fill="#cdfb00"/>
<path d="M554.2 1513.5h48.8v3.1h-48.8z" fill="#14e0fe"/>
<path d="M554.2 1516.4h48.8v2.4h-48.8zM554.2 1747.1h48.8v2.1h-48.8zM554.2 1934.7h48.8v2.1h-48.8z" fill="#ff6c00"/>
<path d="M554.2 1520.7h48.8v2.4h-48.8zM554.2 1992.8h48.8v2.1h-48.8z" fill="#ff7a00"/>
<path d="M554.2 1525.7h48.8v2.1h-48.8zM554.2 1712.4h48.8v2.1h-48.8z" fill="#ffcd00"/>
<path d="M554.2 1527.6h48.8v2.1h-48.8zM554.2 2097.9h48.8v2.1h-48.8zM554.2 2320.2h48.8v2.1h-48.8z" fill="#ffd700"/>
<path d="M554.2 1529.5h48.8v2.4h-48.8z" fill="#aefe03"/>
<path d="M554.2 1531.7h48.8v2.4h-48.8zM554.2 1936.5h48.8v2.1h-48.8zM554.2 2096h48.8v2.1h-48.8z" fill="#e1f100"/>
<path d="M554.2 1533.9h48.8v2.4h-48.8z" fill="#d6f600"/>
<path d="M554.2 1536h48.8v2.1h-48.8z" fill="#1cf51c"/>
<path d="M554.2 1537.9h48.8v2.1h-48.8z" fill="#4df80e"/>
<path d="M554.2 1539.8h48.8v2.1h-48.8z" fill="#ffb300"/>
<path d="M554.2 1541.7h48.8v2.1h-48.8zM554.2 1584.8h48.8v2.1h-48.8zM554.2 1624.9h48.8v2.4h-48.8z" fill="#ffa400"/>
<path d="M554.2 1543.6h48.8v2.1h-48.8zM554.2 1824.9h48.8v2.1h-48.8zM554.2 2180.6h48.8v2.1h-48.8zM554.2 2308.8h48.8v4.1h-48.8z" fill="#ff8600"/>
<path d="M554.2 1547.3h48.8v2.1h-48.8z" fill="#19f628"/>
<path d="M554.2 1549.2h48.8v2.1h-48.8z" fill="#1df518"/>
<path d="M554.2 1551.1h48.8v2.1h-48.8z" fill="#17f634"/>
<path d="M554.2 1552.9h48.8v2.1h-48.8z" fill="#ffb400"/>
<path d="M554.2 1556.7h48.8v2.1h-48.8z" fill="#ffa100"/>
<path d="M554.2 1558.6h48.8v2.1h-48.8z" fill="#46f70f"/>
<path d="M554.2 1560.4h48.8v2.1h-48.8z" fill="#15f73c"/>
<path d="M554.2 1562.3h48.8v2.6h-48.8z" fill="#14e3ff"/>
<path d="M554.2 1564.7h48.8v2.6h-48.8z" fill="#12e8f4"/>
<path d="M554.2 1569.8h48.8v2.1h-48.8z" fill="#8bfc07"/>
<path d="M554.2 1571.7h48.8v2.1h-48.8z" fill="#ccfb00"/>
<path d="M554.2 1573.6h48.8v2.1h-48.8z" fill="#b7fe01"/>
<path d="M554.2 1575.4h48.8v2.1h-48.8zM554.2 1655.2h48.8v2.1h-48.8zM554.2 1821.2h48.8v2.1h-48.8zM554.2 1836.2h48.8v3.1h-48.8zM554.2 1881.7h48.8v2.3h-48.8zM554.2 1900h48.8v2.1h-48.8zM554.2 2288.3h48.8v2.1h-48.8z" fill="#ff8c00"/>
<path d="M554.2 1577.3h48.8v3.1h-48.8z" fill="#14e4ff"/>
<path d="M554.2 1580.1h48.8v2.1h-48.8zM554.2 1811.8h48.8v2.1h-48.8zM554.2 1947.8h48.8v2.1h-48.8zM554.2 1998.9h48.8v2.6h-48.8z" fill="#ff8e00"/>
<path d="M554.2 1582h48.8v3.1h-48.8zM554.2 1855.9h48.8v2.1h-48.8z" fill="#bfff00"/>
<path d="M554.2 1588.6h48.8v2.1h-48.8zM554.2 1800.5h48.8v2.1h-48.8zM554.2 2209.6h48.8v2.3h-48.8z" fill="#ffc200"/>
<path d="M554.2 1590.4h48.8v2.1h-48.8zM554.2 1679.2h48.8v2.4h-48.8zM554.2 1918.7h48.8v2.1h-48.8zM554.2 2066.9h48.8v2.1h-48.8z" fill="#ffa800"/>
<path d="M554.2 1592.3h48.8v2.1h-48.8z" fill="#ffa700"/>
<path d="M554.2 1594.2h48.8v2.1h-48.8z" fill="#1bf621"/>
<path d="M554.2 1596.1h48.8v2.1h-48.8z" fill="#5df90c"/>
<path d="M554.2 1598h48.8v2.1h-48.8zM554.2 2005h48.8v2.1h-48.8z" fill="#ff5a00"/>
<path d="M554.2 1599.8h48.8v2.1h-48.8zM554.2 2079.7h48.8v2.4h-48.8z" fill="#ff4800"/>
<path d="M554.2 1601.7h48.8v2.1h-48.8zM554.2 2242.2h48.8v2.2h-48.8zM554.2 2263.7h48.8v2.2h-48.8z" fill="#ff6a00"/>
<path d="M554.2 1603.6h48.8v2.1h-48.8z" fill="#ff4600"/>
<path d="M554.2 1605.5h48.8v2.1h-48.8z" fill="#a2fd04"/>
<path d="M554.2 1607.3h48.8v2.1h-48.8z" fill="#b1fe02"/>
<path d="M554.2 1609.2h48.8v2.1h-48.8z" fill="#01f99b"/>
<path d="M554.2 1611.1h48.8v2.1h-48.8z" fill="#00fa95"/>
<path d="M554.2 1613h48.8v2.1h-48.8z" fill="#f5e800"/>
<path d="M554.2 1614.8h48.8v2.1h-48.8z" fill="#fee500"/>
<path d="M554.2 1616.7h48.8v2.1h-48.8zM554.2 1710h48.8v2.6h-48.8zM554.2 2314.5h48.8v2.1h-48.8z" fill="#ffe300"/>
<path d="M554.2 1618.6h48.8v2.4h-48.8z" fill="#ffc100"/>
<path d="M554.2 1620.7h48.8v2.4h-48.8zM554.2 2198.9h48.8v2.3h-48.8zM554.2 2213.7h48.8v2.3h-48.8z" fill="#ffb900"/>
<path d="M554.2 1622.8h48.8v2.4h-48.8z" fill="#ffc300"/>
<path d="M554.2 1627h48.8v3.1h-48.8z" fill="#2738ed"/>
<path d="M554.2 1629.8h48.8v2.4h-48.8zM554.2 1750.8h48.8v2.1h-48.8zM554.2 1761.2h48.8v2.1h-48.8z" fill="#ff9900"/>
<path d="M554.2 1632h48.8v4.6h-48.8zM554.2 2040.7h48.8v2.1h-48.8zM554.2 2248.5h48.8v2.3h-48.8zM554.2 2338h48.8v2.1h-48.8zM554.2 2363.3h48.8v2.1h-48.8z" fill="#ff7d00"/>
<path d="M554.2 1636.4h48.8v3.1h-48.8z" fill="#148ef5"/>
<path d="M554.2 1639.2h48.8v2.1h-48.8zM554.2 1658.9h48.8v2.1h-48.8zM554.2 1883.8h48.8v2.3h-48.8zM554.2 1962.8h48.8v2.1h-48.8zM554.2 2055.7h48.8v2.1h-48.8zM554.2 2125.2h48.8v2.3h-48.8zM554.2 2131.2h48.8v4.3h-48.8zM554.2 2154.1h48.8v2.1h-48.8zM554.2 2178.8h48.8v2.1h-48.8z" fill="#ff8d00"/>
<path d="M554.2 1641.1h48.8v2.6h-48.8z" fill="#1c37eb"/>
<path d="M554.2 1643.4h48.8v2.6h-48.8z" fill="#1938eb"/>
<path d="M554.2 1645.8h48.8v2.1h-48.8zM554.2 1694.6h48.8v2.1h-48.8z" fill="#c7fd00"/>
<path d="M554.2 1647.7h48.8v2.1h-48.8z" fill="#d4f700"/>
<path d="M554.2 1649.5h48.8v2.1h-48.8z" fill="#5ef90c"/>
<path d="M554.2 1653.3h48.8v2.1h-48.8z" fill="#10f750"/>
<path d="M554.2 1657h48.8v2.1h-48.8zM554.2 1745.2h48.8v2.1h-48.8zM554.2 1848.4h48.8v2.1h-48.8zM554.2 1906.2h48.8v2.2h-48.8zM554.2 2051.9h48.8v2.1h-48.8zM554.2 2367.1h48.8v2.1h-48.8z" fill="#ff8100"/>
<path d="M554.2 1660.8h48.8v2.1h-48.8zM554.2 2059.4h48.8v2.1h-48.8z" fill="#1bf51f"/>
<path d="M554.2 1662.7h48.8v2.1h-48.8z" fill="#6dfa0a"/>
<path d="M554.2 1664.5h48.8v2.1h-48.8z" fill="#3cf710"/>
<path d="M554.2 1666.4h48.8v2.1h-48.8z" fill="#71fa0a"/>
<path d="M554.2 1668.3h48.8v2.1h-48.8z" fill="#73fa0a"/>
<path d="M554.2 1670.2h48.8v2.1h-48.8z" fill="#cafc00"/>
<path d="M554.2 1672h48.8v3.1h-48.8z" fill="#00fa97"/>
<path d="M554.2 1674.9h48.8v2.4h-48.8z" fill="#ffa600"/>
<path d="M554.2 1677.1h48.8v2.4h-48.8z" fill="#ffa500"/>
<path d="M554.2 1685.2h48.8v2.1h-48.8zM554.2 1857.8h48.8v2.6h-48.8zM554.2 1926.5h48.8v2.4h-48.8zM554.2 2105.4h48.8v2.1h-48.8z" fill="#ffdf00"/>
<path d="M554.2 1690.8h48.8v2.1h-48.8z" fill="#f5e900"/>
<path d="M554.2 1696.4h48.8v2.1h-48.8z" fill="#c2ff00"/>
<path d="M554.2 1698.3h48.8v2.6h-48.8zM554.2 2343.6h48.8v2.1h-48.8z" fill="#ff7600"/>
<path d="M554.2 1700.7h48.8v4.5h-48.8zM554.2 1767.7h48.8v2.4h-48.8zM554.2 2327.7h48.8v2.1h-48.8z" fill="#ff7700"/>
<path d="M554.2 1704.9h48.8v3.1h-48.8zM554.2 1834.3h48.8v2.1h-48.8z" fill="#b2fe02"/>
<path d="M554.2 1707.7h48.8v2.6h-48.8zM554.2 2107.2h48.8v2.1h-48.8z" fill="#efeb00"/>
<path d="M554.2 1714.3h48.8v2.1h-48.8zM554.2 1890.1h48.8v2.6h-48.8z" fill="#f2ea00"/>
<path d="M554.2 1716.1h48.8v2.1h-48.8zM554.2 1791.2h48.8v2.1h-48.8zM554.2 2081.9h48.8v2.1h-48.8zM554.2 2323.9h48.8v2.1h-48.8z" fill="#ffe000"/>
<path d="M554.2 1719.9h48.8v2.1h-48.8z" fill="#ff3900"/>
<path d="M554.2 1724.6h48.8v2.1h-48.8z" fill="#69fa0b"/>
<path d="M554.2 1726.4h48.8v2.6h-48.8zM554.2 1949.7h48.8v2.1h-48.8z" fill="#ff8000"/>
<path d="M554.2 1728.8h48.8v2.6h-48.8zM554.2 2011.6h48.8v2.1h-48.8zM554.2 2301.1h48.8v2.2h-48.8z" fill="#ff9500"/>
<path d="M554.2 1731.1h48.8v3.1h-48.8z" fill="#5cf90c"/>
<path d="M554.2 1734h48.8v3.1h-48.8z" fill="#ffad00"/>
<path d="M554.2 1743.3h48.8v2.1h-48.8zM554.2 2042.5h48.8v2.1h-48.8zM554.2 2135.2h48.8v2.3h-48.8zM554.2 2156h48.8v2.1h-48.8z" fill="#ff7900"/>
<path d="M554.2 1757.1h48.8v2.4h-48.8z" fill="#c5fe00"/>
<path d="M554.2 1759.3h48.8v2.1h-48.8zM554.2 1823.1h48.8v2.1h-48.8zM554.2 1873.7h48.8v2.3h-48.8zM554.2 2053.8h48.8v2.1h-48.8zM554.2 2257.9h48.8v2.2h-48.8zM554.2 2305h48.8v2.2h-48.8z" fill="#ff7c00"/>
<path d="M554.2 1763h48.8v2.1h-48.8zM554.2 1826.8h48.8v2.1h-48.8z" fill="#ff7300"/>
<path d="M554.2 1764.9h48.8v3.1h-48.8zM554.2 2247h48.8v1.8h-48.8z" fill="#31f612"/>
<path d="M554.2 1769.8h48.8v2.4h-48.8zM554.2 1809.9h48.8v2.1h-48.8zM554.2 1850.3h48.8v2.1h-48.8zM554.2 1945.9h48.8v2.1h-48.8zM554.2 1959.1h48.8v2.1h-48.8zM554.2 2117.1h48.8v2.3h-48.8zM554.2 2182.4h48.8v2.1h-48.8z" fill="#ff8200"/>
<path d="M554.2 1771.9h48.8v2.4h-48.8z" fill="#ff8300"/>
<path d="M554.2 1774h48.8v2.4h-48.8zM554.2 1879.7h48.8v2.3h-48.8zM554.2 2283.6h48.8v3.1h-48.8zM554.2 2376.4h48.8v2.1h-48.8z" fill="#ff9400"/>
<path d="M554.2 1776.2h48.8v2.1h-48.8z" fill="#01f999"/>
<path d="M554.2 1778h48.8v2.1h-48.8z" fill="#01fa92"/>
<path d="M554.2 1779.9h48.8v2.1h-48.8z" fill="#60f90c"/>
<path d="M554.2 1783.7h48.8v2.1h-48.8zM554.2 1983.4h48.8v2.1h-48.8z" fill="#b0fe02"/>
<path d="M554.2 1785.5h48.8v2.1h-48.8z" fill="#e3f100"/>
<path d="M554.2 1787.4h48.8v2.1h-48.8z" fill="#9efd04"/>
<path d="M554.2 1793h48.8v2.1h-48.8zM554.2 1798.7h48.8v2.1h-48.8z" fill="#ffb700"/>
<path d="M554.2 1794.9h48.8v2.1h-48.8z" fill="#ffcc00"/>
<path d="M554.2 1796.8h48.8v2.1h-48.8z" fill="#ffb100"/>
<path d="M554.2 1802.4h48.8v2.1h-48.8zM554.2 2065h48.8v2.1h-48.8z" fill="#ffb600"/>
<path d="M554.2 1813.7h48.8v2.1h-48.8zM554.2 1840.9h48.8v2.1h-48.8zM554.2 1894.8h48.8v2.6h-48.8zM554.2 1987.2h48.8v2.1h-48.8zM554.2 2127.2h48.8v2.3h-48.8z" fill="#ff7400"/>
<path d="M554.2 1815.6h48.8v2.1h-48.8z" fill="#02f8a2"/>
<path d="M554.2 1817.4h48.8v2.1h-48.8z" fill="#02f8a1"/>
<path d="M554.2 1819.3h48.8v2.1h-48.8zM554.2 1990.9h48.8v2.1h-48.8zM554.2 2036.9h48.8v2.1h-48.8z" fill="#ff6b00"/>
<path d="M554.2 1828.7h48.8v2.1h-48.8zM554.2 2339.9h48.8v2.1h-48.8z" fill="#ff7e00"/>
<path d="M554.2 1830.6h48.8v2.1h-48.8zM554.2 1846.5h48.8v2.1h-48.8zM554.2 1892.5h48.8v2.6h-48.8zM554.2 1904.3h48.8v2.2h-48.8zM554.2 1912.1h48.8v2.2h-48.8zM554.2 1932.8h48.8v2.1h-48.8zM554.2 2152.3h48.8v2.1h-48.8zM554.2 2177h48.8v2.1h-48.8zM554.2 2306.9h48.8v2.2h-48.8zM554.2 2325.8h48.8v2.1h-48.8zM554.2 2345.5h48.8v2.1h-48.8zM554.2 2378.3h48.8v2.1h-48.8z" fill="#ff8a00"/>
<path d="M554.2 1832.4h48.8v2.1h-48.8zM554.2 2244.2h48.8v3.1h-48.8z" fill="#d0f900"/>
<path d="M554.2 1839h48.8v2.1h-48.8zM554.2 2331.4h48.8v2.1h-48.8z" fill="#ff8500"/>
<path d="M554.2 1842.8h48.8v2.1h-48.8zM554.2 1910.1h48.8v2.2h-48.8zM554.2 2145.7h48.8v3.1h-48.8zM554.2 2256h48.8v2.2h-48.8zM554.2 2290.1h48.8v2.1h-48.8zM554.2 2329.5h48.8v2.1h-48.8zM554.2 2333.3h48.8v2.1h-48.8zM554.2 2368.9h48.8v2.1h-48.8z" fill="#ff7b00"/>
<path d="M554.2 1844.6h48.8v2.1h-48.8zM554.2 2046.3h48.8v2.1h-48.8zM554.2 2150.4h48.8v2.1h-48.8z" fill="#ff9300"/>
<path d="M554.2 1852.1h48.8v2.1h-48.8zM554.2 1908.2h48.8v2.2h-48.8zM554.2 1973.1h48.8v2.1h-48.8zM554.2 2111h48.8v2.1h-48.8zM554.2 2148.5h48.8v2.1h-48.8zM554.2 2341.7h48.8v2.1h-48.8z" fill="#ff8700"/>
<path d="M554.2 1854h48.8v2.1h-48.8z" fill="#b8fe01"/>
<path d="M554.2 1862.4h48.8v2.1h-48.8z" fill="#9cfd05"/>
<path d="M554.2 1866.2h48.8v2.1h-48.8zM554.2 2016.3h48.8v2.1h-48.8zM554.2 2038.8h48.8v2.1h-48.8z" fill="#ff9d00"/>
<path d="M554.2 1870.9h48.8v3.1h-48.8z" fill="#fbe600"/>
<path d="M554.2 1875.7h48.8v2.3h-48.8zM554.2 2044.4h48.8v2.1h-48.8z" fill="#ff8b00"/>
<path d="M554.2 1877.7h48.8v2.3h-48.8zM554.2 2048.2h48.8v2.1h-48.8zM554.2 2359.6h48.8v2.1h-48.8z" fill="#ff7f00"/>
<path d="M554.2 1885.8h48.8v2.3h-48.8zM554.2 2370.8h48.8v2.1h-48.8z" fill="#ff9a00"/>
<path d="M554.2 1887.8h48.8v2.6h-48.8z" fill="#fce500"/>
<path d="M554.2 1897.2h48.8v3.1h-48.8z" fill="#adfe03"/>
<path d="M554.2 1914h48.8v3.1h-48.8z" fill="#7efb08"/>
<path d="M554.2 1916.8h48.8v2.1h-48.8zM554.2 2137.3h48.8v2.6h-48.8z" fill="#ffc800"/>
<path d="M554.2 1920.6h48.8v2.1h-48.8z" fill="#ffbf00"/>
<path d="M554.2 1922.5h48.8v2.1h-48.8z" fill="#ffbb00"/>
<path d="M554.2 1928.7h48.8v2.4h-48.8zM554.2 1951.6h48.8v3.1h-48.8zM554.2 2101.6h48.8v2.1h-48.8z" fill="#ffd900"/>
<path d="M554.2 1930.9h48.8v2.1h-48.8zM554.2 2184.2h48.8v2.1h-48.8z" fill="#ff8f00"/>
<path d="M554.2 1938.4h48.8v2.1h-48.8z" fill="#d8f600"/>
<path d="M554.2 1940.3h48.8v2.1h-48.8z" fill="#ddf300"/>
<path d="M554.2 1942.2h48.8v2.1h-48.8z" fill="#94fc06"/>
<path d="M554.2 1944h48.8v2.1h-48.8zM554.2 2070.7h48.8v2.1h-48.8zM554.2 2259.9h48.8v2.2h-48.8zM554.2 2278.9h48.8v2.6h-48.8z" fill="#ff9800"/>
<path d="M554.2 1960.9h48.8v2.1h-48.8zM554.2 1989.1h48.8v2.1h-48.8zM554.2 2286.4h48.8v2.1h-48.8zM554.2 2365.2h48.8v2.1h-48.8z" fill="#ff9200"/>
<path d="M554.2 1964.7h48.8v2.1h-48.8zM554.2 2003.1h48.8v2.1h-48.8z" fill="#ff6f00"/>
<path d="M554.2 1966.6h48.8v2.6h-48.8zM554.2 2215.7h48.8v2.3h-48.8z" fill="#ffca00"/>
<path d="M554.2 1971.2h48.8v2.1h-48.8zM554.2 1996.6h48.8v2.6h-48.8zM554.2 2063.2h48.8v2.1h-48.8zM554.2 2129.2h48.8v2.3h-48.8z" fill="#ff9b00"/>
<path d="M554.2 1975h48.8v2.5h-48.8z" fill="#7afb09"/>
<path d="M554.2 1977.3h48.8v2.7h-48.8zM554.2 2001.3h48.8v2.1h-48.8zM554.2 2372.7h48.8v2.1h-48.8z" fill="#ff7100"/>
<path d="M554.2 1979.7h48.8v2.1h-48.8z" fill="#e2f100"/>
<path d="M554.2 1981.6h48.8v2.1h-48.8z" fill="#e8ee00"/>
<path d="M554.2 2006.9h48.8v2.1h-48.8zM554.2 2273.3h48.8v2.1h-48.8z" fill="#ff5800"/>
<path d="M554.2 2008.8h48.8v3.1h-48.8z" fill="#cff900"/>
<path d="M554.2 2013.5h48.8v3.1h-48.8z" fill="#dcf400"/>
<path d="M554.2 2021h48.8v2.2h-48.8z" fill="#ff4d00"/>
<path d="M554.2 2023h48.8v2.2h-48.8z" fill="#ff4700"/>
<path d="M554.2 2024.9h48.8v2.2h-48.8z" fill="#ff4e00"/>
<path d="M554.2 2026.9h48.8v2.2h-48.8zM554.2 2269.5h48.8v2.1h-48.8z" fill="#ff5e00"/>
<path d="M554.2 2028.9h48.8v2.2h-48.8zM554.2 2087.6h48.8v2.4h-48.8z" fill="#ff5b00"/>
<path d="M554.2 2030.9h48.8v2.2h-48.8zM554.2 2077.5h48.8v2.4h-48.8z" fill="#ff6400"/>
<path d="M554.2 2032.9h48.8v2.2h-48.8z" fill="#ff4b00"/>
<path d="M554.2 2034.9h48.8v2.2h-48.8zM554.2 2162.2h48.8v2.3h-48.8zM554.2 2170.6h48.8v2.3h-48.8z" fill="#ff4500"/>
<path d="M554.2 2057.5h48.8v2.1h-48.8zM554.2 2292h48.8v1.9h-48.8z" fill="#1af627"/>
<path d="M554.2 2061.3h48.8v2.1h-48.8z" fill="#ffc500"/>
<path d="M554.2 2068.8h48.8v2.1h-48.8z" fill="#ff9f00"/>
<path d="M554.2 2075.4h48.8v2.4h-48.8z" fill="#ff5000"/>
<path d="M554.2 2083.8h48.8v2.1h-48.8z" fill="#ffde00"/>
<path d="M554.2 2089.7h48.8v2.4h-48.8zM554.2 2265.7h48.8v2.2h-48.8zM554.2 2361.4h48.8v2.1h-48.8z" fill="#ff6e00"/>
<path d="M554.2 2091.8h48.8v2.4h-48.8zM554.2 2168.5h48.8v2.3h-48.8zM554.2 2238.2h48.8v2.2h-48.8z" fill="#ff6600"/>
<path d="M554.2 2093.9h48.8v2.4h-48.8zM554.2 2172.7h48.8v2.3h-48.8zM554.2 2230.2h48.8v2.2h-48.8z" fill="#ff6100"/>
<path d="M554.2 2099.7h48.8v2.1h-48.8z" fill="#ffdc00"/>
<path d="M554.2 2109.1h48.8v2.1h-48.8z" fill="#ffd600"/>
<path d="M554.2 2112.9h48.8v2.5h-48.8zM554.2 2347.4h48.8v3.1h-48.8z" fill="#03fa8a"/>
<path d="M554.2 2119.2h48.8v2.3h-48.8zM554.2 2123.2h48.8v2.3h-48.8zM554.2 2250.6h48.8v2.3h-48.8z" fill="#ff8800"/>
<path d="M554.2 2121.2h48.8v2.3h-48.8zM554.2 2143.8h48.8v2.1h-48.8z" fill="#ff8400"/>
<path d="M554.2 2139.6h48.8v2.6h-48.8z" fill="#ffbe00"/>
<path d="M554.2 2142h48.8v2.1h-48.8zM554.2 2207.6h48.8v2.3h-48.8zM554.2 2297.3h48.8v2.2h-48.8zM554.2 2352h48.8v2.1h-48.8z" fill="#ff9700"/>
<path d="M554.2 2160.1h48.8v2.3h-48.8z" fill="#ff5f00"/>
<path d="M554.2 2164.3h48.8v2.3h-48.8z" fill="#ff4100"/>
<path d="M554.2 2166.4h48.8v2.3h-48.8zM554.2 2240.2h48.8v2.2h-48.8zM554.2 2271.4h48.8v2.1h-48.8z" fill="#ff5c00"/>
<path d="M554.2 2186h48.8v3.1h-48.8z" fill="#0cf862"/>
<path d="M554.2 2190.9h48.8v2.3h-48.8z" fill="#ffab00"/>
<path d="M554.2 2194.9h48.8v2.3h-48.8z" fill="#ffa900"/>
<path d="M554.2 2196.9h48.8v2.3h-48.8z" fill="#ffbd00"/>
<path d="M554.2 2202.9h48.8v2.1h-48.8z" fill="#ff5200"/>
<path d="M554.2 2204.8h48.8v3.1h-48.8z" fill="#ffd000"/>
<path d="M554.2 2219.8h48.8v2.4h-48.8z" fill="#def300"/>
<path d="M554.2 2221.9h48.8v2.4h-48.8z" fill="#ffe400"/>
<path d="M554.2 2226.1h48.8v2.4h-48.8z" fill="#ffdb00"/>
<path d="M554.2 2228.2h48.8v2.2h-48.8z" fill="#ff4900"/>
<path d="M554.2 2232.2h48.8v2.2h-48.8z" fill="#ff5100"/>
<path d="M554.2 2234.2h48.8v4.2h-48.8z" fill="#ff4400"/>
<path d="M554.2 2254.3h48.8v1.9h-48.8z" fill="#f1ea00"/>
<path d="M554.2 2261.8h48.8v2.2h-48.8zM554.2 2299.2h48.8v2.2h-48.8z" fill="#ff7200"/>
<path d="M554.2 2275.1h48.8v2.1h-48.8z" fill="#ff6300"/>
<path d="M554.2 2277h48.8v2.1h-48.8z" fill="#ff6500"/>
<path d="M554.2 2281.2h48.8v2.6h-48.8z" fill="#ff7000"/>
<path d="M554.2 2293.7h48.8v1.9h-48.8z" fill="#28f613"/>
<path d="M554.2 2316.4h48.8v2.1h-48.8z" fill="#f7e800"/>
<path d="M554.2 2318.3h48.8v2.1h-48.8z" fill="#fae600"/>
<path d="M554.2 2322h48.8v2.1h-48.8z" fill="#eeec00"/>
<path d="M554.2 2357.7h48.8v2.1h-48.8z" fill="#bbff01"/>
<path d="M602.8 1295.7h49v1.4h-49zM602.8 1302.5h49v3.1h-49zM602.8 1324.1h49v3.1h-49zM602.8 1338.1h49v3.1h-49zM602.8 1344.7h49v3.1h-49zM602.8 1362.5h49v3.1h-49zM602.8 1371h49v3.1h-49zM602.8 1389.7h49v4h-49zM602.8 1400h49v3.1h-49zM602.8 1475.1h49v4.9h-49zM602.8 1495.7h49v4h-49zM602.8 1636.4h49v3.1h-49zM602.8 1641.1h49v4.9h-49zM602.8 1681.4h49v4h-49zM602.8 1740.5h49v3.1h-49z" fill="#ffffff"/>
<path d="M602.8 1296.9h49v2.1h-49z" fill="#02f89f"/>
<path d="M602.8 1298.8h49v2.1h-49z" fill="#02fa8d"/>
<path d="M602.8 1300.6h49v2.1h-49z" fill="#03fa8a"/>
<path d="M602.8 1305.3h49v3.1h-49zM602.8 2292h49v1.9h-49z" fill="#148cf5"/>
<path d="M602.8 1308.1h49v2.6h-49zM602.8 1316.6h49v2.1h-49zM602.8 1536h49v2.1h-49z" fill="#14dffe"/>
<path d="M602.8 1310.5h49v2.6h-49z" fill="#14e6fe"/>
<path d="M602.8 1312.8h49v2.1h-49z" fill="#2437ec"/>
<path d="M602.8 1314.7h49v2.1h-49z" fill="#14e6ff"/>
<path d="M602.8 1318.4h49v2.1h-49z" fill="#c4ff00"/>
<path d="M602.8 1320.3h49v2.1h-49z" fill="#ddf300"/>
<path d="M602.8 1322.2h49v2.1h-49z" fill="#9ffd04"/>
<path d="M602.8 1326.9h49v2.6h-49zM602.8 1613h49v2.1h-49zM602.8 1887.8h49v2.6h-49z" fill="#b1fe02"/>
<path d="M602.8 1329.2h49v2.6h-49zM602.8 1791.2h49v2.1h-49zM602.8 2013.5h49v3.1h-49z" fill="#cafc00"/>
<path d="M602.8 1331.6h49v2.4h-49z" fill="#16f638"/>
<path d="M602.8 1333.8h49v2.4h-49zM602.8 1472.3h49v3.1h-49z" fill="#1ff514"/>
<path d="M602.8 1336h49v2.4h-49z" fill="#10f753"/>
<path d="M602.8 1341h49v2.1h-49z" fill="#c5fe00"/>
<path d="M602.8 1342.8h49v2.1h-49z" fill="#91fc06"/>
<path d="M602.8 1347.5h49v3.1h-49z" fill="#26f613"/>
<path d="M602.8 1350.3h49v2.4h-49zM602.8 1611.1h49v2.1h-49z" fill="#1494f6"/>
<path d="M602.8 1352.5h49v2.4h-49zM602.8 1817.4h49v2.1h-49z" fill="#148df5"/>
<path d="M602.8 1354.7h49v2.4h-49zM602.8 1547.3h49v2.1h-49zM602.8 1776.2h49v2.1h-49zM602.8 1815.6h49v2.1h-49z" fill="#1493f6"/>
<path d="M602.8 1356.9h49v2.1h-49zM602.8 1440.4h49v3.1h-49z" fill="#1af623"/>
<path d="M602.8 1358.8h49v2.1h-49z" fill="#18f630"/>
<path d="M602.8 1360.7h49v2.1h-49z" fill="#943cfa"/>
<path d="M602.8 1365.3h49v2.1h-49zM602.8 1416.9h49v4h-49zM602.8 1459.1h49v3.1h-49z" fill="#fa46fa"/>
<path d="M602.8 1367.2h49v2.1h-49zM602.8 1529.5h49v2.4h-49zM602.8 1897.2h49v3.1h-49z" fill="#1ef515"/>
<path d="M602.8 1369.1h49v2.1h-49z" fill="#61f90c"/>
<path d="M602.8 1373.8h49v2.6h-49zM602.8 1850.3h49v2.1h-49zM602.8 1918.7h49v2.1h-49zM602.8 2127.2h49v2.3h-49zM602.8 2277h49v2.1h-49z" fill="#ff9b00"/>
<path d="M602.8 1376.1h49v2.6h-49zM602.8 1431h49v2.1h-49zM602.8 1852.1h49v2.1h-49zM602.8 1908.2h49v2.2h-49zM602.8 2217.8h49v2.3h-49z" fill="#ffc300"/>
<path d="M602.8 1378.5h49v2.4h-49zM602.8 1582h49v3.1h-49z" fill="#00fa95"/>
<path d="M602.8 1380.7h49v2.4h-49z" fill="#02fa8f"/>
<path d="M602.8 1382.9h49v2.4h-49z" fill="#02fa8b"/>
<path d="M602.8 1385h49v2.6h-49zM602.8 1655.2h49v2.1h-49z" fill="#b6fe02"/>
<path d="M602.8 1387.4h49v2.6h-49z" fill="#90fc06"/>
<path d="M602.8 1393.5h49v2.4h-49zM602.8 1533.9h49v2.4h-49z" fill="#58f90d"/>
<path d="M602.8 1395.7h49v2.4h-49z" fill="#cff900"/>
<path d="M602.8 1397.9h49v2.4h-49z" fill="#def300"/>
<path d="M602.8 1402.9h49v3.1h-49zM602.8 2247h49v1.8h-49z" fill="#13e7f7"/>
<path d="M602.8 1405.7h49v2.1h-49z" fill="#2bf612"/>
<path d="M602.8 1407.6h49v2.1h-49z" fill="#11f74a"/>
<path d="M602.8 1409.4h49v2.1h-49z" fill="#1d37ec"/>
<path d="M602.8 1411.3h49v2.1h-49z" fill="#2137ec"/>
<path d="M602.8 1413.2h49v2.1h-49z" fill="#e3f100"/>
<path d="M602.8 1415.1h49v2.1h-49zM602.8 1761.2h49v2.1h-49zM602.8 2099.7h49v2.1h-49zM602.8 2204.8h49v3.1h-49z" fill="#ffcf00"/>
<path d="M602.8 1420.7h49v2.1h-49zM602.8 1432.9h49v3.1h-49z" fill="#14e0fe"/>
<path d="M602.8 1422.6h49v2.1h-49z" fill="#14e6fd"/>
<path d="M602.8 1424.4h49v2.4h-49zM602.8 1594.2h49v2.1h-49z" fill="#14e5ff"/>
<path d="M602.8 1426.6h49v2.4h-49z" fill="#14e1fe"/>
<path d="M602.8 1428.8h49v2.4h-49z" fill="#14ddfe"/>
<path d="M602.8 1435.7h49v2.6h-49z" fill="#d7f600"/>
<path d="M602.8 1438h49v2.6h-49z" fill="#abfe03"/>
<path d="M602.8 1443.2h49v2.1h-49zM602.8 1470.4h49v2.1h-49z" fill="#b8fe01"/>
<path d="M602.8 1445.1h49v2.1h-49z" fill="#8efc06"/>
<path d="M602.8 1446.9h49v2.1h-49z" fill="#74fa0a"/>
<path d="M602.8 1448.8h49v2.1h-49z" fill="#cbfb00"/>
<path d="M602.8 1450.7h49v2.1h-49zM602.8 1616.7h49v2.1h-49z" fill="#daf500"/>
<path d="M602.8 1452.6h49v2.1h-49z" fill="#62f90c"/>
<path d="M602.8 1454.4h49v3.1h-49z" fill="#1937eb"/>
<path d="M602.8 1457.3h49v2.1h-49zM602.8 1543.6h49v2.1h-49zM602.8 1912.1h49v2.2h-49zM602.8 2295.4h49v2.2h-49zM602.8 2303.1h49v2.2h-49zM602.8 2329.5h49v2.1h-49z" fill="#ffb700"/>
<path d="M602.8 1462h49v2.6h-49zM602.8 1763h49v2.1h-49zM602.8 1949.7h49v2.1h-49z" fill="#ffa700"/>
<path d="M602.8 1464.3h49v2.6h-49zM602.8 1584.8h49v2.1h-49zM602.8 1590.4h49v2.1h-49zM602.8 1821.2h49v2.1h-49zM602.8 2030.9h49v2.2h-49z" fill="#ffcd00"/>
<path d="M602.8 1466.6h49v2.1h-49zM602.8 1966.6h49v2.6h-49z" fill="#d5f700"/>
<path d="M602.8 1468.5h49v2.1h-49zM602.8 2194.9h49v2.3h-49z" fill="#d0f900"/>
<path d="M602.8 1479.8h49v2.1h-49zM602.8 1862.4h49v2.1h-49z" fill="#00fa98"/>
<path d="M602.8 1481.6h49v2.1h-49z" fill="#03f989"/>
<path d="M602.8 1483.5h49v2.3h-49z" fill="#ffe300"/>
<path d="M602.8 1485.6h49v2.3h-49zM602.8 1796.8h49v2.1h-49z" fill="#f4e900"/>
<path d="M602.8 1487.6h49v2.3h-49zM602.8 1802.4h49v2.1h-49zM602.8 1998.9h49v2.6h-49zM602.8 2042.5h49v2.1h-49zM602.8 2286.4h49v2.1h-49z" fill="#fbe600"/>
<path d="M602.8 1489.6h49v2.3h-49zM602.8 1509.8h49v2.1h-49zM602.8 2081.9h49v2.1h-49z" fill="#ffe400"/>
<path d="M602.8 1491.7h49v2.3h-49zM602.8 1951.6h49v3.1h-49z" fill="#ffd900"/>
<path d="M602.8 1493.7h49v2.3h-49zM602.8 2101.6h49v2.1h-49z" fill="#ffcc00"/>
<path d="M602.8 1499.5h49v2.4h-49zM602.8 1634.2h49v2.4h-49zM602.8 2024.9h49v2.2h-49z" fill="#ffae00"/>
<path d="M602.8 1501.6h49v2.4h-49zM602.8 1710h49v2.6h-49zM602.8 2301.1h49v2.2h-49z" fill="#ffba00"/>
<path d="M602.8 1503.7h49v2.4h-49zM602.8 1906.2h49v2.2h-49zM602.8 2032.9h49v2.2h-49zM602.8 2359.6h49v2.1h-49z" fill="#ffa900"/>
<path d="M602.8 1505.8h49v2.4h-49zM602.8 1864.3h49v2.1h-49z" fill="#ff9f00"/>
<path d="M602.8 1507.9h49v2.1h-49zM602.8 1511.7h49v2.1h-49z" fill="#f7e800"/>
<path d="M602.8 1513.5h49v3.1h-49z" fill="#a13dfa"/>
<path d="M602.8 1516.4h49v2.4h-49zM602.8 1826.8h49v2.1h-49zM602.8 2207.6h49v2.3h-49zM602.8 2230.2h49v2.2h-49zM602.8 2299.2h49v2.2h-49z" fill="#ffa000"/>
<path d="M602.8 1518.5h49v2.4h-49zM602.8 2215.7h49v2.3h-49z" fill="#ffc500"/>
<path d="M602.8 1520.7h49v2.4h-49z" fill="#ffb500"/>
<path d="M602.8 1522.9h49v3.1h-49z" fill="#02f8a1"/>
<path d="M602.8 1525.7h49v2.1h-49z" fill="#dff200"/>
<path d="M602.8 1527.6h49v2.1h-49z" fill="#d2f800"/>
<path d="M602.8 1531.7h49v2.4h-49z" fill="#3ef710"/>
<path d="M602.8 1537.9h49v2.1h-49z" fill="#14dcfe"/>
<path d="M602.8 1539.8h49v2.1h-49zM602.8 1779.9h49v2.1h-49zM602.8 1794.9h49v2.1h-49z" fill="#e6ef00"/>
<path d="M602.8 1541.7h49v2.1h-49zM602.8 2070.7h49v2.1h-49z" fill="#ffda00"/>
<path d="M602.8 1545.4h49v2.1h-49zM602.8 1759.3h49v2.1h-49zM602.8 1885.8h49v2.3h-49zM602.8 2121.2h49v2.3h-49zM602.8 2211.7h49v2.3h-49z" fill="#ffb800"/>
<path d="M602.8 1549.2h49v2.1h-49z" fill="#148bf5"/>
<path d="M602.8 1551.1h49v2.1h-49z" fill="#1495f6"/>
<path d="M602.8 1552.9h49v2.1h-49zM602.8 2137.3h49v2.6h-49z" fill="#efeb00"/>
<path d="M602.8 1554.8h49v2.1h-49zM602.8 2139.6h49v2.6h-49z" fill="#f8e700"/>
<path d="M602.8 1556.7h49v2.1h-49zM602.8 1936.5h49v2.1h-49z" fill="#ffd700"/>
<path d="M602.8 1558.6h49v2.1h-49z" fill="#14e4ff"/>
<path d="M602.8 1560.4h49v2.1h-49zM602.8 2347.4h49v3.1h-49z" fill="#13e7fb"/>
<path d="M602.8 1562.3h49v2.6h-49z" fill="#1939eb"/>
<path d="M602.8 1564.7h49v2.6h-49z" fill="#193fec"/>
<path d="M602.8 1567h49v3.1h-49zM602.8 2353.9h49v2.1h-49z" fill="#ff9700"/>
<path d="M602.8 1569.8h49v2.1h-49z" fill="#1cf51b"/>
<path d="M602.8 1571.7h49v2.1h-49z" fill="#39f711"/>
<path d="M602.8 1573.6h49v2.1h-49z" fill="#1df519"/>
<path d="M602.8 1575.4h49v2.1h-49z" fill="#ff7700"/>
<path d="M602.8 1577.3h49v3.1h-49z" fill="#1c37eb"/>
<path d="M602.8 1580.1h49v2.1h-49zM602.8 1989.1h49v2.1h-49zM602.8 2016.3h49v2.1h-49zM602.8 2275.1h49v2.1h-49z" fill="#ff9300"/>
<path d="M602.8 1586.7h49v2.1h-49zM602.8 2026.9h49v2.2h-49z" fill="#ffc800"/>
<path d="M602.8 1588.6h49v2.1h-49zM602.8 1781.8h49v2.1h-49zM602.8 2318.3h49v2.1h-49z" fill="#f6e800"/>
<path d="M602.8 1592.3h49v2.1h-49zM602.8 2320.2h49v2.1h-49z" fill="#ffd600"/>
<path d="M602.8 1596.1h49v2.1h-49z" fill="#14defe"/>
<path d="M602.8 1598h49v2.1h-49z" fill="#ff5a00"/>
<path d="M602.8 1599.8h49v2.1h-49z" fill="#ff4400"/>
<path d="M602.8 1601.7h49v2.1h-49zM602.8 2267.6h49v2.2h-49z" fill="#ff6a00"/>
<path d="M602.8 1603.6h49v2.1h-49z" fill="#ff5100"/>
<path d="M602.8 1605.5h49v2.1h-49z" fill="#18f62c"/>
<path d="M602.8 1607.3h49v2.1h-49z" fill="#1bf621"/>
<path d="M602.8 1609.2h49v2.1h-49z" fill="#1489f5"/>
<path d="M602.8 1614.8h49v2.1h-49z" fill="#b4fe02"/>
<path d="M602.8 1618.6h49v2.4h-49zM602.8 2063.2h49v2.1h-49z" fill="#ffde00"/>
<path d="M602.8 1620.7h49v2.4h-49zM602.8 1793h49v2.1h-49z" fill="#e5f000"/>
<path d="M602.8 1622.8h49v2.4h-49z" fill="#f1ea00"/>
<path d="M602.8 1624.9h49v2.4h-49zM602.8 1857.8h49v2.6h-49zM602.8 1938.4h49v2.1h-49zM602.8 2312.6h49v2.2h-49z" fill="#ffd000"/>
<path d="M602.8 1627h49v3.1h-49z" fill="#f746fa"/>
<path d="M602.8 1629.8h49v2.4h-49z" fill="#ffbf00"/>
<path d="M602.8 1632h49v2.4h-49zM602.8 1836.2h49v3.1h-49zM602.8 2341.7h49v2.1h-49zM602.8 2345.5h49v2.1h-49z" fill="#ff9900"/>
<path d="M602.8 1639.2h49v2.1h-49z" fill="#8bfc07"/>
<path d="M602.8 1645.8h49v2.1h-49z" fill="#13f744"/>
<path d="M602.8 1647.7h49v2.1h-49z" fill="#7ffb08"/>
<path d="M602.8 1649.5h49v2.1h-49z" fill="#d8f600"/>
<path d="M602.8 1651.4h49v2.1h-49z" fill="#cffa00"/>
<path d="M602.8 1653.3h49v2.1h-49zM602.8 1666.4h49v2.1h-49z" fill="#93fc06"/>
<path d="M602.8 1657h49v2.1h-49z" fill="#c6fe00"/>
<path d="M602.8 1658.9h49v2.1h-49zM602.8 1692.7h49v2.1h-49z" fill="#99fc05"/>
<path d="M602.8 1660.8h49v2.1h-49zM602.8 1975h49v2.5h-49z" fill="#17f633"/>
<path d="M602.8 1662.7h49v2.1h-49z" fill="#64f90b"/>
<path d="M602.8 1664.5h49v2.1h-49z" fill="#18f62d"/>
<path d="M602.8 1668.3h49v2.1h-49z" fill="#a2fd04"/>
<path d="M602.8 1670.2h49v2.1h-49zM602.8 1679.2h49v2.4h-49z" fill="#ccfb00"/>
<path d="M602.8 1672h49v3.1h-49zM602.8 1854h49v2.1h-49z" fill="#00fa96"/>
<path d="M602.8 1674.9h49v2.4h-49zM602.8 2008.8h49v3.1h-49z" fill="#cdfa00"/>
<path d="M602.8 1677.1h49v2.4h-49z" fill="#dff300"/>
<path d="M602.8 1685.2h49v2.1h-49zM602.8 1942.2h49v2.1h-49zM602.8 2096h49v2.1h-49zM602.8 2107.2h49v2.1h-49z" fill="#e0f200"/>
<path d="M602.8 1687.1h49v2.1h-49z" fill="#a1fd04"/>
<path d="M602.8 1688.9h49v2.1h-49z" fill="#70fa0a"/>
<path d="M602.8 1690.8h49v2.1h-49z" fill="#9efd04"/>
<path d="M602.8 1694.6h49v2.1h-49zM602.8 2072.5h49v3.1h-49z" fill="#b9fe01"/>
<path d="M602.8 1696.4h49v2.1h-49z" fill="#a8fd03"/>
<path d="M602.8 1698.3h49v2.6h-49zM602.8 1767.7h49v2.4h-49z" fill="#ff8000"/>
<path d="M602.8 1700.7h49v2.6h-49zM602.8 1769.8h49v2.4h-49z" fill="#ff8500"/>
<path d="M602.8 1703h49v2.1h-49zM602.8 2075.4h49v2.4h-49zM602.8 2232.2h49v2.2h-49zM602.8 2263.7h49v2.2h-49zM602.8 2378.3h49v2.1h-49z" fill="#ff7b00"/>
<path d="M602.8 1704.9h49v3.1h-49z" fill="#03fa89"/>
<path d="M602.8 1707.7h49v2.6h-49zM602.8 1828.7h49v2.1h-49zM602.8 2135.2h49v2.3h-49zM602.8 2308.8h49v2.2h-49zM602.8 2335.2h49v3.1h-49z" fill="#ffb200"/>
<path d="M602.8 1712.4h49v2.1h-49z" fill="#cefa00"/>
<path d="M602.8 1714.3h49v2.1h-49z" fill="#95fc06"/>
<path d="M602.8 1716.1h49v2.1h-49zM602.8 1883.8h49v2.3h-49zM602.8 1922.5h49v2.1h-49zM602.8 2152.3h49v2.1h-49z" fill="#ffb400"/>
<path d="M602.8 1718h49v2.1h-49zM602.8 1839h49v2.1h-49zM602.8 1844.6h49v2.1h-49zM602.8 1873.7h49v2.3h-49zM602.8 2333.3h49v2.1h-49z" fill="#ffb100"/>
<path d="M602.8 1719.9h49v2.1h-49z" fill="#ff3700"/>
<path d="M602.8 1721.8h49v3.1h-49zM602.8 1731.1h49v3.1h-49zM602.8 2293.7h49v1.9h-49z" fill="#148ff5"/>
<path d="M602.8 1724.6h49v2.1h-49z" fill="#11f74d"/>
<path d="M602.8 1726.4h49v2.6h-49zM602.8 1977.3h49v2.7h-49z" fill="#ff7300"/>
<path d="M602.8 1728.8h49v2.6h-49zM602.8 2111h49v2.1h-49z" fill="#ff8900"/>
<path d="M602.8 1734h49v3.1h-49zM602.8 2105.4h49v2.1h-49z" fill="#ffdd00"/>
<path d="M602.8 1736.8h49v2.1h-49z" fill="#40f710"/>
<path d="M602.8 1738.6h49v2.1h-49z" fill="#11f74e"/>
<path d="M602.8 1743.3h49v2.1h-49z" fill="#53f80e"/>
<path d="M602.8 1745.2h49v2.1h-49zM602.8 1928.7h49v2.4h-49z" fill="#ffcb00"/>
<path d="M602.8 1747.1h49v2.1h-49zM602.8 1916.8h49v2.1h-49zM602.8 1920.6h49v2.1h-49zM602.8 2129.2h49v2.3h-49z" fill="#ffc700"/>
<path d="M602.8 1749h49v2.1h-49z" fill="#eced00"/>
<path d="M602.8 1750.8h49v2.1h-49z" fill="#e1f100"/>
<path d="M602.8 1752.7h49v2.4h-49z" fill="#e7ef00"/>
<path d="M602.8 1754.9h49v2.4h-49z" fill="#ecec00"/>
<path d="M602.8 1757.1h49v2.4h-49zM602.8 2040.7h49v2.1h-49zM602.8 2068.8h49v2.1h-49z" fill="#ffce00"/>
<path d="M602.8 1764.9h49v3.1h-49z" fill="#13e7fc"/>
<path d="M602.8 1771.9h49v2.4h-49zM602.8 2256h49v2.2h-49zM602.8 2343.6h49v2.1h-49z" fill="#ff8600"/>
<path d="M602.8 1774h49v2.4h-49zM602.8 1842.8h49v2.1h-49zM602.8 1932.8h49v2.1h-49z" fill="#ff9d00"/>
<path d="M602.8 1778h49v2.1h-49z" fill="#1491f6"/>
<path d="M602.8 1783.7h49v2.1h-49z" fill="#f5e800"/>
<path d="M602.8 1785.5h49v2.1h-49zM602.8 1981.6h49v2.1h-49z" fill="#d9f500"/>
<path d="M602.8 1787.4h49v2.1h-49z" fill="#bfff00"/>
<path d="M602.8 1789.3h49v2.1h-49z" fill="#b3fe02"/>
<path d="M602.8 1798.7h49v2.1h-49zM602.8 2036.9h49v2.1h-49zM602.8 2085.7h49v2.1h-49zM602.8 2290.1h49v2.1h-49z" fill="#ffd800"/>
<path d="M602.8 1800.5h49v2.1h-49zM602.8 2065h49v2.1h-49z" fill="#f2ea00"/>
<path d="M602.8 1804.3h49v2.1h-49zM602.8 1808h49v2.1h-49z" fill="#c1ff00"/>
<path d="M602.8 1806.2h49v2.1h-49z" fill="#b7fe01"/>
<path d="M602.8 1809.9h49v2.1h-49zM602.8 2269.5h49v2.1h-49z" fill="#ff8b00"/>
<path d="M602.8 1811.8h49v2.1h-49zM602.8 2051.9h49v2.1h-49z" fill="#ff8e00"/>
<path d="M602.8 1813.7h49v2.1h-49zM602.8 1973.1h49v2.1h-49zM602.8 1990.9h49v2.1h-49zM602.8 2273.3h49v2.1h-49z" fill="#ff7900"/>
<path d="M602.8 1819.3h49v2.1h-49z" fill="#ffa200"/>
<path d="M602.8 1823.1h49v2.1h-49z" fill="#ffa800"/>
<path d="M602.8 1824.9h49v2.1h-49zM602.8 2119.2h49v2.3h-49z" fill="#ffb900"/>
<path d="M602.8 1830.6h49v2.1h-49zM602.8 2115.1h49v2.3h-49z" fill="#ffc100"/>
<path d="M602.8 1832.4h49v2.1h-49z" fill="#01fa93"/>
<path d="M602.8 1834.3h49v2.1h-49z" fill="#01f99b"/>
<path d="M602.8 1840.9h49v2.1h-49zM602.8 1904.3h49v2.2h-49zM602.8 2281.2h49v2.6h-49zM602.8 2305h49v2.2h-49zM602.8 2361.4h49v2.1h-49z" fill="#ffa400"/>
<path d="M602.8 1846.5h49v2.1h-49zM602.8 2125.2h49v2.3h-49zM602.8 2365.2h49v2.1h-49z" fill="#ffc600"/>
<path d="M602.8 1848.4h49v2.1h-49zM602.8 2278.9h49v2.6h-49z" fill="#ffbe00"/>
<path d="M602.8 1855.9h49v2.1h-49z" fill="#02f8a0"/>
<path d="M602.8 1860.1h49v2.6h-49z" fill="#ffe200"/>
<path d="M602.8 1866.2h49v2.1h-49zM602.8 2034.9h49v2.2h-49z" fill="#ff9c00"/>
<path d="M602.8 1868.1h49v3.1h-49z" fill="#ef45fa"/>
<path d="M602.8 1870.9h49v3.1h-49z" fill="#13e7f9"/>
<path d="M602.8 1875.7h49v4.3h-49zM602.8 2325.8h49v2.1h-49z" fill="#ffb000"/>
<path d="M602.8 1879.7h49v2.3h-49z" fill="#ffb300"/>
<path d="M602.8 1881.7h49v2.3h-49zM602.8 1945.9h49v2.1h-49zM602.8 2028.9h49v2.2h-49zM602.8 2117.1h49v2.3h-49zM602.8 2213.7h49v2.3h-49z" fill="#ffbc00"/>
<path d="M602.8 1890.1h49v2.6h-49z" fill="#76fa09"/>
<path d="M602.8 1892.5h49v2.6h-49zM602.8 1944h49v2.1h-49zM602.8 2131.2h49v2.3h-49z" fill="#ffc200"/>
<path d="M602.8 1894.8h49v2.6h-49zM602.8 2148.5h49v2.1h-49zM602.8 2310.7h49v2.2h-49zM602.8 2331.4h49v2.1h-49z" fill="#ffb600"/>
<path d="M602.8 1900h49v2.1h-49zM602.8 2182.4h49v2.1h-49zM602.8 2367.1h49v2.1h-49z" fill="#ff8f00"/>
<path d="M602.8 1901.8h49v2.7h-49z" fill="#f045fa"/>
<path d="M602.8 1910.1h49v2.2h-49zM602.8 1947.8h49v2.1h-49z" fill="#ffad00"/>
<path d="M602.8 1914h49v3.1h-49z" fill="#15f73b"/>
<path d="M602.8 1924.4h49v2.4h-49zM602.8 2154.1h49v2.1h-49z" fill="#ffc900"/>
<path d="M602.8 1926.5h49v2.4h-49z" fill="#f9e700"/>
<path d="M602.8 1930.9h49v2.1h-49zM602.8 2001.3h49v2.1h-49z" fill="#ff9000"/>
<path d="M602.8 1934.7h49v2.1h-49z" fill="#ff7a00"/>
<path d="M602.8 1940.3h49v2.1h-49z" fill="#ffd300"/>
<path d="M602.8 1954.4h49v2.6h-49zM602.8 2174.8h49v2.5h-49z" fill="#e8ee00"/>
<path d="M602.8 1956.7h49v2.6h-49zM602.8 2283.6h49v3.1h-49z" fill="#e4f000"/>
<path d="M602.8 1959.1h49v2.1h-49z" fill="#ff5f00"/>
<path d="M602.8 1960.9h49v2.1h-49z" fill="#ff5e00"/>
<path d="M602.8 1962.8h49v2.1h-49zM602.8 2166.4h49v2.3h-49z" fill="#ff5700"/>
<path d="M602.8 1964.7h49v2.1h-49z" fill="#ff5400"/>
<path d="M602.8 1968.9h49v2.6h-49z" fill="#a4fd04"/>
<path d="M602.8 1971.2h49v2.1h-49zM602.8 2003.1h49v2.1h-49zM602.8 2370.8h49v2.1h-49z" fill="#ff9e00"/>
<path d="M602.8 1979.7h49v2.1h-49z" fill="#dcf400"/>
<path d="M602.8 1983.4h49v2.1h-49z" fill="#affe02"/>
<path d="M602.8 1985.3h49v2.1h-49zM602.8 2180.6h49v2.1h-49z" fill="#ff7100"/>
<path d="M602.8 1987.2h49v2.1h-49zM602.8 2236.2h49v2.2h-49z" fill="#ff6800"/>
<path d="M602.8 1992.8h49v2.1h-49z" fill="#ff6e00"/>
<path d="M602.8 1994.7h49v2.1h-49zM602.8 2248.5h49v4.4h-49z" fill="#ff8d00"/>
<path d="M602.8 1996.6h49v2.6h-49z" fill="#eaed00"/>
<path d="M602.8 2005h49v2.1h-49zM602.8 2265.7h49v2.2h-49z" fill="#ff7d00"/>
<path d="M602.8 2006.9h49v2.1h-49zM602.8 2048.2h49v2.1h-49z" fill="#ff8200"/>
<path d="M602.8 2011.6h49v2.1h-49zM602.8 2259.9h49v2.2h-49z" fill="#ff9500"/>
<path d="M602.8 2018.1h49v3.1h-49zM602.8 2322h49v2.1h-49z" fill="#e1f200"/>
<path d="M602.8 2021h49v2.2h-49z" fill="#ffaa00"/>
<path d="M602.8 2023h49v2.2h-49zM602.8 2123.2h49v2.3h-49z" fill="#ffac00"/>
<path d="M602.8 2038.8h49v2.1h-49z" fill="#e9ee00"/>
<path d="M602.8 2044.4h49v2.1h-49zM602.8 2142h49v2.1h-49zM602.8 2238.2h49v2.2h-49z" fill="#ff8c00"/>
<path d="M602.8 2046.3h49v2.1h-49zM602.8 2242.2h49v2.2h-49z" fill="#ff8700"/>
<path d="M602.8 2050h49v2.1h-49zM602.8 2202.9h49v2.1h-49z" fill="#ff8400"/>
<path d="M602.8 2053.8h49v2.1h-49zM602.8 2234.2h49v2.2h-49z" fill="#ff6d00"/>
<path d="M602.8 2055.7h49v2.1h-49z" fill="#ff7f00"/>
<path d="M602.8 2057.5h49v2.1h-49z" fill="#13f746"/>
<path d="M602.8 2059.4h49v2.1h-49z" fill="#1cf51e"/>
<path d="M602.8 2061.3h49v2.1h-49zM602.8 2157.9h49v2.5h-49z" fill="#fae600"/>
<path d="M602.8 2066.9h49v2.1h-49z" fill="#ffdc00"/>
<path d="M602.8 2077.5h49v2.4h-49zM602.8 2089.7h49v2.4h-49z" fill="#ff9a00"/>
<path d="M602.8 2079.7h49v2.4h-49zM602.8 2228.2h49v2.2h-49zM602.8 2257.9h49v2.2h-49z" fill="#ff7500"/>
<path d="M602.8 2083.8h49v2.1h-49zM602.8 2097.9h49v2.1h-49zM602.8 2314.5h49v2.1h-49z" fill="#ffe000"/>
<path d="M602.8 2087.6h49v2.4h-49zM602.8 2352h49v2.1h-49z" fill="#ff9600"/>
<path d="M602.8 2091.8h49v2.4h-49zM602.8 2178.8h49v2.1h-49z" fill="#ff9200"/>
<path d="M602.8 2093.9h49v2.4h-49zM602.8 2240.2h49v2.2h-49zM602.8 2271.4h49v2.1h-49zM602.8 2338h49v2.1h-49zM602.8 2372.7h49v2.1h-49z" fill="#ff7e00"/>
<path d="M602.8 2103.5h49v2.1h-49zM602.8 2145.7h49v3.1h-49zM602.8 2323.9h49v2.1h-49z" fill="#fde500"/>
<path d="M602.8 2109.1h49v2.1h-49zM602.8 2355.8h49v2.1h-49z" fill="#ffe100"/>
<path d="M602.8 2112.9h49v2.5h-49z" fill="#02fa8e"/>
<path d="M602.8 2133.2h49v2.3h-49zM602.8 2209.6h49v2.3h-49z" fill="#ffc000"/>
<path d="M602.8 2143.8h49v2.1h-49zM602.8 2177h49v2.1h-49z" fill="#ff8a00"/>
<path d="M602.8 2150.4h49v2.1h-49z" fill="#ffd500"/>
<path d="M602.8 2156h49v2.1h-49zM602.8 2376.4h49v2.1h-49z" fill="#ff9800"/>
<path d="M602.8 2160.1h49v2.3h-49z" fill="#ff5d00"/>
<path d="M602.8 2162.2h49v2.3h-49z" fill="#ff4900"/>
<path d="M602.8 2164.3h49v2.3h-49z" fill="#ff4500"/>
<path d="M602.8 2168.5h49v2.3h-49zM602.8 2172.7h49v2.3h-49z" fill="#ff6600"/>
<path d="M602.8 2170.6h49v2.3h-49z" fill="#ff4700"/>
<path d="M602.8 2184.2h49v2.1h-49zM602.8 2374.6h49v2.1h-49z" fill="#ff9100"/>
<path d="M602.8 2186h49v3.1h-49z" fill="#16f635"/>
<path d="M602.8 2188.8h49v2.3h-49z" fill="#65f90b"/>
<path d="M602.8 2190.9h49v2.3h-49z" fill="#cbfc00"/>
<path d="M602.8 2192.9h49v2.3h-49z" fill="#8ffc06"/>
<path d="M602.8 2196.9h49v2.3h-49z" fill="#96fc05"/>
<path d="M602.8 2198.9h49v2.3h-49z" fill="#d4f700"/>
<path d="M602.8 2200.9h49v2.3h-49z" fill="#bdff01"/>
<path d="M602.8 2219.8h49v2.4h-49z" fill="#17f632"/>
<path d="M602.8 2221.9h49v2.4h-49z" fill="#1bf520"/>
<path d="M602.8 2224h49v2.4h-49z" fill="#0ef85b"/>
<path d="M602.8 2226.1h49v2.4h-49z" fill="#17f634"/>
<path d="M602.8 2244.2h49v3.1h-49z" fill="#03f987"/>
<path d="M602.8 2252.6h49v1.9h-49z" fill="#f3ea00"/>
<path d="M602.8 2254.3h49v1.9h-49z" fill="#f0eb00"/>
<path d="M602.8 2261.8h49v2.2h-49z" fill="#ff7400"/>
<path d="M602.8 2288.3h49v2.1h-49z" fill="#edec00"/>
<path d="M602.8 2297.3h49v2.2h-49z" fill="#ffbd00"/>
<path d="M602.8 2306.9h49v2.2h-49z" fill="#ffab00"/>
<path d="M602.8 2316.4h49v2.1h-49z" fill="#eeec00"/>
<path d="M602.8 2327.7h49v2.1h-49z" fill="#ffa500"/>
<path d="M602.8 2339.9h49v2.1h-49z" fill="#ff8100"/>
<path d="M602.8 2350.2h49v2.1h-49z" fill="#ff7600"/>
<path d="M602.8 2357.7h49v2.1h-49z" fill="#ffdb00"/>
<path d="M602.8 2363.3h49v2.1h-49z" fill="#ffa600"/>
<path d="M602.8 2368.9h49v2.1h-49z" fill="#ff7c00"/>
<path d="M651.6 1295.7h48.5v1.4h-48.5zM651.6 1493.7h48.5v2.3h-48.5zM651.6 1556.7h48.5v2.1h-48.5zM651.6 1736.8h48.5v2.1h-48.5zM651.6 1802.4h48.5v2.1h-48.5zM651.6 1873.7h48.5v2.3h-48.5zM651.6 1877.7h48.5v2.3h-48.5zM651.6 1883.8h48.5v2.3h-48.5zM651.6 2256h48.5v2.2h-48.5zM651.6 2263.7h48.5v2.2h-48.5zM651.6 2338h48.5v2.1h-48.5z" fill="#ff5000"/>
<path d="M651.6 1296.9h48.5v2.1h-48.5zM651.6 1350.3h48.5v2.4h-48.5zM651.6 1411.3h48.5v2.1h-48.5zM651.6 1431h48.5v2.1h-48.5zM651.6 1450.7h48.5v2.1h-48.5zM651.6 1622.8h48.5v2.4h-48.5zM651.6 1700.7h48.5v2.6h-48.5zM651.6 2281.2h48.5v2.6h-48.5z" fill="#ff5800"/>
<path d="M651.6 1298.8h48.5v2.1h-48.5zM651.6 1468.5h48.5v2.1h-48.5zM651.6 1726.4h48.5v2.6h-48.5z" fill="#ff4a00"/>
<path d="M651.6 1300.6h48.5v2.1h-48.5zM651.6 1310.5h48.5v2.6h-48.5zM651.6 1378.5h48.5v2.4h-48.5zM651.6 1483.5h48.5v2.3h-48.5zM651.6 1614.8h48.5v2.1h-48.5zM651.6 1904.3h48.5v2.2h-48.5zM651.6 2131.2h48.5v6.3h-48.5zM651.6 2306.9h48.5v2.2h-48.5zM651.6 2323.9h48.5v2.1h-48.5zM651.6 2339.9h48.5v2.1h-48.5z" fill="#ff6000"/>
<path d="M651.6 1302.5h48.5v3.1h-48.5zM651.6 1577.3h48.5v3.1h-48.5z" fill="#f8e700"/>
<path d="M651.6 1305.3h48.5v3.1h-48.5zM651.6 1336h48.5v2.4h-48.5zM651.6 2087.6h48.5v2.4h-48.5zM651.6 2374.6h48.5v2.1h-48.5z" fill="#ff3f00"/>
<path d="M651.6 1308.1h48.5v2.6h-48.5zM651.6 1754.9h48.5v2.4h-48.5zM651.6 1800.5h48.5v2.1h-48.5z" fill="#ff6500"/>
<path d="M651.6 1312.8h48.5v2.1h-48.5zM651.6 1620.7h48.5v2.4h-48.5zM651.6 1658.9h48.5v2.1h-48.5zM651.6 1920.6h48.5v2.1h-48.5zM651.6 2119.2h48.5v2.3h-48.5zM651.6 2129.2h48.5v2.3h-48.5zM651.6 2215.7h48.5v2.3h-48.5zM651.6 2318.3h48.5v2.1h-48.5z" fill="#ff6800"/>
<path d="M651.6 1314.7h48.5v2.1h-48.5zM651.6 1571.7h48.5v2.1h-48.5zM651.6 1747.1h48.5v2.1h-48.5zM651.6 1906.2h48.5v2.2h-48.5zM651.6 1918.7h48.5v2.1h-48.5zM651.6 2127.2h48.5v2.3h-48.5z" fill="#ff4b00"/>
<path d="M651.6 1316.6h48.5v2.1h-48.5zM651.6 1554.8h48.5v2.1h-48.5zM651.6 1613h48.5v2.1h-48.5zM651.6 1707.7h48.5v2.6h-48.5zM651.6 1809.9h48.5v2.1h-48.5zM651.6 1879.7h48.5v2.3h-48.5zM651.6 1900h48.5v2.1h-48.5zM651.6 1908.2h48.5v4.2h-48.5zM651.6 2211.7h48.5v2.3h-48.5zM651.6 2295.4h48.5v2.2h-48.5z" fill="#ff5d00"/>
<path d="M651.6 1318.4h48.5v2.1h-48.5zM651.6 1333.8h48.5v2.4h-48.5zM651.6 1373.8h48.5v2.6h-48.5zM651.6 1769.8h48.5v2.4h-48.5zM651.6 1848.4h48.5v2.1h-48.5zM651.6 1945.9h48.5v2.1h-48.5zM651.6 2006.9h48.5v2.1h-48.5zM651.6 2044.4h48.5v4h-48.5z" fill="#ff3700"/>
<path d="M651.6 1320.3h48.5v2.1h-48.5zM651.6 1464.3h48.5v2.6h-48.5zM651.6 1491.7h48.5v2.3h-48.5zM651.6 1734h48.5v3.1h-48.5zM651.6 2257.9h48.5v2.2h-48.5zM651.6 2376.4h48.5v2.1h-48.5z" fill="#ff4500"/>
<path d="M651.6 1322.2h48.5v2.1h-48.5zM651.6 1586.7h48.5v2.1h-48.5zM651.6 2164.3h48.5v2.3h-48.5zM651.6 2269.5h48.5v2.1h-48.5z" fill="#ff4600"/>
<path d="M651.6 1324.1h48.5v3.1h-48.5zM651.6 1558.6h48.5v2.1h-48.5zM651.6 1694.6h48.5v2.1h-48.5zM651.6 1804.3h48.5v2.1h-48.5z" fill="#ff8500"/>
<path d="M651.6 1326.9h48.5v2.6h-48.5zM651.6 1341h48.5v2.1h-48.5zM651.6 1598h48.5v2.1h-48.5zM651.6 1962.8h48.5v2.1h-48.5zM651.6 2143.8h48.5v2.1h-48.5zM651.6 2160.1h48.5v2.3h-48.5zM651.6 2202.9h48.5v2.1h-48.5zM651.6 2368.9h48.5v2.1h-48.5zM651.6 2378.3h48.5v2.1h-48.5z" fill="#ff3500"/>
<path d="M651.6 1329.2h48.5v2.6h-48.5zM651.6 1462h48.5v2.6h-48.5zM651.6 1499.5h48.5v4.5h-48.5zM651.6 1520.7h48.5v2.4h-48.5zM651.6 1846.5h48.5v2.1h-48.5zM651.6 2142h48.5v2.1h-48.5zM651.6 2177h48.5v2.1h-48.5zM651.6 2184.2h48.5v2.1h-48.5zM651.6 2240.2h48.5v2.2h-48.5zM651.6 2275.1h48.5v2.1h-48.5zM651.6 2367.1h48.5v2.1h-48.5z" fill="#ff3600"/>
<path d="M651.6 1331.6h48.5v2.4h-48.5zM651.6 1376.1h48.5v2.6h-48.5zM651.6 1601.7h48.5v2.1h-48.5zM651.6 1960.9h48.5v2.1h-48.5zM651.6 2038.8h48.5v2.1h-48.5zM651.6 2055.7h48.5v2.1h-48.5zM651.6 2075.4h48.5v2.4h-48.5zM651.6 2271.4h48.5v2.1h-48.5z" fill="#ff3b00"/>
<path d="M651.6 1338.1h48.5v3.1h-48.5zM651.6 1356.9h48.5v2.1h-48.5zM651.6 2188.8h48.5v2.3h-48.5z" fill="#ff8c00"/>
<path d="M651.6 1342.8h48.5v2.1h-48.5zM651.6 1505.8h48.5v2.4h-48.5zM651.6 1603.6h48.5v2.1h-48.5zM651.6 1629.8h48.5v2.4h-48.5zM651.6 1959.1h48.5v2.1h-48.5zM651.6 2003.1h48.5v2.1h-48.5zM651.6 2048.2h48.5v2.1h-48.5zM651.6 2277h48.5v2.1h-48.5z" fill="#ff4000"/>
<path d="M651.6 1344.7h48.5v3.1h-48.5zM651.6 1594.2h48.5v2.1h-48.5z" fill="#ffae00"/>
<path d="M651.6 1347.5h48.5v3.1h-48.5zM651.6 1543.6h48.5v2.1h-48.5zM651.6 1824.9h48.5v2.1h-48.5zM651.6 2079.7h48.5v2.4h-48.5z" fill="#ff3400"/>
<path d="M651.6 1352.5h48.5v2.4h-48.5zM651.6 1420.7h48.5v2.1h-48.5zM651.6 1541.7h48.5v2.1h-48.5zM651.6 1592.3h48.5v2.1h-48.5zM651.6 1616.7h48.5v2.1h-48.5zM651.6 1985.3h48.5v2.1h-48.5zM651.6 2024.9h48.5v2.2h-48.5zM651.6 2207.6h48.5v2.3h-48.5zM651.6 2350.2h48.5v2.1h-48.5z" fill="#ff4f00"/>
<path d="M651.6 1354.7h48.5v2.4h-48.5zM651.6 1860.1h48.5v2.6h-48.5zM651.6 1924.4h48.5v2.4h-48.5zM651.6 2267.6h48.5v2.2h-48.5z" fill="#ff4d00"/>
<path d="M651.6 1358.8h48.5v2.1h-48.5z" fill="#ff9700"/>
<path d="M651.6 1360.7h48.5v2.1h-48.5zM651.6 1605.5h48.5v2.1h-48.5zM651.6 1968.9h48.5v2.6h-48.5zM651.6 2065h48.5v2.1h-48.5z" fill="#ff8e00"/>
<path d="M651.6 1362.5h48.5v3.1h-48.5z" fill="#ffbb00"/>
<path d="M651.6 1365.3h48.5v2.1h-48.5zM651.6 1489.6h48.5v2.3h-48.5zM651.6 1552.9h48.5v2.1h-48.5zM651.6 1703h48.5v2.1h-48.5zM651.6 1791.2h48.5v2.1h-48.5zM651.6 1836.2h48.5v3.1h-48.5zM651.6 2139.6h48.5v2.6h-48.5zM651.6 2341.7h48.5v2.1h-48.5z" fill="#ff5b00"/>
<path d="M651.6 1367.2h48.5v2.1h-48.5zM651.6 1522.9h48.5v3.1h-48.5zM651.6 2068.8h48.5v2.1h-48.5z" fill="#ff8300"/>
<path d="M651.6 1369.1h48.5v2.1h-48.5zM651.6 1511.7h48.5v2.1h-48.5zM651.6 1938.4h48.5v2.1h-48.5z" fill="#ff7e00"/>
<path d="M651.6 1371h48.5v3.1h-48.5zM651.6 1696.4h48.5v2.1h-48.5zM651.6 2254.3h48.5v1.9h-48.5z" fill="#ff8d00"/>
<path d="M651.6 1380.7h48.5v2.4h-48.5zM651.6 1712.4h48.5v2.1h-48.5zM651.6 1875.7h48.5v2.3h-48.5zM651.6 2123.2h48.5v2.3h-48.5zM651.6 2250.6h48.5v2.3h-48.5zM651.6 2327.7h48.5v2.1h-48.5z" fill="#ff5600"/>
<path d="M651.6 1382.9h48.5v2.4h-48.5zM651.6 1657h48.5v2.1h-48.5zM651.6 1718h48.5v2.1h-48.5z" fill="#ff5500"/>
<path d="M651.6 1385h48.5v2.6h-48.5zM651.6 1779.9h48.5v2.1h-48.5z" fill="#ff8f00"/>
<path d="M651.6 1387.4h48.5v2.6h-48.5zM651.6 1413.2h48.5v2.1h-48.5z" fill="#ff9d00"/>
<path d="M651.6 1389.7h48.5v2.1h-48.5z" fill="#ffd900"/>
<path d="M651.6 1391.6h48.5v2.1h-48.5zM651.6 1513.5h48.5v3.1h-48.5zM651.6 2059.4h48.5v2.1h-48.5z" fill="#ffe300"/>
<path d="M651.6 1393.5h48.5v2.4h-48.5zM651.6 1687.1h48.5v2.1h-48.5zM651.6 1932.8h48.5v2.1h-48.5zM651.6 2154.1h48.5v2.1h-48.5zM651.6 2308.8h48.5v2.2h-48.5zM651.6 2316.4h48.5v2.1h-48.5z" fill="#ff5f00"/>
<path d="M651.6 1395.7h48.5v2.4h-48.5zM651.6 1443.2h48.5v2.1h-48.5zM651.6 1580.1h48.5v2.1h-48.5zM651.6 1716.1h48.5v2.1h-48.5zM651.6 1745.2h48.5v2.1h-48.5zM651.6 1912.1h48.5v2.2h-48.5zM651.6 2320.2h48.5v2.1h-48.5z" fill="#ff5700"/>
<path d="M651.6 1397.9h48.5v2.4h-48.5zM651.6 1409.4h48.5v2.1h-48.5zM651.6 1670.2h48.5v2.1h-48.5zM651.6 1698.3h48.5v2.6h-48.5zM651.6 1951.6h48.5v3.1h-48.5zM651.6 2117.1h48.5v2.3h-48.5zM651.6 2121.2h48.5v2.3h-48.5zM651.6 2145.7h48.5v3.1h-48.5zM651.6 2331.4h48.5v2.1h-48.5zM651.6 2363.3h48.5v2.1h-48.5z" fill="#ff5100"/>
<path d="M651.6 1400h48.5v3.1h-48.5zM651.6 2105.4h48.5v2.1h-48.5z" fill="#ff8000"/>
<path d="M651.6 1402.9h48.5v3.1h-48.5zM651.6 1448.8h48.5v2.1h-48.5zM651.6 1466.6h48.5v2.1h-48.5zM651.6 1573.6h48.5v2.1h-48.5zM651.6 1757.1h48.5v2.4h-48.5zM651.6 1857.8h48.5v2.6h-48.5zM651.6 1973.1h48.5v2.1h-48.5zM651.6 1990.9h48.5v4h-48.5zM651.6 2359.6h48.5v2.1h-48.5z" fill="#ff5200"/>
<path d="M651.6 1405.7h48.5v4h-48.5zM651.6 1806.2h48.5v2.1h-48.5zM651.6 1832.4h48.5v2.1h-48.5zM651.6 2355.8h48.5v2.1h-48.5z" fill="#ff8800"/>
<path d="M651.6 1415.1h48.5v2.1h-48.5zM651.6 1509.8h48.5v2.1h-48.5zM651.6 2194.9h48.5v2.3h-48.5zM651.6 2252.6h48.5v1.9h-48.5z" fill="#ff7a00"/>
<path d="M651.6 1416.9h48.5v2.1h-48.5z" fill="#f7e800"/>
<path d="M651.6 1418.8h48.5v2.1h-48.5z" fill="#f3ea00"/>
<path d="M651.6 1422.6h48.5v2.1h-48.5zM651.6 1584.8h48.5v2.1h-48.5zM651.6 1864.3h48.5v2.1h-48.5zM651.6 2034.9h48.5v2.2h-48.5zM651.6 2261.8h48.5v2.2h-48.5zM651.6 2299.2h48.5v2.2h-48.5zM651.6 2333.3h48.5v2.1h-48.5z" fill="#ff4e00"/>
<path d="M651.6 1424.4h48.5v2.4h-48.5zM651.6 1940.3h48.5v2.1h-48.5zM651.6 1977.3h48.5v4.6h-48.5zM651.6 2081.9h48.5v2.1h-48.5zM651.6 2085.7h48.5v2.1h-48.5z" fill="#ff7f00"/>
<path d="M651.6 1426.6h48.5v2.4h-48.5zM651.6 2174.8h48.5v2.5h-48.5z" fill="#ff7900"/>
<path d="M651.6 1428.8h48.5v2.4h-48.5z" fill="#ff8a00"/>
<path d="M651.6 1432.9h48.5v3.1h-48.5zM651.6 1834.3h48.5v2.1h-48.5z" fill="#ff8b00"/>
<path d="M651.6 1435.7h48.5v2.6h-48.5zM651.6 1590.4h48.5v2.1h-48.5zM651.6 1624.9h48.5v2.4h-48.5zM651.6 2023h48.5v2.2h-48.5z" fill="#ff4900"/>
<path d="M651.6 1438h48.5v2.6h-48.5zM651.6 1445.1h48.5v2.1h-48.5zM651.6 1470.4h48.5v2.1h-48.5zM651.6 1618.6h48.5v2.4h-48.5zM651.6 1789.3h48.5v2.1h-48.5zM651.6 2365.2h48.5v2.1h-48.5z" fill="#ff6600"/>
<path d="M651.6 1440.4h48.5v3.1h-48.5zM651.6 2301.1h48.5v2.2h-48.5zM651.6 2329.5h48.5v2.1h-48.5z" fill="#ff5a00"/>
<path d="M651.6 1446.9h48.5v2.1h-48.5zM651.6 1666.4h48.5v2.1h-48.5zM651.6 1994.7h48.5v2.1h-48.5zM651.6 2011.6h48.5v2.1h-48.5zM651.6 2111h48.5v2.1h-48.5zM651.6 2314.5h48.5v2.1h-48.5z" fill="#ff6100"/>
<path d="M651.6 1452.6h48.5v2.1h-48.5z" fill="#ffa400"/>
<path d="M651.6 1454.4h48.5v3.1h-48.5zM651.6 1781.8h48.5v2.1h-48.5zM651.6 1966.6h48.5v2.6h-48.5zM651.6 2103.5h48.5v2.1h-48.5z" fill="#ff8100"/>
<path d="M651.6 1457.3h48.5v2.1h-48.5z" fill="#ffba00"/>
<path d="M651.6 1459.1h48.5v3.1h-48.5z" fill="#f6e800"/>
<path d="M651.6 1472.3h48.5v3.1h-48.5zM651.6 1634.2h48.5v2.4h-48.5zM651.6 1719.9h48.5v2.1h-48.5zM651.6 1767.7h48.5v2.4h-48.5zM651.6 1823.1h48.5v2.1h-48.5zM651.6 1828.7h48.5v2.1h-48.5zM651.6 1842.8h48.5v2.1h-48.5zM651.6 2051.9h48.5v2.1h-48.5zM651.6 2093.9h48.5v2.4h-48.5z" fill="#ff3800"/>
<path d="M651.6 1475.1h48.5v2.6h-48.5z" fill="#ffd700"/>
<path d="M651.6 1477.4h48.5v2.6h-48.5z" fill="#efeb00"/>
<path d="M651.6 1479.8h48.5v2.1h-48.5zM651.6 1639.2h48.5v2.1h-48.5z" fill="#ff8200"/>
<path d="M651.6 1481.6h48.5v2.1h-48.5zM651.6 1527.6h48.5v2.1h-48.5zM651.6 1645.8h48.5v2.1h-48.5zM651.6 2357.7h48.5v2.1h-48.5z" fill="#ff8400"/>
<path d="M651.6 1485.6h48.5v2.3h-48.5zM651.6 1685.2h48.5v2.1h-48.5zM651.6 2303.1h48.5v2.2h-48.5zM651.6 2325.8h48.5v2.1h-48.5z" fill="#ff5400"/>
<path d="M651.6 1487.6h48.5v2.3h-48.5zM651.6 1811.8h48.5v2.1h-48.5zM651.6 1892.5h48.5v2.6h-48.5zM651.6 1971.2h48.5v2.1h-48.5zM651.6 2152.3h48.5v2.1h-48.5z" fill="#ff6400"/>
<path d="M651.6 1495.7h48.5v2.1h-48.5z" fill="#d4f700"/>
<path d="M651.6 1497.6h48.5v2.1h-48.5z" fill="#c7fd00"/>
<path d="M651.6 1503.7h48.5v2.4h-48.5zM651.6 1518.5h48.5v2.4h-48.5zM651.6 1840.9h48.5v2.1h-48.5zM651.6 2005h48.5v2.1h-48.5zM651.6 2036.9h48.5v2.1h-48.5zM651.6 2053.8h48.5v2.1h-48.5zM651.6 2089.7h48.5v2.4h-48.5zM651.6 2162.2h48.5v2.3h-48.5zM651.6 2168.5h48.5v2.3h-48.5zM651.6 2242.2h48.5v2.2h-48.5zM651.6 2273.3h48.5v2.1h-48.5z" fill="#ff3c00"/>
<path d="M651.6 1507.9h48.5v2.1h-48.5zM651.6 1533.9h48.5v2.4h-48.5z" fill="#ff7d00"/>
<path d="M651.6 1516.4h48.5v2.4h-48.5zM651.6 1821.2h48.5v2.1h-48.5zM651.6 1949.7h48.5v2.1h-48.5zM651.6 2050h48.5v2.1h-48.5zM651.6 2166.4h48.5v2.3h-48.5zM651.6 2178.8h48.5v2.1h-48.5zM651.6 2234.2h48.5v2.2h-48.5zM651.6 2370.8h48.5v2.1h-48.5z" fill="#ff3d00"/>
<path d="M651.6 1525.7h48.5v2.1h-48.5zM651.6 1539.8h48.5v2.1h-48.5zM651.6 2028.9h48.5v2.2h-48.5z" fill="#ff6d00"/>
<path d="M651.6 1529.5h48.5v2.4h-48.5zM651.6 1887.8h48.5v2.6h-48.5zM651.6 2096h48.5v2.1h-48.5zM651.6 2286.4h48.5v2.1h-48.5z" fill="#ff9400"/>
<path d="M651.6 1531.7h48.5v2.4h-48.5zM651.6 1936.5h48.5v2.1h-48.5zM651.6 2099.7h48.5v2.1h-48.5zM651.6 2204.8h48.5v3.1h-48.5z" fill="#ff7800"/>
<path d="M651.6 1536h48.5v2.1h-48.5z" fill="#ffb200"/>
<path d="M651.6 1537.9h48.5v2.1h-48.5zM651.6 1942.2h48.5v2.1h-48.5z" fill="#ff9e00"/>
<path d="M651.6 1545.4h48.5v2.1h-48.5zM651.6 1632h48.5v2.4h-48.5zM651.6 1774h48.5v2.4h-48.5zM651.6 1934.7h48.5v2.1h-48.5zM651.6 2077.5h48.5v2.4h-48.5zM651.6 2232.2h48.5v2.2h-48.5z" fill="#ff4300"/>
<path d="M651.6 1547.3h48.5v2.1h-48.5z" fill="#f9e700"/>
<path d="M651.6 1549.2h48.5v2.1h-48.5z" fill="#ffdb00"/>
<path d="M651.6 1551.1h48.5v2.1h-48.5zM651.6 1704.9h48.5v3.1h-48.5zM651.6 1854h48.5v2.1h-48.5z" fill="#ffe400"/>
<path d="M651.6 1560.4h48.5v2.1h-48.5zM651.6 1664.5h48.5v2.1h-48.5z" fill="#ff8600"/>
<path d="M651.6 1562.3h48.5v2.6h-48.5z" fill="#ffb600"/>
<path d="M651.6 1564.7h48.5v2.6h-48.5z" fill="#ffb800"/>
<path d="M651.6 1567h48.5v3.1h-48.5zM651.6 1647.7h48.5v2.1h-48.5zM651.6 2016.3h48.5v2.1h-48.5zM651.6 2190.9h48.5v2.3h-48.5z" fill="#ff7500"/>
<path d="M651.6 1569.8h48.5v2.1h-48.5z" fill="#ff6200"/>
<path d="M651.6 1575.4h48.5v2.1h-48.5z" fill="#ff8700"/>
<path d="M651.6 1582h48.5v3.1h-48.5z" fill="#ffaf00"/>
<path d="M651.6 1588.6h48.5v2.1h-48.5zM651.6 1677.1h48.5v2.4h-48.5zM651.6 1738.6h48.5v2.1h-48.5zM651.6 1750.8h48.5v2.1h-48.5zM651.6 1916.8h48.5v2.1h-48.5zM651.6 1954.4h48.5v2.6h-48.5z" fill="#ff6700"/>
<path d="M651.6 1596.1h48.5v2.1h-48.5zM651.6 1611.1h48.5v2.1h-48.5z" fill="#ffb500"/>
<path d="M651.6 1599.8h48.5v2.1h-48.5zM651.6 2228.2h48.5v2.2h-48.5zM651.6 2372.7h48.5v2.1h-48.5z" fill="#ff3a00"/>
<path d="M651.6 1607.3h48.5v2.1h-48.5zM651.6 1890.1h48.5v2.6h-48.5z" fill="#ff9200"/>
<path d="M651.6 1609.2h48.5v2.1h-48.5z" fill="#ffa700"/>
<path d="M651.6 1627h48.5v3.1h-48.5zM651.6 2293.7h48.5v1.9h-48.5z" fill="#cbfb00"/>
<path d="M651.6 1636.4h48.5v3.1h-48.5z" fill="#47f70f"/>
<path d="M651.6 1641.1h48.5v2.6h-48.5z" fill="#18f62d"/>
<path d="M651.6 1643.4h48.5v2.6h-48.5z" fill="#58f90d"/>
<path d="M651.6 1649.5h48.5v4h-48.5z" fill="#ffa500"/>
<path d="M651.6 1653.3h48.5v2.1h-48.5z" fill="#ffc300"/>
<path d="M651.6 1655.2h48.5v2.1h-48.5zM651.6 1793h48.5v2.1h-48.5zM651.6 1796.8h48.5v2.1h-48.5zM651.6 1894.8h48.5v2.6h-48.5zM651.6 2335.2h48.5v3.1h-48.5zM651.6 2343.6h48.5v2.1h-48.5z" fill="#ff5c00"/>
<path d="M651.6 1660.8h48.5v2.1h-48.5zM651.6 2192.9h48.5v2.3h-48.5z" fill="#ff9100"/>
<path d="M651.6 1662.7h48.5v2.1h-48.5zM651.6 2026.9h48.5v2.2h-48.5zM651.6 2297.3h48.5v2.2h-48.5z" fill="#ff6e00"/>
<path d="M651.6 1668.3h48.5v2.1h-48.5zM651.6 1714.3h48.5v2.1h-48.5zM651.6 1743.3h48.5v2.1h-48.5zM651.6 1785.5h48.5v2.1h-48.5zM651.6 2290.1h48.5v2.1h-48.5z" fill="#ff7100"/>
<path d="M651.6 1672h48.5v3.1h-48.5z" fill="#ffe100"/>
<path d="M651.6 1674.9h48.5v2.4h-48.5z" fill="#ff7c00"/>
<path d="M651.6 1679.2h48.5v2.4h-48.5zM651.6 1996.6h48.5v2.6h-48.5zM651.6 2097.9h48.5v2.1h-48.5zM651.6 2101.6h48.5v2.1h-48.5zM651.6 2150.4h48.5v2.1h-48.5z" fill="#ff7400"/>
<path d="M651.6 1681.4h48.5v2.1h-48.5z" fill="#01fa93"/>
<path d="M651.6 1683.3h48.5v2.1h-48.5z" fill="#03f989"/>
<path d="M651.6 1688.9h48.5v2.1h-48.5zM651.6 1728.8h48.5v2.6h-48.5zM651.6 1761.2h48.5v2.1h-48.5zM651.6 2137.3h48.5v2.6h-48.5zM651.6 2209.6h48.5v2.3h-48.5z" fill="#ff6300"/>
<path d="M651.6 1690.8h48.5v2.1h-48.5zM651.6 1981.6h48.5v2.1h-48.5zM651.6 2115.1h48.5v2.3h-48.5zM651.6 2259.9h48.5v2.2h-48.5z" fill="#ff6a00"/>
<path d="M651.6 1692.7h48.5v2.1h-48.5zM651.6 1794.9h48.5v2.1h-48.5zM651.6 1956.7h48.5v2.6h-48.5zM651.6 1998.9h48.5v2.6h-48.5zM651.6 2125.2h48.5v2.3h-48.5zM651.6 2283.6h48.5v3.1h-48.5zM651.6 2312.6h48.5v2.2h-48.5z" fill="#ff6900"/>
<path d="M651.6 1710h48.5v2.6h-48.5zM651.6 1759.3h48.5v2.1h-48.5zM651.6 2021h48.5v2.2h-48.5zM651.6 2156h48.5v2.1h-48.5zM651.6 2213.7h48.5v2.3h-48.5zM651.6 2265.7h48.5v2.2h-48.5z" fill="#ff5300"/>
<path d="M651.6 1721.8h48.5v3.1h-48.5z" fill="#eeec00"/>
<path d="M651.6 1724.6h48.5v2.1h-48.5z" fill="#ff9c00"/>
<path d="M651.6 1731.1h48.5v3.1h-48.5zM651.6 2018.1h48.5v3.1h-48.5z" fill="#ffda00"/>
<path d="M651.6 1740.5h48.5v3.1h-48.5z" fill="#148bf5"/>
<path d="M651.6 1749h48.5v2.1h-48.5zM651.6 1930.9h48.5v2.1h-48.5z" fill="#ff6f00"/>
<path d="M651.6 1752.7h48.5v2.4h-48.5zM651.6 1881.7h48.5v2.3h-48.5zM651.6 2322h48.5v2.1h-48.5zM651.6 2352h48.5v2.1h-48.5z" fill="#ff6c00"/>
<path d="M651.6 1763h48.5v2.1h-48.5zM651.6 1771.9h48.5v2.4h-48.5zM651.6 1826.8h48.5v2.1h-48.5zM651.6 1830.6h48.5v2.1h-48.5zM651.6 2032.9h48.5v2.2h-48.5z" fill="#ff4200"/>
<path d="M651.6 1764.9h48.5v3.1h-48.5z" fill="#fbe600"/>
<path d="M651.6 1776.2h48.5v2.1h-48.5zM651.6 1870.9h48.5v3.1h-48.5zM651.6 2347.4h48.5v3.1h-48.5z" fill="#fae600"/>
<path d="M651.6 1778h48.5v2.1h-48.5z" fill="#ebed00"/>
<path d="M651.6 1783.7h48.5v2.1h-48.5zM651.6 1983.4h48.5v2.1h-48.5zM651.6 2083.8h48.5v2.1h-48.5zM651.6 2196.9h48.5v2.3h-48.5z" fill="#ff8900"/>
<path d="M651.6 1787.4h48.5v2.1h-48.5z" fill="#ff9300"/>
<path d="M651.6 1798.7h48.5v2.1h-48.5zM651.6 1926.5h48.5v2.4h-48.5zM651.6 1989.1h48.5v2.1h-48.5zM651.6 2310.7h48.5v2.2h-48.5z" fill="#ff5e00"/>
<path d="M651.6 1808h48.5v2.1h-48.5zM651.6 1914h48.5v3.1h-48.5zM651.6 2061.3h48.5v2.1h-48.5zM651.6 2288.3h48.5v2.1h-48.5z" fill="#ff9800"/>
<path d="M651.6 1813.7h48.5v2.1h-48.5zM651.6 1987.2h48.5v2.1h-48.5zM651.6 2236.2h48.5v2.2h-48.5zM651.6 2305h48.5v2.2h-48.5zM651.6 2361.4h48.5v2.1h-48.5z" fill="#ff4700"/>
<path d="M651.6 1815.6h48.5v2.1h-48.5z" fill="#cbfc00"/>
<path d="M651.6 1817.4h48.5v2.1h-48.5z" fill="#c4fe00"/>
<path d="M651.6 1819.3h48.5v2.1h-48.5zM651.6 1944h48.5v2.1h-48.5zM651.6 2001.3h48.5v2.1h-48.5z" fill="#ff4100"/>
<path d="M651.6 1839h48.5v2.1h-48.5zM651.6 1844.6h48.5v2.1h-48.5zM651.6 1947.8h48.5v2.1h-48.5zM651.6 2042.5h48.5v2.1h-48.5zM651.6 2172.7h48.5v2.3h-48.5zM651.6 2230.2h48.5v2.2h-48.5z" fill="#ff3900"/>
<path d="M651.6 1850.3h48.5v2.1h-48.5zM651.6 1964.7h48.5v2.1h-48.5zM651.6 2091.8h48.5v2.4h-48.5zM651.6 2180.6h48.5v3.9h-48.5z" fill="#ff3e00"/>
<path d="M651.6 1852.1h48.5v2.1h-48.5zM651.6 1928.7h48.5v2.4h-48.5zM651.6 2040.7h48.5v2.1h-48.5zM651.6 2170.6h48.5v2.3h-48.5z" fill="#ff4400"/>
<path d="M651.6 1855.9h48.5v2.1h-48.5z" fill="#f5e900"/>
<path d="M651.6 1862.4h48.5v2.1h-48.5z" fill="#fde500"/>
<path d="M651.6 1866.2h48.5v2.1h-48.5z" fill="#ff4c00"/>
<path d="M651.6 1868.1h48.5v3.1h-48.5z" fill="#b0fe02"/>
<path d="M651.6 1885.8h48.5v2.3h-48.5z" fill="#ff7200"/>
<path d="M651.6 1897.2h48.5v3.1h-48.5zM651.6 2008.8h48.5v3.1h-48.5z" fill="#ffb100"/>
<path d="M651.6 1901.8h48.5v2.7h-48.5z" fill="#cafc00"/>
<path d="M651.6 1922.5h48.5v2.1h-48.5zM651.6 2248.5h48.5v2.3h-48.5z" fill="#ff5900"/>
<path d="M651.6 1975h48.5v2.5h-48.5z" fill="#ffc200"/>
<path d="M651.6 2013.5h48.5v3.1h-48.5z" fill="#ffac00"/>
<path d="M651.6 2030.9h48.5v2.2h-48.5z" fill="#ff7600"/>
<path d="M651.6 2057.5h48.5v2.1h-48.5z" fill="#def300"/>
<path d="M651.6 2063.2h48.5v2.1h-48.5zM651.6 2066.9h48.5v2.1h-48.5zM651.6 2109.1h48.5v2.1h-48.5zM651.6 2200.9h48.5v2.3h-48.5z" fill="#ff7b00"/>
<path d="M651.6 2070.7h48.5v2.1h-48.5zM651.6 2148.5h48.5v2.1h-48.5z" fill="#ff6b00"/>
<path d="M651.6 2072.5h48.5v3.1h-48.5z" fill="#ffa600"/>
<path d="M651.6 2107.2h48.5v2.1h-48.5z" fill="#ffa000"/>
<path d="M651.6 2112.9h48.5v2.5h-48.5z" fill="#ffe000"/>
<path d="M651.6 2157.9h48.5v2.5h-48.5z" fill="#ffc600"/>
<path d="M651.6 2186h48.5v3.1h-48.5z" fill="#ffd100"/>
<path d="M651.6 2198.9h48.5v2.3h-48.5z" fill="#ff7700"/>
<path d="M651.6 2217.8h48.5v2.3h-48.5zM651.6 2278.9h48.5v2.6h-48.5zM651.6 2353.9h48.5v2.1h-48.5z" fill="#ff7300"/>
<path d="M651.6 2219.8h48.5v2.4h-48.5z" fill="#ffc700"/>
<path d="M651.6 2221.9h48.5v2.4h-48.5z" fill="#ffb300"/>
<path d="M651.6 2224h48.5v2.4h-48.5z" fill="#ffce00"/>
<path d="M651.6 2226.1h48.5v2.4h-48.5z" fill="#ffaa00"/>
<path d="M651.6 2238.2h48.5v2.2h-48.5z" fill="#ff4800"/>
<path d="M651.6 2244.2h48.5v3.1h-48.5z" fill="#ffd500"/>
<path d="M651.6 2247h48.5v1.8h-48.5z" fill="#ffe200"/>
<path d="M651.6 2292h48.5v1.9h-48.5z" fill="#a9fd03"/>
<path d="M651.6 2345.5h48.5v2.1h-48.5z" fill="#ff7000"/>
<path d="M699.9 1295.7h48.6v1.4h-48.6zM699.9 1811.8h48.6v2.1h-48.6zM699.9 1926.5h48.6v2.4h-48.6zM699.9 2139.6h48.6v2.6h-48.6zM699.9 2152.3h48.6v2.1h-48.6z" fill="#ff5c00"/>
<path d="M699.9 1296.9h48.6v2.1h-48.6zM699.9 1318.4h48.6v4h-48.6zM699.9 1516.4h48.6v2.4h-48.6zM699.9 1543.6h48.6v2.1h-48.6zM699.9 1599.8h48.6v2.1h-48.6zM699.9 1992.8h48.6v2.1h-48.6zM699.9 2075.4h48.6v2.4h-48.6zM699.9 2093.9h48.6v2.4h-48.6zM699.9 2143.8h48.6v2.1h-48.6zM699.9 2172.7h48.6v2.3h-48.6zM699.9 2263.7h48.6v2.2h-48.6zM699.9 2370.8h48.6v2.1h-48.6z" fill="#ff3b00"/>
<path d="M699.9 1298.8h48.6v2.1h-48.6zM699.9 1520.7h48.6v2.4h-48.6zM699.9 1603.6h48.6v2.1h-48.6zM699.9 1830.6h48.6v2.1h-48.6zM699.9 1959.1h48.6v2.1h-48.6zM699.9 1964.7h48.6v2.1h-48.6zM699.9 1987.2h48.6v2.1h-48.6zM699.9 2024.9h48.6v2.2h-48.6zM699.9 2036.9h48.6v2.1h-48.6zM699.9 2053.8h48.6v2.1h-48.6zM699.9 2087.6h48.6v2.4h-48.6zM699.9 2164.3h48.6v2.3h-48.6zM699.9 2170.6h48.6v2.3h-48.6zM699.9 2178.8h48.6v2.1h-48.6zM699.9 2238.2h48.6v4.2h-48.6zM699.9 2271.4h48.6v2.1h-48.6zM699.9 2372.7h48.6v2.1h-48.6z" fill="#ff3d00"/>
<path d="M699.9 1300.6h48.6v2.1h-48.6zM699.9 1769.8h48.6v2.4h-48.6zM699.9 1828.7h48.6v2.1h-48.6zM699.9 1947.8h48.6v2.1h-48.6zM699.9 2050h48.6v4h-48.6zM699.9 2055.7h48.6v2.1h-48.6zM699.9 2202.9h48.6v2.1h-48.6zM699.9 2256h48.6v2.2h-48.6zM699.9 2275.1h48.6v2.1h-48.6zM699.9 2367.1h48.6v2.1h-48.6z" fill="#ff3600"/>
<path d="M699.9 1302.5h48.6v3.1h-48.6zM699.9 2292h48.6v1.9h-48.6z" fill="#f4e900"/>
<path d="M699.9 1305.3h48.6v3.1h-48.6zM699.9 1312.8h48.6v2.1h-48.6zM699.9 1341h48.6v2.1h-48.6zM699.9 1347.5h48.6v3.1h-48.6zM699.9 1852.1h48.6v2.1h-48.6zM699.9 1945.9h48.6v2.1h-48.6zM699.9 1962.8h48.6v2.1h-48.6zM699.9 2006.9h48.6v2.1h-48.6zM699.9 2184.2h48.6v2.1h-48.6z" fill="#ff3500"/>
<path d="M699.9 1308.1h48.6v2.6h-48.6zM699.9 1850.3h48.6v2.1h-48.6zM699.9 2026.9h48.6v4.2h-48.6zM699.9 2032.9h48.6v2.2h-48.6zM699.9 2180.6h48.6v2.1h-48.6z" fill="#ff3e00"/>
<path d="M699.9 1310.5h48.6v2.6h-48.6zM699.9 1703h48.6v2.1h-48.6zM699.9 1826.8h48.6v2.1h-48.6zM699.9 2232.2h48.6v2.2h-48.6zM699.9 2267.6h48.6v2.2h-48.6zM699.9 2378.3h48.6v2.1h-48.6z" fill="#ff3900"/>
<path d="M699.9 1314.7h48.6v2.1h-48.6zM699.9 1472.3h48.6v3.1h-48.6zM699.9 1719.9h48.6v2.1h-48.6zM699.9 1771.9h48.6v2.4h-48.6zM699.9 1819.3h48.6v2.1h-48.6zM699.9 1823.1h48.6v4h-48.6zM699.9 1840.9h48.6v2.1h-48.6zM699.9 1848.4h48.6v2.1h-48.6zM699.9 2042.5h48.6v2.1h-48.6zM699.9 2142h48.6v2.1h-48.6zM699.9 2242.2h48.6v2.2h-48.6z" fill="#ff3800"/>
<path d="M699.9 1316.6h48.6v2.1h-48.6zM699.9 1462h48.6v2.6h-48.6zM699.9 1518.5h48.6v2.4h-48.6zM699.9 1634.2h48.6v2.4h-48.6zM699.9 1960.9h48.6v2.1h-48.6zM699.9 2005h48.6v2.1h-48.6zM699.9 2079.7h48.6v2.4h-48.6zM699.9 2168.5h48.6v2.3h-48.6zM699.9 2257.9h48.6v2.2h-48.6zM699.9 2273.3h48.6v2.1h-48.6z" fill="#ff3a00"/>
<path d="M699.9 1322.2h48.6v2.1h-48.6zM699.9 1329.2h48.6v2.6h-48.6zM699.9 1767.7h48.6v2.4h-48.6zM699.9 1842.8h48.6v2.1h-48.6zM699.9 2277h48.6v2.1h-48.6z" fill="#ff4100"/>
<path d="M699.9 1324.1h48.6v3.1h-48.6zM699.9 1358.8h48.6v4h-48.6zM699.9 1560.4h48.6v2.1h-48.6z" fill="#ff8e00"/>
<path d="M699.9 1326.9h48.6v2.6h-48.6zM699.9 1376.1h48.6v2.6h-48.6zM699.9 1632h48.6v2.4h-48.6zM699.9 1998.9h48.6v2.6h-48.6zM699.9 2021h48.6v2.2h-48.6zM699.9 2044.4h48.6v2.1h-48.6zM699.9 2048.2h48.6v2.1h-48.6zM699.9 2077.5h48.6v2.4h-48.6zM699.9 2089.7h48.6v2.4h-48.6zM699.9 2259.9h48.6v2.2h-48.6zM699.9 2374.6h48.6v2.1h-48.6z" fill="#ff3f00"/>
<path d="M699.9 1331.6h48.6v2.4h-48.6zM699.9 1618.6h48.6v2.4h-48.6zM699.9 1796.8h48.6v2.1h-48.6zM699.9 1873.7h48.6v2.3h-48.6zM699.9 1883.8h48.6v2.3h-48.6z" fill="#ff5700"/>
<path d="M699.9 1333.8h48.6v2.4h-48.6zM699.9 1402.9h48.6v3.1h-48.6zM699.9 1420.7h48.6v2.1h-48.6zM699.9 1443.2h48.6v2.1h-48.6zM699.9 1489.6h48.6v2.3h-48.6zM699.9 1554.8h48.6v2.1h-48.6zM699.9 1802.4h48.6v2.1h-48.6zM699.9 1860.1h48.6v2.6h-48.6zM699.9 2283.6h48.6v3.1h-48.6z" fill="#ff5800"/>
<path d="M699.9 1336h48.6v2.4h-48.6zM699.9 1446.9h48.6v2.1h-48.6zM699.9 1908.2h48.6v2.2h-48.6zM699.9 2150.4h48.6v2.1h-48.6zM699.9 2250.6h48.6v2.3h-48.6zM699.9 2297.3h48.6v2.2h-48.6z" fill="#ff6100"/>
<path d="M699.9 1338.1h48.6v3.1h-48.6zM699.9 2065h48.6v4h-48.6zM699.9 2072.5h48.6v3.1h-48.6zM699.9 2196.9h48.6v2.3h-48.6zM699.9 2252.6h48.6v1.9h-48.6zM699.9 2355.8h48.6v2.1h-48.6z" fill="#ff7e00"/>
<path d="M699.9 1342.8h48.6v2.1h-48.6zM699.9 1545.4h48.6v2.1h-48.6zM699.9 1571.7h48.6v2.1h-48.6zM699.9 2046.3h48.6v2.1h-48.6z" fill="#ff4300"/>
<path d="M699.9 1344.7h48.6v3.1h-48.6zM699.9 1428.8h48.6v2.4h-48.6zM699.9 1936.5h48.6v2.1h-48.6z" fill="#ff7c00"/>
<path d="M699.9 1350.3h48.6v2.4h-48.6zM699.9 1657h48.6v2.1h-48.6zM699.9 1707.7h48.6v2.6h-48.6zM699.9 1920.6h48.6v2.1h-48.6zM699.9 1956.7h48.6v2.6h-48.6zM699.9 2111h48.6v2.1h-48.6zM699.9 2322h48.6v2.1h-48.6z" fill="#ff6200"/>
<path d="M699.9 1352.5h48.6v2.4h-48.6zM699.9 1483.5h48.6v2.3h-48.6zM699.9 1754.9h48.6v2.4h-48.6z" fill="#ff5b00"/>
<path d="M699.9 1354.7h48.6v2.4h-48.6zM699.9 1422.6h48.6v2.1h-48.6zM699.9 1569.8h48.6v2.1h-48.6zM699.9 1622.8h48.6v2.4h-48.6zM699.9 2119.2h48.6v4.3h-48.6zM699.9 2338h48.6v2.1h-48.6z" fill="#ff5500"/>
<path d="M699.9 1356.9h48.6v2.1h-48.6zM699.9 1367.2h48.6v2.1h-48.6zM699.9 1452.6h48.6v2.1h-48.6zM699.9 1511.7h48.6v2.1h-48.6zM699.9 1696.4h48.6v2.1h-48.6zM699.9 2357.7h48.6v2.1h-48.6z" fill="#ff8500"/>
<path d="M699.9 1362.5h48.6v3.1h-48.6z" fill="#ffc700"/>
<path d="M699.9 1365.3h48.6v2.1h-48.6z" fill="#ff3400"/>
<path d="M699.9 1369.1h48.6v2.1h-48.6zM699.9 1415.1h48.6v2.1h-48.6zM699.9 2174.8h48.6v2.5h-48.6z" fill="#ff7300"/>
<path d="M699.9 1371h48.6v3.1h-48.6zM699.9 1527.6h48.6v2.1h-48.6zM699.9 1662.7h48.6v2.1h-48.6zM699.9 2200.9h48.6v2.3h-48.6z" fill="#ff7d00"/>
<path d="M699.9 1373.8h48.6v2.6h-48.6zM699.9 1491.7h48.6v2.3h-48.6zM699.9 1592.3h48.6v2.1h-48.6zM699.9 1763h48.6v2.1h-48.6zM699.9 1928.7h48.6v2.4h-48.6zM699.9 1949.7h48.6v2.1h-48.6zM699.9 1996.6h48.6v2.6h-48.6zM699.9 2091.8h48.6v2.4h-48.6zM699.9 2234.2h48.6v2.2h-48.6z" fill="#ff4400"/>
<path d="M699.9 1378.5h48.6v2.4h-48.6zM699.9 1900h48.6v2.1h-48.6zM699.9 2125.2h48.6v2.3h-48.6zM699.9 2209.6h48.6v2.3h-48.6zM699.9 2365.2h48.6v2.1h-48.6z" fill="#ff6500"/>
<path d="M699.9 1380.7h48.6v2.4h-48.6zM699.9 1655.2h48.6v2.1h-48.6zM699.9 1698.3h48.6v2.6h-48.6zM699.9 1809.9h48.6v2.1h-48.6zM699.9 1892.5h48.6v2.6h-48.6zM699.9 2129.2h48.6v2.3h-48.6zM699.9 2248.5h48.6v2.3h-48.6zM699.9 2325.8h48.6v2.1h-48.6z" fill="#ff5d00"/>
<path d="M699.9 1382.9h48.6v2.4h-48.6zM699.9 1470.4h48.6v2.1h-48.6zM699.9 1692.7h48.6v2.1h-48.6zM699.9 1728.8h48.6v2.6h-48.6zM699.9 1793h48.6v2.1h-48.6zM699.9 1798.7h48.6v2.1h-48.6zM699.9 1922.5h48.6v2.1h-48.6z" fill="#ff5900"/>
<path d="M699.9 1385h48.6v2.6h-48.6zM699.9 1983.4h48.6v2.1h-48.6z" fill="#ff8f00"/>
<path d="M699.9 1387.4h48.6v2.6h-48.6zM699.9 1724.6h48.6v2.1h-48.6zM699.9 1975h48.6v2.5h-48.6z" fill="#ff9600"/>
<path d="M699.9 1389.7h48.6v2.1h-48.6z" fill="#fae600"/>
<path d="M699.9 1391.6h48.6v2.1h-48.6zM699.9 1721.8h48.6v3.1h-48.6zM699.9 2347.4h48.6v3.1h-48.6z" fill="#ffe300"/>
<path d="M699.9 1393.5h48.6v2.4h-48.6zM699.9 1501.6h48.6v2.4h-48.6zM699.9 1716.1h48.6v2.1h-48.6zM699.9 2137.3h48.6v2.6h-48.6z" fill="#ff6000"/>
<path d="M699.9 1395.7h48.6v2.4h-48.6zM699.9 1629.8h48.6v2.4h-48.6zM699.9 1864.3h48.6v2.1h-48.6zM699.9 1989.1h48.6v2.1h-48.6zM699.9 2299.2h48.6v2.2h-48.6z" fill="#ff4800"/>
<path d="M699.9 1397.9h48.6v2.4h-48.6zM699.9 1541.7h48.6v2.1h-48.6zM699.9 1774h48.6v2.4h-48.6zM699.9 1924.4h48.6v2.4h-48.6zM699.9 1951.6h48.6v3.1h-48.6z" fill="#ff4b00"/>
<path d="M699.9 1400h48.6v3.1h-48.6zM699.9 1426.6h48.6v2.4h-48.6zM699.9 1607.3h48.6v2.1h-48.6zM699.9 2226.1h48.6v2.4h-48.6zM699.9 2254.3h48.6v1.9h-48.6z" fill="#ff8300"/>
<path d="M699.9 1405.7h48.6v2.1h-48.6zM699.9 1605.5h48.6v2.1h-48.6zM699.9 1804.3h48.6v2.1h-48.6zM699.9 1832.4h48.6v2.1h-48.6z" fill="#ff8c00"/>
<path d="M699.9 1407.6h48.6v2.1h-48.6zM699.9 2061.3h48.6v2.1h-48.6z" fill="#ff9700"/>
<path d="M699.9 1409.4h48.6v2.1h-48.6zM699.9 1448.8h48.6v2.1h-48.6zM699.9 1757.1h48.6v2.4h-48.6zM699.9 1857.8h48.6v2.6h-48.6zM699.9 2135.2h48.6v2.3h-48.6zM699.9 2333.3h48.6v2.1h-48.6z" fill="#ff5000"/>
<path d="M699.9 1411.3h48.6v2.1h-48.6zM699.9 1485.6h48.6v2.3h-48.6zM699.9 1573.6h48.6v2.1h-48.6zM699.9 1710h48.6v2.6h-48.6zM699.9 1789.3h48.6v2.1h-48.6zM699.9 1918.7h48.6v2.1h-48.6z" fill="#ff5200"/>
<path d="M699.9 1413.2h48.6v2.1h-48.6z" fill="#ffa000"/>
<path d="M699.9 1416.9h48.6v2.1h-48.6z" fill="#ffad00"/>
<path d="M699.9 1418.8h48.6v2.1h-48.6zM699.9 1475.1h48.6v2.6h-48.6zM699.9 1577.3h48.6v3.1h-48.6zM699.9 1778h48.6v2.1h-48.6z" fill="#ffb700"/>
<path d="M699.9 1424.4h48.6v2.4h-48.6zM699.9 1454.4h48.6v3.1h-48.6zM699.9 1533.9h48.6v2.4h-48.6zM699.9 1645.8h48.6v2.1h-48.6zM699.9 1664.5h48.6v2.1h-48.6zM699.9 1787.4h48.6v2.1h-48.6z" fill="#ff8700"/>
<path d="M699.9 1431h48.6v2.1h-48.6zM699.9 1598h48.6v2.1h-48.6zM699.9 1821.2h48.6v2.1h-48.6zM699.9 1839h48.6v2.1h-48.6zM699.9 1844.6h48.6v4h-48.6zM699.9 2166.4h48.6v2.3h-48.6zM699.9 2177h48.6v2.1h-48.6zM699.9 2228.2h48.6v2.2h-48.6z" fill="#ff3700"/>
<path d="M699.9 1432.9h48.6v3.1h-48.6zM699.9 2103.5h48.6v2.1h-48.6z" fill="#ff8900"/>
<path d="M699.9 1435.7h48.6v2.6h-48.6zM699.9 1586.7h48.6v2.1h-48.6zM699.9 1934.7h48.6v2.1h-48.6zM699.9 2038.8h48.6v2.1h-48.6zM699.9 2127.2h48.6v2.3h-48.6z" fill="#ff4c00"/>
<path d="M699.9 1438h48.6v2.6h-48.6zM699.9 1738.6h48.6v2.1h-48.6zM699.9 2217.8h48.6v2.3h-48.6z" fill="#ff6800"/>
<path d="M699.9 1440.4h48.6v3.1h-48.6zM699.9 1836.2h48.6v3.1h-48.6zM699.9 2101.6h48.6v2.1h-48.6zM699.9 2115.1h48.6v2.3h-48.6zM699.9 2133.2h48.6v2.3h-48.6zM699.9 2204.8h48.6v3.1h-48.6zM699.9 2312.6h48.6v2.2h-48.6zM699.9 2316.4h48.6v2.1h-48.6z" fill="#ff6600"/>
<path d="M699.9 1445.1h48.6v2.1h-48.6zM699.9 1647.7h48.6v2.1h-48.6zM699.9 1687.1h48.6v2.1h-48.6zM699.9 1881.7h48.6v2.3h-48.6zM699.9 1954.4h48.6v2.6h-48.6zM699.9 1981.6h48.6v2.1h-48.6zM699.9 2063.2h48.6v2.1h-48.6zM699.9 2154.1h48.6v2.1h-48.6z" fill="#ff6a00"/>
<path d="M699.9 1450.7h48.6v2.1h-48.6zM699.9 1505.8h48.6v2.4h-48.6zM699.9 1552.9h48.6v2.1h-48.6zM699.9 1690.8h48.6v2.1h-48.6zM699.9 1718h48.6v2.1h-48.6zM699.9 1875.7h48.6v2.3h-48.6zM699.9 2211.7h48.6v2.3h-48.6zM699.9 2295.4h48.6v2.2h-48.6zM699.9 2310.7h48.6v2.2h-48.6zM699.9 2331.4h48.6v2.1h-48.6zM699.9 2363.3h48.6v2.1h-48.6z" fill="#ff5a00"/>
<path d="M699.9 1457.3h48.6v4.9h-48.6z" fill="#ffb500"/>
<path d="M699.9 1464.3h48.6v2.6h-48.6zM699.9 1556.7h48.6v2.1h-48.6zM699.9 1584.8h48.6v2.1h-48.6zM699.9 2003.1h48.6v2.1h-48.6z" fill="#ff4900"/>
<path d="M699.9 1466.6h48.6v2.1h-48.6zM699.9 1493.7h48.6v2.3h-48.6z" fill="#ff4a00"/>
<path d="M699.9 1468.5h48.6v2.1h-48.6zM699.9 2207.6h48.6v2.3h-48.6zM699.9 2303.1h48.6v2.2h-48.6zM699.9 2314.5h48.6v2.1h-48.6zM699.9 2320.2h48.6v2.1h-48.6zM699.9 2327.7h48.6v2.1h-48.6zM699.9 2359.6h48.6v2.1h-48.6z" fill="#ff5300"/>
<path d="M699.9 1477.4h48.6v2.6h-48.6zM699.9 1582h48.6v3.1h-48.6zM699.9 1653.3h48.6v2.1h-48.6z" fill="#ffbb00"/>
<path d="M699.9 1479.8h48.6v2.1h-48.6zM699.9 1660.8h48.6v2.1h-48.6zM699.9 1808h48.6v2.1h-48.6zM699.9 1914h48.6v3.1h-48.6zM699.9 2083.8h48.6v2.1h-48.6z" fill="#ff8800"/>
<path d="M699.9 1481.6h48.6v2.1h-48.6zM699.9 1558.6h48.6v2.1h-48.6zM699.9 1887.8h48.6v2.6h-48.6z" fill="#ff8600"/>
<path d="M699.9 1487.6h48.6v2.3h-48.6zM699.9 1688.9h48.6v2.1h-48.6zM699.9 1759.3h48.6v2.1h-48.6zM699.9 1973.1h48.6v2.1h-48.6z" fill="#ff5f00"/>
<path d="M699.9 1495.7h48.6v2.1h-48.6z" fill="#b1fe02"/>
<path d="M699.9 1497.6h48.6v2.1h-48.6z" fill="#b3fe02"/>
<path d="M699.9 1499.5h48.6v2.4h-48.6zM699.9 1614.8h48.6v2.1h-48.6zM699.9 1745.2h48.6v4h-48.6zM699.9 1904.3h48.6v2.2h-48.6zM699.9 2156h48.6v2.1h-48.6zM699.9 2323.9h48.6v2.1h-48.6z" fill="#ff4e00"/>
<path d="M699.9 1503.7h48.6v2.4h-48.6zM699.9 1616.7h48.6v2.1h-48.6zM699.9 1685.2h48.6v2.1h-48.6zM699.9 1700.7h48.6v2.6h-48.6zM699.9 1894.8h48.6v2.6h-48.6zM699.9 2011.6h48.6v2.1h-48.6zM699.9 2335.2h48.6v3.1h-48.6z" fill="#ff5600"/>
<path d="M699.9 1507.9h48.6v2.1h-48.6zM699.9 1694.6h48.6v2.1h-48.6zM699.9 2008.8h48.6v3.1h-48.6zM699.9 2081.9h48.6v2.1h-48.6z" fill="#ff8400"/>
<path d="M699.9 1509.8h48.6v2.1h-48.6zM699.9 1594.2h48.6v2.1h-48.6z" fill="#ff8000"/>
<path d="M699.9 1513.5h48.6v3.1h-48.6z" fill="#ffe400"/>
<path d="M699.9 1522.9h48.6v3.1h-48.6zM699.9 1672h48.6v3.1h-48.6z" fill="#ff8a00"/>
<path d="M699.9 1525.7h48.6v2.1h-48.6zM699.9 2099.7h48.6v2.1h-48.6z" fill="#ff7a00"/>
<path d="M699.9 1529.5h48.6v2.4h-48.6zM699.9 1779.9h48.6v2.1h-48.6z" fill="#ff9400"/>
<path d="M699.9 1531.7h48.6v2.4h-48.6zM699.9 1785.5h48.6v2.1h-48.6zM699.9 2085.7h48.6v2.1h-48.6zM699.9 2290.1h48.6v2.1h-48.6z" fill="#ff7800"/>
<path d="M699.9 1536h48.6v2.1h-48.6zM699.9 1575.4h48.6v2.1h-48.6zM699.9 1679.2h48.6v2.4h-48.6zM699.9 1781.8h48.6v2.1h-48.6zM699.9 1966.6h48.6v2.6h-48.6zM699.9 2068.8h48.6v2.1h-48.6z" fill="#ff7900"/>
<path d="M699.9 1537.9h48.6v2.1h-48.6zM699.9 1596.1h48.6v2.1h-48.6zM699.9 1979.7h48.6v2.1h-48.6z" fill="#ff7400"/>
<path d="M699.9 1539.8h48.6v2.1h-48.6zM699.9 1677.1h48.6v2.4h-48.6zM699.9 1750.8h48.6v2.1h-48.6zM699.9 1800.5h48.6v2.1h-48.6zM699.9 1879.7h48.6v2.3h-48.6zM699.9 1932.8h48.6v2.1h-48.6z" fill="#ff6b00"/>
<path d="M699.9 1547.3h48.6v2.1h-48.6z" fill="#ffb200"/>
<path d="M699.9 1549.2h48.6v2.1h-48.6z" fill="#ffa400"/>
<path d="M699.9 1551.1h48.6v2.1h-48.6zM699.9 1704.9h48.6v3.1h-48.6zM699.9 1854h48.6v2.1h-48.6z" fill="#ffb600"/>
<path d="M699.9 1562.3h48.6v2.6h-48.6zM699.9 1776.2h48.6v2.1h-48.6z" fill="#ffb300"/>
<path d="M699.9 1564.7h48.6v2.6h-48.6z" fill="#ffaa00"/>
<path d="M699.9 1567h48.6v3.1h-48.6zM699.9 1944h48.6v2.1h-48.6zM699.9 1990.9h48.6v2.1h-48.6zM699.9 2182.4h48.6v2.1h-48.6zM699.9 2269.5h48.6v2.1h-48.6z" fill="#ff3c00"/>
<path d="M699.9 1580.1h48.6v2.1h-48.6zM699.9 1752.7h48.6v2.4h-48.6zM699.9 1877.7h48.6v2.3h-48.6z" fill="#ff5e00"/>
<path d="M699.9 1588.6h48.6v2.1h-48.6zM699.9 2352h48.6v2.1h-48.6z" fill="#ff7200"/>
<path d="M699.9 1590.4h48.6v2.1h-48.6zM699.9 1736.8h48.6v2.1h-48.6zM699.9 2213.7h48.6v2.3h-48.6z" fill="#ff4f00"/>
<path d="M699.9 1601.7h48.6v2.1h-48.6zM699.9 1985.3h48.6v2.1h-48.6zM699.9 2023h48.6v2.2h-48.6zM699.9 2160.1h48.6v2.3h-48.6zM699.9 2236.2h48.6v2.2h-48.6z" fill="#ff4200"/>
<path d="M699.9 1609.2h48.6v2.1h-48.6zM699.9 1649.5h48.6v2.1h-48.6z" fill="#ffab00"/>
<path d="M699.9 1611.1h48.6v2.1h-48.6zM699.9 2059.4h48.6v2.1h-48.6z" fill="#ffbc00"/>
<path d="M699.9 1613h48.6v2.1h-48.6zM699.9 2301.1h48.6v2.2h-48.6zM699.9 2318.3h48.6v2.1h-48.6z" fill="#ff6700"/>
<path d="M699.9 1620.7h48.6v2.4h-48.6zM699.9 1749h48.6v2.1h-48.6z" fill="#ff6d00"/>
<path d="M699.9 1624.9h48.6v2.4h-48.6zM699.9 1712.4h48.6v2.1h-48.6zM699.9 1813.7h48.6v2.1h-48.6zM699.9 1910.1h48.6v2.2h-48.6zM699.9 2117.1h48.6v2.3h-48.6zM699.9 2123.2h48.6v2.3h-48.6zM699.9 2308.8h48.6v2.2h-48.6zM699.9 2339.9h48.6v2.1h-48.6zM699.9 2361.4h48.6v2.1h-48.6z" fill="#ff5400"/>
<path d="M699.9 1627h48.6v3.1h-48.6z" fill="#c2ff00"/>
<path d="M699.9 1636.4h48.6v3.1h-48.6z" fill="#d7f600"/>
<path d="M699.9 1639.2h48.6v2.1h-48.6zM699.9 1806.2h48.6v2.1h-48.6zM699.9 2188.8h48.6v2.3h-48.6z" fill="#ff8d00"/>
<path d="M699.9 1641.1h48.6v2.6h-48.6z" fill="#8afc07"/>
<path d="M699.9 1643.4h48.6v2.6h-48.6z" fill="#cafc00"/>
<path d="M699.9 1651.4h48.6v2.1h-48.6z" fill="#ffa500"/>
<path d="M699.9 1658.9h48.6v2.1h-48.6zM699.9 2131.2h48.6v2.3h-48.6z" fill="#ff6f00"/>
<path d="M699.9 1666.4h48.6v2.1h-48.6zM699.9 1916.8h48.6v2.1h-48.6zM699.9 2018.1h48.6v3.1h-48.6z" fill="#ff6c00"/>
<path d="M699.9 1668.3h48.6v2.1h-48.6zM699.9 1761.2h48.6v2.1h-48.6zM699.9 2341.7h48.6v2.1h-48.6z" fill="#ff6900"/>
<path d="M699.9 1670.2h48.6v2.1h-48.6zM699.9 1734h48.6v3.1h-48.6zM699.9 2001.3h48.6v2.1h-48.6z" fill="#ff4600"/>
<path d="M699.9 1674.9h48.6v2.4h-48.6zM699.9 2013.5h48.6v3.1h-48.6z" fill="#ff7600"/>
<path d="M699.9 1681.4h48.6v2.1h-48.6z" fill="#14f741"/>
<path d="M699.9 1683.3h48.6v2.1h-48.6z" fill="#15f73c"/>
<path d="M699.9 1714.3h48.6v2.1h-48.6zM699.9 1977.3h48.6v2.7h-48.6zM699.9 2070.7h48.6v2.1h-48.6z" fill="#ff7100"/>
<path d="M699.9 1726.4h48.6v2.6h-48.6zM699.9 1791.2h48.6v2.1h-48.6zM699.9 2145.7h48.6v3.1h-48.6zM699.9 2305h48.6v4.1h-48.6zM699.9 2350.2h48.6v2.1h-48.6z" fill="#ff5100"/>
<path d="M699.9 1731.1h48.6v3.1h-48.6z" fill="#ffd400"/>
<path d="M699.9 1740.5h48.6v3.1h-48.6z" fill="#1583f4"/>
<path d="M699.9 1743.3h48.6v2.1h-48.6zM699.9 1940.3h48.6v2.1h-48.6zM699.9 2109.1h48.6v2.1h-48.6z" fill="#ff7b00"/>
<path d="M699.9 1764.9h48.6v3.1h-48.6z" fill="#edec00"/>
<path d="M699.9 1783.7h48.6v2.1h-48.6zM699.9 2107.2h48.6v2.1h-48.6z" fill="#ff9000"/>
<path d="M699.9 1794.9h48.6v2.1h-48.6zM699.9 1912.1h48.6v2.2h-48.6zM699.9 1971.2h48.6v2.1h-48.6zM699.9 2353.9h48.6v2.1h-48.6z" fill="#ff6400"/>
<path d="M699.9 1815.6h48.6v2.1h-48.6z" fill="#fbe600"/>
<path d="M699.9 1817.4h48.6v2.1h-48.6z" fill="#ffda00"/>
<path d="M699.9 1834.3h48.6v2.1h-48.6z" fill="#ff8200"/>
<path d="M699.9 1855.9h48.6v2.1h-48.6zM699.9 2244.2h48.6v3.1h-48.6z" fill="#ffb400"/>
<path d="M699.9 1862.4h48.6v2.1h-48.6z" fill="#ffb000"/>
<path d="M699.9 1866.2h48.6v2.1h-48.6zM699.9 2030.9h48.6v2.2h-48.6zM699.9 2040.7h48.6v2.1h-48.6z" fill="#ff4700"/>
<path d="M699.9 1868.1h48.6v3.1h-48.6z" fill="#c0ff00"/>
<path d="M699.9 1870.9h48.6v3.1h-48.6zM699.9 2247h48.6v1.8h-48.6z" fill="#f7e800"/>
<path d="M699.9 1885.8h48.6v2.3h-48.6zM699.9 2148.5h48.6v2.1h-48.6zM699.9 2278.9h48.6v2.6h-48.6z" fill="#ff6300"/>
<path d="M699.9 1890.1h48.6v2.6h-48.6zM699.9 1942.2h48.6v2.1h-48.6z" fill="#ff9d00"/>
<path d="M699.9 1897.2h48.6v3.1h-48.6zM699.9 1968.9h48.6v2.6h-48.6z" fill="#ff9300"/>
<path d="M699.9 1901.8h48.6v2.7h-48.6z" fill="#c5fe00"/>
<path d="M699.9 1906.2h48.6v2.2h-48.6zM699.9 2281.2h48.6v2.6h-48.6zM699.9 2329.5h48.6v2.1h-48.6zM699.9 2343.6h48.6v2.1h-48.6z" fill="#ff4d00"/>
<path d="M699.9 1930.9h48.6v2.1h-48.6zM699.9 2016.3h48.6v2.1h-48.6zM699.9 2345.5h48.6v2.1h-48.6z" fill="#ff7000"/>
<path d="M699.9 1938.4h48.6v2.1h-48.6zM699.9 2215.7h48.6v2.3h-48.6z" fill="#ff6e00"/>
<path d="M699.9 1994.7h48.6v2.1h-48.6zM699.9 2034.9h48.6v2.2h-48.6zM699.9 2162.2h48.6v2.3h-48.6zM699.9 2230.2h48.6v2.2h-48.6zM699.9 2261.8h48.6v2.2h-48.6zM699.9 2265.7h48.6v2.2h-48.6zM699.9 2368.9h48.6v2.1h-48.6zM699.9 2376.4h48.6v2.1h-48.6z" fill="#ff4000"/>
<path d="M699.9 2057.5h48.6v2.1h-48.6z" fill="#ffbf00"/>
<path d="M699.9 2096h48.6v2.1h-48.6z" fill="#ff9800"/>
<path d="M699.9 2097.9h48.6v2.1h-48.6zM699.9 2105.4h48.6v2.1h-48.6z" fill="#ff8100"/>
<path d="M699.9 2112.9h48.6v2.5h-48.6z" fill="#ffe000"/>
<path d="M699.9 2157.9h48.6v2.5h-48.6zM699.9 2219.8h48.6v2.4h-48.6zM699.9 2288.3h48.6v2.1h-48.6z" fill="#ff9a00"/>
<path d="M699.9 2186h48.6v3.1h-48.6z" fill="#ff9f00"/>
<path d="M699.9 2190.9h48.6v2.3h-48.6z" fill="#ff7500"/>
<path d="M699.9 2192.9h48.6v2.3h-48.6z" fill="#ff9b00"/>
<path d="M699.9 2194.9h48.6v2.3h-48.6zM699.9 2198.9h48.6v2.3h-48.6z" fill="#ff7700"/>
<path d="M699.9 2221.9h48.6v2.4h-48.6z" fill="#ff7f00"/>
<path d="M699.9 2224h48.6v2.4h-48.6z" fill="#ff9c00"/>
<path d="M699.9 2286.4h48.6v2.1h-48.6z" fill="#ff9200"/>
<path d="M699.9 2293.7h48.6v1.9h-48.6z" fill="#f1ea00"/>
<path d="M748.3 1295.7h46.9v1.4h-46.9zM748.3 1450.7h46.9v2.1h-46.9zM748.3 1554.8h46.9v2.1h-46.9zM748.3 1622.8h46.9v4.5h-46.9zM748.3 1670.2h46.9v2.1h-46.9zM748.3 1698.3h46.9v4.9h-46.9zM748.3 1757.1h46.9v2.4h-46.9z" fill="#ff5600"/>
<path d="M748.3 1296.9h46.9v2.1h-46.9zM748.3 1639.2h46.9v2.1h-46.9z" fill="#ff8700"/>
<path d="M748.3 1298.8h46.9v2.1h-46.9zM748.3 2070.7h46.9v2.1h-46.9z" fill="#ff7500"/>
<path d="M748.3 1300.6h46.9v2.1h-46.9zM748.3 1405.7h46.9v2.1h-46.9zM748.3 1607.3h46.9v2.1h-46.9z" fill="#ff8100"/>
<path d="M748.3 1302.5h46.9v3.1h-46.9z" fill="#a2fd04"/>
<path d="M748.3 1305.3h46.9v3.1h-46.9zM748.3 1318.4h46.9v2.1h-46.9zM748.3 1326.9h46.9v2.6h-46.9zM748.3 1373.8h46.9v2.6h-46.9zM748.3 1848.4h46.9v2.1h-46.9zM748.3 1959.1h46.9v2.1h-46.9zM748.3 2075.4h46.9v2.4h-46.9zM748.3 2143.8h46.9v2.1h-46.9zM748.3 2166.4h46.9v2.3h-46.9zM748.3 2178.8h46.9v2.1h-46.9zM748.3 2273.3h46.9v2.1h-46.9zM748.3 2367.1h46.9v2.1h-46.9z" fill="#ff3600"/>
<path d="M748.3 1308.1h46.9v2.6h-46.9zM748.3 1316.6h46.9v2.1h-46.9zM748.3 1485.6h46.9v2.3h-46.9zM748.3 1875.7h46.9v2.3h-46.9zM748.3 1906.2h46.9v2.2h-46.9zM748.3 2250.6h46.9v2.3h-46.9zM748.3 2308.8h46.9v2.2h-46.9zM748.3 2359.6h46.9v2.1h-46.9z" fill="#ff5700"/>
<path d="M748.3 1310.5h46.9v2.6h-46.9zM748.3 1569.8h46.9v2.1h-46.9zM748.3 1745.2h46.9v2.1h-46.9zM748.3 1924.4h46.9v2.4h-46.9zM748.3 2152.3h46.9v2.1h-46.9zM748.3 2303.1h46.9v2.2h-46.9zM748.3 2325.8h46.9v2.1h-46.9z" fill="#ff5500"/>
<path d="M748.3 1312.8h46.9v2.1h-46.9zM748.3 1378.5h46.9v2.4h-46.9zM748.3 1443.2h46.9v2.1h-46.9zM748.3 1588.6h46.9v2.1h-46.9zM748.3 1716.1h46.9v2.1h-46.9zM748.3 1836.2h46.9v3.1h-46.9zM748.3 2030.9h46.9v2.2h-46.9zM748.3 2139.6h46.9v2.6h-46.9zM748.3 2312.6h46.9v2.2h-46.9zM748.3 2365.2h46.9v2.1h-46.9z" fill="#ff6100"/>
<path d="M748.3 1314.7h46.9v2.1h-46.9zM748.3 2299.2h46.9v2.2h-46.9z" fill="#ff4a00"/>
<path d="M748.3 1320.3h46.9v2.1h-46.9zM748.3 1342.8h46.9v2.1h-46.9zM748.3 2162.2h46.9v2.3h-46.9zM748.3 2230.2h46.9v2.2h-46.9zM748.3 2372.7h46.9v2.1h-46.9z" fill="#ff3e00"/>
<path d="M748.3 1322.2h46.9v2.1h-46.9zM748.3 1329.2h46.9v2.6h-46.9zM748.3 1462h46.9v4.9h-46.9zM748.3 1774h46.9v2.4h-46.9zM748.3 1918.7h46.9v2.1h-46.9zM748.3 1944h46.9v2.1h-46.9zM748.3 1990.9h46.9v4h-46.9z" fill="#ff4300"/>
<path d="M748.3 1324.1h46.9v3.1h-46.9zM748.3 1529.5h46.9v2.4h-46.9zM748.3 2065h46.9v2.1h-46.9z" fill="#ff9100"/>
<path d="M748.3 1331.6h46.9v2.4h-46.9zM748.3 1411.3h46.9v2.1h-46.9zM748.3 1440.4h46.9v3.1h-46.9zM748.3 1580.1h46.9v2.1h-46.9zM748.3 1809.9h46.9v2.1h-46.9zM748.3 1881.7h46.9v2.3h-46.9zM748.3 1994.7h46.9v2.1h-46.9z" fill="#ff5d00"/>
<path d="M748.3 1333.8h46.9v2.4h-46.9zM748.3 1352.5h46.9v4.6h-46.9zM748.3 1402.9h46.9v3.1h-46.9zM748.3 1468.5h46.9v2.1h-46.9zM748.3 1759.3h46.9v2.1h-46.9zM748.3 2123.2h46.9v2.3h-46.9zM748.3 2261.8h46.9v4.1h-46.9zM748.3 2320.2h46.9v2.1h-46.9z" fill="#ff4e00"/>
<path d="M748.3 1336h46.9v2.4h-46.9zM748.3 1811.8h46.9v2.1h-46.9zM748.3 1877.7h46.9v2.3h-46.9zM748.3 1900h46.9v2.1h-46.9zM748.3 2213.7h46.9v2.3h-46.9z" fill="#ff6000"/>
<path d="M748.3 1338.1h46.9v3.1h-46.9zM748.3 1887.8h46.9v2.6h-46.9zM748.3 2254.3h46.9v1.9h-46.9z" fill="#ff8c00"/>
<path d="M748.3 1341h46.9v2.1h-46.9zM748.3 1543.6h46.9v2.1h-46.9zM748.3 1603.6h46.9v2.1h-46.9zM748.3 1629.8h46.9v2.4h-46.9zM748.3 1634.2h46.9v2.4h-46.9zM748.3 1964.7h46.9v2.1h-46.9zM748.3 2053.8h46.9v2.1h-46.9zM748.3 2202.9h46.9v2.1h-46.9z" fill="#ff3800"/>
<path d="M748.3 1344.7h46.9v3.1h-46.9z" fill="#ffb200"/>
<path d="M748.3 1347.5h46.9v3.1h-46.9zM748.3 1520.7h46.9v2.4h-46.9zM748.3 1840.9h46.9v2.1h-46.9zM748.3 1844.6h46.9v2.1h-46.9zM748.3 2005h46.9v2.1h-46.9zM748.3 2044.4h46.9v2.1h-46.9zM748.3 2055.7h46.9v2.1h-46.9zM748.3 2160.1h46.9v2.3h-46.9zM748.3 2180.6h46.9v2.1h-46.9zM748.3 2228.2h46.9v2.2h-46.9z" fill="#ff3500"/>
<path d="M748.3 1350.3h46.9v2.4h-46.9zM748.3 1487.6h46.9v2.3h-46.9zM748.3 1932.8h46.9v2.1h-46.9zM748.3 1954.4h46.9v2.6h-46.9z" fill="#ff6300"/>
<path d="M748.3 1356.9h46.9v2.1h-46.9zM748.3 1371h46.9v3.1h-46.9zM748.3 2085.7h46.9v2.1h-46.9zM748.3 2200.9h46.9v2.3h-46.9z" fill="#ff8900"/>
<path d="M748.3 1358.8h46.9v2.1h-46.9zM748.3 1645.8h46.9v2.1h-46.9zM748.3 1794.9h46.9v2.1h-46.9zM748.3 2061.3h46.9v2.1h-46.9z" fill="#ff8d00"/>
<path d="M748.3 1360.7h46.9v2.1h-46.9zM748.3 1385h46.9v2.6h-46.9zM748.3 1424.4h46.9v2.4h-46.9zM748.3 1432.9h46.9v3.1h-46.9zM748.3 1533.9h46.9v2.4h-46.9z" fill="#ff8200"/>
<path d="M748.3 1362.5h46.9v3.1h-46.9zM748.3 1854h46.9v2.1h-46.9z" fill="#f0eb00"/>
<path d="M748.3 1365.3h46.9v2.1h-46.9zM748.3 1668.3h46.9v2.1h-46.9zM748.3 1904.3h46.9v2.2h-46.9zM748.3 1908.2h46.9v2.2h-46.9zM748.3 2135.2h46.9v2.3h-46.9z" fill="#ff5c00"/>
<path d="M748.3 1367.2h46.9v2.1h-46.9zM748.3 1806.2h46.9v2.1h-46.9z" fill="#ffb100"/>
<path d="M748.3 1369.1h46.9v2.1h-46.9z" fill="#ff9900"/>
<path d="M748.3 1376.1h46.9v2.6h-46.9zM748.3 1516.4h46.9v2.4h-46.9zM748.3 2168.5h46.9v2.3h-46.9zM748.3 2184.2h46.9v2.1h-46.9zM748.3 2277h46.9v2.1h-46.9zM748.3 2374.6h46.9v2.1h-46.9z" fill="#ff4000"/>
<path d="M748.3 1380.7h46.9v2.4h-46.9zM748.3 2211.7h46.9v2.3h-46.9zM748.3 2265.7h46.9v2.2h-46.9zM748.3 2281.2h46.9v2.6h-46.9z" fill="#ff4d00"/>
<path d="M748.3 1382.9h46.9v2.4h-46.9zM748.3 1420.7h46.9v2.1h-46.9zM748.3 1620.7h46.9v2.4h-46.9zM748.3 1710h46.9v2.6h-46.9zM748.3 1879.7h46.9v2.3h-46.9z" fill="#ff5900"/>
<path d="M748.3 1387.4h46.9v2.6h-46.9zM748.3 2188.8h46.9v2.3h-46.9z" fill="#ff9c00"/>
<path d="M748.3 1389.7h46.9v2.1h-46.9zM748.3 1452.6h46.9v2.1h-46.9zM748.3 1547.3h46.9v2.1h-46.9zM748.3 2244.2h46.9v3.1h-46.9z" fill="#ffde00"/>
<path d="M748.3 1391.6h46.9v2.1h-46.9zM748.3 1551.1h46.9v2.1h-46.9zM748.3 1862.4h46.9v2.1h-46.9z" fill="#ffe400"/>
<path d="M748.3 1393.5h46.9v2.4h-46.9zM748.3 1930.9h46.9v2.1h-46.9zM748.3 2217.8h46.9v2.3h-46.9zM748.3 2259.9h46.9v2.2h-46.9z" fill="#ff7100"/>
<path d="M748.3 1395.7h46.9v2.4h-46.9zM748.3 1435.7h46.9v2.6h-46.9zM748.3 1493.7h46.9v2.3h-46.9zM748.3 1685.2h46.9v2.1h-46.9zM748.3 1747.1h46.9v2.1h-46.9zM748.3 2003.1h46.9v2.1h-46.9zM748.3 2034.9h46.9v2.2h-46.9z" fill="#ff4b00"/>
<path d="M748.3 1397.9h46.9v2.4h-46.9zM748.3 1556.7h46.9v2.1h-46.9zM748.3 1866.2h46.9v2.1h-46.9zM748.3 2207.6h46.9v2.3h-46.9z" fill="#ff4f00"/>
<path d="M748.3 1400h46.9v3.1h-46.9z" fill="#fde500"/>
<path d="M748.3 1407.6h46.9v2.1h-46.9z" fill="#ff8b00"/>
<path d="M748.3 1409.4h46.9v2.1h-46.9zM748.3 1499.5h46.9v2.4h-46.9zM748.3 1573.6h46.9v2.1h-46.9zM748.3 1614.8h46.9v2.1h-46.9zM748.3 1712.4h46.9v2.1h-46.9zM748.3 2343.6h46.9v2.1h-46.9z" fill="#ff5100"/>
<path d="M748.3 1413.2h46.9v2.1h-46.9z" fill="#ff9f00"/>
<path d="M748.3 1415.1h46.9v2.1h-46.9zM748.3 2190.9h46.9v2.3h-46.9z" fill="#ff7b00"/>
<path d="M748.3 1416.9h46.9v2.1h-46.9zM748.3 1549.2h46.9v2.1h-46.9zM748.3 2059.4h46.9v2.1h-46.9z" fill="#fce500"/>
<path d="M748.3 1418.8h46.9v2.1h-46.9zM748.3 1704.9h46.9v3.1h-46.9z" fill="#ffdf00"/>
<path d="M748.3 1422.6h46.9v2.1h-46.9zM748.3 1503.7h46.9v2.4h-46.9zM748.3 1703h46.9v2.1h-46.9zM748.3 1860.1h46.9v2.6h-46.9zM748.3 1912.1h46.9v2.2h-46.9zM748.3 1928.7h46.9v2.4h-46.9zM748.3 2156h46.9v2.1h-46.9zM748.3 2306.9h46.9v2.2h-46.9zM748.3 2333.3h46.9v2.1h-46.9z" fill="#ff5200"/>
<path d="M748.3 1426.6h46.9v2.4h-46.9z" fill="#ff7800"/>
<path d="M748.3 1428.8h46.9v2.4h-46.9zM748.3 1940.3h46.9v2.1h-46.9z" fill="#ff7400"/>
<path d="M748.3 1431h46.9v2.1h-46.9zM748.3 1483.5h46.9v2.3h-46.9zM748.3 1552.9h46.9v2.1h-46.9zM748.3 2119.2h46.9v2.3h-46.9z" fill="#ff6700"/>
<path d="M748.3 1438h46.9v2.6h-46.9zM748.3 1613h46.9v2.1h-46.9zM748.3 1761.2h46.9v2.1h-46.9zM748.3 2339.9h46.9v4h-46.9z" fill="#ff6500"/>
<path d="M748.3 1445.1h46.9v2.1h-46.9zM748.3 1752.7h46.9v2.4h-46.9zM748.3 2318.3h46.9v2.1h-46.9z" fill="#ff6d00"/>
<path d="M748.3 1446.9h46.9v2.1h-46.9zM748.3 1718h46.9v2.1h-46.9zM748.3 1738.6h46.9v2.1h-46.9zM748.3 1916.8h46.9v2.1h-46.9zM748.3 1989.1h46.9v2.1h-46.9zM748.3 2154.1h46.9v2.1h-46.9z" fill="#ff6600"/>
<path d="M748.3 1448.8h46.9v2.1h-46.9zM748.3 1545.4h46.9v2.1h-46.9zM748.3 1590.4h46.9v2.1h-46.9zM748.3 2024.9h46.9v2.2h-46.9z" fill="#ff4900"/>
<path d="M748.3 1454.4h46.9v3.1h-46.9z" fill="#ff8a00"/>
<path d="M748.3 1457.3h46.9v2.1h-46.9zM748.3 2057.5h46.9v2.1h-46.9z" fill="#ebed00"/>
<path d="M748.3 1459.1h46.9v3.1h-46.9z" fill="#f2ea00"/>
<path d="M748.3 1466.6h46.9v2.1h-46.9zM748.3 1894.8h46.9v2.6h-46.9zM748.3 1951.6h46.9v3.1h-46.9zM748.3 2032.9h46.9v2.2h-46.9zM748.3 2257.9h46.9v2.2h-46.9zM748.3 2350.2h46.9v2.1h-46.9z" fill="#ff4c00"/>
<path d="M748.3 1470.4h46.9v2.1h-46.9zM748.3 1690.8h46.9v2.1h-46.9zM748.3 2148.5h46.9v2.1h-46.9zM748.3 2283.6h46.9v3.1h-46.9z" fill="#ff6800"/>
<path d="M748.3 1472.3h46.9v3.1h-46.9zM748.3 1719.9h46.9v2.1h-46.9zM748.3 1769.8h46.9v2.4h-46.9zM748.3 1839h46.9v2.1h-46.9zM748.3 2079.7h46.9v2.4h-46.9zM748.3 2142h46.9v2.1h-46.9zM748.3 2177h46.9v2.1h-46.9zM748.3 2240.2h46.9v2.2h-46.9z" fill="#ff3700"/>
<path d="M748.3 1475.1h46.9v2.6h-46.9z" fill="#cbfc00"/>
<path d="M748.3 1477.4h46.9v2.6h-46.9z" fill="#99fc05"/>
<path d="M748.3 1479.8h46.9v2.1h-46.9zM748.3 1507.9h46.9v2.1h-46.9zM748.3 2083.8h46.9v2.1h-46.9z" fill="#ff8800"/>
<path d="M748.3 1481.6h46.9v2.1h-46.9zM748.3 1779.9h46.9v2.1h-46.9zM748.3 1783.7h46.9v2.1h-46.9zM748.3 2196.9h46.9v2.3h-46.9z" fill="#ff8e00"/>
<path d="M748.3 1489.6h46.9v2.3h-46.9zM748.3 1655.2h46.9v2.1h-46.9zM748.3 2026.9h46.9v2.2h-46.9z" fill="#ff5a00"/>
<path d="M748.3 1491.7h46.9v2.3h-46.9zM748.3 1571.7h46.9v2.1h-46.9zM748.3 1584.8h46.9v2.1h-46.9zM748.3 1791.2h46.9v2.1h-46.9zM748.3 1883.8h46.9v2.3h-46.9zM748.3 1973.1h46.9v2.1h-46.9zM748.3 2111h46.9v2.1h-46.9zM748.3 2329.5h46.9v2.1h-46.9z" fill="#ff5000"/>
<path d="M748.3 1495.7h46.9v2.1h-46.9z" fill="#2ff612"/>
<path d="M748.3 1497.6h46.9v2.1h-46.9z" fill="#19f628"/>
<path d="M748.3 1501.6h46.9v2.4h-46.9zM748.3 1541.7h46.9v2.1h-46.9zM748.3 1616.7h46.9v2.1h-46.9zM748.3 1734h46.9v3.1h-46.9zM748.3 1857.8h46.9v2.6h-46.9zM748.3 2256h46.9v2.2h-46.9z" fill="#ff5300"/>
<path d="M748.3 1505.8h46.9v2.4h-46.9zM748.3 1873.7h46.9v2.3h-46.9zM748.3 2117.1h46.9v2.3h-46.9zM748.3 2133.2h46.9v2.3h-46.9zM748.3 2295.4h46.9v2.2h-46.9zM748.3 2323.9h46.9v2.1h-46.9z" fill="#ff5800"/>
<path d="M748.3 1509.8h46.9v2.1h-46.9zM748.3 2145.7h46.9v3.1h-46.9z" fill="#ff7f00"/>
<path d="M748.3 1511.7h46.9v2.1h-46.9zM748.3 2286.4h46.9v2.1h-46.9z" fill="#ff9000"/>
<path d="M748.3 1513.5h46.9v3.1h-46.9z" fill="#f5e900"/>
<path d="M748.3 1518.5h46.9v2.4h-46.9zM748.3 1828.7h46.9v2.1h-46.9zM748.3 2051.9h46.9v2.1h-46.9z" fill="#ff3a00"/>
<path d="M748.3 1522.9h46.9v3.1h-46.9z" fill="#ffb800"/>
<path d="M748.3 1525.7h46.9v2.1h-46.9z" fill="#ff7a00"/>
<path d="M748.3 1527.6h46.9v2.1h-46.9zM748.3 1575.4h46.9v2.1h-46.9zM748.3 1781.8h46.9v2.1h-46.9zM748.3 1938.4h46.9v2.1h-46.9zM748.3 2068.8h46.9v2.1h-46.9zM748.3 2081.9h46.9v2.1h-46.9z" fill="#ff7900"/>
<path d="M748.3 1531.7h46.9v2.4h-46.9zM748.3 1666.4h46.9v2.1h-46.9zM748.3 1754.9h46.9v2.4h-46.9zM748.3 1885.8h46.9v2.3h-46.9zM748.3 1936.5h46.9v2.1h-46.9z" fill="#ff6b00"/>
<path d="M748.3 1536h46.9v2.1h-46.9z" fill="#fee400"/>
<path d="M748.3 1537.9h46.9v2.1h-46.9z" fill="#ffe000"/>
<path d="M748.3 1539.8h46.9v2.1h-46.9zM748.3 1707.7h46.9v2.6h-46.9zM748.3 1728.8h46.9v2.6h-46.9z" fill="#ff6400"/>
<path d="M748.3 1558.6h46.9v2.1h-46.9z" fill="#ff8000"/>
<path d="M748.3 1560.4h46.9v2.1h-46.9zM748.3 2066.9h46.9v2.1h-46.9z" fill="#ff8300"/>
<path d="M748.3 1562.3h46.9v2.6h-46.9zM748.3 2097.9h46.9v2.1h-46.9z" fill="#ffad00"/>
<path d="M748.3 1564.7h46.9v2.6h-46.9z" fill="#ffa400"/>
<path d="M748.3 1567h46.9v3.1h-46.9zM748.3 1687.1h46.9v2.1h-46.9zM748.3 1714.3h46.9v2.1h-46.9zM748.3 1996.6h46.9v2.6h-46.9zM748.3 2125.2h46.9v2.3h-46.9zM748.3 2297.3h46.9v2.2h-46.9zM748.3 2335.2h46.9v3.1h-46.9z" fill="#ff6a00"/>
<path d="M748.3 1577.3h46.9v3.1h-46.9z" fill="#c4ff00"/>
<path d="M748.3 1582h46.9v3.1h-46.9zM748.3 2221.9h46.9v2.4h-46.9z" fill="#ffb000"/>
<path d="M748.3 1586.7h46.9v2.1h-46.9zM748.3 2234.2h46.9v2.2h-46.9z" fill="#ff4200"/>
<path d="M748.3 1592.3h46.9v2.1h-46.9zM748.3 1736.8h46.9v2.1h-46.9zM748.3 1763h46.9v2.1h-46.9zM748.3 1985.3h46.9v4h-46.9zM748.3 2040.7h46.9v2.1h-46.9zM748.3 2267.6h46.9v2.2h-46.9z" fill="#ff4500"/>
<path d="M748.3 1594.2h46.9v2.1h-46.9zM748.3 1651.4h46.9v2.1h-46.9zM748.3 2008.8h46.9v3.1h-46.9z" fill="#ffaa00"/>
<path d="M748.3 1596.1h46.9v2.1h-46.9z" fill="#ffb500"/>
<path d="M748.3 1598h46.9v2.1h-46.9zM748.3 1852.1h46.9v2.1h-46.9zM748.3 1945.9h46.9v4h-46.9zM748.3 1962.8h46.9v2.1h-46.9zM748.3 2006.9h46.9v2.1h-46.9z" fill="#ff3400"/>
<path d="M748.3 1599.8h46.9v2.1h-46.9zM748.3 1771.9h46.9v2.4h-46.9zM748.3 1826.8h46.9v2.1h-46.9zM748.3 1949.7h46.9v2.1h-46.9zM748.3 1960.9h46.9v2.1h-46.9zM748.3 2048.2h46.9v2.1h-46.9zM748.3 2170.6h46.9v2.3h-46.9zM748.3 2368.9h46.9v2.1h-46.9z" fill="#ff4100"/>
<path d="M748.3 1601.7h46.9v2.1h-46.9zM748.3 1632h46.9v2.4h-46.9zM748.3 1767.7h46.9v2.4h-46.9zM748.3 1821.2h46.9v2.1h-46.9zM748.3 2087.6h46.9v2.4h-46.9zM748.3 2238.2h46.9v2.2h-46.9zM748.3 2275.1h46.9v2.1h-46.9zM748.3 2378.3h46.9v2.1h-46.9z" fill="#ff3b00"/>
<path d="M748.3 1605.5h46.9v2.1h-46.9z" fill="#ff9200"/>
<path d="M748.3 1609.2h46.9v2.1h-46.9z" fill="#fbe600"/>
<path d="M748.3 1611.1h46.9v2.1h-46.9z" fill="#ffd800"/>
<path d="M748.3 1618.6h46.9v2.4h-46.9zM748.3 1692.7h46.9v2.1h-46.9zM748.3 1922.5h46.9v2.1h-46.9zM748.3 2028.9h46.9v2.2h-46.9zM748.3 2121.2h46.9v2.3h-46.9zM748.3 2301.1h46.9v2.2h-46.9zM748.3 2331.4h46.9v2.1h-46.9z" fill="#ff5e00"/>
<path d="M748.3 1627h46.9v3.1h-46.9z" fill="#5ef90c"/>
<path d="M748.3 1636.4h46.9v3.1h-46.9z" fill="#5cf90c"/>
<path d="M748.3 1641.1h46.9v2.6h-46.9z" fill="#13f744"/>
<path d="M748.3 1643.4h46.9v2.6h-46.9z" fill="#4df80e"/>
<path d="M748.3 1647.7h46.9v2.1h-46.9zM748.3 1749h46.9v2.1h-46.9zM748.3 1966.6h46.9v2.6h-46.9zM748.3 2131.2h46.9v2.3h-46.9zM748.3 2204.8h46.9v3.1h-46.9zM748.3 2278.9h46.9v2.6h-46.9zM748.3 2353.9h46.9v2.1h-46.9z" fill="#ff7300"/>
<path d="M748.3 1649.5h46.9v2.1h-46.9z" fill="#ff9d00"/>
<path d="M748.3 1653.3h46.9v2.1h-46.9zM748.3 1983.4h46.9v2.1h-46.9z" fill="#ffbf00"/>
<path d="M748.3 1657h46.9v2.1h-46.9zM748.3 1920.6h46.9v2.1h-46.9zM748.3 1926.5h46.9v2.4h-46.9zM748.3 2011.6h46.9v2.1h-46.9zM748.3 2137.3h46.9v2.6h-46.9zM748.3 2310.7h46.9v2.2h-46.9zM748.3 2345.5h46.9v2.1h-46.9z" fill="#ff5f00"/>
<path d="M748.3 1658.9h46.9v2.1h-46.9zM748.3 1750.8h46.9v2.1h-46.9zM748.3 2215.7h46.9v2.3h-46.9z" fill="#ff6f00"/>
<path d="M748.3 1660.8h46.9v2.1h-46.9z" fill="#ffbe00"/>
<path d="M748.3 1662.7h46.9v2.1h-46.9z" fill="#ff9a00"/>
<path d="M748.3 1664.5h46.9v2.1h-46.9z" fill="#ffac00"/>
<path d="M748.3 1672h46.9v3.1h-46.9z" fill="#fae600"/>
<path d="M748.3 1674.9h46.9v2.4h-46.9zM748.3 1798.7h46.9v2.1h-46.9zM748.3 1802.4h46.9v2.1h-46.9z" fill="#ff7e00"/>
<path d="M748.3 1677.1h46.9v2.4h-46.9zM748.3 2150.4h46.9v2.1h-46.9z" fill="#ff7600"/>
<path d="M748.3 1679.2h46.9v2.4h-46.9z" fill="#ff7d00"/>
<path d="M748.3 1681.4h46.9v2.1h-46.9z" fill="#1491f6"/>
<path d="M748.3 1683.3h46.9v2.1h-46.9z" fill="#148bf5"/>
<path d="M748.3 1688.9h46.9v2.1h-46.9zM748.3 1971.2h46.9v2.1h-46.9zM748.3 2322h46.9v2.1h-46.9z" fill="#ff7200"/>
<path d="M748.3 1694.6h46.9v2.1h-46.9zM748.3 2252.6h46.9v1.9h-46.9zM748.3 2357.7h46.9v2.1h-46.9z" fill="#ff8600"/>
<path d="M748.3 1696.4h46.9v2.1h-46.9zM748.3 1800.5h46.9v2.1h-46.9z" fill="#ff9700"/>
<path d="M748.3 1721.8h46.9v3.1h-46.9zM748.3 1815.6h46.9v2.1h-46.9z" fill="#c7fd00"/>
<path d="M748.3 1724.6h46.9v2.1h-46.9zM748.3 1890.1h46.9v2.6h-46.9z" fill="#ff9300"/>
<path d="M748.3 1726.4h46.9v2.6h-46.9zM748.3 1789.3h46.9v2.1h-46.9zM748.3 1910.1h46.9v2.2h-46.9zM748.3 2115.1h46.9v2.3h-46.9zM748.3 2314.5h46.9v2.1h-46.9zM748.3 2327.7h46.9v2.1h-46.9zM748.3 2338h46.9v2.1h-46.9z" fill="#ff5b00"/>
<path d="M748.3 1731.1h46.9v3.1h-46.9z" fill="#dbf400"/>
<path d="M748.3 1740.5h46.9v3.1h-46.9z" fill="#983cfa"/>
<path d="M748.3 1743.3h46.9v2.1h-46.9zM748.3 1977.3h46.9v2.7h-46.9z" fill="#ff7700"/>
<path d="M748.3 1764.9h46.9v3.1h-46.9z" fill="#edec00"/>
<path d="M748.3 1776.2h46.9v2.1h-46.9z" fill="#abfe03"/>
<path d="M748.3 1778h46.9v2.1h-46.9z" fill="#b5fe02"/>
<path d="M748.3 1785.5h46.9v2.1h-46.9z" fill="#ffdb00"/>
<path d="M748.3 1787.4h46.9v2.1h-46.9z" fill="#f6e800"/>
<path d="M748.3 1793h46.9v2.1h-46.9zM748.3 2355.8h46.9v2.1h-46.9z" fill="#ff8f00"/>
<path d="M748.3 1796.8h46.9v2.1h-46.9zM748.3 1832.4h46.9v2.1h-46.9zM748.3 2198.9h46.9v2.3h-46.9zM748.3 2290.1h46.9v2.1h-46.9z" fill="#ff8400"/>
<path d="M748.3 1804.3h46.9v2.1h-46.9z" fill="#ffc200"/>
<path d="M748.3 1808h46.9v2.1h-46.9z" fill="#ffb400"/>
<path d="M748.3 1813.7h46.9v2.1h-46.9zM748.3 1934.7h46.9v2.1h-46.9zM748.3 2077.5h46.9v2.4h-46.9zM748.3 2127.2h46.9v2.3h-46.9zM748.3 2269.5h46.9v2.1h-46.9z" fill="#ff4800"/>
<path d="M748.3 1817.4h46.9v2.1h-46.9z" fill="#a9fd03"/>
<path d="M748.3 1819.3h46.9v2.1h-46.9zM748.3 1850.3h46.9v2.1h-46.9zM748.3 2001.3h46.9v2.1h-46.9z" fill="#ff3f00"/>
<path d="M748.3 1823.1h46.9v2.1h-46.9zM748.3 2038.8h46.9v2.1h-46.9zM748.3 2042.5h46.9v2.1h-46.9zM748.3 2093.9h46.9v2.4h-46.9z" fill="#ff3c00"/>
<path d="M748.3 1824.9h46.9v2.1h-46.9zM748.3 1846.5h46.9v2.1h-46.9zM748.3 2036.9h46.9v2.1h-46.9zM748.3 2089.7h46.9v2.4h-46.9zM748.3 2182.4h46.9v2.1h-46.9zM748.3 2232.2h46.9v2.2h-46.9zM748.3 2242.2h46.9v2.2h-46.9z" fill="#ff3d00"/>
<path d="M748.3 1830.6h46.9v2.1h-46.9zM748.3 2023h46.9v2.2h-46.9zM748.3 2236.2h46.9v2.2h-46.9zM748.3 2305h46.9v2.2h-46.9zM748.3 2361.4h46.9v2.1h-46.9zM748.3 2376.4h46.9v2.1h-46.9z" fill="#ff4700"/>
<path d="M748.3 1834.3h46.9v2.1h-46.9zM748.3 1968.9h46.9v2.6h-46.9z" fill="#ff9400"/>
<path d="M748.3 1842.8h46.9v2.1h-46.9zM748.3 2050h46.9v2.1h-46.9zM748.3 2172.7h46.9v2.3h-46.9zM748.3 2271.4h46.9v2.1h-46.9z" fill="#ff3900"/>
<path d="M748.3 1855.9h46.9v2.1h-46.9z" fill="#ffe100"/>
<path d="M748.3 1864.3h46.9v2.1h-46.9zM748.3 2021h46.9v2.2h-46.9zM748.3 2248.5h46.9v2.3h-46.9zM748.3 2363.3h46.9v2.1h-46.9z" fill="#ff5400"/>
<path d="M748.3 1868.1h46.9v3.1h-46.9z" fill="#3ef710"/>
<path d="M748.3 1870.9h46.9v3.1h-46.9z" fill="#f1ea00"/>
<path d="M748.3 1892.5h46.9v2.6h-46.9zM748.3 2194.9h46.9v2.3h-46.9z" fill="#ff6e00"/>
<path d="M748.3 1897.2h46.9v3.1h-46.9z" fill="#ffbc00"/>
<path d="M748.3 1901.8h46.9v2.7h-46.9z" fill="#33f611"/>
<path d="M748.3 1914h46.9v3.1h-46.9z" fill="#ffc600"/>
<path d="M748.3 1942.2h46.9v2.1h-46.9zM748.3 2288.3h46.9v2.1h-46.9z" fill="#ff9800"/>
<path d="M748.3 1956.7h46.9v2.6h-46.9zM748.3 1998.9h46.9v2.6h-46.9zM748.3 2209.6h46.9v2.3h-46.9z" fill="#ff6200"/>
<path d="M748.3 1975h46.9v2.5h-46.9z" fill="#e7ef00"/>
<path d="M748.3 1979.7h46.9v2.1h-46.9z" fill="#ffa200"/>
<path d="M748.3 1981.6h46.9v2.1h-46.9z" fill="#ff9600"/>
<path d="M748.3 2013.5h46.9v3.1h-46.9z" fill="#ffd300"/>
<path d="M748.3 2016.3h46.9v2.1h-46.9z" fill="#ff6c00"/>
<path d="M748.3 2018.1h46.9v3.1h-46.9z" fill="#ffcb00"/>
<path d="M748.3 2046.3h46.9v2.1h-46.9zM748.3 2370.8h46.9v2.1h-46.9z" fill="#ff4600"/>
<path d="M748.3 2063.2h46.9v2.1h-46.9zM748.3 2129.2h46.9v2.3h-46.9zM748.3 2316.4h46.9v2.1h-46.9zM748.3 2352h46.9v2.1h-46.9z" fill="#ff6900"/>
<path d="M748.3 2072.5h46.9v3.1h-46.9zM748.3 2174.8h46.9v2.5h-46.9z" fill="#ffab00"/>
<path d="M748.3 2091.8h46.9v2.4h-46.9zM748.3 2164.3h46.9v2.3h-46.9z" fill="#ff4400"/>
<path d="M748.3 2096h46.9v2.1h-46.9z" fill="#ffb900"/>
<path d="M748.3 2099.7h46.9v2.1h-46.9z" fill="#ff9b00"/>
<path d="M748.3 2101.6h46.9v2.1h-46.9z" fill="#ffa800"/>
<path d="M748.3 2103.5h46.9v2.1h-46.9zM748.3 2157.9h46.9v2.5h-46.9z" fill="#ffc000"/>
<path d="M748.3 2105.4h46.9v2.1h-46.9z" fill="#ffb300"/>
<path d="M748.3 2107.2h46.9v2.1h-46.9z" fill="#ffc100"/>
<path d="M748.3 2109.1h46.9v2.1h-46.9z" fill="#ffb600"/>
<path d="M748.3 2112.9h46.9v2.5h-46.9z" fill="#ffe200"/>
<path d="M748.3 2186h46.9v3.1h-46.9z" fill="#eeec00"/>
<path d="M748.3 2192.9h46.9v2.3h-46.9z" fill="#ff9e00"/>
<path d="M748.3 2219.8h46.9v2.4h-46.9zM748.3 2226.1h46.9v2.4h-46.9z" fill="#ffbd00"/>
<path d="M748.3 2224h46.9v2.4h-46.9z" fill="#ffc300"/>
<path d="M748.3 2247h46.9v1.8h-46.9z" fill="#affe02"/>
<path d="M748.3 2292h46.9v1.9h-46.9z" fill="#4ff80e"/>
<path d="M748.3 2293.7h46.9v1.9h-46.9z" fill="#1cf51d"/>
<path d="M748.3 2347.4h46.9v3.1h-46.9z" fill="#d5f700"/>
<path d="M554.2 1295.7V2380.2M602.8 1295.7V2380.2M651.6 1295.7V2380.2M699.9 1295.7V2380.2M748.3 1295.7V2380.2" stroke="#ffffff" stroke-opacity="0.22" stroke-width="0.8"/>
<rect x="506.05" y="1293.45" width="291.0" height="1088.8" fill="none" stroke="#000" stroke-width="4.3"/>
<text transform="translate(538.3 1281) rotate(-90)" font-size="24" font-weight="bold" textLength="150" lengthAdjust="spacingAndGlyphs">Control_Rep1</text>
<text transform="translate(586.1 1281) rotate(-90)" font-size="24" font-weight="bold" textLength="150" lengthAdjust="spacingAndGlyphs">Control_Rep2</text>
<text transform="translate(634 1281) rotate(-90)" font-size="24" font-weight="bold" textLength="150" lengthAdjust="spacingAndGlyphs">Control_Rep3</text>
<text transform="translate(681.8 1281) rotate(-90)" font-size="24" font-weight="bold" textLength="214" lengthAdjust="spacingAndGlyphs">resR/mcdR(-)_Rep1</text>
<text transform="translate(729.7 1281) rotate(-90)" font-size="24" font-weight="bold" textLength="214" lengthAdjust="spacingAndGlyphs">resR/mcdR(-)_Rep2</text>
<text transform="translate(777.5 1281) rotate(-90)" font-size="24" font-weight="bold" textLength="214" lengthAdjust="spacingAndGlyphs">resR/mcdR(-)_Rep3</text>
<linearGradient id="cbe" x1="0" x2="1" y1="0" y2="0">
<stop offset="0" stop-color="#ff2a00"/>
<stop offset="0.09" stop-color="#ff8a00"/>
<stop offset="0.2" stop-color="#ffff00"/>
<stop offset="0.27" stop-color="#b4ff00"/>
<stop offset="0.38" stop-color="#00ee00"/>
<stop offset="0.5" stop-color="#00ff90"/>
<stop offset="0.6" stop-color="#00ffff"/>
<stop offset="0.7" stop-color="#0090ff"/>
<stop offset="0.8" stop-color="#0028ff"/>
<stop offset="0.9" stop-color="#8a40ff"/>
<stop offset="1" stop-color="#f048f8"/>
</linearGradient>
<rect x="505.5" y="2419" width="292.3" height="34.8" fill="url(#cbe)" stroke="#000" stroke-width="3"/>
<path d="M603.2 2420v4.5M603.2 2452.8v-4.5M700 2420v4.5M700 2452.8v-4.5" stroke="#000" stroke-width="2" fill="none"/>
<text x="603.2" y="2488.7" font-size="24" text-anchor="middle">10000</text>
<text x="700" y="2488.7" font-size="24" text-anchor="middle">20000</text>
<text x="797.9" y="2488.7" font-size="24" text-anchor="middle">30000</text>
<text x="489.4" y="2541" font-size="27" font-weight="bold" textLength="319.6" lengthAdjust="spacingAndGlyphs">(Normalized read counts)</text>
</svg></body></html>
